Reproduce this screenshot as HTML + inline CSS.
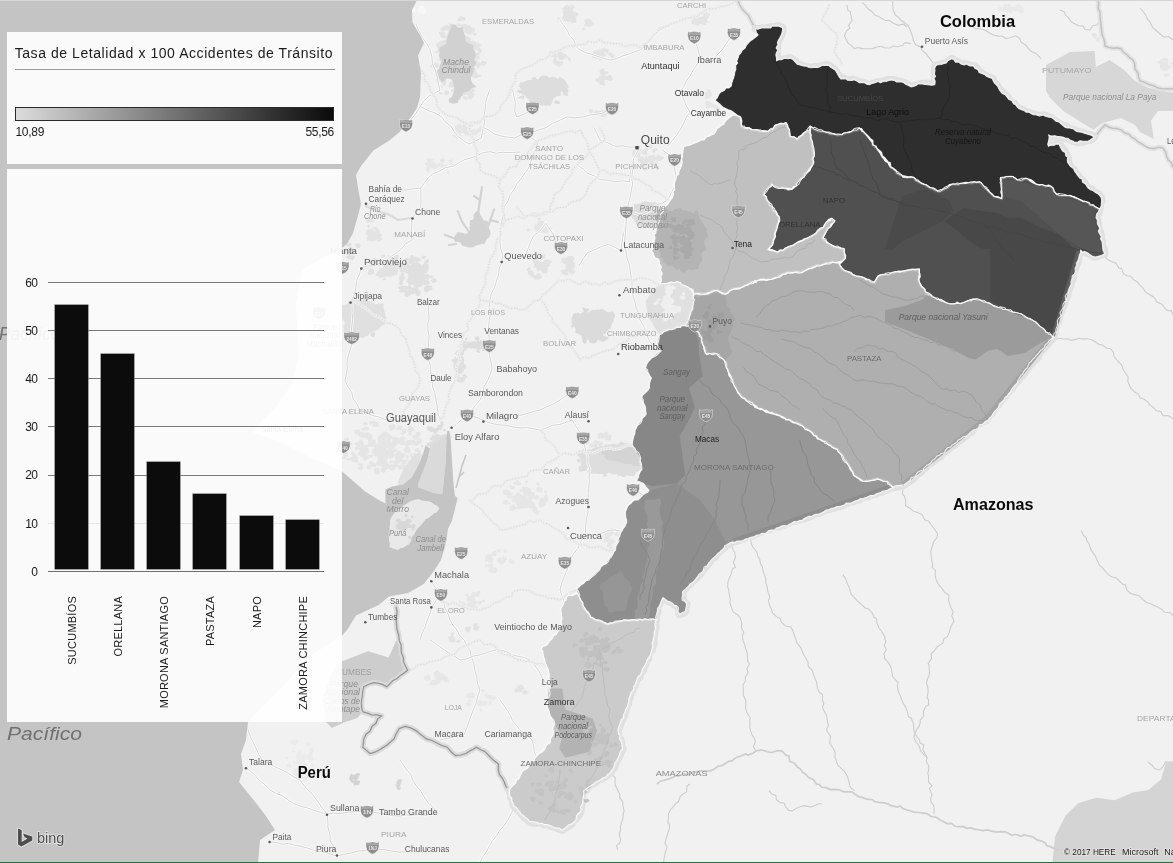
<!DOCTYPE html>
<html><head><meta charset="utf-8"><title>Mapa</title>
<style>
html,body{margin:0;padding:0;}
body{width:1173px;height:863px;overflow:hidden;position:relative;background:#c4c4c4;font-family:"Liberation Sans",sans-serif;}
.panel{position:absolute;background:rgba(255,255,255,0.915);}
.ttl{position:absolute;left:14.7px;top:44.8px;font-size:14px;letter-spacing:0.56px;color:#1c1c1c;white-space:nowrap;line-height:16px;}
.hr{position:absolute;left:15px;top:69px;width:319.5px;height:1px;background:#9a9a9a;}
.grad{position:absolute;left:15px;top:107px;width:317px;height:11.5px;border:1px solid #2a2a2a;background:linear-gradient(90deg,#dcdcdc 0%,#0a0a0a 100%);}
.lg{position:absolute;top:125px;font-size:12px;letter-spacing:-0.3px;color:#1a1a1a;line-height:14px;white-space:nowrap;}
.gl{position:absolute;left:47.9px;width:276.6px;height:1px;}
.yl{position:absolute;left:7.5px;width:30px;text-align:right;font-size:12px;letter-spacing:-0.5px;line-height:14px;color:#1a1a1a;}
.bar{position:absolute;width:33.6px;background:#0c0c0c;box-shadow:0 0 0 0.6px #6a6a6a;}
.cl{position:absolute;top:595.5px;font-size:11px;letter-spacing:0.23px;line-height:12px;color:#1a1a1a;white-space:nowrap;transform-origin:0 0;transform:rotate(-90deg) translate(-100%,-50%);}
#all{position:absolute;left:0;top:0;width:1173px;height:863px;filter:grayscale(1);}
</style></head><body>
<div id="all">
<svg font-family="Liberation Sans, sans-serif" width="1173" height="863" viewBox="0 0 1173 863" style="position:absolute;left:0;top:0">
<rect width="1173" height="863" fill="#f1f1f1"/>
<g id="terrain"><path d="M568.9,7.0 L567.8,7.9 L566.5,7.5 L564.8,6.7 L566.2,5.6 L567.7,5.5 L568.8,5.7 Z M578.5,14.0 L576.5,16.7 L572.5,16.5 L571.9,13.1 L574.0,11.7 L575.8,11.7 Z M569.8,13.4 L565.8,13.1 L564.3,8.5 L570.1,6.3 L572.7,10.5 Z M569.6,19.8 L564.9,21.6 L561.8,19.2 L562.7,16.2 L567.3,16.3 Z M571.5,4.6 L572.9,5.7 L574.6,5.9 L574.5,7.4 L573.2,8.9 L571.3,9.0 L571.3,7.3 L570.5,6.1 Z M566.9,14.5 L565.3,15.9 L563.2,14.5 L562.4,11.0 L566.1,12.4 Z M566.3,13.4 L568.4,10.6 L572.3,12.1 L571.4,15.2 L571.6,18.7 L567.5,18.1 L562.9,16.3 Z M559.9,18.6 L558.8,19.4 L557.0,19.3 L557.3,18.0 L558.6,17.3 Z M574.5,18.3 L576.7,19.1 L575.4,20.9 L574.0,21.4 L572.5,20.4 L571.5,19.2 L572.8,17.8 Z M568.5,22.3 L566.2,21.3 L567.8,19.5 L570.0,18.9 L569.8,21.0 Z M572.1,23.3 L569.8,21.0 L565.8,19.9 L568.6,16.9 L570.9,16.0 L574.0,16.6 L576.3,18.7 L576.4,21.9 Z M570.7,10.6 L566.3,11.1 L561.6,8.9 L565.4,5.7 L570.4,5.9 Z M570.3,8.4 L572.1,10.0 L572.5,12.1 L570.3,12.7 L568.1,10.5 Z M570.9,17.7 L567.5,16.2 L567.0,12.6 L569.0,10.7 L572.7,8.4 L573.5,12.4 L572.6,14.9 Z M568.7,10.0 L571.5,14.5 L567.8,18.7 L563.1,17.4 L562.9,13.6 L563.9,8.5 Z" fill="#e2e2e2"/>
<path d="M585.3,23.1 L588.5,19.7 L594.5,23.0 L590.7,26.8 L586.1,26.3 Z M591.6,20.0 L590.2,22.9 L588.0,24.0 L585.4,23.8 L584.0,20.2 L587.7,18.0 Z M592.6,24.9 L589.4,25.5 L587.7,27.3 L584.1,26.0 L584.4,23.5 L587.5,22.4 L588.9,21.8 L591.1,22.2 Z M583.8,29.9 L581.8,29.2 L582.6,27.7 L584.2,27.8 L585.9,29.0 Z" fill="#e4e4e4"/>
<path d="M555.2,57.8 L553.7,56.9 L554.0,55.2 L555.9,53.7 L556.9,56.0 L556.8,57.3 Z M562.7,64.8 L559.1,66.8 L555.6,65.5 L555.5,62.9 L556.9,60.9 L558.8,61.3 L563.1,61.7 Z M561.5,52.3 L563.8,55.6 L563.4,58.6 L560.0,58.2 L555.4,57.1 L558.0,53.2 Z M558.4,56.7 L559.6,52.3 L564.0,54.0 L568.8,56.7 L563.5,59.3 L559.4,60.6 Z M556.9,61.1 L554.2,61.5 L553.2,59.6 L554.5,57.1 L556.5,58.8 Z M550.7,51.1 L554.2,50.6 L556.7,53.2 L554.5,56.3 L551.2,57.3 L548.0,55.1 L549.0,52.5 Z M555.5,59.9 L559.1,60.9 L556.1,62.8 L554.7,64.7 L553.0,63.0 L552.6,61.2 L553.3,58.9 Z M561.7,55.7 L558.6,56.5 L557.3,54.0 L558.9,52.5 L560.8,52.9 Z M562.7,52.5 L561.5,55.5 L558.0,56.4 L557.1,53.1 L559.5,50.8 Z M566.2,56.4 L564.4,58.1 L562.5,59.9 L560.3,58.5 L558.6,55.9 L561.8,54.6 L563.8,55.4 Z M561.3,59.7 L559.8,57.3 L556.2,54.6 L560.3,52.7 L563.6,53.7 L566.6,54.2 L566.2,57.4 L563.5,58.5 Z M569.7,60.9 L568.2,60.3 L567.2,58.6 L568.8,57.3 L570.4,58.0 L570.5,58.9 L570.9,60.2 Z" fill="#e3e3e3"/>
<path d="M592.9,54.3 L595.4,53.3 L597.7,51.9 L601.0,52.9 L600.6,55.9 L599.0,58.3 L595.6,58.7 L593.6,56.5 Z M598.5,51.4 L600.8,52.6 L603.1,55.1 L600.4,57.6 L597.5,55.9 L596.9,54.0 Z M608.0,53.9 L605.4,52.8 L604.5,51.1 L605.0,49.1 L606.7,49.0 L609.1,49.0 L608.5,51.1 Z M608.2,52.5 L610.2,51.8 L611.3,53.2 L612.9,53.8 L612.1,55.2 L610.9,56.4 L609.3,55.8 L608.3,54.3 Z M598.5,53.8 L597.5,51.4 L597.9,49.3 L600.3,49.4 L603.7,50.3 L601.0,52.7 Z M599.7,58.2 L597.7,56.4 L598.4,54.6 L599.7,52.1 L602.0,53.3 L606.9,54.6 L603.7,57.4 L602.0,60.1 Z M597.8,56.9 L597.1,51.8 L603.7,51.9 L605.5,55.6 L603.9,58.6 L599.7,61.0 Z M611.5,58.9 L610.7,57.0 L610.0,55.5 L611.4,54.0 L613.7,53.9 L615.7,55.5 L613.6,57.1 L613.4,58.3 Z M595.6,55.9 L595.7,57.5 L594.4,57.9 L592.5,58.7 L592.0,56.9 L592.8,55.8 L594.2,54.8 Z M602.3,52.0 L602.0,50.4 L600.4,48.8 L602.7,48.6 L604.4,47.3 L605.9,48.8 L605.2,50.3 L604.5,52.0 Z M599.9,51.3 L598.5,55.4 L594.3,57.4 L592.0,53.6 L594.4,50.4 Z" fill="#e3e3e3"/>
<path d="M598.0,77.8 L599.0,80.0 L600.5,82.4 L597.2,82.3 L596.2,81.3 L596.1,79.9 Z M607.8,80.1 L605.2,80.0 L603.6,76.7 L607.6,75.8 L609.9,74.2 L611.7,76.2 L613.1,79.4 L610.4,81.6 Z M606.4,73.9 L604.3,74.2 L603.3,72.5 L605.2,71.5 L606.9,71.2 L609.6,72.7 Z M598.5,76.4 L602.0,75.6 L605.0,74.4 L606.9,77.1 L605.5,79.1 L604.4,80.4 L602.3,80.4 L598.8,79.9 Z M605.3,85.8 L601.7,85.0 L599.7,84.6 L599.5,83.2 L599.8,81.6 L601.7,80.6 L604.3,80.9 L604.5,83.3 Z M603.3,71.0 L604.3,73.3 L601.3,72.5 L598.9,70.6 L602.1,68.9 Z M598.9,81.1 L599.1,80.1 L600.5,80.2 L601.4,80.8 L601.0,81.8 L600.3,82.5 L598.9,82.5 Z M599.7,71.9 L602.3,71.2 L604.7,70.9 L606.3,72.5 L605.1,74.7 L602.7,75.8 L600.7,74.3 Z M600.1,77.2 L600.0,76.3 L601.3,75.8 L602.0,76.5 L602.5,77.5 L602.3,78.5 L601.0,78.4 L598.8,78.7 Z M603.3,71.9 L601.3,71.5 L601.2,69.9 L601.9,68.5 L603.3,68.4 L604.6,69.3 L604.0,70.4 Z M597.9,77.7 L598.4,79.8 L598.0,81.7 L595.5,81.3 L595.3,79.1 Z" fill="#e2e2e2"/>
<path d="M589.8,113.4 L589.2,111.5 L589.3,109.4 L592.3,109.1 L593.3,110.9 L593.1,112.3 L592.0,113.2 Z M609.0,112.4 L605.4,115.8 L603.2,117.2 L599.9,115.4 L598.8,113.5 L599.4,111.1 L602.0,110.3 L606.3,109.5 Z M597.3,111.0 L599.9,112.2 L598.3,114.7 L596.2,115.7 L594.9,114.0 L593.6,112.5 L594.9,110.5 Z M595.7,110.9 L597.6,110.1 L599.0,110.9 L599.8,112.6 L599.9,114.9 L597.3,114.6 L595.2,114.1 L594.9,112.4 Z" fill="#e3e3e3"/>
<path d="M536.2,93.4 L538.7,93.1 L539.8,94.5 L538.8,95.9 L537.8,96.1 L536.3,96.1 L536.1,94.9 Z M544.6,98.8 L541.0,100.4 L539.3,97.0 L539.9,92.4 L545.2,94.3 Z M536.4,78.2 L535.7,79.4 L534.0,79.7 L533.1,79.3 L531.0,78.3 L533.3,77.5 L533.9,76.7 L535.0,77.0 Z M555.6,85.6 L555.4,87.0 L555.6,88.6 L553.9,87.8 L552.1,87.9 L551.9,86.6 L553.1,86.0 L554.2,85.3 Z M560.3,90.4 L558.2,89.9 L557.4,87.9 L559.5,86.1 L562.0,86.7 L562.6,88.4 L563.0,90.7 Z M540.2,94.0 L542.5,92.2 L546.3,93.2 L544.4,96.9 L540.5,99.2 Z M532.6,81.8 L532.9,84.2 L529.6,84.5 L529.5,82.2 L531.0,81.0 Z M547.9,87.0 L551.4,86.5 L553.1,89.9 L550.5,92.3 L547.1,90.8 Z M556.6,85.3 L560.5,84.1 L560.8,87.7 L557.9,88.6 L554.9,88.0 Z M561.0,90.3 L559.1,89.2 L559.5,86.9 L561.6,85.9 L563.9,87.5 L563.6,89.4 Z M538.7,90.5 L537.6,92.1 L536.6,90.3 L534.0,88.7 L536.7,87.9 L538.2,88.3 L539.0,89.1 Z M551.6,102.3 L549.9,105.0 L547.7,103.4 L546.7,101.5 L549.4,100.5 Z M549.2,92.9 L543.3,95.4 L540.1,91.4 L541.3,86.9 L547.5,87.2 Z M559.1,100.9 L560.2,103.9 L556.5,104.1 L553.9,102.4 L556.1,100.2 Z M540.0,95.0 L538.3,98.5 L534.8,97.9 L533.2,94.1 L534.2,92.2 L536.2,88.2 L539.0,91.3 L541.2,93.1 Z M537.4,101.0 L539.8,101.2 L541.5,102.6 L539.8,103.9 L538.9,104.9 L537.1,104.4 L535.9,102.7 Z M557.1,94.6 L558.6,92.8 L560.6,93.4 L561.0,95.0 L560.4,96.4 L558.3,96.1 Z M552.6,94.1 L548.9,95.9 L546.8,93.4 L547.9,90.8 L551.7,90.2 Z M550.8,98.2 L553.1,99.3 L553.1,101.1 L550.9,101.7 L549.3,101.0 L548.0,99.1 Z M536.5,88.1 L541.6,88.9 L544.7,89.6 L549.8,92.4 L544.0,95.1 L540.4,94.9 L538.6,92.3 Z M551.5,87.9 L553.0,86.4 L554.3,85.2 L556.1,86.5 L556.8,88.1 L555.9,89.6 L554.0,90.9 L552.9,88.9 Z M526.7,88.5 L528.6,87.1 L532.0,87.7 L530.7,90.7 L527.6,90.6 Z M568.2,90.7 L567.6,93.6 L568.0,96.3 L565.0,95.4 L562.9,94.6 L563.3,92.5 L564.8,89.7 Z M523.1,92.0 L521.4,93.2 L519.3,93.1 L517.9,90.0 L521.8,90.0 Z M550.5,84.4 L554.0,85.5 L554.3,90.2 L549.7,89.4 L548.7,86.7 Z M521.5,92.4 L523.3,90.6 L525.1,90.1 L526.7,91.5 L527.4,92.8 L526.0,93.9 L524.5,95.1 L523.0,94.1 Z M555.2,85.4 L555.7,83.6 L556.7,81.7 L559.0,82.6 L560.8,85.3 L557.7,87.2 Z M542.8,105.0 L539.4,102.8 L540.6,98.9 L547.2,99.3 L547.2,104.0 Z M537.9,104.8 L536.9,106.0 L535.3,106.0 L535.0,104.9 L533.7,103.8 L535.0,103.0 L536.5,102.9 L537.3,103.5 Z M550.7,96.6 L549.8,100.5 L546.7,101.5 L543.0,102.0 L542.7,98.5 L545.2,95.0 Z M529.4,97.8 L527.0,95.1 L530.8,94.3 L532.3,95.8 L533.8,97.5 L532.5,99.0 L530.2,99.5 Z M528.3,94.8 L525.3,95.3 L523.5,94.9 L520.7,92.9 L523.1,91.2 L524.7,89.1 L526.4,91.3 L527.4,92.5 Z M523.8,88.5 L521.6,89.1 L520.0,87.3 L519.8,85.0 L522.8,84.0 L526.7,84.0 L526.3,87.4 Z M564.6,87.3 L564.0,89.0 L561.7,88.7 L559.9,87.8 L559.4,85.9 L560.2,83.9 L563.1,84.6 L566.7,85.2 Z M541.3,92.2 L540.0,94.1 L537.8,93.7 L536.1,92.3 L537.4,90.9 L539.5,90.7 Z M546.7,103.5 L545.5,103.9 L544.1,102.8 L544.9,101.7 L546.3,100.8 L547.1,102.3 Z M549.0,86.8 L544.9,88.2 L542.3,86.4 L540.7,84.7 L540.8,81.4 L545.3,81.3 L546.8,83.8 Z M543.3,92.5 L542.6,89.5 L546.8,87.9 L548.0,91.2 L550.4,95.9 L544.8,94.4 Z M547.7,80.4 L549.4,80.5 L549.7,82.3 L548.2,82.7 L546.1,82.0 Z M541.4,90.2 L543.6,90.2 L542.9,91.8 L543.0,93.0 L541.8,93.6 L540.0,93.7 L539.0,92.2 L539.1,90.5 Z M544.2,82.4 L541.5,81.9 L540.2,81.3 L538.2,79.9 L540.7,79.1 L541.8,78.6 L543.5,79.1 L544.9,80.5 Z M517.2,90.8 L518.6,89.7 L520.2,90.6 L519.6,92.2 L518.6,92.5 L517.7,92.0 Z M562.8,89.6 L563.9,89.2 L566.0,88.5 L565.9,90.9 L565.8,92.9 L562.8,92.8 L561.9,91.1 Z M543.1,96.0 L540.0,95.2 L537.9,93.6 L540.1,91.7 L541.7,90.8 L543.9,90.8 L544.9,92.0 L544.1,93.7 Z M566.4,87.5 L565.4,89.2 L563.4,88.4 L561.7,87.9 L561.8,85.8 L562.4,83.8 L565.7,83.3 L567.7,85.2 Z M542.7,94.3 L537.4,91.3 L539.4,87.3 L543.7,86.4 L546.5,90.3 Z M561.6,85.6 L561.5,88.5 L558.3,88.9 L556.2,90.2 L554.4,87.8 L554.7,85.8 L556.6,85.2 L558.5,84.9 Z M523.0,98.9 L521.1,98.3 L518.1,98.3 L519.7,96.6 L521.1,96.0 L523.4,95.3 L524.6,97.2 Z M537.7,95.3 L531.8,96.5 L529.4,92.4 L532.9,88.4 L536.1,88.9 L543.0,88.6 L539.7,92.9 Z M551.7,92.6 L554.7,92.9 L557.6,95.9 L553.5,98.3 L550.9,99.2 L547.7,98.3 L546.9,95.0 L548.8,92.9 Z M535.2,102.1 L531.1,103.3 L529.7,100.2 L529.3,97.4 L532.6,96.7 L534.6,98.5 Z M537.1,103.7 L537.2,102.7 L536.4,101.1 L538.7,101.3 L539.3,102.3 L539.7,103.1 L540.0,104.8 L537.7,104.8 Z M546.4,86.7 L549.4,83.1 L552.8,84.3 L554.8,87.5 L550.5,90.8 Z M531.3,81.1 L532.7,79.5 L534.3,78.2 L535.7,79.9 L537.2,81.5 L537.1,84.2 L533.3,85.6 L532.0,83.1 Z M538.2,104.2 L542.2,102.2 L545.4,101.6 L544.2,104.7 L542.3,105.7 Z M544.9,92.0 L542.6,88.7 L546.5,85.7 L549.3,87.9 L553.5,90.4 L548.9,92.4 Z M543.3,93.3 L540.8,94.5 L540.8,91.8 L542.2,90.3 L543.3,91.8 Z M552.8,91.3 L553.2,88.2 L555.9,86.9 L559.2,86.9 L558.7,89.6 L557.2,91.9 Z M534.9,91.3 L535.2,94.6 L533.0,96.5 L529.4,96.9 L529.1,93.4 L527.1,90.2 L530.1,88.0 L534.0,88.9 Z M566.4,87.7 L568.7,90.4 L566.8,93.7 L563.0,92.8 L561.7,88.8 Z M536.9,97.4 L534.3,98.7 L532.3,97.4 L531.7,95.8 L533.9,94.9 L536.9,95.1 Z M536.4,78.8 L538.2,80.4 L538.7,83.0 L535.6,82.9 L532.0,82.1 L532.3,78.9 Z M550.8,79.9 L550.6,78.2 L552.6,78.7 L554.9,80.5 L551.7,81.7 Z M551.8,103.5 L550.6,105.2 L548.4,105.8 L546.9,103.7 L547.2,102.2 L548.8,100.1 L550.8,101.3 Z M536.9,88.3 L533.8,88.9 L530.1,86.6 L534.6,85.1 L538.5,85.2 Z M533.5,97.8 L533.0,96.0 L535.5,95.7 L536.4,97.3 L535.3,99.5 Z M557.2,94.2 L555.4,94.2 L554.2,94.3 L553.3,93.6 L553.3,92.5 L554.0,91.0 L555.5,91.9 L557.8,92.5 Z" fill="#dcdcdc"/>
<path d="M471.6,27.4 L474.8,28.2 L474.5,30.8 L473.1,32.1 L471.1,31.8 L469.3,30.9 L469.5,28.5 Z M473.8,46.6 L471.8,45.8 L470.8,42.9 L472.7,40.6 L475.5,41.3 L476.3,42.9 L477.9,44.9 L476.3,47.8 Z M463.4,84.0 L464.5,85.9 L464.2,87.4 L462.3,89.1 L460.1,87.3 L460.9,85.1 Z M460.1,69.2 L457.9,71.2 L455.7,70.4 L452.9,68.8 L454.3,65.8 L457.2,64.2 L461.7,66.0 Z M465.3,56.9 L462.3,60.3 L458.8,60.1 L453.9,60.0 L455.4,56.5 L456.5,53.6 L460.4,54.7 Z M450.3,73.6 L448.0,72.3 L445.1,70.6 L448.3,69.4 L450.9,68.6 L452.3,71.1 Z M444.2,65.1 L442.6,61.1 L439.2,57.3 L445.4,55.8 L447.7,58.9 L447.0,62.3 Z M436.4,46.6 L436.3,43.6 L440.3,41.6 L442.3,45.4 L443.1,48.7 L438.6,48.6 Z M470.1,99.6 L467.5,96.8 L467.9,92.9 L473.1,93.7 L473.5,97.5 Z M456.6,30.7 L458.5,31.5 L458.6,33.6 L456.5,33.9 L454.9,32.4 Z M476.8,48.2 L476.5,50.1 L474.4,49.5 L473.1,48.5 L472.8,46.8 L474.8,46.4 L477.1,46.6 Z M469.1,46.0 L467.5,43.0 L468.5,41.1 L471.7,40.8 L473.1,43.8 Z M437.3,80.5 L435.9,79.3 L437.0,78.4 L438.2,78.0 L439.8,78.7 L438.8,79.9 Z M441.6,83.0 L441.6,81.3 L441.2,79.5 L443.7,79.3 L445.8,79.8 L446.9,81.8 L445.5,83.4 L443.2,83.9 Z M465.3,23.5 L467.2,24.7 L468.5,26.2 L468.9,28.9 L465.5,28.8 L462.3,29.0 L462.5,26.5 L462.6,23.9 Z M477.4,77.1 L477.5,75.6 L477.5,74.0 L479.4,74.6 L481.1,74.7 L481.7,76.1 L480.2,76.9 L479.0,77.1 Z M460.6,97.4 L460.0,99.4 L457.8,98.4 L457.0,97.5 L457.4,95.9 L459.3,95.9 Z M454.9,89.9 L453.8,91.1 L453.1,92.0 L451.5,92.0 L451.2,90.9 L451.4,90.0 L451.9,88.9 L453.5,88.8 Z M450.1,25.1 L451.2,25.2 L452.0,26.3 L451.2,27.4 L450.6,28.7 L448.5,28.2 L448.3,26.7 L448.7,25.1 Z M451.3,48.4 L448.1,49.2 L444.7,49.1 L443.9,45.9 L447.2,43.6 L452.3,44.9 Z M463.3,63.4 L468.0,63.6 L468.0,67.0 L465.1,69.3 L463.2,66.5 Z M468.5,43.4 L469.6,45.0 L468.0,46.4 L466.3,46.4 L465.6,45.6 L463.3,44.2 L465.9,43.1 L467.1,42.6 Z M453.7,44.4 L450.6,44.2 L452.7,42.1 L454.7,41.2 L454.8,43.3 Z M459.5,49.3 L462.6,47.9 L465.5,48.3 L464.4,50.7 L461.8,52.0 Z M455.5,96.7 L454.3,95.3 L455.0,94.0 L456.4,93.5 L458.4,94.5 L457.5,96.3 Z M465.7,66.9 L468.0,68.2 L468.3,70.6 L465.6,71.7 L464.2,69.2 Z M461.4,89.1 L465.6,90.8 L464.6,93.9 L462.3,96.5 L459.2,95.2 L457.5,94.7 L456.9,91.8 L457.6,89.2 Z M481.4,50.1 L478.4,51.1 L475.0,49.9 L477.1,47.0 L479.9,48.2 Z M460.0,61.8 L457.3,66.3 L450.9,65.3 L451.2,59.6 L456.9,57.4 Z M456.0,89.6 L457.4,88.3 L458.8,87.8 L460.3,88.2 L460.8,89.7 L460.2,91.5 L457.5,91.1 Z M453.2,81.1 L455.8,81.7 L458.1,82.4 L458.6,85.1 L456.6,86.6 L454.1,87.0 L452.1,86.2 L450.6,83.7 Z M460.0,23.6 L462.2,24.7 L460.3,26.4 L458.3,26.5 L456.1,25.0 L458.2,23.2 Z M442.9,85.9 L442.3,87.5 L440.6,87.8 L440.3,86.6 L440.9,85.5 Z M457.2,49.9 L457.1,47.5 L458.9,46.7 L460.7,47.4 L462.0,48.3 L462.6,50.0 L461.5,52.4 L458.7,50.7 Z M441.4,44.6 L444.8,42.8 L447.3,45.0 L448.1,49.0 L442.9,49.1 Z M474.6,78.0 L471.8,77.0 L469.0,76.2 L470.2,73.3 L472.2,72.1 L474.7,73.7 L474.7,75.4 Z M454.6,36.1 L454.1,37.8 L453.3,39.3 L451.3,38.9 L450.5,37.6 L451.5,36.4 L452.6,36.3 Z M474.1,73.2 L472.0,74.4 L470.4,72.0 L470.1,70.2 L472.0,68.5 L475.0,67.5 L475.9,70.2 L476.5,72.3 Z M481.3,65.2 L480.9,62.7 L482.6,60.4 L487.3,62.2 L484.3,66.1 Z M452.8,41.7 L456.1,40.4 L459.2,39.6 L461.1,42.3 L459.5,44.9 L456.7,45.2 L453.1,44.5 Z M477.8,68.7 L476.9,66.7 L477.9,65.7 L480.3,65.4 L479.5,67.4 Z M461.5,89.0 L468.4,90.7 L466.4,94.9 L462.1,94.7 L461.0,92.8 Z M447.2,52.8 L446.1,56.1 L443.3,58.5 L439.8,57.0 L440.3,53.0 L443.6,50.6 Z M446.1,36.0 L446.9,35.9 L448.3,35.9 L448.3,37.3 L447.6,38.6 L446.1,39.1 L445.2,37.8 L444.2,36.4 Z M459.4,50.3 L456.6,48.3 L458.3,45.3 L462.1,44.9 L462.3,48.3 Z M441.3,92.2 L442.4,92.6 L442.8,93.9 L441.7,94.6 L439.8,94.6 L438.9,92.8 Z M457.1,89.6 L455.5,88.5 L454.3,86.3 L457.8,86.1 L459.4,85.8 L462.0,87.0 L461.5,89.2 L459.1,90.7 Z M471.9,87.6 L473.8,88.4 L474.1,89.7 L475.1,91.5 L472.4,92.3 L470.0,91.7 L470.5,90.0 L469.2,88.1 Z M456.4,40.6 L454.8,40.4 L453.0,39.9 L453.7,38.2 L455.1,37.6 L456.5,37.2 L457.1,38.9 Z M477.9,63.5 L479.0,65.3 L477.1,66.6 L474.4,66.7 L473.6,64.7 L474.7,63.0 L476.4,62.4 Z M462.7,62.9 L463.4,66.2 L459.8,68.0 L454.6,67.3 L455.0,63.2 L458.3,60.6 Z M461.6,62.3 L458.7,62.7 L457.3,61.4 L454.8,59.9 L457.7,59.1 L459.2,58.8 L461.2,59.9 Z M446.3,35.3 L448.2,31.9 L451.5,32.9 L452.2,35.3 L451.4,37.2 L448.6,37.1 Z M453.7,82.6 L451.9,83.2 L452.3,81.6 L451.2,80.1 L453.0,80.2 L454.0,80.2 L455.0,80.9 L455.2,82.4 Z M450.2,67.4 L450.6,70.9 L445.9,70.4 L445.3,68.2 L447.0,65.2 Z M468.5,24.6 L469.8,25.6 L471.9,27.9 L468.5,28.6 L467.1,29.6 L465.7,28.6 L464.9,26.8 L466.7,25.7 Z M470.1,71.0 L472.7,70.8 L475.1,73.5 L474.2,76.3 L470.8,76.9 L468.9,75.2 L468.5,73.3 Z M459.8,28.6 L457.5,30.1 L455.7,32.3 L453.7,30.1 L453.7,28.4 L455.3,27.2 L457.7,26.5 Z M449.1,91.7 L448.6,94.3 L446.7,95.3 L444.7,94.1 L444.1,92.2 L446.4,90.3 Z M442.7,31.2 L440.6,30.4 L440.7,28.6 L441.6,27.2 L442.8,26.7 L444.5,27.5 L445.2,28.7 L444.9,30.6 Z M470.4,92.9 L467.8,94.2 L465.4,92.3 L466.8,90.6 L467.8,89.5 L470.7,88.7 L471.3,91.0 Z M476.3,43.4 L479.2,43.0 L481.4,45.6 L478.2,47.5 L476.6,45.7 Z M463.9,31.5 L464.9,29.1 L466.4,27.5 L468.2,28.7 L469.6,29.9 L469.8,32.0 L466.7,32.3 Z M464.0,54.3 L461.0,55.6 L459.6,52.5 L462.3,49.9 L464.9,50.7 L467.0,53.2 Z M464.9,39.0 L466.0,41.7 L464.1,44.6 L461.0,45.1 L458.5,43.9 L455.6,41.5 L459.4,39.8 L461.2,36.9 Z M455.0,101.3 L454.0,104.1 L451.6,103.9 L450.3,102.2 L452.1,100.8 Z M464.3,85.6 L468.0,86.4 L465.6,88.6 L462.3,89.8 L461.3,86.9 Z M471.2,89.9 L471.6,92.2 L471.8,94.8 L468.8,94.6 L467.7,93.7 L465.6,91.6 L468.0,90.7 Z M448.5,57.1 L447.7,54.8 L449.8,54.1 L451.7,55.5 L450.8,57.6 Z M444.1,45.5 L443.4,43.1 L443.3,39.7 L447.4,40.1 L448.8,42.7 L448.2,44.6 L446.8,47.5 Z M453.3,59.0 L456.2,56.7 L462.2,56.9 L459.2,61.0 L455.3,62.1 Z M442.2,43.0 L443.3,40.7 L446.8,39.4 L447.9,42.4 L445.6,44.8 Z M463.8,57.1 L461.7,62.0 L457.2,63.2 L452.6,62.2 L451.3,58.3 L454.4,56.1 L458.7,55.4 Z M474.1,31.0 L472.5,33.4 L470.0,34.1 L468.0,34.3 L464.2,31.9 L467.7,29.7 L470.8,29.3 Z M451.6,78.3 L452.2,76.4 L453.6,75.1 L455.1,76.8 L455.9,77.7 L457.7,79.7 L454.5,79.4 L453.6,79.0 Z M481.9,49.7 L481.8,51.5 L480.7,53.8 L478.4,52.7 L478.1,51.3 L477.3,49.3 L479.6,48.3 Z M470.4,57.3 L467.5,58.8 L466.7,56.4 L468.2,54.9 L469.9,55.6 Z M447.2,55.3 L446.4,52.4 L448.9,48.4 L452.8,51.4 L454.5,55.1 L450.6,57.8 Z M476.7,52.4 L479.9,53.6 L478.4,56.0 L476.9,56.3 L475.1,56.3 L473.7,53.9 Z M455.4,30.8 L452.1,33.6 L448.6,32.7 L448.4,28.9 L451.8,27.6 Z M469.4,54.8 L474.6,56.3 L472.4,61.3 L468.7,60.0 L467.5,57.5 Z M445.0,56.1 L443.6,58.2 L440.3,59.5 L440.1,55.6 L442.7,54.3 Z M460.1,49.9 L459.2,47.3 L460.5,44.8 L463.6,44.7 L467.3,45.0 L466.1,48.7 L463.4,49.9 Z M445.2,62.8 L443.1,60.4 L445.8,57.8 L449.4,57.9 L455.1,60.3 L452.1,63.8 L447.6,65.6 Z M463.5,66.4 L459.9,71.1 L454.2,69.4 L452.5,63.0 L459.0,63.5 Z M457.8,80.2 L460.3,81.6 L461.0,85.9 L455.5,85.2 L453.6,81.3 Z M466.6,99.7 L464.0,99.7 L462.8,97.4 L464.8,96.3 L466.4,96.7 L468.6,98.1 Z M479.0,77.1 L475.1,78.5 L473.3,76.6 L472.8,74.0 L475.2,71.6 L478.4,73.9 Z M448.2,31.3 L446.6,30.5 L443.5,27.9 L447.5,26.3 L450.4,25.4 L453.4,28.0 L452.0,30.6 L450.4,31.8 Z M481.4,49.9 L482.2,51.4 L480.6,52.2 L478.9,52.8 L478.0,51.5 L478.1,50.2 L479.7,49.6 Z M448.9,84.2 L449.5,82.2 L451.8,81.2 L454.5,83.2 L454.6,85.6 L452.2,87.6 L449.7,87.8 L448.6,85.9 Z M464.1,35.5 L465.9,35.1 L467.0,36.2 L467.5,37.9 L465.0,38.5 L463.4,36.9 Z M477.9,61.3 L478.4,63.5 L476.5,63.2 L474.8,63.1 L473.6,61.7 L474.8,60.2 L476.0,59.7 L477.4,60.3 Z M458.5,56.0 L456.1,56.4 L455.6,54.8 L456.3,53.6 L457.9,52.9 L459.9,54.2 Z M475.3,56.5 L477.4,55.5 L479.6,56.3 L479.9,58.4 L477.6,60.1 L475.8,58.4 Z M452.3,81.3 L450.9,78.4 L454.4,76.3 L457.4,77.7 L457.9,80.9 L456.7,83.5 L452.8,84.3 Z M453.0,59.9 L456.8,60.3 L457.8,62.9 L457.3,65.6 L453.9,64.6 L452.5,62.8 Z M461.3,99.5 L460.5,100.0 L459.6,100.7 L459.1,99.5 L459.2,98.5 L460.1,98.5 L461.0,98.7 Z M467.5,58.7 L470.5,59.9 L471.0,63.4 L466.6,64.3 L465.3,60.9 Z M457.7,39.9 L455.5,37.9 L454.5,36.1 L455.0,33.7 L458.0,33.7 L459.4,34.5 L460.7,36.3 L460.6,38.9 Z M453.6,27.6 L451.1,27.2 L448.8,26.0 L449.4,23.2 L452.8,24.2 L454.4,25.5 Z M436.3,68.4 L431.4,67.2 L431.2,63.3 L435.6,62.5 L438.2,63.1 L439.1,66.3 Z M458.6,61.6 L460.9,59.1 L463.4,59.7 L464.5,60.3 L467.8,61.6 L464.8,63.1 L463.3,64.6 L460.1,63.8 Z M473.2,92.5 L474.0,96.7 L469.0,97.5 L467.8,94.7 L469.8,93.0 Z M442.2,76.7 L440.3,75.8 L440.9,73.6 L443.9,73.5 L444.0,75.7 Z M443.0,30.9 L445.1,33.5 L445.7,35.3 L444.8,38.2 L441.2,37.8 L440.1,35.3 L438.5,32.2 Z M447.5,30.6 L446.1,28.8 L446.6,26.3 L450.0,26.2 L451.0,28.8 L452.3,31.8 L448.7,31.3 Z M460.8,71.4 L459.0,73.1 L456.3,74.1 L453.6,72.2 L454.8,70.1 L455.6,68.6 L457.8,68.5 L459.7,69.2 Z M439.4,59.2 L440.3,57.9 L441.5,57.4 L443.2,57.5 L443.8,58.6 L443.5,59.8 L442.4,61.3 L440.8,60.4 Z M468.3,74.3 L467.0,78.0 L462.6,78.6 L460.5,77.0 L459.6,75.0 L458.1,72.1 L461.6,70.5 L464.0,72.0 Z M466.4,47.5 L462.5,49.0 L458.8,48.0 L455.9,44.7 L460.4,42.9 L464.0,41.4 L468.0,44.2 Z M454.6,70.2 L458.0,68.4 L458.1,71.8 L455.8,73.7 L452.8,72.8 Z M437.6,70.9 L438.1,71.5 L439.1,72.5 L437.6,73.5 L436.2,73.1 L435.7,71.7 L436.7,71.2 Z M463.6,59.6 L461.6,56.8 L463.1,54.2 L466.0,54.6 L467.5,55.4 L468.6,57.4 L466.3,58.2 Z M441.8,83.3 L443.5,82.7 L445.5,82.8 L445.3,84.4 L444.3,86.2 L442.5,84.8 Z M448.7,68.3 L452.2,65.3 L455.1,68.2 L453.7,70.6 L451.4,70.6 Z M458.2,33.1 L459.5,33.8 L460.1,34.5 L459.6,35.5 L458.7,36.1 L457.7,35.3 L457.5,34.0 Z M450.2,54.6 L450.3,52.8 L451.2,49.5 L455.7,50.4 L458.3,53.6 L456.3,57.2 L451.6,57.7 Z M461.5,60.3 L458.4,64.0 L454.4,62.8 L451.5,58.5 L456.9,58.2 Z M478.6,66.2 L476.1,65.4 L477.7,63.7 L478.2,62.0 L479.7,62.8 L480.7,63.5 L483.1,64.9 L480.2,65.5 Z M476.1,35.3 L475.1,35.2 L473.6,35.6 L472.9,34.2 L474.0,33.1 L475.0,33.0 L476.0,33.3 L476.7,34.1 Z M460.8,26.5 L461.6,24.5 L464.3,25.2 L464.5,27.9 L461.3,28.5 Z M436.4,50.5 L437.9,50.5 L438.7,51.4 L438.5,52.6 L437.4,53.0 L435.9,53.9 L436.1,52.6 L434.7,51.4 Z M470.4,31.5 L470.5,29.7 L472.0,28.4 L473.9,28.9 L474.9,30.2 L474.0,31.9 L472.6,31.7 Z M462.7,68.4 L460.3,70.4 L458.7,67.6 L460.5,66.0 L463.5,65.3 Z M446.7,43.5 L445.8,42.2 L446.1,41.1 L447.3,40.3 L449.1,40.5 L449.0,42.1 L448.2,43.1 Z M447.0,63.6 L445.4,60.4 L446.0,57.7 L448.9,58.6 L449.7,61.0 Z M436.6,78.3 L439.5,78.7 L439.9,81.9 L437.1,83.5 L435.5,80.8 Z M459.7,15.2 L462.2,16.8 L466.0,17.6 L464.6,20.4 L461.9,20.4 L459.2,21.5 L456.4,19.9 L459.6,17.7 Z M451.6,41.9 L451.1,43.2 L449.7,45.0 L447.8,43.7 L447.2,41.7 L448.1,40.0 L450.9,39.9 Z M461.1,64.3 L460.8,68.2 L461.3,72.2 L455.4,73.3 L450.3,70.5 L448.7,66.6 L453.2,63.1 L457.4,62.3 Z M458.9,64.4 L460.6,62.4 L462.7,62.1 L465.3,62.0 L464.5,64.1 L465.4,66.1 L463.1,66.1 L461.7,65.8 Z M452.4,41.4 L454.8,39.2 L459.2,41.0 L457.5,44.5 L452.6,45.2 Z M430.4,64.7 L431.7,64.2 L433.0,63.7 L434.4,64.9 L435.4,66.4 L433.5,68.0 L431.4,67.6 L429.7,66.5 Z M456.2,61.0 L454.2,60.5 L452.1,59.3 L454.0,57.5 L455.7,57.7 L457.1,58.9 Z M454.5,67.3 L452.6,65.8 L454.1,64.4 L456.4,64.2 L456.8,66.3 Z M452.2,64.2 L453.9,65.1 L453.6,66.7 L451.6,66.8 L449.6,65.0 Z M443.3,57.5 L445.9,60.0 L442.2,61.1 L440.4,61.2 L438.1,60.1 L439.3,58.2 L441.2,57.3 Z M437.5,43.8 L438.7,42.4 L439.7,41.0 L442.5,40.7 L443.1,43.2 L442.5,45.6 L439.0,46.3 Z M459.2,68.3 L456.7,69.9 L454.1,71.2 L451.4,70.1 L451.8,66.6 L453.9,64.3 L457.1,65.9 Z M467.2,94.3 L470.4,92.5 L472.8,92.5 L474.5,93.8 L473.9,96.5 L472.0,98.4 L469.4,96.4 Z M463.9,57.2 L462.7,56.3 L460.6,55.8 L460.1,53.7 L463.1,53.7 L464.4,54.0 L467.5,54.6 L465.4,56.4 Z M445.6,48.8 L446.0,50.0 L444.2,50.4 L443.2,49.7 L443.1,49.1 L442.9,48.3 L443.9,47.8 L445.0,48.0 Z M449.1,72.2 L450.9,73.3 L449.5,74.9 L448.0,74.0 L446.7,72.0 Z M442.7,26.8 L444.8,25.6 L447.8,24.7 L447.9,27.1 L448.7,30.2 L445.4,29.7 L443.6,28.9 Z M471.5,38.8 L469.3,42.2 L465.7,41.7 L464.3,40.0 L464.6,37.1 L467.9,36.3 Z M444.0,48.7 L448.1,49.5 L445.3,52.5 L442.5,53.3 L440.4,50.0 Z" fill="#e3e3e3"/>
<path d="M414.0,11.8 L411.4,13.4 L410.2,11.5 L410.6,10.3 L412.3,9.9 Z M425.5,12.4 L424.5,14.0 L421.7,13.9 L421.6,11.0 L424.4,10.1 Z M421.4,7.7 L424.6,7.8 L426.1,9.8 L424.9,11.6 L423.5,12.1 L421.1,11.8 L420.5,9.9 Z M414.8,12.5 L411.6,12.2 L409.8,10.4 L411.2,7.5 L415.6,8.3 Z M422.1,12.6 L417.9,13.4 L417.7,10.2 L419.1,6.8 L423.2,5.4 L425.3,8.7 L426.4,11.9 Z" fill="#f7f7f7"/>
<path d="M705.7,22.8 L706.2,24.4 L704.1,24.9 L703.2,25.0 L702.2,24.7 L701.4,23.3 L702.7,22.5 L704.0,22.8 Z M704.9,17.6 L706.3,19.5 L705.6,21.6 L703.7,22.8 L701.7,21.3 L699.6,19.9 L700.9,18.0 L703.1,16.6 Z M710.7,14.6 L706.7,18.3 L703.6,15.7 L701.8,12.1 L706.5,12.5 Z M691.2,23.8 L692.4,17.9 L699.2,18.7 L701.4,21.8 L698.8,25.7 Z M702.7,23.4 L701.1,23.9 L699.7,23.7 L697.1,22.6 L699.0,20.7 L701.1,20.5 L703.1,21.5 Z M702.4,24.1 L699.0,21.7 L695.8,20.3 L695.5,16.5 L700.3,16.7 L702.7,17.1 L705.0,18.6 L708.3,22.4 Z M702.3,21.3 L703.7,19.9 L707.2,19.7 L705.7,22.3 L703.2,24.2 Z M698.5,17.5 L700.3,18.5 L700.8,19.9 L700.0,21.4 L698.3,21.1 L697.3,19.4 Z M704.7,14.5 L708.2,14.7 L708.8,17.5 L706.4,20.6 L702.0,17.9 Z M700.6,18.3 L702.7,19.0 L703.0,21.6 L701.5,23.2 L699.1,24.0 L697.2,22.0 L697.8,19.9 L698.8,18.1 Z M703.7,18.9 L702.5,17.7 L702.5,16.2 L704.1,14.9 L705.9,15.4 L706.8,16.9 L706.5,18.2 L705.4,19.5 Z" fill="#e4e4e4"/>
<path d="M707.8,91.4 L706.7,89.1 L709.6,89.5 L711.0,90.7 L709.4,91.8 Z M712.1,105.5 L709.3,108.7 L705.5,106.3 L705.8,103.9 L710.3,101.9 Z M720.6,101.5 L719.2,102.6 L717.6,103.1 L717.9,101.5 L718.9,100.2 Z M709.2,107.6 L706.6,104.8 L709.7,102.1 L712.5,103.0 L715.8,105.2 L712.5,107.6 Z M715.1,104.4 L711.1,106.6 L708.4,108.6 L705.5,107.8 L705.2,103.9 L707.7,103.1 L710.4,103.0 Z M707.2,98.6 L706.3,98.6 L704.7,97.9 L706.0,96.8 L707.0,96.6 L707.6,97.0 L708.3,97.6 L708.1,98.8 Z M709.0,98.0 L705.3,96.3 L705.1,92.3 L708.7,91.1 L712.2,92.3 L712.1,95.7 Z M713.5,108.7 L713.7,106.7 L715.5,105.4 L717.5,106.5 L720.0,107.5 L718.4,109.8 L717.2,111.6 L715.2,110.1 Z M705.0,103.7 L704.7,101.9 L706.1,101.0 L707.3,100.7 L708.3,101.3 L709.7,102.6 L708.6,103.9 L706.6,104.6 Z" fill="#e6e6e6"/>
<path d="M642.0,162.5 L643.5,160.6 L643.0,158.8 L645.7,158.2 L647.8,159.0 L647.2,161.1 L646.9,162.5 L644.7,163.1 Z M649.0,158.9 L648.3,161.7 L646.1,162.9 L643.2,161.5 L644.8,159.3 L646.3,158.1 Z M647.7,150.8 L646.2,150.9 L644.8,149.5 L645.8,148.1 L647.7,148.3 L648.3,149.5 Z M644.6,160.4 L647.0,160.4 L648.5,163.2 L646.5,164.6 L644.7,167.2 L642.4,165.0 L641.0,163.2 L642.4,161.1 Z M644.1,157.4 L642.9,159.3 L641.7,160.3 L640.1,159.3 L638.7,158.2 L640.2,156.8 L642.0,156.2 Z M645.7,161.0 L647.1,162.3 L647.3,164.9 L644.5,164.9 L642.1,164.9 L639.9,161.5 L643.4,159.3 Z M643.0,157.4 L646.8,158.9 L644.9,162.1 L642.5,163.9 L638.7,162.6 L637.4,159.3 L639.9,156.7 Z M643.0,158.3 L645.6,159.0 L647.0,160.2 L648.8,162.1 L645.3,162.6 L644.0,163.5 L642.8,162.0 L641.1,160.6 Z M658.6,158.7 L653.0,161.7 L647.4,161.0 L648.0,156.3 L653.7,154.9 Z M647.4,155.2 L643.5,154.6 L641.2,151.1 L645.3,149.6 L647.0,151.4 Z M655.1,147.9 L656.7,148.5 L658.0,150.1 L655.7,151.3 L653.7,150.8 L653.7,148.8 Z M633.1,150.1 L637.4,151.9 L636.4,154.7 L632.6,157.3 L632.3,153.4 Z M658.3,154.6 L660.5,155.9 L664.3,157.2 L662.4,159.7 L660.4,161.0 L657.9,161.0 L655.2,159.5 L656.0,157.0 Z M654.5,149.0 L655.9,150.4 L655.4,151.6 L653.9,153.1 L652.3,151.9 L652.1,149.8 Z M639.6,151.8 L637.2,151.5 L636.5,149.8 L638.4,148.3 L640.1,148.8 L642.6,149.5 L640.3,150.9 Z M653.7,163.9 L650.3,164.9 L648.4,162.6 L650.0,160.1 L652.5,161.4 Z M659.4,168.3 L658.9,170.0 L656.7,170.0 L655.9,168.6 L654.7,166.9 L657.2,165.4 L659.4,166.7 Z M645.0,157.7 L645.0,156.7 L646.5,155.8 L647.8,156.9 L647.5,158.2 L647.2,159.7 L645.7,160.0 L643.9,159.0 Z M640.5,151.8 L640.6,154.8 L639.7,156.5 L637.6,157.8 L632.8,157.0 L634.9,153.8 L637.6,151.6 Z M650.8,160.9 L648.4,160.3 L648.9,157.8 L651.4,157.9 L653.3,160.0 Z M636.9,156.6 L636.0,154.6 L637.8,153.5 L639.9,153.7 L640.6,155.5 L638.9,156.4 Z M649.2,144.7 L652.0,145.5 L652.3,147.6 L650.4,148.7 L648.8,148.1 L647.4,146.2 Z M650.8,163.4 L651.5,162.2 L652.4,161.1 L653.3,162.3 L656.2,163.1 L655.1,165.1 L652.8,165.9 L650.8,165.1 Z M652.3,164.1 L649.7,164.1 L648.3,162.6 L649.7,161.4 L651.2,160.9 L651.8,162.3 Z M643.2,154.8 L641.0,152.8 L643.0,150.8 L645.9,149.2 L646.7,151.8 L647.3,154.5 Z M646.9,168.0 L646.8,169.6 L645.7,170.6 L644.5,170.4 L642.3,169.3 L644.5,168.3 L645.4,167.3 Z M631.4,159.2 L632.9,159.5 L633.6,160.4 L634.8,161.7 L632.9,162.4 L631.6,162.2 L630.8,161.5 L631.3,160.5 Z M657.2,161.2 L657.6,163.5 L656.7,165.8 L653.8,165.5 L652.1,163.3 L654.8,162.2 Z M633.0,165.9 L631.2,165.4 L631.3,163.6 L632.9,163.3 L635.8,163.2 L635.0,165.5 Z" fill="#e3e3e3"/>
<path d="M465.7,134.3 L464.4,131.5 L467.2,130.1 L469.0,131.5 L468.7,134.1 Z M454.3,132.6 L458.2,133.1 L460.5,134.1 L461.7,137.4 L456.7,138.8 L452.5,136.4 Z M463.5,127.6 L464.5,128.8 L467.3,131.0 L464.0,133.3 L460.6,132.1 L457.4,130.0 L460.6,127.5 Z M462.7,127.7 L461.6,125.8 L463.3,124.2 L465.7,124.6 L466.3,126.7 L465.0,129.2 Z M480.4,123.6 L479.4,124.4 L478.6,123.8 L478.1,123.3 L477.4,122.4 L478.2,121.4 L479.7,121.5 L480.7,122.5 Z M466.1,129.6 L469.0,132.0 L465.2,133.6 L462.4,132.6 L462.3,130.2 L463.8,128.0 Z M478.7,124.4 L476.6,124.7 L475.4,123.8 L474.9,122.4 L477.0,121.8 L478.5,122.7 Z M477.8,132.1 L476.8,128.9 L479.5,127.5 L481.9,124.9 L482.4,128.3 L482.8,130.2 L481.5,131.6 Z M464.6,122.1 L462.0,123.7 L460.5,122.4 L460.6,120.6 L462.7,119.6 Z M457.9,130.7 L454.4,126.6 L458.8,124.0 L461.8,124.9 L462.5,128.3 Z M460.6,126.6 L464.2,124.1 L468.4,128.3 L465.1,131.1 L460.4,133.7 L459.1,129.5 Z M473.8,121.6 L475.5,122.4 L475.8,124.4 L472.8,125.1 L470.8,122.9 Z M471.6,133.6 L468.6,134.5 L465.7,136.1 L463.8,132.9 L464.9,129.7 L468.6,130.4 L470.2,131.6 Z M459.3,132.0 L458.6,134.3 L458.0,136.0 L455.5,136.7 L453.5,134.2 L454.3,131.3 L457.1,130.2 Z M483.5,132.9 L484.3,133.5 L484.1,134.8 L482.4,135.0 L481.8,133.9 L482.5,132.9 Z M472.2,130.9 L471.8,133.1 L471.9,135.2 L469.0,136.5 L467.6,134.3 L467.3,132.2 L469.3,131.5 Z M466.9,125.6 L467.3,123.0 L470.0,121.7 L472.5,121.1 L474.6,123.6 L474.0,125.8 L471.9,127.1 L469.7,126.5 Z M471.5,134.2 L470.0,130.0 L474.4,129.3 L479.2,131.8 L475.1,135.2 Z M460.5,133.2 L456.4,131.8 L455.3,127.8 L459.9,127.0 L461.7,130.1 Z" fill="#e6e6e6"/>
<path d="M448.9,160.2 L450.8,159.2 L453.1,159.6 L452.7,161.5 L451.2,163.1 L448.6,162.1 Z M448.9,173.3 L447.9,173.6 L446.6,172.9 L446.2,170.8 L448.5,171.0 L449.2,172.0 Z M427.2,162.9 L429.0,163.4 L428.9,164.8 L427.4,165.6 L426.2,165.3 L424.7,164.6 L425.3,163.5 L425.7,161.9 Z M433.4,165.7 L430.8,165.0 L430.9,162.7 L433.2,161.9 L434.4,163.2 L435.0,164.4 Z M432.6,161.4 L437.6,164.3 L435.8,169.4 L431.4,168.1 L428.9,164.7 Z M445.3,168.1 L441.1,167.9 L443.5,165.4 L445.8,164.5 L448.7,166.9 Z M434.9,167.3 L433.8,166.0 L433.7,163.8 L436.5,164.0 L438.9,164.3 L438.8,166.5 L437.1,168.6 Z M444.2,164.3 L442.4,166.3 L441.3,167.2 L439.8,167.1 L439.0,166.2 L437.4,164.8 L439.5,163.2 L441.4,163.5 Z M429.8,163.8 L429.6,164.8 L429.2,165.8 L428.3,165.1 L427.4,164.4 L427.5,163.3 L429.1,162.6 Z M437.9,171.8 L438.4,170.5 L438.4,169.7 L439.6,169.5 L440.7,169.9 L440.6,171.0 L439.6,171.8 Z M452.9,163.4 L454.1,164.2 L453.0,165.4 L452.1,165.6 L450.2,165.6 L449.2,164.0 L451.7,163.3 Z M444.9,162.0 L441.6,163.0 L440.1,161.2 L439.7,159.6 L440.9,158.4 L443.2,158.0 L444.7,159.5 Z M431.8,158.5 L434.0,160.1 L431.1,161.7 L430.0,163.5 L427.9,162.8 L427.1,160.9 L426.4,158.7 L429.3,158.8 Z M426.2,168.2 L427.4,165.3 L430.1,165.9 L430.0,169.0 L430.1,170.7 L428.6,172.6 L426.6,171.8 L425.4,169.8 Z" fill="#e7e7e7"/>
<path d="M408.7,274.6 L410.2,274.1 L411.4,275.3 L410.7,276.7 L410.1,277.4 L409.0,277.3 L408.2,276.7 L407.5,275.7 Z M416.4,282.2 L418.9,282.4 L423.3,281.7 L421.8,284.7 L420.6,287.1 L418.4,287.2 L417.2,286.1 L413.2,284.3 Z M427.4,261.1 L429.4,261.7 L427.9,263.3 L426.0,263.3 L424.1,262.1 L425.7,260.3 Z M419.7,279.8 L418.7,281.7 L416.9,281.9 L414.4,281.0 L413.8,278.9 L416.6,278.1 L417.9,278.0 L418.7,278.6 Z M419.0,261.7 L417.4,262.6 L415.9,261.6 L412.8,259.7 L415.1,257.7 L417.8,257.5 L420.1,258.4 L421.4,260.3 Z M418.8,262.8 L417.1,266.5 L416.5,269.2 L413.2,270.0 L411.0,268.5 L407.7,266.0 L412.0,264.6 L413.6,261.6 Z M398.5,277.4 L402.3,273.9 L405.5,277.3 L403.9,280.8 L399.8,281.2 Z M424.1,278.1 L425.7,279.2 L424.7,281.4 L421.7,281.4 L421.2,279.4 L422.2,277.7 Z M419.7,280.2 L416.1,281.5 L413.6,281.8 L412.6,279.9 L411.0,277.9 L412.6,276.0 L415.9,274.9 L417.0,277.5 Z M419.4,284.4 L419.6,282.7 L421.1,282.6 L423.2,282.8 L423.0,284.5 L422.1,286.6 L420.2,285.5 Z M426.2,259.6 L428.2,259.1 L428.8,260.1 L429.2,261.1 L429.0,262.1 L427.8,262.6 L425.2,262.7 L425.6,260.8 Z M412.4,258.3 L413.8,256.8 L415.2,256.5 L416.7,257.3 L416.7,259.1 L414.4,259.0 Z M415.8,268.1 L419.4,268.5 L418.1,271.7 L416.4,274.6 L411.7,273.1 L412.5,269.5 Z M424.2,267.7 L421.1,270.9 L418.0,271.2 L416.3,268.5 L416.2,265.1 L420.5,265.2 Z M422.0,265.1 L425.8,261.8 L428.6,265.1 L428.8,269.1 L424.8,269.4 Z M424.2,275.1 L426.7,273.8 L428.1,275.3 L428.5,277.5 L429.0,280.3 L425.5,279.0 L423.0,278.6 L423.8,276.7 Z M402.7,269.1 L400.1,270.2 L397.9,267.7 L397.6,264.9 L400.7,263.1 L403.5,264.2 L404.2,267.4 Z M419.8,266.3 L423.6,267.4 L420.5,270.0 L421.4,272.7 L418.1,272.9 L416.6,270.7 L415.9,268.9 L417.2,266.7 Z M417.8,289.9 L420.8,290.7 L420.5,293.2 L419.7,295.9 L416.4,296.0 L414.9,293.1 L415.6,290.9 Z M405.7,268.2 L408.5,268.8 L410.6,271.8 L406.1,273.4 L403.5,270.4 Z M422.4,268.0 L421.7,270.6 L422.9,273.6 L419.3,273.9 L416.6,273.2 L413.5,271.3 L413.6,267.8 L418.6,267.5 Z M424.9,286.2 L427.9,285.2 L431.7,285.8 L432.8,289.1 L429.1,290.7 L426.4,292.5 L423.8,290.9 L424.0,287.9 Z M424.0,279.7 L422.2,279.6 L420.5,279.0 L420.7,277.2 L422.6,277.0 L424.0,277.9 Z M419.7,274.5 L418.6,278.0 L416.9,280.3 L414.4,279.0 L411.8,275.8 L415.0,273.0 Z M407.0,290.5 L405.8,292.5 L403.2,291.9 L401.0,289.6 L404.0,288.1 L405.1,286.0 L407.7,286.2 L409.0,289.1 Z M405.9,271.0 L411.5,269.1 L415.0,272.8 L412.1,276.8 L408.8,274.9 Z M402.9,284.5 L400.1,285.4 L398.8,283.6 L398.3,282.5 L399.1,281.7 L400.3,280.8 L402.8,280.9 L403.2,282.7 Z M429.2,277.3 L429.4,275.1 L432.3,275.5 L433.6,277.1 L432.2,278.3 L430.1,278.7 Z M408.9,268.2 L407.3,267.5 L405.7,266.7 L405.2,265.0 L406.7,264.0 L408.8,263.5 L409.5,265.2 L411.4,266.8 Z M413.8,275.7 L413.8,273.8 L414.8,272.5 L417.0,273.0 L417.7,274.3 L416.9,275.4 L415.5,275.8 Z M426.7,285.4 L424.3,284.7 L424.1,282.6 L423.6,280.4 L426.5,279.9 L428.4,280.6 L430.2,282.4 L428.6,284.2 Z M414.0,291.2 L414.1,293.9 L411.3,294.4 L408.8,293.7 L407.9,290.3 L411.3,289.3 Z M412.4,258.0 L413.7,258.6 L415.0,260.6 L413.3,262.2 L411.4,263.1 L409.5,261.6 L410.4,259.8 L409.7,257.4 Z M417.5,267.0 L417.1,265.0 L418.7,262.5 L421.0,264.5 L422.4,266.6 L419.6,268.8 Z M403.6,289.1 L401.9,290.2 L399.1,289.5 L397.7,287.0 L401.5,286.1 L402.9,285.1 L405.3,286.3 L403.9,288.0 Z M413.1,262.0 L412.4,265.5 L409.3,263.6 L408.0,262.4 L408.4,260.3 L409.7,258.9 L412.1,259.9 Z M410.2,257.6 L410.6,255.6 L412.3,254.8 L413.7,255.9 L413.3,258.2 Z M414.8,268.5 L413.3,269.6 L411.8,271.4 L410.3,269.8 L409.9,268.6 L410.2,267.4 L411.6,265.7 L413.2,267.4 Z M404.4,268.6 L400.4,265.3 L404.2,262.1 L408.0,262.7 L407.9,266.0 Z M422.2,259.1 L421.5,257.3 L422.8,255.6 L426.7,256.4 L424.6,258.9 Z M414.8,278.8 L415.4,280.9 L414.5,283.5 L412.5,284.6 L409.2,283.9 L406.2,281.6 L408.2,277.7 L411.6,276.5 Z M417.1,287.3 L418.5,288.6 L417.2,290.7 L416.0,291.6 L413.8,291.4 L409.4,290.5 L411.8,287.7 L414.9,287.6 Z M431.1,280.9 L432.4,278.5 L435.4,278.1 L437.0,281.7 L433.0,283.1 Z M415.3,277.6 L418.8,276.0 L421.4,277.1 L423.5,279.8 L421.5,281.7 L418.4,282.8 L414.5,280.9 Z M419.3,284.2 L417.6,280.4 L420.7,278.4 L424.3,279.5 L425.4,281.6 L425.1,284.3 L422.3,284.9 Z M409.0,289.4 L407.0,288.8 L407.5,286.9 L408.7,285.2 L410.5,285.8 L411.2,286.6 L412.4,288.2 L411.4,289.9 Z M425.9,274.4 L428.1,273.7 L429.1,275.4 L430.1,276.7 L428.2,277.5 L426.3,277.7 L424.7,276.3 Z M403.7,288.4 L404.4,290.6 L404.0,292.3 L401.6,292.8 L398.7,291.5 L400.4,289.2 Z M409.2,281.4 L408.2,280.6 L408.0,279.1 L408.7,278.4 L409.9,278.2 L411.9,278.2 L411.8,279.8 L410.6,280.5 Z M425.7,264.9 L428.1,266.5 L428.1,269.9 L426.5,272.1 L424.1,270.3 L421.6,269.0 L421.8,265.8 Z M407.6,260.4 L405.8,261.3 L404.3,259.9 L405.2,258.1 L407.2,257.5 L408.4,258.6 L409.5,260.0 Z M406.0,270.4 L407.4,266.8 L413.1,267.3 L412.6,271.5 L408.2,274.1 Z M422.4,276.0 L418.5,277.6 L416.5,277.3 L414.7,276.3 L414.7,274.6 L414.8,272.4 L417.6,272.4 L420.6,273.4 Z M424.7,274.6 L424.8,277.7 L421.5,279.4 L419.2,275.5 L422.2,272.8 Z M401.6,273.2 L403.1,271.8 L404.2,273.7 L403.6,274.8 L401.9,276.3 L400.5,274.6 Z M413.4,288.5 L416.8,287.9 L419.4,290.0 L417.7,292.5 L412.9,292.2 Z M422.2,271.7 L417.7,271.6 L412.6,271.7 L414.2,267.5 L417.5,267.0 L420.9,267.1 Z M413.5,261.4 L414.8,262.6 L414.8,264.2 L413.9,266.1 L411.7,264.9 L412.3,263.0 Z M407.6,269.7 L410.0,268.3 L414.2,270.1 L411.8,273.5 L406.8,273.6 Z M423.3,273.7 L419.4,271.2 L424.1,268.0 L428.8,270.3 L425.9,273.4 Z M404.0,295.5 L404.4,293.0 L407.6,290.7 L411.1,294.4 L407.5,297.2 Z M410.6,280.4 L413.0,282.7 L411.6,284.9 L408.9,285.7 L408.1,283.8 L408.7,281.8 Z M419.9,284.8 L417.9,288.4 L413.8,287.2 L413.8,283.5 L410.9,279.8 L416.2,277.8 L419.1,280.4 L421.5,282.5 Z M410.9,293.3 L408.3,291.5 L411.0,289.7 L413.3,290.8 L414.1,292.3 L412.4,293.0 Z M408.7,260.5 L406.8,258.8 L409.6,258.5 L410.9,259.3 L410.3,260.9 Z M411.4,282.2 L408.8,279.0 L410.6,276.0 L415.3,276.9 L415.8,280.3 Z M420.6,277.3 L418.6,279.1 L416.5,278.5 L416.3,276.3 L416.0,274.0 L418.5,273.3 L420.6,274.9 Z" fill="#e0e0e0"/>
<path d="M386.5,270.4 L390.3,268.6 L393.3,266.3 L398.0,268.1 L397.9,271.7 L396.6,275.1 L391.7,276.1 L388.0,273.7 Z M381.8,262.2 L382.4,260.7 L384.4,261.0 L385.4,262.6 L384.2,263.7 L383.6,265.0 L382.3,264.5 L381.6,263.3 Z M387.2,258.9 L388.2,255.0 L392.5,256.0 L394.0,259.8 L389.7,261.6 Z M383.6,270.0 L382.7,266.9 L385.2,264.6 L387.9,265.5 L390.1,267.2 L388.7,269.1 L388.5,272.4 L385.2,272.0 Z M380.8,273.8 L381.6,276.0 L378.7,276.5 L375.5,275.4 L376.5,273.1 L378.2,271.1 L380.2,272.2 Z M401.3,265.3 L404.8,267.9 L404.3,271.2 L400.2,272.8 L399.1,269.2 Z M368.9,260.7 L371.0,259.8 L372.6,261.3 L372.5,264.0 L370.1,263.6 L368.0,262.5 Z M384.2,280.6 L382.8,280.3 L381.8,279.3 L383.2,278.4 L384.0,277.3 L385.3,277.9 L386.6,279.1 L385.4,280.0 Z M387.1,269.1 L383.2,269.2 L384.5,266.1 L382.5,262.7 L386.7,263.0 L389.9,262.5 L391.8,265.8 L390.0,269.4 Z M380.5,270.6 L383.1,268.0 L385.8,267.4 L386.4,269.7 L384.6,272.4 Z M379.4,278.4 L378.3,274.3 L380.5,271.1 L384.6,273.4 L383.8,276.8 Z M390.6,267.9 L393.7,267.7 L394.9,269.2 L395.7,271.8 L393.1,273.3 L390.4,272.1 L387.6,270.1 Z M373.2,268.7 L374.0,271.4 L374.5,274.2 L371.6,274.3 L367.7,274.1 L368.1,271.2 L370.0,268.2 Z M371.3,274.7 L369.8,275.4 L367.8,274.4 L368.1,272.3 L370.4,271.4 L372.0,273.1 Z M394.4,273.8 L392.2,271.7 L388.4,269.4 L392.1,267.0 L395.0,268.9 L395.7,271.1 Z M383.7,268.2 L386.7,267.3 L387.9,269.9 L385.6,271.8 L382.5,270.6 Z M382.8,269.2 L383.2,271.1 L381.0,270.7 L378.6,270.9 L378.8,268.9 L380.1,267.2 L381.9,268.5 Z M408.7,271.3 L406.3,272.0 L403.0,272.1 L404.5,269.8 L403.7,267.4 L406.7,267.7 L408.9,269.2 Z M385.7,256.0 L383.6,257.6 L381.7,257.9 L381.0,255.5 L383.2,254.3 Z M392.5,265.1 L393.3,263.5 L394.3,261.8 L397.0,262.3 L397.4,264.0 L398.1,265.9 L395.6,266.6 L393.0,266.7 Z M394.5,265.0 L395.5,267.1 L395.9,269.9 L392.6,270.7 L389.0,268.4 L391.5,265.6 Z M385.8,276.9 L383.5,276.5 L383.5,275.0 L383.6,273.0 L386.7,273.4 L387.6,275.5 Z M383.6,270.4 L385.1,266.7 L389.0,268.1 L389.9,271.8 L387.8,273.9 L383.6,274.0 Z M388.7,262.6 L383.8,261.6 L386.2,257.7 L390.4,256.2 L391.1,260.4 Z M379.7,269.9 L382.6,272.1 L383.9,274.7 L380.6,276.2 L378.1,274.6 L376.5,272.0 Z M365.3,265.9 L367.8,266.0 L369.6,266.7 L369.1,268.8 L367.0,269.1 L363.9,268.4 Z M394.9,261.0 L394.0,259.0 L396.2,258.2 L398.3,259.0 L398.2,260.5 L396.9,262.0 Z M400.9,265.2 L406.4,264.3 L409.2,267.8 L405.5,270.5 L400.8,269.2 Z M395.4,260.4 L391.9,259.8 L393.9,257.4 L394.9,254.7 L398.4,255.1 L398.3,257.6 L397.8,260.3 Z M390.4,275.1 L387.0,276.7 L384.7,273.8 L385.0,271.9 L386.5,268.7 L389.2,269.3 L391.0,272.3 Z M375.1,257.8 L377.7,260.3 L376.5,262.9 L373.8,263.5 L371.6,260.5 Z M397.7,261.8 L401.3,262.4 L400.5,265.2 L397.5,265.8 L395.5,266.0 L395.0,264.3 L395.5,262.7 Z M387.8,270.3 L389.5,268.5 L391.1,267.8 L393.6,268.3 L392.2,270.3 L390.5,272.3 Z M396.0,271.4 L394.4,272.4 L391.7,271.2 L393.6,269.3 L396.3,269.0 Z M392.4,272.1 L392.2,275.3 L391.4,277.7 L387.9,276.3 L388.7,273.2 Z M377.1,260.6 L374.8,262.4 L372.0,261.8 L370.9,259.6 L373.4,258.7 L375.7,258.8 Z M407.8,266.5 L406.7,268.2 L406.2,269.2 L404.9,269.7 L404.0,268.8 L402.4,267.4 L404.4,266.9 L405.8,265.9 Z" fill="#e2e2e2"/>
<path d="M352.8,325.0 L355.4,324.9 L357.9,326.5 L356.2,328.8 L353.7,329.3 L352.0,327.4 Z M349.1,334.2 L348.1,333.3 L347.7,332.3 L348.2,331.2 L349.7,330.9 L351.0,332.1 L349.9,333.3 Z M362.7,311.9 L360.8,310.9 L360.0,309.5 L361.5,308.1 L363.0,308.8 L364.0,310.4 Z M369.1,312.9 L371.5,310.4 L373.9,312.1 L377.1,314.6 L375.3,318.0 L371.3,319.7 L367.1,317.6 L367.1,314.5 Z M370.1,306.4 L368.4,308.1 L366.2,307.8 L365.5,305.6 L368.1,304.7 Z M374.1,326.7 L376.7,325.8 L377.6,327.8 L377.0,330.0 L374.4,330.7 L372.2,328.4 Z M358.1,327.5 L355.6,325.4 L356.6,323.6 L358.6,323.6 L359.8,325.1 Z M358.4,322.3 L360.2,323.1 L361.6,325.4 L358.6,326.6 L356.4,325.0 L356.6,323.1 Z M354.9,317.8 L352.1,320.2 L347.6,319.8 L349.4,316.3 L350.6,313.7 L354.5,314.6 Z M363.8,308.1 L364.5,309.6 L363.4,310.2 L361.5,310.0 L361.8,308.1 Z M382.5,323.7 L382.2,322.8 L382.9,322.2 L384.6,321.3 L385.2,322.6 L385.2,324.3 L383.5,324.4 Z M374.0,307.4 L374.4,306.4 L375.3,306.4 L376.6,307.5 L374.8,308.3 Z M345.9,317.7 L344.4,316.6 L345.6,315.3 L347.8,314.5 L347.6,316.3 L348.0,317.9 Z M361.7,335.1 L360.1,337.7 L356.4,336.1 L356.3,333.4 L358.7,332.7 L362.5,332.0 Z M366.2,315.5 L368.3,316.3 L370.2,318.8 L366.1,319.1 L364.2,318.9 L364.1,317.3 L363.0,314.5 Z M360.6,313.6 L358.9,315.9 L355.1,315.9 L354.8,313.3 L355.7,311.2 L359.2,311.0 Z M371.8,306.5 L370.5,305.3 L371.9,304.2 L373.3,304.8 L373.6,306.5 Z M365.5,305.5 L363.8,304.0 L364.9,302.2 L367.1,300.5 L368.7,302.5 L370.6,303.6 L369.6,305.7 L367.6,306.0 Z M357.5,308.3 L361.2,309.0 L363.0,311.5 L360.9,313.7 L357.7,314.1 L356.1,312.4 L357.1,310.9 Z M366.0,318.3 L368.0,315.6 L371.2,314.9 L373.0,317.9 L372.0,319.7 L370.8,322.4 L367.8,321.3 Z M368.1,312.5 L361.6,311.3 L362.7,306.0 L368.2,305.8 L369.0,308.9 Z M368.9,320.4 L367.3,319.1 L367.7,317.3 L369.6,317.3 L371.4,318.1 L370.4,319.5 Z M352.8,306.3 L353.6,305.7 L354.5,305.7 L355.4,306.5 L355.4,307.8 L353.7,307.8 L352.9,307.3 Z M369.4,311.2 L366.9,311.3 L365.2,311.2 L365.0,309.1 L367.0,309.1 L368.0,309.7 Z M375.2,318.5 L376.6,317.3 L378.3,317.4 L379.8,318.0 L380.7,319.9 L378.4,320.9 L376.8,321.5 L375.9,320.2 Z M368.3,317.8 L369.9,319.3 L367.5,320.3 L366.4,319.2 L365.5,317.9 L367.0,317.0 Z M349.8,316.8 L352.3,314.5 L354.4,317.3 L353.6,320.0 L348.2,320.3 Z M359.8,313.2 L362.4,316.0 L364.9,318.0 L364.1,321.6 L360.3,322.6 L358.0,321.0 L353.4,318.6 L358.2,316.2 Z M375.0,317.7 L375.5,316.3 L377.1,316.6 L378.2,317.9 L376.4,318.6 Z M379.8,318.0 L377.4,317.4 L376.5,316.4 L377.8,315.1 L378.8,316.3 Z M370.9,309.5 L371.1,306.0 L374.1,305.1 L376.1,306.8 L375.3,309.6 Z M361.5,320.4 L362.4,317.1 L366.7,317.9 L367.7,320.9 L366.4,323.4 L363.7,324.9 L361.1,322.8 Z M363.2,318.0 L361.5,317.6 L360.8,316.1 L360.8,313.7 L363.8,314.5 L365.1,316.3 Z M354.2,304.3 L356.2,302.1 L358.8,304.5 L356.7,307.3 L354.7,306.2 Z M365.8,313.9 L367.0,314.6 L367.0,315.7 L367.0,317.0 L365.1,316.9 L364.9,315.8 L363.8,314.2 Z M375.9,319.4 L375.5,323.3 L373.1,325.1 L369.9,323.6 L370.9,321.0 Z M351.5,318.5 L351.6,319.9 L349.7,320.5 L348.5,319.4 L348.9,317.3 L351.3,316.7 Z M346.2,311.2 L346.6,308.3 L348.1,305.4 L350.1,308.1 L349.6,310.5 Z M378.4,310.4 L374.5,310.0 L373.9,307.5 L374.6,304.7 L378.5,305.5 L380.8,307.7 Z M346.6,310.0 L346.4,308.7 L347.3,307.4 L349.3,307.7 L350.4,308.8 L350.2,310.7 L348.2,312.3 Z M358.7,322.9 L356.3,321.4 L356.8,319.2 L358.4,317.1 L360.9,317.8 L361.5,319.5 L360.6,321.0 Z M369.7,321.0 L367.2,324.5 L361.0,326.1 L360.8,320.0 L365.6,315.9 Z M371.8,317.7 L370.9,316.5 L371.0,315.1 L372.0,313.7 L374.0,314.2 L375.2,316.3 L373.4,317.4 Z M346.1,329.8 L346.8,330.6 L346.4,331.6 L345.1,332.6 L343.2,332.0 L343.6,330.2 L344.7,329.5 Z M349.3,311.5 L350.0,310.9 L351.6,311.0 L352.3,312.3 L351.3,313.8 L349.5,313.3 L348.9,312.6 Z M375.9,312.5 L372.3,313.6 L370.7,310.9 L370.6,309.0 L373.3,307.3 L376.0,309.1 Z M347.9,308.3 L346.2,309.8 L344.6,311.4 L344.0,309.4 L342.2,307.7 L344.0,306.0 L346.3,306.2 Z M365.6,326.8 L365.6,329.5 L365.6,332.8 L361.2,333.1 L358.1,330.3 L360.0,327.7 L362.9,324.8 Z M351.9,332.3 L350.7,330.7 L350.7,328.6 L353.6,328.1 L355.5,330.5 L354.6,333.3 Z M358.7,335.0 L360.4,336.6 L359.0,338.6 L357.3,338.5 L355.9,337.8 L355.3,336.4 L356.4,334.8 Z M373.6,318.4 L374.9,319.8 L375.3,321.8 L373.4,322.5 L371.6,322.5 L369.5,322.2 L369.3,319.5 L371.7,318.8 Z M356.5,310.9 L355.4,312.4 L353.6,311.3 L353.0,310.2 L353.2,308.7 L355.1,308.7 L355.9,309.5 Z M351.1,309.0 L354.4,308.1 L356.5,311.6 L355.5,314.5 L351.2,314.6 L347.4,312.3 Z M357.6,331.5 L355.9,330.6 L355.9,328.9 L357.0,327.8 L358.3,326.1 L360.1,327.7 L359.7,329.2 L359.8,330.9 Z M357.3,318.2 L353.0,321.8 L349.4,319.0 L349.3,314.8 L353.2,315.8 Z M344.8,308.7 L347.1,306.3 L350.4,306.0 L352.7,308.4 L351.7,311.9 L347.7,310.5 Z M372.9,319.8 L374.2,319.0 L375.7,320.1 L374.8,321.5 L372.9,321.8 Z M349.1,310.4 L352.5,312.9 L350.1,315.7 L347.0,316.1 L347.7,313.4 Z M359.1,328.1 L356.4,332.0 L353.8,328.2 L354.1,324.4 L359.7,323.6 Z M361.1,327.9 L359.3,323.4 L363.7,320.3 L367.3,323.3 L366.4,328.5 Z M361.8,321.3 L359.7,320.2 L360.9,318.2 L363.0,318.8 L364.7,320.7 Z M342.1,316.2 L341.0,315.0 L341.2,313.5 L342.1,312.5 L343.9,311.9 L345.6,313.2 L345.3,314.8 L344.1,315.4 Z M363.7,322.9 L359.9,323.3 L359.8,318.6 L363.9,317.8 L364.9,320.3 Z M362.0,315.0 L366.2,318.2 L368.7,322.5 L362.4,324.7 L358.8,321.9 L356.5,317.0 Z M355.6,315.9 L354.0,312.7 L357.5,311.7 L359.7,311.0 L363.2,311.2 L363.5,313.7 L360.5,314.9 L358.7,317.4 Z M369.9,321.3 L370.7,323.0 L369.0,323.9 L367.7,324.1 L366.2,323.8 L366.0,322.2 L366.4,320.1 L368.2,320.9 Z M362.0,311.5 L360.3,312.9 L358.6,312.8 L357.9,310.4 L360.8,309.1 Z M349.0,321.5 L349.9,320.0 L351.5,321.1 L353.0,321.9 L352.6,323.4 L351.9,325.2 L349.2,325.1 L349.0,323.1 Z M370.4,321.9 L369.1,323.6 L367.1,324.9 L365.3,322.9 L364.9,320.6 L367.0,318.7 L369.2,320.4 Z M362.1,337.4 L360.9,336.6 L362.1,336.0 L362.8,335.7 L363.6,335.9 L364.2,336.6 L364.0,337.7 L362.8,338.2 Z M361.7,325.9 L362.6,325.4 L364.2,325.0 L364.3,326.7 L364.3,328.2 L362.2,329.1 L361.2,327.5 Z M345.8,320.7 L347.3,317.0 L351.8,318.3 L351.5,322.1 L349.9,324.2 L345.9,324.4 Z M373.0,332.2 L375.2,332.7 L375.2,334.7 L374.4,336.5 L371.9,337.2 L370.4,334.9 L371.2,332.7 Z" fill="#dedede"/>
<path d="M344.8,251.6 L342.7,250.0 L345.5,248.7 L348.0,250.0 L346.5,252.0 Z M346.9,254.6 L347.7,252.2 L351.1,252.3 L350.3,255.5 L348.3,256.3 Z M349.5,253.1 L348.5,252.0 L346.8,249.7 L348.9,247.6 L352.1,246.5 L352.9,250.0 L354.1,252.6 L352.2,254.3 Z M358.5,243.0 L360.5,244.8 L360.3,247.3 L358.0,248.4 L356.4,247.7 L355.7,246.1 L355.4,244.0 Z M351.5,243.4 L351.4,245.3 L349.9,246.5 L347.6,246.5 L346.1,245.1 L347.7,243.8 L349.3,242.5 Z M351.8,255.2 L353.6,255.4 L355.0,256.7 L354.4,258.5 L352.3,260.5 L350.3,259.4 L347.9,257.5 L350.7,255.9 Z M350.7,255.7 L354.1,256.9 L351.7,259.0 L348.7,259.2 L345.7,257.2 L348.6,254.7 Z M346.8,248.2 L348.1,251.0 L346.9,253.1 L344.7,254.9 L342.0,252.3 L343.3,249.3 Z" fill="#e0e0e0"/>
<path d="M532.1,270.5 L533.7,272.1 L533.7,274.8 L530.9,275.8 L527.5,273.6 L528.5,270.5 Z M547.3,270.7 L547.1,273.5 L544.6,273.2 L542.6,273.5 L542.3,271.9 L539.4,269.4 L543.3,267.7 L546.3,268.5 Z M541.3,269.5 L537.5,271.2 L535.8,266.8 L536.6,261.9 L541.8,262.9 L546.2,266.7 Z M540.3,267.0 L538.6,266.0 L537.6,265.0 L538.5,263.9 L539.2,263.5 L540.7,263.3 L542.7,264.1 L541.3,265.9 Z M537.7,267.1 L537.9,264.9 L541.2,264.5 L543.8,265.8 L545.5,269.1 L540.7,269.4 L537.5,269.7 Z M535.7,258.1 L536.5,256.6 L538.5,257.5 L537.6,259.0 L536.4,259.5 Z M532.0,273.6 L534.0,273.9 L535.6,275.7 L534.0,277.3 L530.9,277.8 L530.7,275.3 Z M542.0,277.2 L540.9,278.1 L538.6,278.4 L539.2,276.6 L539.1,274.9 L540.8,274.5 L541.5,276.1 Z M542.5,268.9 L539.2,270.0 L538.6,266.9 L535.9,264.7 L539.4,264.1 L541.8,262.3 L545.5,264.1 L542.7,266.4 Z M527.6,268.6 L529.3,267.0 L530.9,268.6 L530.1,270.2 L528.3,271.2 L526.4,270.0 Z M546.6,264.5 L550.5,264.9 L547.6,267.4 L548.1,270.0 L545.0,268.6 L540.6,268.5 L543.4,266.1 L543.9,263.6 Z M542.5,262.6 L545.0,259.6 L548.3,261.4 L549.5,264.9 L547.1,267.0 L543.7,268.8 L542.2,265.7 Z M550.5,259.9 L551.9,262.5 L549.8,263.8 L547.7,264.0 L544.9,263.8 L544.1,261.6 L546.2,259.6 L548.3,259.5 Z M540.3,276.2 L538.0,275.9 L536.2,274.1 L538.7,273.1 L539.8,273.4 L540.2,274.4 Z M538.7,279.8 L536.9,279.6 L534.3,279.4 L534.0,277.2 L535.1,275.5 L537.8,274.9 L538.8,276.6 L541.5,278.3 Z M537.4,263.6 L541.9,262.8 L542.3,267.4 L539.0,269.1 L532.8,267.5 Z M542.6,258.8 L538.6,257.9 L541.8,255.5 L544.4,254.3 L545.5,256.8 L544.8,258.6 Z M541.2,267.1 L540.3,268.4 L538.4,268.4 L536.6,266.3 L538.9,264.2 L542.0,264.9 Z M536.8,264.7 L533.8,263.6 L532.9,262.1 L532.4,259.6 L534.9,258.4 L537.3,259.4 L537.6,261.8 Z M533.1,265.7 L536.1,262.4 L538.2,260.0 L540.9,262.4 L543.4,263.5 L543.3,267.1 L540.3,267.3 L537.8,266.5 Z" fill="#e2e2e2"/>
<path d="M566.6,262.4 L569.7,260.1 L573.4,261.3 L573.2,264.4 L573.9,267.5 L570.6,267.0 L568.2,267.0 L566.3,265.2 Z M565.6,267.6 L565.7,265.3 L565.6,261.2 L570.3,261.5 L575.3,263.1 L573.9,266.9 L571.7,270.4 L568.0,270.5 Z M566.6,266.2 L568.2,265.5 L569.7,266.7 L569.1,269.2 L566.5,268.5 Z M565.3,272.2 L567.2,271.7 L567.8,272.9 L568.5,274.4 L567.4,275.5 L565.6,275.8 L564.8,274.5 L564.4,273.1 Z M561.4,261.5 L563.9,257.6 L568.2,259.0 L567.4,262.9 L564.5,264.0 Z M572.8,261.5 L571.2,263.8 L567.0,263.8 L564.8,259.6 L567.8,255.9 L572.8,256.0 L574.7,259.1 Z M567.3,258.1 L570.5,260.4 L568.0,262.6 L565.2,262.8 L563.8,259.7 Z M570.4,273.5 L568.9,272.1 L569.2,269.5 L573.0,269.3 L575.6,271.2 L573.7,273.6 L572.4,275.0 Z M570.5,262.2 L569.7,262.4 L568.9,262.1 L567.9,261.3 L567.7,260.0 L569.7,260.0 L570.8,259.9 L572.4,261.2 Z M568.8,271.1 L566.9,271.2 L566.0,269.6 L567.0,268.0 L569.4,267.2 L572.3,270.1 Z M570.6,262.6 L573.3,264.0 L575.4,266.5 L571.8,268.4 L570.0,268.6 L568.3,267.4 L567.5,265.9 L567.2,262.9 Z M564.5,261.6 L562.6,261.7 L561.3,260.1 L562.0,258.1 L564.2,258.4 L565.3,259.8 Z M567.9,268.0 L568.4,264.2 L571.4,265.7 L574.7,267.8 L572.3,271.3 L567.5,271.7 Z M564.1,269.2 L566.1,269.6 L567.9,271.4 L566.7,273.1 L564.5,275.2 L561.8,273.6 L560.7,270.7 Z" fill="#e2e2e2"/>
<path d="M543.4,232.1 L541.4,230.9 L540.6,228.1 L544.2,229.0 L546.7,229.8 L545.8,232.0 Z M542.7,228.5 L544.5,228.0 L548.1,230.1 L544.2,232.8 L541.0,230.5 Z M534.0,225.4 L536.0,223.7 L537.1,225.6 L537.3,227.5 L535.5,227.8 L534.1,226.9 Z M539.7,224.9 L543.5,225.9 L544.3,229.0 L542.3,233.1 L535.9,232.5 L534.6,227.3 Z M544.4,223.0 L544.3,225.5 L542.4,227.4 L539.5,226.1 L538.4,223.0 L541.6,221.5 Z M537.9,219.6 L537.0,218.9 L536.7,217.5 L538.4,216.6 L539.5,217.5 L541.2,218.2 L540.6,219.8 L539.2,220.2 Z M536.9,225.6 L538.4,227.5 L538.8,229.6 L536.2,229.8 L534.3,227.6 Z M538.4,228.1 L537.0,225.1 L538.1,220.2 L544.1,221.1 L544.7,225.9 L542.6,230.3 Z M537.8,222.2 L540.6,222.9 L542.0,224.6 L540.5,226.0 L539.3,227.3 L536.8,227.0 L537.8,224.8 Z M526.8,230.9 L527.1,229.2 L528.6,228.4 L530.2,228.9 L530.6,231.1 L528.6,231.5 Z M547.9,232.8 L543.2,233.2 L543.2,229.7 L540.9,227.2 L544.3,226.2 L547.3,224.5 L547.5,228.0 L549.8,230.2 Z" fill="#e5e5e5"/>
<path d="M366.0,230.8 L368.3,229.5 L369.9,229.3 L372.7,230.6 L371.0,232.8 L369.1,232.7 L367.1,232.7 Z M371.3,239.0 L368.8,237.7 L369.1,235.2 L372.6,236.2 L374.7,236.7 L376.8,238.4 L375.2,240.8 L372.0,241.5 Z M369.4,231.3 L371.5,229.5 L373.0,232.1 L372.7,234.2 L370.5,236.4 L368.0,234.7 L368.0,232.5 Z M366.2,239.2 L367.3,237.8 L369.7,238.0 L369.8,240.2 L367.3,240.7 Z M368.9,230.7 L370.9,228.4 L371.7,230.9 L372.9,232.6 L372.0,233.9 L369.9,235.0 L368.3,233.1 L367.4,231.6 Z M377.2,240.9 L376.0,238.3 L376.7,236.0 L380.3,236.7 L381.5,237.8 L382.6,239.6 L380.7,240.4 L378.6,242.3 Z M368.7,236.3 L372.3,236.3 L375.2,239.4 L371.2,241.4 L368.7,240.3 Z M370.0,233.6 L373.9,233.2 L374.3,236.4 L374.3,238.2 L374.1,240.8 L371.3,241.7 L370.2,238.9 L369.7,236.9 Z M367.5,222.9 L365.9,220.4 L368.8,218.6 L370.7,218.8 L373.8,219.8 L373.4,222.2 L370.1,222.2 Z M371.3,240.3 L369.8,240.8 L367.8,240.3 L366.9,238.9 L367.0,237.1 L368.4,235.2 L371.0,236.5 L372.1,237.9 Z M379.0,237.5 L376.0,235.9 L372.4,234.7 L374.8,232.1 L376.3,229.8 L379.9,229.4 L379.7,232.7 L382.2,235.6 Z M365.7,234.1 L366.4,230.1 L372.4,229.2 L376.9,234.2 L369.8,236.6 Z M369.0,228.0 L367.6,227.0 L366.7,225.5 L368.2,224.8 L370.0,225.2 L369.6,226.6 Z M378.2,228.2 L376.9,230.7 L374.4,229.8 L372.0,228.0 L374.7,226.9 L376.3,226.9 Z M377.6,237.7 L375.2,238.3 L372.7,237.1 L374.2,234.7 L378.3,234.4 Z" fill="#e3e3e3"/>
<path d="M603.9,337.4 L605.3,335.9 L606.8,336.8 L609.1,336.9 L607.8,338.4 L607.6,339.4 L606.0,339.6 L604.6,339.1 Z M582.4,341.4 L583.3,340.0 L584.4,337.9 L586.9,338.5 L586.7,340.7 L586.5,341.8 L585.5,344.0 L583.3,343.1 Z M585.5,321.8 L583.1,320.4 L584.9,318.4 L586.3,318.2 L587.1,319.2 L588.0,320.9 Z M597.0,312.3 L597.2,314.3 L595.2,313.8 L592.7,314.2 L591.4,312.1 L593.5,310.4 L595.4,310.4 L597.3,310.9 Z M599.5,329.9 L597.5,328.2 L598.7,326.3 L600.8,325.5 L602.9,327.1 L602.6,329.3 Z M580.6,320.0 L579.3,321.9 L577.2,323.2 L575.4,322.2 L575.0,320.0 L575.9,318.4 L578.6,318.6 Z M588.0,337.8 L589.9,337.4 L591.0,338.5 L591.3,340.3 L589.1,340.7 L588.2,339.4 Z M604.5,329.4 L601.0,327.7 L602.3,325.4 L605.3,325.3 L607.3,325.0 L608.7,326.4 L608.1,328.3 L606.2,328.9 Z M595.8,310.2 L595.4,312.4 L593.6,313.4 L592.6,311.9 L593.3,310.6 Z M596.7,319.4 L597.7,317.4 L600.0,315.8 L600.8,318.4 L599.7,320.5 Z M604.5,330.0 L602.4,331.3 L600.6,329.9 L599.1,327.8 L602.0,325.7 L604.5,327.8 Z M595.1,328.3 L596.3,330.9 L596.3,333.6 L593.3,334.9 L589.0,335.5 L590.1,332.2 L590.1,330.6 L591.2,328.3 Z M590.5,331.2 L594.0,328.6 L596.0,331.9 L598.9,335.5 L594.8,337.2 L591.6,336.0 L589.2,333.6 Z M603.5,324.9 L606.0,326.4 L603.3,328.7 L602.3,332.2 L599.1,331.4 L598.5,328.2 L598.6,326.2 L600.0,323.9 Z M590.5,339.8 L592.2,339.5 L592.4,341.4 L593.4,343.4 L590.8,343.2 L589.1,342.6 L590.0,341.1 Z M581.3,325.8 L584.3,325.1 L585.0,327.1 L585.6,329.4 L583.2,330.4 L580.3,328.3 Z M593.5,332.1 L594.5,329.4 L597.9,330.8 L597.5,333.1 L595.2,334.1 Z M599.2,337.8 L601.6,335.6 L604.1,336.5 L604.5,338.5 L604.5,340.3 L602.2,340.6 L598.8,340.5 Z M590.6,321.9 L590.2,317.6 L594.7,318.6 L598.5,317.7 L597.8,321.6 L597.3,324.9 L592.1,325.7 Z M591.0,313.9 L590.7,313.1 L590.3,311.4 L592.0,311.7 L593.5,312.2 L593.1,313.4 L592.5,314.9 Z M586.4,339.7 L584.2,339.5 L582.3,338.2 L581.5,336.0 L584.3,334.2 L587.1,335.3 L586.8,337.5 Z M576.8,333.4 L575.0,331.9 L575.8,330.2 L577.1,328.9 L579.1,328.0 L580.4,329.7 L581.3,331.5 L580.1,333.6 Z M570.5,327.1 L571.3,325.5 L573.1,325.5 L573.9,327.1 L572.1,327.6 Z M603.8,330.2 L606.5,331.7 L605.3,334.2 L602.4,333.4 L601.5,331.7 Z M601.8,322.5 L599.6,323.5 L595.8,322.4 L597.9,319.0 L601.6,319.5 Z M600.7,341.2 L599.9,338.8 L598.3,336.9 L600.2,334.6 L602.9,335.9 L605.4,336.4 L606.8,339.3 L603.7,341.9 Z M592.6,332.6 L592.9,330.4 L595.8,330.8 L597.1,333.1 L594.8,334.0 L593.3,333.8 Z M580.4,334.7 L579.5,333.0 L581.3,332.2 L584.0,331.8 L584.0,334.0 L582.5,335.6 Z M584.4,327.0 L585.7,324.0 L589.2,325.5 L590.3,328.2 L587.0,328.6 Z M582.3,320.3 L583.1,323.0 L580.1,324.5 L577.7,322.1 L575.7,320.7 L576.9,318.2 L579.2,316.1 L582.3,317.9 Z M583.3,310.2 L582.2,307.0 L585.8,308.6 L589.5,309.0 L587.4,311.4 L585.7,314.0 L583.6,312.1 Z M581.0,333.3 L578.0,331.5 L579.5,329.3 L580.5,327.9 L583.7,327.2 L584.7,329.7 L583.5,331.5 Z M585.6,327.1 L580.7,324.8 L583.9,320.8 L588.4,321.7 L588.5,325.3 Z M604.1,321.5 L602.0,322.6 L601.1,320.6 L601.4,318.2 L604.0,318.6 L605.5,320.2 Z M595.2,314.0 L594.7,316.5 L591.7,316.3 L589.9,314.7 L590.5,312.8 L591.9,309.5 L596.5,310.7 Z M581.5,322.7 L580.4,324.8 L578.7,323.2 L578.9,321.7 L578.7,319.3 L581.0,320.2 L581.7,321.4 Z M595.8,321.9 L596.8,319.2 L599.3,320.7 L600.6,323.0 L597.1,324.3 Z M598.6,334.7 L602.7,334.6 L605.2,338.0 L600.9,339.5 L598.3,337.8 Z M580.1,323.3 L579.3,326.6 L577.4,323.9 L574.5,322.6 L575.6,319.7 L578.8,319.6 L582.7,320.5 Z M579.8,321.7 L578.1,320.5 L576.4,318.5 L578.7,317.4 L580.7,318.2 L582.0,319.9 Z M604.6,326.4 L600.1,326.9 L597.6,323.0 L602.1,319.8 L609.4,321.8 Z M585.4,336.8 L587.2,339.1 L585.5,341.7 L582.2,340.1 L582.5,337.3 Z M590.9,328.9 L588.1,328.6 L587.1,326.2 L589.9,323.6 L591.6,326.3 Z M577.9,327.6 L579.5,329.2 L580.1,330.6 L579.0,332.3 L577.3,331.7 L576.7,329.6 Z M608.2,315.1 L611.1,315.9 L611.8,318.3 L609.3,319.2 L608.4,317.7 Z M588.4,328.2 L591.3,325.9 L592.8,324.9 L594.2,326.0 L597.6,327.0 L594.9,328.6 L593.8,329.6 L591.1,329.7 Z M595.3,322.6 L594.2,320.1 L597.4,318.0 L600.7,319.7 L601.4,322.8 L598.3,324.8 Z M597.1,326.8 L594.5,330.4 L591.6,332.4 L586.5,331.0 L589.0,327.7 L591.5,326.4 Z M583.4,324.6 L585.2,322.4 L588.5,323.3 L588.4,325.2 L587.6,327.0 L585.4,326.4 Z M584.2,329.0 L586.0,329.3 L586.9,331.2 L586.1,333.2 L583.6,332.4 L582.9,330.8 Z M587.7,322.8 L591.9,322.5 L596.8,323.8 L593.4,328.0 L588.7,327.1 Z M590.5,327.4 L590.7,325.6 L593.7,324.8 L595.2,326.6 L595.0,328.6 L594.9,331.4 L591.9,330.3 L589.2,329.8 Z M579.1,319.4 L580.9,320.4 L579.5,322.1 L577.4,323.1 L576.3,321.3 L576.1,319.1 Z M608.1,321.0 L607.3,318.6 L608.8,316.7 L611.7,316.4 L612.6,318.0 L612.5,320.2 L611.0,321.7 Z M595.6,336.2 L596.2,334.7 L598.1,333.4 L598.0,335.5 L597.6,337.2 Z M600.6,328.4 L603.7,325.7 L606.7,327.4 L605.9,329.4 L603.5,331.3 Z M591.3,320.0 L594.5,322.6 L591.7,325.4 L587.1,325.9 L586.6,321.3 Z M590.1,324.4 L588.2,322.8 L588.7,321.1 L590.3,320.2 L591.4,319.6 L592.3,320.9 L593.1,322.0 L592.5,323.4 Z M597.0,313.9 L596.4,315.9 L595.2,316.9 L593.5,318.3 L590.5,317.6 L591.8,315.4 L592.4,313.9 L594.3,313.2 Z M582.4,338.7 L581.9,337.4 L583.6,337.4 L584.9,337.0 L585.8,338.6 L584.7,339.8 L583.2,339.2 Z M603.0,326.6 L601.9,325.0 L603.1,323.6 L604.6,323.2 L606.0,324.1 L606.1,325.4 L605.1,327.4 Z M602.2,339.8 L603.2,338.5 L605.1,337.9 L605.4,339.3 L605.7,340.8 L603.8,340.6 Z M589.0,331.0 L588.6,328.9 L587.0,326.3 L589.7,324.1 L591.8,325.8 L593.7,326.6 L593.3,328.8 L592.3,330.2 Z M585.6,316.9 L587.3,319.4 L587.1,321.8 L584.4,323.0 L583.1,320.7 L581.1,317.5 Z M598.4,315.3 L595.8,315.8 L594.1,315.3 L593.7,313.5 L594.5,312.0 L596.3,312.4 L597.8,313.1 Z M597.8,320.0 L598.5,318.3 L601.2,318.2 L601.7,319.8 L600.8,320.9 L599.4,321.1 Z M581.6,333.0 L583.6,332.0 L586.7,332.7 L585.7,335.1 L583.9,337.0 L582.2,334.9 Z M589.1,329.5 L590.6,329.3 L591.5,330.4 L590.2,331.4 L589.7,332.1 L588.0,332.4 L587.1,331.2 L587.4,329.8 Z M595.5,320.8 L593.5,323.8 L592.3,325.5 L589.2,327.1 L588.6,323.9 L588.7,321.6 L591.2,320.9 Z M594.3,320.5 L593.2,318.7 L594.4,316.8 L596.4,318.0 L596.5,320.0 Z M599.4,315.1 L602.2,315.1 L603.9,314.1 L605.1,316.1 L605.1,318.3 L603.1,318.0 L601.6,318.0 L600.5,317.1 Z M597.6,324.8 L595.0,328.3 L591.8,328.4 L586.0,328.4 L588.3,324.2 L590.3,322.3 L593.5,323.2 Z M592.3,335.0 L594.3,330.6 L598.1,330.1 L602.1,332.4 L597.9,334.3 Z M607.4,321.8 L609.4,324.3 L606.5,325.7 L604.1,327.1 L602.9,324.9 L603.3,322.9 L604.5,320.7 Z M595.3,330.9 L593.1,328.7 L593.5,325.3 L594.9,322.8 L600.2,323.2 L601.2,326.9 L598.5,329.3 Z M589.8,336.8 L590.1,334.8 L591.0,332.6 L593.3,331.3 L596.2,332.8 L597.6,335.8 L594.9,337.3 L592.3,337.7 Z" fill="#dadada"/>
<path d="M454.4,369.8 L453.4,367.2 L453.4,364.6 L454.2,361.2 L457.8,362.6 L459.7,364.4 L459.8,367.3 L457.9,368.9 Z M455.0,368.2 L454.1,365.7 L457.4,365.4 L459.5,366.8 L459.0,368.9 L456.4,370.5 Z M462.0,350.7 L462.7,348.1 L464.5,346.7 L468.1,348.5 L465.0,350.9 Z M457.0,366.5 L456.4,364.1 L456.4,361.3 L459.3,362.2 L461.2,363.0 L460.4,365.4 L458.9,365.9 Z M456.0,350.7 L458.2,350.1 L460.2,351.6 L458.3,353.4 L456.5,352.6 Z M463.7,371.4 L461.6,373.4 L459.7,374.1 L456.3,373.6 L455.3,370.6 L458.4,369.2 L460.7,367.7 L463.5,368.7 Z M459.4,364.0 L458.5,361.8 L460.8,360.1 L463.8,360.2 L464.0,362.8 L462.6,365.9 Z M459.2,368.7 L459.0,370.6 L458.1,372.3 L456.4,372.4 L454.8,371.6 L454.1,369.4 L456.3,368.2 Z M453.9,358.9 L454.4,357.9 L454.7,356.4 L456.2,357.4 L456.9,358.4 L456.5,359.6 L454.9,359.4 Z M459.8,360.3 L458.8,357.9 L461.7,355.1 L463.9,357.8 L464.3,360.7 L461.8,361.4 Z M458.4,350.6 L459.4,351.6 L458.6,352.9 L457.1,353.3 L456.6,352.1 L456.7,351.0 Z M465.8,375.4 L465.0,376.6 L462.9,376.5 L462.3,374.9 L463.9,374.3 L465.4,373.7 Z M457.0,358.1 L462.7,357.6 L461.7,361.7 L460.2,364.4 L456.7,367.3 L453.7,363.7 L451.4,359.7 Z M458.6,368.6 L458.9,364.9 L461.7,361.9 L464.9,364.1 L466.1,366.0 L466.2,369.1 L463.3,369.6 Z M454.1,353.3 L459.3,350.3 L464.7,349.7 L463.6,354.7 L459.3,357.0 Z M457.5,378.0 L461.5,377.1 L465.9,378.8 L463.6,382.0 L460.7,382.5 L456.7,381.8 Z M464.2,374.6 L465.7,374.9 L467.3,376.3 L467.4,378.1 L464.9,378.0 L462.8,378.6 L462.8,376.9 L462.6,375.6 Z M457.5,375.2 L458.7,374.4 L459.5,375.5 L459.3,376.5 L459.6,378.0 L458.2,378.0 L456.5,377.5 L457.5,376.2 Z" fill="#e0e0e0"/>
<path d="M474.7,339.5 L475.4,336.6 L478.7,336.5 L479.6,339.6 L477.4,340.9 Z M465.9,343.7 L468.5,342.4 L470.8,343.9 L472.5,346.8 L469.1,347.5 L467.3,347.7 L466.0,346.4 Z M477.8,340.5 L480.4,340.8 L484.7,341.8 L482.9,344.3 L480.5,345.5 L478.3,346.3 L475.6,344.8 L475.6,342.5 Z M481.7,343.3 L480.3,343.3 L479.3,342.8 L479.3,341.5 L480.2,340.1 L481.8,340.8 L483.7,341.3 L482.9,342.9 Z M462.7,344.2 L462.1,342.8 L462.6,341.8 L463.7,340.7 L465.5,341.2 L467.2,342.2 L465.0,343.3 L464.4,344.8 Z M480.4,351.8 L479.1,352.9 L477.9,353.0 L477.2,352.1 L475.6,351.0 L476.7,349.8 L478.4,349.9 L479.2,350.7 Z M464.1,344.5 L466.1,344.9 L466.0,346.4 L465.5,347.7 L464.0,347.7 L463.0,347.3 L462.1,346.3 L462.4,345.1 Z M467.0,340.1 L465.8,340.5 L464.9,339.6 L465.3,338.5 L466.9,337.3 L467.1,339.0 Z M460.4,348.6 L458.4,345.9 L461.4,343.9 L465.2,343.8 L467.7,346.9 L463.9,349.3 Z M470.3,344.1 L472.7,344.8 L474.0,346.8 L471.8,348.5 L469.7,348.1 L468.4,345.8 Z M475.6,344.4 L478.3,345.9 L478.1,348.2 L476.0,349.1 L474.3,348.6 L473.6,347.4 L474.0,345.9 Z M471.6,341.5 L475.2,341.6 L477.8,344.0 L477.3,346.5 L474.3,348.6 L471.2,348.4 L468.4,346.6 L469.5,343.7 Z M478.0,347.9 L475.7,345.5 L476.9,342.1 L480.0,341.1 L480.8,344.3 L480.9,346.8 Z M466.8,342.9 L467.4,341.8 L468.9,341.2 L471.1,342.4 L469.2,344.4 L467.6,344.0 Z M481.5,347.8 L483.6,347.7 L484.7,348.0 L485.8,349.4 L484.6,350.3 L483.5,351.0 L481.7,350.7 L482.7,349.3 Z M478.1,343.3 L482.1,344.2 L483.3,349.1 L477.5,350.1 L475.7,346.2 Z M484.9,346.0 L485.4,347.8 L483.2,347.4 L482.6,346.2 L483.2,345.1 L484.9,344.7 Z M477.7,347.2 L473.2,347.4 L469.2,345.8 L470.0,342.4 L474.0,341.1 L476.1,343.4 Z" fill="#dddddd"/>
<path d="M436.4,440.3 L439.3,439.4 L442.6,441.3 L440.5,444.3 L437.0,444.9 L434.3,442.6 Z M446.7,449.7 L450.5,449.8 L448.8,452.6 L447.4,454.9 L444.5,454.5 L441.8,451.8 L443.6,449.5 Z M436.9,442.4 L436.2,440.3 L435.0,438.0 L438.1,437.2 L440.4,438.6 L440.8,440.3 L438.7,441.3 Z M443.0,424.4 L442.3,428.1 L440.4,430.3 L436.3,428.5 L438.8,425.8 Z M437.1,442.3 L434.5,437.2 L440.9,435.5 L445.3,437.9 L442.2,441.5 Z M442.5,442.4 L441.3,444.8 L439.7,446.5 L438.7,444.3 L438.4,441.8 Z M433.4,454.5 L431.9,454.4 L430.8,453.7 L431.5,452.6 L433.3,451.8 L433.8,453.4 Z M442.5,447.7 L439.5,450.8 L435.7,449.2 L430.4,447.8 L433.8,444.4 L437.5,444.0 L439.9,445.3 Z M442.7,443.5 L441.2,446.7 L436.7,446.6 L433.9,443.1 L433.8,439.1 L438.6,439.8 L443.2,439.7 Z M440.8,421.7 L442.8,420.9 L443.1,422.6 L443.6,423.8 L443.3,425.4 L440.6,425.5 L440.2,423.8 L440.2,422.7 Z M430.1,439.9 L429.0,438.8 L430.3,437.5 L432.0,438.0 L432.5,439.2 L431.7,440.3 Z M436.5,445.6 L433.5,447.3 L432.0,448.2 L430.4,447.1 L429.8,444.8 L431.7,444.3 L433.9,443.3 Z M434.0,450.5 L433.9,447.4 L437.2,445.8 L439.8,446.5 L442.4,446.8 L443.1,449.5 L439.8,450.4 L437.9,451.0 Z M437.3,446.3 L435.5,448.9 L432.9,446.7 L431.2,444.6 L431.8,441.4 L434.6,441.8 L437.2,442.0 L439.0,444.0 Z M442.2,451.9 L444.0,449.6 L447.7,450.5 L447.0,453.6 L443.7,454.6 Z M429.8,427.0 L431.2,427.8 L431.7,429.7 L429.8,431.4 L427.5,429.9 L427.2,428.9 L427.2,427.3 L428.2,425.3 Z M435.1,455.1 L436.3,452.8 L439.2,453.5 L440.6,454.7 L440.9,456.9 L438.9,457.8 L436.2,457.8 Z M440.2,436.9 L441.4,441.1 L437.6,442.5 L434.2,440.8 L436.0,436.9 Z M446.7,447.6 L444.5,446.6 L444.8,443.7 L448.5,443.7 L449.1,446.4 Z M437.9,428.1 L439.4,429.3 L438.0,430.3 L436.9,431.3 L435.7,430.8 L435.2,429.5 L434.9,428.2 L436.7,428.2 Z M437.2,442.4 L438.3,442.7 L438.1,443.8 L437.1,444.3 L435.6,444.7 L435.9,443.5 L435.4,442.5 L436.4,442.0 Z M437.2,442.2 L430.8,440.2 L431.8,435.3 L436.5,435.4 L438.7,438.0 Z M443.1,436.3 L442.9,438.6 L441.6,439.7 L439.2,440.4 L439.7,438.3 L439.9,436.1 Z M432.7,453.6 L429.8,452.3 L429.1,449.2 L431.2,447.4 L434.7,447.1 L438.2,449.4 L434.2,451.3 Z M439.3,452.9 L436.1,454.2 L432.9,450.9 L436.1,448.3 L439.1,448.5 L442.4,449.6 L442.7,452.5 Z M431.0,450.0 L433.4,446.8 L434.3,444.7 L437.2,444.3 L441.6,447.1 L437.3,449.7 L434.8,449.9 Z M438.4,454.0 L438.8,453.3 L439.8,453.3 L440.9,454.0 L441.3,455.0 L439.9,455.5 L439.0,455.3 L438.4,454.9 Z M438.7,424.5 L440.1,425.3 L440.5,426.8 L440.8,428.4 L439.4,428.4 L438.4,428.1 L437.0,427.3 L437.3,426.0 Z M436.2,433.0 L433.6,434.4 L433.3,432.1 L431.9,430.4 L434.0,428.3 L436.6,428.5 L438.3,430.1 L437.7,432.5 Z M439.6,436.8 L442.5,434.4 L447.3,434.6 L448.1,438.0 L445.3,441.0 L441.1,440.1 Z M444.2,438.7 L442.7,439.4 L440.8,439.2 L440.5,437.8 L440.5,436.0 L442.6,436.1 L444.3,436.9 Z M445.6,430.7 L444.3,431.2 L442.7,431.1 L443.1,429.7 L443.2,428.4 L444.8,428.9 L446.4,429.3 Z M441.6,446.1 L438.4,446.4 L435.0,444.9 L437.8,442.6 L441.1,442.9 Z M443.9,435.5 L447.0,435.4 L450.5,434.9 L452.0,437.4 L449.6,439.4 L448.1,441.6 L446.1,439.8 L442.2,438.4 Z M432.6,451.4 L431.5,449.6 L429.9,447.2 L432.4,446.2 L434.8,446.7 L437.3,448.2 L436.9,451.2 Z M426.8,443.3 L430.7,441.7 L433.5,441.7 L435.2,442.8 L435.5,444.9 L435.1,447.7 L432.0,446.6 L427.9,446.2 Z M440.4,449.3 L438.0,450.2 L436.7,448.3 L435.8,445.1 L439.8,443.7 L441.4,446.9 Z M436.4,437.3 L434.9,435.7 L435.9,433.6 L438.5,434.1 L440.0,435.5 L438.6,436.7 Z M427.2,443.4 L428.2,443.8 L429.1,444.6 L428.2,445.3 L427.4,446.4 L426.3,445.6 L426.6,444.4 Z M433.9,428.6 L432.3,432.3 L428.7,431.1 L427.8,426.9 L431.5,426.2 Z" fill="#dedede"/>
<path d="M407.2,452.3 L404.5,451.3 L404.2,449.4 L405.2,447.7 L407.2,447.0 L408.9,448.7 L409.0,450.4 Z M393.2,427.2 L393.7,428.7 L393.1,430.1 L390.5,431.3 L389.6,429.1 L389.9,427.1 L391.5,425.9 Z M380.2,434.3 L381.3,435.4 L382.8,436.0 L383.3,437.5 L381.2,437.6 L379.6,438.4 L378.5,437.2 L379.3,435.8 Z M414.1,460.4 L414.9,458.9 L416.2,460.1 L416.2,461.4 L415.1,462.0 L413.6,461.6 Z M423.3,456.7 L421.8,457.6 L420.5,457.7 L420.1,456.6 L420.3,455.6 L421.1,454.3 L422.9,455.2 Z M375.6,447.7 L372.6,446.0 L374.8,443.9 L376.8,443.6 L378.1,444.9 L378.7,447.3 Z M343.7,457.0 L343.5,453.4 L346.0,452.6 L348.7,453.6 L347.2,456.8 Z M383.8,450.4 L388.6,450.8 L386.9,455.1 L382.7,456.3 L380.5,452.4 Z M380.6,446.1 L383.5,445.1 L387.0,446.0 L386.6,448.8 L384.8,450.6 L382.2,450.0 L381.1,448.3 Z M416.5,464.3 L414.5,465.0 L412.3,463.5 L412.8,461.4 L415.5,460.8 L418.2,462.0 Z M401.3,462.8 L401.9,460.0 L406.2,460.0 L406.7,463.6 L402.9,464.8 Z M354.7,462.1 L354.7,460.7 L355.8,460.2 L357.4,459.5 L358.0,460.7 L358.8,461.9 L357.7,463.1 L355.8,462.7 Z M409.6,448.9 L409.1,451.4 L405.8,453.0 L403.1,449.7 L405.6,447.4 L408.6,446.5 Z M394.4,442.8 L395.8,444.1 L395.8,446.2 L393.2,447.2 L391.9,445.7 L391.6,444.2 L391.1,442.1 L393.0,441.0 Z M395.8,436.4 L398.5,438.3 L400.4,442.0 L396.2,445.2 L392.8,442.3 L391.9,437.9 Z M343.8,446.0 L345.3,445.2 L345.2,446.9 L344.8,447.6 L343.6,448.3 L343.3,447.0 Z M372.3,434.6 L372.6,438.9 L368.1,439.4 L365.6,437.4 L367.5,433.4 Z M377.0,471.0 L376.1,470.7 L373.2,470.2 L374.5,468.2 L376.2,467.2 L378.0,467.5 L378.9,469.3 L379.3,471.1 Z M398.2,450.8 L400.6,451.5 L402.5,453.5 L401.6,456.0 L399.6,455.8 L397.8,456.9 L395.5,455.1 L397.6,453.3 Z M393.9,452.5 L394.7,454.9 L391.1,457.2 L389.1,454.3 L389.8,451.6 L392.4,449.4 Z M367.7,442.1 L372.0,440.5 L375.5,441.4 L376.2,446.8 L369.3,446.7 Z M418.3,460.3 L412.2,461.1 L412.5,457.2 L415.0,455.6 L417.9,456.4 Z M383.0,435.1 L383.8,437.7 L381.6,439.6 L379.4,438.0 L379.8,434.9 Z M375.1,427.1 L372.0,426.6 L372.9,424.2 L374.0,421.3 L378.4,422.5 L379.0,425.9 Z M388.8,465.5 L391.3,464.2 L393.8,465.3 L395.5,466.8 L395.2,469.6 L391.3,470.7 L388.5,468.6 Z M379.2,468.7 L379.7,470.7 L377.2,471.3 L375.0,471.1 L374.7,469.3 L376.0,468.4 L377.7,467.2 Z M395.5,451.1 L394.2,453.4 L393.6,455.1 L390.9,455.7 L387.9,454.3 L387.6,451.8 L390.3,449.2 L392.8,449.8 Z M386.4,445.5 L384.1,444.1 L385.8,442.6 L388.2,440.8 L390.2,442.0 L391.9,444.5 L390.4,447.1 L387.7,447.9 Z M401.5,439.5 L400.0,437.6 L402.2,436.3 L403.8,436.7 L406.3,438.6 L403.5,439.9 Z M382.8,449.9 L381.2,451.0 L378.9,450.6 L379.7,448.9 L381.6,448.1 Z M357.8,446.9 L357.9,448.5 L358.9,449.8 L357.0,450.0 L356.0,449.8 L354.8,449.1 L354.9,447.7 L356.2,446.8 Z M349.3,442.9 L352.2,442.1 L352.3,444.9 L349.6,446.0 L348.1,444.3 Z M343.9,438.4 L346.6,437.6 L348.5,437.3 L349.2,439.3 L348.8,441.5 L346.8,440.8 L343.3,440.8 Z M423.6,455.3 L421.4,456.5 L420.7,457.1 L419.8,456.9 L418.9,456.4 L419.2,455.4 L419.8,454.2 L421.0,454.8 Z M377.2,449.1 L377.8,445.7 L381.8,445.3 L382.9,448.1 L380.9,449.3 Z M416.2,434.7 L418.4,437.4 L415.7,439.9 L413.2,438.4 L411.9,436.9 L413.3,435.1 Z M399.7,452.0 L400.2,455.3 L398.9,458.2 L396.1,455.9 L395.9,453.0 Z M382.7,442.2 L383.8,445.7 L382.9,447.4 L381.1,448.2 L380.0,446.5 L379.8,444.1 Z M359.1,441.6 L363.7,442.5 L363.4,446.3 L359.9,450.1 L356.1,445.8 Z M349.6,442.9 L350.2,443.6 L350.1,444.9 L348.9,445.2 L348.0,444.4 L347.3,443.5 L348.6,443.0 Z M415.4,457.9 L414.4,460.0 L412.4,459.9 L412.2,457.9 L413.5,457.0 Z M405.2,432.8 L404.5,433.9 L403.2,435.0 L401.5,434.4 L400.5,433.5 L400.5,432.0 L402.7,432.2 L404.2,431.7 Z M415.2,452.5 L416.1,454.3 L415.4,456.1 L412.4,455.6 L413.1,453.2 Z M401.7,464.6 L401.7,466.9 L401.4,468.8 L399.2,470.4 L397.9,468.3 L397.3,466.7 L398.5,465.3 Z M385.7,449.1 L383.1,448.9 L382.6,447.0 L383.1,445.0 L384.8,444.8 L385.8,445.9 L386.6,447.4 Z M379.7,451.3 L376.1,451.1 L374.4,447.2 L377.8,444.1 L382.2,446.0 L383.3,449.7 Z M404.8,454.2 L406.0,456.1 L404.3,457.3 L401.5,458.3 L398.0,457.1 L400.6,454.6 L401.0,452.6 L403.7,453.1 Z M361.8,445.2 L358.7,447.7 L356.9,445.6 L353.5,443.6 L357.3,441.9 L360.6,442.5 Z M385.0,448.8 L380.1,452.6 L376.8,447.6 L379.7,443.3 L385.8,443.0 Z M403.7,470.0 L401.3,468.2 L402.7,464.8 L405.8,466.6 L407.0,469.6 Z M386.7,460.6 L384.8,463.6 L381.1,462.3 L382.3,459.7 L385.0,458.2 Z M397.7,449.9 L397.4,451.8 L395.2,452.1 L391.8,450.6 L395.2,449.3 Z M388.9,449.0 L387.8,451.6 L385.3,452.3 L383.7,450.3 L385.8,449.2 Z M377.1,468.2 L378.3,468.3 L379.5,468.7 L380.1,469.7 L379.1,470.4 L377.8,470.6 L377.0,469.6 Z M349.9,460.3 L348.6,459.7 L348.9,458.6 L350.0,457.8 L351.4,458.6 L351.1,459.8 Z M373.1,447.7 L377.5,450.9 L381.6,454.9 L374.8,456.7 L371.8,452.6 Z M368.3,467.1 L370.1,468.1 L369.8,469.6 L368.0,469.6 L367.1,469.1 L366.3,467.6 Z M402.1,437.9 L403.8,439.9 L403.0,441.6 L401.1,441.8 L399.1,440.7 L399.0,438.2 Z M347.3,458.3 L348.4,457.4 L349.5,458.1 L349.8,459.2 L348.9,460.2 L347.8,460.5 L346.3,460.1 L346.5,458.9 Z M355.7,462.4 L352.6,461.7 L350.8,460.1 L350.5,457.3 L353.1,456.7 L356.0,455.7 L358.6,457.7 L357.0,460.6 Z M342.0,445.4 L340.5,445.5 L339.9,444.4 L340.1,443.4 L341.5,442.9 L342.4,443.4 L343.2,444.6 Z M382.7,467.4 L386.0,467.9 L385.9,470.4 L384.4,473.1 L381.0,472.0 L380.9,469.3 Z M382.4,436.3 L385.7,438.9 L385.0,442.5 L381.2,443.7 L378.0,443.5 L377.9,439.8 L378.0,436.4 Z M385.9,435.5 L388.0,434.4 L389.3,433.5 L390.2,434.7 L390.6,436.0 L389.9,437.3 L387.8,437.2 Z M381.3,456.3 L383.9,454.4 L387.3,454.2 L389.0,456.6 L387.5,458.9 L386.6,461.0 L384.1,460.5 L381.3,459.1 Z M354.9,453.1 L356.5,455.5 L353.7,457.2 L352.3,455.5 L352.7,454.0 Z M359.1,443.4 L358.3,441.5 L360.4,439.3 L363.2,441.1 L361.9,443.6 Z M406.9,447.5 L404.4,444.6 L406.5,441.6 L409.4,443.2 L409.3,445.0 Z M369.1,464.5 L370.3,465.9 L371.6,467.0 L370.4,467.9 L369.2,469.1 L367.9,468.4 L366.4,467.1 L367.4,465.5 Z M401.5,444.6 L398.3,443.3 L401.4,441.3 L402.5,440.6 L404.2,440.8 L405.2,441.7 L405.3,443.2 L403.9,444.5 Z M363.9,427.6 L366.3,428.6 L364.6,430.5 L362.6,430.7 L361.5,429.2 L362.6,427.9 Z M412.5,442.1 L411.6,442.0 L410.8,441.5 L410.8,440.2 L412.3,439.5 L413.5,440.4 L413.1,441.6 Z M399.8,458.6 L396.1,458.3 L398.2,456.1 L401.3,454.8 L401.4,457.6 Z M377.0,449.3 L379.4,447.3 L381.8,449.0 L386.3,450.9 L383.3,454.0 L380.5,455.6 L377.6,453.8 L374.2,451.8 Z M393.1,437.9 L389.2,441.3 L386.0,437.4 L385.5,432.6 L390.8,434.4 Z M413.2,442.4 L414.1,440.7 L416.4,440.7 L419.1,441.7 L418.8,443.9 L416.7,446.2 L414.4,445.3 L411.8,444.1 Z M372.9,446.9 L370.2,445.5 L371.2,442.2 L375.1,441.7 L376.5,445.3 Z M410.5,450.7 L409.3,452.1 L408.3,452.5 L405.6,452.7 L404.5,450.7 L407.5,450.1 L409.6,449.0 Z M415.8,444.1 L413.6,445.4 L411.1,444.0 L412.0,441.4 L414.5,442.4 Z M367.2,445.6 L368.2,443.8 L369.5,442.6 L371.0,443.4 L373.3,444.3 L373.3,446.3 L370.5,446.5 L368.5,446.8 Z M402.2,430.7 L399.3,430.3 L395.8,429.8 L397.1,427.2 L398.1,425.5 L400.8,425.6 L402.8,426.2 L401.8,428.4 Z M405.5,462.2 L404.7,460.9 L404.1,459.7 L405.6,459.4 L406.7,459.2 L407.4,459.6 L409.1,460.9 L407.3,461.8 Z M363.1,447.5 L364.5,446.0 L366.3,445.5 L367.7,446.3 L368.1,447.6 L366.5,448.3 L365.5,448.2 Z M381.0,442.5 L379.0,441.0 L380.5,439.1 L382.9,438.6 L384.9,439.4 L383.8,441.4 L383.5,443.4 Z M411.9,455.1 L410.6,454.4 L410.7,453.1 L412.4,452.6 L412.5,453.8 Z M369.6,424.5 L369.1,421.6 L371.8,420.8 L373.9,421.3 L374.6,423.3 L372.6,424.2 Z M387.9,446.3 L385.7,450.0 L380.9,451.6 L379.3,448.6 L379.4,443.9 L383.4,444.0 Z M363.9,463.3 L362.3,465.1 L363.1,467.1 L360.4,466.8 L359.5,465.4 L357.9,464.1 L359.6,463.2 L361.5,463.3 Z M346.7,458.5 L343.9,459.2 L341.4,458.0 L343.5,456.2 L345.5,456.2 Z M369.1,452.3 L363.9,455.0 L359.6,452.6 L359.1,448.7 L361.8,445.5 L366.7,444.8 L368.6,448.5 Z M402.8,429.7 L404.2,428.3 L406.5,429.4 L406.1,431.1 L406.7,432.5 L404.7,434.1 L403.7,432.2 L401.4,431.4 Z M363.2,423.6 L364.1,422.1 L365.8,422.3 L367.7,423.1 L367.8,424.8 L365.9,425.2 L364.5,425.4 L363.1,424.9 Z M396.0,461.6 L395.1,458.7 L398.4,457.1 L403.4,459.6 L399.0,463.4 Z M354.3,452.6 L354.6,455.3 L351.7,455.2 L350.6,453.1 L352.5,451.4 Z M402.5,445.5 L401.0,444.9 L400.2,443.6 L401.0,442.0 L403.2,442.1 L404.5,443.3 L404.5,444.9 Z M394.1,456.1 L395.7,453.3 L400.0,452.3 L402.7,455.6 L399.4,458.1 L398.0,461.3 L394.9,458.7 Z M409.7,430.2 L410.5,431.2 L409.2,431.8 L407.9,431.7 L407.6,431.0 L407.2,429.9 L408.4,429.6 L409.2,429.2 Z M383.4,441.5 L386.1,443.5 L386.7,446.8 L383.3,446.9 L378.1,446.9 L378.5,442.4 Z M395.1,459.6 L398.5,459.4 L398.1,462.3 L397.5,464.2 L394.4,464.9 L393.1,462.2 Z M390.3,463.4 L389.4,462.0 L390.3,460.1 L393.4,460.5 L392.9,462.8 Z M374.4,423.2 L377.9,422.3 L378.8,424.2 L378.7,426.3 L376.8,427.1 L376.0,425.4 Z M381.7,460.7 L381.1,461.3 L380.0,461.2 L379.7,460.1 L379.6,458.3 L381.6,458.1 L382.8,459.5 Z M395.9,443.4 L395.6,445.9 L393.8,448.9 L388.9,447.4 L390.1,443.5 L393.2,441.1 Z M374.0,470.0 L377.2,469.0 L379.2,470.0 L380.0,472.3 L379.0,473.9 L377.4,474.7 L375.4,474.0 L374.8,472.5 Z M383.8,441.9 L385.6,439.3 L390.0,438.7 L389.8,442.1 L390.2,444.6 L389.9,448.2 L385.9,447.5 L381.1,445.3 Z M386.7,432.5 L385.8,433.9 L382.9,433.0 L384.7,431.4 L386.2,431.0 Z M418.3,451.9 L416.4,451.4 L414.7,450.1 L416.3,448.9 L417.7,449.3 L419.0,450.3 Z M350.1,449.1 L348.0,448.1 L348.7,446.1 L350.8,446.4 L351.6,447.8 Z M411.8,457.7 L413.7,455.2 L415.6,457.7 L418.0,459.7 L414.6,460.3 L412.7,460.4 L410.2,459.3 Z M420.4,433.1 L420.9,435.2 L419.4,436.4 L417.2,437.0 L416.0,435.0 L415.3,432.4 L418.9,431.6 Z M421.4,442.8 L419.3,444.4 L417.9,442.7 L417.3,441.2 L416.5,438.8 L420.3,438.4 L422.1,440.4 Z M411.8,461.5 L415.0,463.5 L411.7,464.6 L409.2,464.7 L408.8,462.9 L410.1,461.8 Z M411.6,432.7 L412.2,435.2 L409.0,435.8 L408.0,433.5 L409.4,431.6 Z M365.0,433.5 L366.3,435.5 L365.0,437.2 L362.5,438.0 L359.5,436.9 L357.9,433.8 L362.2,431.6 Z M386.8,437.4 L383.7,439.5 L380.7,437.5 L381.3,434.9 L381.1,432.6 L384.4,432.5 L388.6,432.4 L387.4,435.3 Z M387.7,445.8 L384.1,447.8 L383.4,449.4 L379.3,450.3 L380.3,447.1 L380.0,445.2 L382.1,444.5 L384.4,444.1 Z M371.8,464.3 L369.9,464.9 L369.0,463.1 L369.6,461.5 L370.9,460.9 L372.6,461.6 L372.3,463.1 Z M357.2,468.9 L358.4,466.7 L360.7,466.4 L362.3,466.8 L363.3,468.5 L361.5,469.6 L359.5,470.6 Z M418.5,448.0 L419.9,451.5 L415.8,452.0 L414.1,450.5 L415.2,448.5 Z M397.9,465.2 L397.4,467.3 L394.9,467.0 L393.1,466.1 L393.5,464.6 L394.5,463.2 L396.4,461.5 L398.1,463.5 Z M406.7,454.8 L407.7,455.3 L408.4,455.8 L408.5,456.8 L408.7,458.4 L406.5,458.6 L405.8,457.0 L405.9,455.9 Z M359.2,429.6 L360.9,432.2 L359.0,435.5 L354.3,433.6 L354.7,429.6 Z M416.7,459.6 L414.7,458.4 L416.1,456.7 L418.1,457.1 L420.7,458.0 L418.4,459.4 L417.6,460.0 Z M382.7,449.7 L382.6,446.4 L383.4,444.5 L386.6,444.6 L385.9,447.3 Z M406.4,451.0 L406.9,447.9 L410.0,448.8 L410.9,451.3 L408.8,453.8 Z M385.3,443.0 L381.7,443.2 L381.2,440.6 L383.5,439.4 L385.2,439.7 L385.6,441.0 Z M389.3,450.5 L386.9,447.4 L389.0,445.3 L393.2,444.6 L392.7,448.9 Z M383.9,461.7 L386.2,461.7 L388.3,462.6 L389.1,465.4 L387.3,466.4 L384.2,468.3 L383.1,466.2 L382.1,463.7 Z M382.5,464.3 L384.5,462.5 L387.6,463.3 L389.1,464.7 L390.1,467.4 L387.0,469.3 L384.0,468.8 L381.1,466.7 Z M414.2,456.8 L412.0,457.5 L410.4,457.8 L409.5,456.3 L410.5,454.6 L412.2,455.8 Z M369.9,454.9 L372.4,454.4 L373.1,456.3 L372.3,457.9 L370.6,458.3 L368.5,458.3 L368.4,456.9 L366.8,454.5 Z M418.2,438.1 L416.8,438.9 L415.6,438.0 L415.5,436.7 L416.0,435.5 L418.0,435.2 L418.6,436.7 Z M367.5,439.5 L367.0,437.5 L368.9,435.8 L370.9,436.6 L373.1,437.4 L371.7,439.3 L371.5,441.5 L368.5,441.8 Z M386.5,446.7 L383.6,446.6 L379.9,445.6 L379.9,442.5 L383.4,441.7 L385.8,441.9 L386.9,444.0 Z M406.0,467.5 L404.6,468.9 L403.8,467.4 L402.9,466.2 L403.8,464.8 L405.7,465.0 L406.3,466.2 Z M381.1,460.3 L383.4,463.3 L381.3,466.1 L378.0,465.9 L374.5,464.8 L376.8,462.5 L377.5,460.1 Z M366.0,426.6 L367.7,427.1 L369.1,428.1 L369.0,429.8 L367.5,430.6 L365.9,430.3 L365.3,429.2 L363.5,427.5 Z M391.6,424.5 L393.8,424.0 L395.6,425.6 L396.4,428.3 L393.3,429.4 L391.6,428.7 L388.4,427.8 L389.3,425.2 Z M375.9,466.7 L373.2,466.8 L370.0,467.0 L371.2,464.3 L371.7,460.9 L374.2,462.7 L376.0,464.4 Z M420.9,438.5 L420.6,440.4 L419.6,441.2 L418.2,440.5 L418.5,439.1 Z M378.2,459.9 L376.3,455.8 L380.0,453.9 L383.8,454.6 L383.6,459.5 Z M375.6,440.9 L375.8,442.9 L373.8,443.0 L372.4,443.3 L371.7,441.5 L372.0,440.1 L374.4,439.0 Z M391.9,454.1 L392.6,455.3 L394.2,457.1 L392.3,458.0 L389.6,458.6 L388.8,456.5 L389.1,455.0 L389.9,453.4 Z M394.7,454.2 L397.7,452.0 L401.1,453.0 L400.3,455.8 L396.6,457.2 Z M415.1,429.7 L411.4,432.0 L408.4,431.4 L408.2,429.3 L407.5,425.9 L412.6,426.6 Z M420.8,446.9 L421.1,444.8 L422.9,444.8 L424.1,446.3 L422.7,447.9 Z M364.0,433.4 L366.9,431.9 L371.0,433.3 L368.2,436.0 L367.2,439.3 L364.7,437.5 L361.9,435.4 Z M364.4,450.6 L368.1,452.7 L366.4,456.9 L360.9,456.9 L357.3,453.5 L361.1,450.5 Z M361.8,437.0 L362.4,435.8 L363.7,434.2 L365.4,435.7 L366.1,437.8 L363.3,437.7 Z M404.6,452.7 L405.7,453.5 L405.5,454.9 L405.3,456.0 L403.4,457.0 L402.7,455.4 L401.3,454.1 L403.4,453.5 Z M386.1,468.3 L384.8,467.5 L385.1,466.4 L386.1,466.0 L387.1,465.6 L387.7,466.4 L387.9,467.2 L387.2,467.6 Z M415.0,440.3 L412.3,443.3 L411.2,445.8 L408.9,444.4 L405.9,443.7 L406.1,440.6 L408.7,440.3 L411.1,439.5 Z M402.9,437.3 L403.3,439.4 L402.2,441.0 L400.6,442.5 L398.7,440.8 L397.9,438.9 L399.8,437.2 Z M385.9,453.0 L389.4,449.9 L392.8,453.2 L392.2,456.7 L387.5,456.3 Z M368.8,458.7 L367.2,459.5 L365.1,460.7 L363.2,459.8 L362.5,457.5 L364.5,456.1 L366.4,454.8 L367.8,456.7 Z" fill="#e5e5e5"/>
<path d="M546.1,503.0 L544.0,501.8 L542.3,500.7 L543.0,498.9 L544.5,497.3 L547.0,497.6 L549.0,499.6 L547.6,501.5 Z M518.4,481.1 L517.8,482.1 L516.6,482.4 L515.4,481.1 L517.2,479.7 Z M537.7,509.7 L537.5,511.8 L535.2,513.9 L532.7,511.6 L532.8,509.5 L533.5,507.1 L536.4,508.7 Z M539.8,486.1 L537.3,485.7 L535.8,484.0 L537.6,482.0 L540.2,483.4 Z M536.9,510.5 L538.2,510.8 L540.0,511.7 L538.6,513.0 L538.2,514.9 L535.9,514.7 L536.3,512.8 L534.5,511.3 Z M520.7,508.6 L518.6,509.6 L516.5,507.7 L517.3,505.9 L517.5,504.3 L520.3,504.1 L522.4,504.8 L522.8,507.4 Z M518.6,505.9 L516.9,505.3 L515.5,503.8 L517.7,502.8 L519.1,504.1 Z M546.8,501.0 L547.2,503.1 L544.7,503.9 L543.5,502.7 L543.3,501.2 L544.9,500.8 Z M526.6,492.3 L526.3,494.1 L523.8,494.7 L523.6,492.6 L523.7,490.4 L526.8,489.8 Z M545.1,491.2 L546.6,490.5 L546.8,492.2 L546.4,493.1 L545.5,493.9 L544.8,492.9 L543.5,491.9 Z M521.0,497.1 L524.2,494.9 L527.6,495.9 L526.4,499.5 L524.0,499.2 Z M525.9,493.1 L528.2,492.5 L529.9,494.2 L527.8,495.8 L526.5,496.1 L525.1,495.8 L524.8,494.1 Z M540.0,490.4 L537.8,491.4 L536.1,489.0 L537.2,487.1 L539.7,486.7 L541.9,487.7 L543.1,489.7 Z M528.5,487.4 L530.7,489.2 L531.3,492.8 L527.0,494.5 L524.2,492.2 L523.4,489.8 L521.4,486.4 L526.3,487.1 Z M521.2,497.8 L519.1,499.8 L516.0,500.4 L513.1,497.8 L515.1,494.8 L517.9,492.0 L521.3,494.4 Z M527.8,492.6 L530.1,492.1 L531.9,492.2 L533.8,492.8 L532.8,494.1 L531.6,494.9 L529.9,495.6 L527.8,494.8 Z M508.6,494.6 L504.0,494.4 L502.8,490.9 L506.7,488.9 L510.3,491.4 Z M535.1,495.5 L537.4,494.9 L539.6,495.9 L538.9,498.2 L536.9,499.6 L534.1,498.7 L534.4,496.8 Z M521.3,497.5 L525.6,500.6 L523.7,504.4 L519.9,506.9 L515.4,503.7 L518.1,500.8 Z M509.3,509.1 L509.1,506.8 L512.4,507.2 L514.1,507.1 L515.7,508.7 L513.9,510.4 L512.8,510.6 L510.3,511.1 Z M544.6,494.8 L546.5,493.5 L547.5,495.5 L547.1,497.2 L546.1,498.6 L543.6,498.3 L543.9,496.3 Z M518.6,504.5 L517.4,502.5 L517.4,501.2 L518.8,499.3 L520.7,500.2 L521.5,501.5 L522.8,503.4 L520.8,504.7 Z M529.1,494.3 L532.0,494.1 L532.5,496.8 L530.2,497.2 L528.1,496.2 Z M540.2,497.7 L543.4,498.2 L543.6,500.8 L542.0,502.3 L540.1,502.3 L539.3,500.5 Z M534.0,498.6 L530.9,499.5 L527.9,498.2 L529.0,495.6 L527.5,492.2 L531.5,491.7 L534.8,493.0 L534.7,496.0 Z M527.2,496.5 L528.5,500.4 L523.6,499.7 L521.0,499.1 L518.1,496.2 L522.7,494.8 L525.9,493.8 Z M508.9,485.8 L512.8,485.8 L515.7,486.9 L513.8,489.3 L510.6,489.2 Z M525.5,508.2 L521.3,504.8 L526.0,500.6 L529.9,502.9 L534.4,506.4 L528.6,507.8 Z M515.8,502.1 L513.4,500.1 L512.2,496.6 L515.9,494.3 L519.4,495.7 L519.6,498.3 L519.7,501.5 Z M534.3,512.3 L532.2,511.8 L531.7,510.4 L532.2,508.4 L534.4,508.6 L536.0,510.8 Z M510.1,505.0 L508.3,504.1 L507.4,502.7 L508.9,502.1 L510.4,502.7 Z M531.4,500.8 L532.6,502.9 L530.4,505.4 L527.5,503.5 L526.9,501.4 L527.8,498.3 L531.4,497.7 Z M513.2,493.5 L511.9,497.8 L507.4,498.4 L507.1,494.7 L508.9,492.5 Z M539.3,492.6 L536.8,491.0 L539.4,489.7 L540.8,489.6 L542.8,490.8 L541.4,492.4 Z M540.5,499.4 L544.4,498.6 L545.1,502.1 L543.5,505.3 L539.7,504.5 L539.1,501.4 Z M527.8,482.3 L526.0,483.4 L524.9,481.6 L526.1,480.3 L527.6,480.4 L528.1,481.3 Z M518.5,503.5 L516.2,501.8 L515.8,498.1 L519.3,495.4 L523.3,497.3 L525.6,500.9 L522.2,504.7 Z M504.4,499.9 L508.1,500.2 L507.8,502.7 L506.0,504.8 L502.4,503.0 Z M536.6,506.9 L537.1,508.2 L536.0,509.3 L534.6,508.4 L535.0,507.4 L535.5,506.1 Z M511.3,498.5 L513.6,496.8 L516.3,498.7 L515.7,502.4 L511.5,501.3 Z M522.6,508.9 L519.3,505.4 L521.3,501.7 L526.4,501.8 L527.4,506.4 Z M546.1,499.6 L545.4,500.4 L544.2,499.9 L542.7,498.3 L544.6,497.6 L546.2,497.5 L548.3,498.6 Z M528.0,500.7 L526.5,503.6 L524.5,505.7 L521.0,505.1 L518.1,501.8 L519.7,498.0 L525.0,498.5 Z M513.6,483.4 L513.4,481.7 L515.4,481.9 L516.4,483.5 L514.5,485.0 Z M524.3,489.2 L524.3,490.8 L524.0,492.4 L521.9,492.1 L519.6,491.8 L518.9,489.9 L521.7,489.2 L523.2,488.1 Z M515.6,482.5 L518.6,481.7 L520.8,480.9 L520.7,482.7 L521.7,484.6 L519.4,485.4 L516.3,484.7 Z M538.9,505.4 L538.1,502.7 L541.4,502.7 L546.1,503.9 L542.6,507.2 L539.9,507.6 Z M509.1,507.8 L511.1,505.2 L513.4,504.5 L515.2,505.8 L516.9,509.0 L512.4,510.5 Z M541.1,491.4 L538.8,491.8 L535.8,490.3 L538.6,489.1 L540.9,488.8 Z M526.1,504.5 L530.8,500.5 L535.0,503.1 L535.2,507.3 L530.3,508.8 Z" fill="#e6e6e6"/>
<path d="M592.2,459.7 L594.0,460.6 L594.0,462.6 L593.1,465.5 L590.1,463.6 L589.9,462.1 L588.4,459.4 Z M635.4,455.9 L637.3,454.1 L638.7,456.1 L639.4,457.8 L638.1,458.9 L635.9,459.0 L632.7,457.8 Z M613.0,463.4 L616.2,462.7 L619.5,463.9 L617.4,466.3 L615.0,468.9 L613.9,465.8 Z M609.3,459.8 L606.1,456.4 L610.5,455.0 L613.6,455.1 L617.2,457.3 L612.8,458.9 Z M583.1,466.5 L581.2,463.2 L584.5,461.3 L588.5,462.6 L586.5,466.2 Z M624.6,444.9 L625.2,446.3 L624.7,448.0 L622.8,447.2 L621.9,446.3 L622.8,445.0 Z M599.2,459.5 L600.5,459.0 L602.3,459.8 L600.9,461.1 L599.2,461.0 Z M608.7,466.8 L607.2,468.8 L604.3,470.8 L602.5,468.1 L600.9,465.7 L604.8,464.9 L606.7,465.2 Z M584.7,455.3 L587.8,456.1 L589.2,458.4 L586.5,460.2 L582.2,458.7 Z M590.9,452.2 L592.2,448.5 L596.0,449.4 L598.7,451.1 L599.2,454.6 L595.2,455.7 L592.0,455.9 Z M635.1,454.6 L636.0,453.6 L637.6,453.4 L637.2,455.1 L635.9,455.4 Z M617.3,455.4 L622.2,456.5 L623.3,459.7 L621.9,463.0 L618.0,463.7 L615.6,462.0 L613.6,457.9 Z M625.1,454.3 L625.4,457.3 L622.2,457.9 L619.7,457.5 L617.5,455.5 L620.3,453.7 L621.2,452.5 L623.8,452.9 Z M602.9,447.2 L603.2,448.1 L602.3,448.8 L601.4,449.4 L599.3,449.0 L599.7,447.5 L600.8,446.6 L602.0,446.5 Z M604.1,466.7 L602.2,464.2 L604.6,462.2 L607.5,460.9 L610.0,462.7 L610.8,465.4 L607.5,466.0 Z M606.8,465.8 L605.2,463.0 L606.6,460.6 L609.4,457.3 L611.7,461.4 L612.1,465.6 Z M625.8,460.4 L627.6,462.8 L625.5,466.1 L622.0,466.4 L621.8,463.1 L622.6,461.5 Z M588.9,460.4 L590.8,460.2 L591.3,462.2 L590.0,463.3 L588.5,463.2 L588.2,461.8 Z M615.3,465.2 L619.6,466.5 L616.6,469.8 L612.5,469.1 L612.3,466.1 Z M594.9,447.4 L593.4,446.7 L594.1,445.0 L596.2,445.2 L596.7,446.9 Z M609.4,465.8 L608.3,464.0 L609.9,462.7 L611.3,462.9 L612.0,464.3 L611.4,466.2 Z M587.0,449.4 L586.3,451.2 L584.9,452.5 L583.1,452.1 L581.4,450.3 L583.7,449.1 L585.0,448.2 Z M613.3,452.7 L610.5,455.0 L608.4,453.2 L608.8,450.5 L612.6,449.2 Z M630.3,465.2 L629.4,467.7 L626.8,466.3 L624.0,463.6 L627.4,460.3 L631.2,462.2 Z M626.6,456.1 L624.4,457.5 L622.8,459.1 L620.0,458.2 L618.0,456.1 L619.9,454.1 L622.7,453.4 L625.2,453.6 Z M621.2,472.8 L617.7,473.8 L616.7,469.9 L619.7,468.1 L623.2,470.0 Z M607.2,445.1 L612.9,445.1 L613.6,449.4 L609.1,451.6 L605.7,448.9 Z M597.5,466.4 L597.5,469.1 L595.1,470.0 L593.7,469.0 L592.7,467.0 L594.5,465.2 Z M604.9,460.3 L606.3,458.4 L608.2,458.4 L611.4,459.5 L611.2,462.4 L609.5,464.9 L606.4,463.4 L605.3,462.3 Z M615.9,456.8 L615.6,453.3 L619.0,452.6 L621.7,453.7 L621.2,456.2 L618.9,456.8 Z M596.2,462.1 L593.9,460.3 L591.0,457.8 L595.2,457.1 L597.7,456.2 L598.7,458.0 L597.8,459.7 Z M628.4,465.6 L629.8,462.8 L633.0,463.4 L633.3,466.4 L630.5,467.7 Z M582.6,469.2 L580.4,469.3 L579.9,467.8 L578.7,466.7 L580.2,466.0 L581.1,465.9 L581.9,466.6 L582.6,467.8 Z M609.0,445.9 L610.7,447.6 L610.4,449.3 L608.3,449.3 L607.1,447.8 Z M580.3,470.2 L578.2,468.4 L579.5,465.9 L581.8,465.8 L583.8,467.0 L583.2,469.3 Z M629.8,449.6 L628.7,449.7 L628.6,448.6 L629.4,447.8 L630.5,447.4 L630.9,448.6 L630.7,449.7 Z M620.6,475.6 L618.1,476.3 L617.2,474.1 L618.9,472.5 L621.7,471.8 L622.5,474.1 Z M610.4,457.5 L610.0,459.4 L608.5,461.8 L606.3,459.9 L603.7,459.3 L603.8,456.7 L606.3,456.1 L609.4,455.5 Z M599.7,462.6 L597.6,460.4 L596.3,457.3 L598.7,455.7 L601.7,454.3 L603.0,457.3 L603.6,459.1 L602.8,461.7 Z M616.4,458.3 L614.9,459.7 L613.2,461.7 L610.4,460.6 L610.0,458.7 L610.9,457.2 L612.5,455.1 L614.0,457.1 Z M635.4,460.8 L635.5,458.2 L638.1,457.4 L641.3,457.7 L640.8,460.9 L638.1,462.9 Z M588.8,470.3 L588.8,469.4 L590.1,469.1 L590.6,469.8 L590.7,470.6 L590.7,471.7 L589.5,471.9 L588.4,471.2 Z M586.6,458.3 L585.7,454.9 L588.9,453.5 L591.4,453.5 L593.6,455.1 L591.8,457.1 L590.5,457.7 Z M597.2,454.9 L595.0,455.0 L596.1,453.5 L595.9,452.0 L597.4,452.4 L598.8,453.0 L598.1,454.2 Z M604.9,461.2 L602.6,460.6 L600.0,458.9 L602.2,456.1 L604.6,456.4 L609.8,456.8 L607.8,460.5 Z M592.4,459.1 L589.2,458.6 L587.3,455.7 L590.3,453.7 L592.6,455.8 Z M597.7,456.1 L594.2,456.0 L591.8,454.4 L593.0,451.7 L595.7,451.3 L599.6,452.7 Z M597.9,460.7 L598.1,462.5 L595.5,462.9 L594.9,460.8 L596.5,459.3 Z M603.4,467.1 L602.2,461.8 L604.2,458.0 L610.9,458.9 L608.7,464.0 Z M606.6,462.3 L604.1,460.5 L605.9,458.8 L607.9,458.6 L609.4,458.9 L610.8,460.1 L610.3,462.1 L608.2,462.3 Z M591.6,452.3 L593.6,449.9 L597.9,450.4 L596.5,453.3 L595.1,455.4 L593.1,454.0 Z M602.3,462.2 L599.5,463.1 L596.6,462.2 L591.6,459.3 L594.9,455.2 L599.1,455.5 L602.0,455.8 L602.2,458.9 Z M595.8,470.5 L593.2,470.5 L592.4,468.6 L592.8,466.3 L594.8,466.1 L597.1,464.9 L598.4,467.5 L597.3,469.6 Z M626.9,446.5 L628.1,448.8 L628.8,450.1 L627.6,451.7 L626.1,451.1 L624.6,450.7 L624.3,449.3 L625.2,447.8 Z M591.7,469.1 L593.0,468.5 L595.2,468.7 L594.9,470.8 L593.5,471.4 L591.6,472.2 L590.8,470.4 Z M590.7,452.2 L591.3,453.8 L590.1,455.1 L587.9,455.2 L587.7,453.4 L588.5,452.0 Z M601.4,468.1 L603.6,470.7 L601.2,472.3 L598.4,473.4 L597.9,470.7 L598.8,469.0 Z M611.0,455.0 L613.9,452.1 L617.5,453.7 L618.9,454.9 L621.2,457.1 L617.9,458.1 L615.4,459.5 L612.0,458.4 Z M622.5,465.0 L622.0,468.3 L618.0,467.6 L613.9,466.4 L616.3,463.3 L618.2,461.4 L621.5,462.8 Z M641.5,462.6 L639.0,462.5 L637.9,461.2 L638.2,459.5 L638.3,457.7 L640.8,456.4 L641.9,458.6 L643.4,460.5 Z M620.8,461.7 L623.3,464.0 L621.5,466.6 L619.8,469.6 L616.6,468.6 L616.2,465.3 L617.0,462.6 Z M579.5,471.7 L578.4,468.8 L581.5,467.4 L583.8,466.1 L587.1,467.9 L586.2,470.8 L583.0,471.3 Z M591.9,463.0 L595.3,462.7 L598.7,463.3 L599.6,466.5 L596.7,468.4 L593.8,468.6 L590.9,467.6 L590.2,464.9 Z M633.7,465.6 L632.9,465.2 L632.0,464.5 L632.6,463.6 L633.5,462.3 L634.7,463.1 L635.1,464.2 L634.3,465.0 Z M608.7,462.8 L611.2,462.9 L613.0,465.3 L610.3,467.2 L608.4,467.1 L606.6,466.5 L603.5,464.9 L605.6,462.7 Z M613.8,466.2 L613.0,468.7 L610.9,470.4 L608.3,470.1 L606.1,468.0 L608.7,466.3 L609.1,463.5 L612.1,464.2 Z M591.3,452.5 L591.6,450.1 L594.3,450.4 L596.3,451.6 L595.2,453.2 L592.3,454.9 Z M578.9,453.9 L579.7,452.5 L581.7,452.6 L583.2,454.7 L581.2,455.9 L579.6,456.4 L578.9,455.3 Z M621.4,462.3 L618.7,462.2 L615.6,461.0 L616.5,458.7 L618.9,456.9 L621.5,457.8 L621.5,460.1 Z M591.3,469.5 L593.7,469.5 L595.0,470.9 L595.5,473.2 L592.1,473.7 L590.1,474.1 L586.7,472.2 L588.0,469.7 Z M607.0,474.7 L606.6,475.8 L605.4,477.1 L603.0,476.5 L603.7,474.6 L604.6,473.3 L606.6,473.2 Z M624.9,455.5 L627.1,457.1 L628.4,458.6 L629.4,461.1 L627.0,461.9 L625.2,460.8 L622.1,460.0 L623.3,457.8 Z M600.6,464.3 L601.4,463.4 L602.2,463.0 L603.5,462.7 L604.1,464.1 L604.3,465.5 L602.4,465.8 L600.7,465.7 Z M628.4,453.2 L630.5,456.7 L626.2,457.5 L624.0,456.3 L624.5,453.7 Z M631.0,463.2 L629.2,463.0 L629.1,461.5 L629.9,460.0 L631.5,460.9 L632.6,462.0 Z M631.8,471.1 L630.4,469.3 L631.0,467.9 L632.8,467.3 L633.7,469.3 Z M634.9,462.7 L634.0,461.1 L634.9,459.2 L637.3,459.6 L637.6,461.3 L637.2,462.9 Z M637.2,464.7 L638.7,465.0 L639.0,466.7 L637.2,466.6 L635.2,467.2 L635.8,465.6 L636.0,464.1 Z M614.5,458.6 L610.4,462.2 L605.0,459.7 L605.8,456.2 L607.7,453.7 L611.5,454.4 Z M586.0,466.8 L584.5,468.6 L583.1,466.7 L580.7,464.9 L581.7,461.9 L585.1,462.3 L587.0,463.9 L589.9,465.5 Z M596.4,445.6 L596.8,447.2 L594.9,447.6 L593.8,447.2 L593.1,446.1 L594.7,445.8 Z M621.2,449.6 L621.9,448.6 L624.0,447.4 L624.3,449.6 L623.7,450.7 L624.0,452.8 L621.5,452.1 L619.3,451.3 Z M619.4,471.2 L618.8,473.2 L616.3,473.4 L614.8,471.5 L614.5,469.2 L616.0,467.0 L619.1,467.5 L620.3,469.6 Z M612.4,460.0 L610.2,460.1 L607.5,460.0 L608.2,457.7 L607.3,454.5 L610.6,453.9 L613.3,455.5 L614.1,457.9 Z M586.8,456.0 L587.1,458.7 L583.2,458.6 L582.9,456.0 L583.9,454.7 L586.7,453.5 Z M594.8,444.7 L596.4,444.5 L597.0,446.2 L595.4,446.9 L594.6,445.9 Z M612.4,458.7 L609.5,461.3 L605.6,458.8 L606.1,454.9 L609.7,453.6 L615.0,452.4 L615.9,456.8 Z M590.2,466.9 L586.9,466.5 L583.4,463.9 L587.7,461.4 L590.4,462.6 L593.4,464.8 Z M596.4,454.8 L594.6,451.7 L595.5,448.5 L598.6,447.3 L601.7,448.3 L601.9,451.1 L602.3,454.9 Z M588.3,453.0 L588.8,455.0 L587.2,456.8 L584.0,456.8 L583.2,454.6 L582.9,452.0 L586.1,452.2 Z M630.8,448.2 L630.1,450.2 L628.4,450.1 L626.4,450.0 L627.1,448.3 L628.7,447.6 Z M605.2,447.0 L606.7,445.7 L608.2,445.7 L609.2,446.4 L611.8,447.6 L610.3,449.7 L607.8,448.7 L605.7,448.6 Z M584.9,462.2 L587.6,461.8 L590.3,461.4 L591.8,463.3 L589.3,464.6 L587.5,465.0 L584.9,464.5 Z M607.2,447.5 L610.6,447.2 L613.1,449.1 L610.4,450.6 L606.9,450.5 Z M605.8,457.0 L611.1,453.3 L616.9,454.6 L615.8,459.5 L613.5,463.0 L608.0,461.2 Z M614.2,454.0 L617.3,453.3 L620.1,454.5 L618.6,456.7 L616.7,457.1 L615.6,456.0 Z M576.8,459.6 L579.2,458.6 L581.9,460.2 L580.0,462.8 L577.2,461.8 Z M597.0,457.2 L601.0,458.6 L598.3,463.1 L593.0,462.0 L593.7,458.3 Z M619.0,460.9 L618.7,458.1 L621.6,456.5 L626.4,456.8 L625.3,461.1 L622.2,463.8 Z M633.4,453.5 L631.4,456.9 L627.1,458.2 L625.0,455.0 L628.4,452.6 Z M621.7,452.4 L621.9,453.6 L622.0,454.8 L620.1,455.8 L618.1,454.8 L617.4,452.9 L620.0,452.4 Z M596.9,462.5 L598.0,464.0 L595.6,464.5 L594.5,464.7 L592.1,464.2 L593.7,462.6 L594.5,461.8 L596.2,461.0 Z" fill="#dedede"/>
<path d="M612.4,459.0 L615.2,460.4 L612.1,461.7 L610.7,462.9 L608.3,461.8 L606.2,460.1 L609.3,458.9 L611.1,457.0 Z M621.6,464.1 L623.6,461.3 L628.7,459.9 L629.5,464.4 L632.2,468.4 L626.6,469.4 L623.7,466.9 Z M624.5,466.7 L623.1,467.8 L620.3,467.3 L621.6,465.5 L624.5,464.3 Z M620.9,473.0 L621.4,471.1 L622.9,470.0 L624.4,470.5 L625.8,471.6 L626.1,474.3 L622.8,475.1 Z M630.0,460.5 L630.2,464.0 L626.7,464.8 L623.4,462.8 L625.8,459.3 Z M624.6,476.7 L621.9,477.1 L621.9,474.8 L622.3,472.6 L624.7,473.7 L626.5,475.0 Z M611.2,472.7 L610.3,472.2 L609.9,471.2 L611.5,470.8 L611.9,471.8 Z M622.3,471.6 L616.2,469.9 L618.1,464.2 L624.3,463.8 L626.0,468.3 Z M624.4,465.2 L622.0,465.2 L619.3,463.0 L619.3,460.6 L621.1,458.3 L624.2,459.8 L627.5,460.8 L628.0,463.5 Z M626.6,467.5 L627.1,464.5 L627.2,462.0 L630.0,462.3 L632.7,464.8 L629.9,467.8 Z M624.6,470.8 L625.8,471.2 L626.9,471.8 L628.5,473.3 L625.8,473.7 L624.5,473.8 L623.5,472.9 L624.3,471.8 Z M639.2,465.7 L636.6,466.1 L636.2,463.9 L638.0,461.7 L640.7,463.7 Z M619.1,466.7 L621.1,464.9 L624.8,466.0 L624.8,468.7 L622.4,470.5 L619.3,471.3 L616.5,468.3 Z M619.9,473.6 L617.8,472.2 L617.6,470.2 L620.2,469.5 L621.6,470.7 L622.7,472.5 Z M629.4,463.7 L630.9,467.6 L626.5,468.4 L623.1,465.8 L626.2,462.5 Z M624.1,465.6 L624.8,464.4 L626.4,463.6 L627.8,463.6 L628.4,464.9 L628.6,466.6 L627.0,467.0 L626.0,466.5 Z M627.9,463.2 L629.6,465.2 L629.7,468.0 L627.4,470.1 L623.0,469.1 L624.3,465.9 L624.8,463.7 Z M613.5,466.2 L612.1,468.1 L611.4,469.4 L609.8,469.2 L606.6,469.1 L607.1,466.6 L608.1,464.4 L612.0,464.4 Z M623.7,464.5 L624.7,463.2 L627.3,462.9 L631.1,464.9 L628.2,467.1 L625.3,467.1 L623.6,466.2 Z M604.0,459.2 L606.0,458.2 L609.5,458.3 L609.6,460.9 L607.7,462.5 L605.9,463.7 L604.2,461.8 Z M629.5,458.9 L629.2,461.6 L626.0,462.8 L623.9,460.6 L623.5,458.6 L624.2,456.2 L626.4,454.9 L628.5,457.2 Z M633.6,456.6 L631.2,458.8 L627.8,458.9 L625.6,456.6 L627.6,454.3 L630.6,455.2 Z M607.9,467.6 L605.7,468.0 L604.5,466.8 L602.9,465.6 L604.1,464.0 L606.0,463.4 L607.2,464.4 L607.8,465.9 Z M613.3,461.3 L617.3,460.0 L620.8,463.3 L620.0,467.5 L614.9,469.6 L612.4,465.9 L610.6,463.6 Z M630.8,468.0 L624.9,467.3 L620.2,469.0 L616.9,465.1 L619.6,461.8 L623.6,459.0 L627.0,461.0 L631.6,463.8 Z M632.2,466.9 L632.5,469.1 L630.2,469.1 L627.6,468.2 L630.0,466.9 Z M634.4,470.1 L631.0,468.7 L632.6,466.0 L635.8,466.3 L639.6,467.3 L636.6,469.8 Z M630.9,461.7 L630.4,459.4 L633.3,459.9 L634.7,461.7 L632.9,463.0 L631.3,462.9 Z M620.1,456.0 L621.4,458.4 L619.1,459.0 L616.2,458.7 L615.8,455.7 L618.2,453.9 Z M608.0,463.3 L610.1,462.3 L612.1,463.7 L611.0,465.8 L607.9,465.7 Z" fill="#d6d6d6"/>
<path d="M611.0,437.7 L610.7,441.1 L607.1,440.5 L604.8,440.0 L605.3,436.8 L608.2,435.3 Z M604.3,434.8 L604.3,432.7 L606.0,431.3 L607.8,432.4 L608.2,433.8 L608.9,435.8 L606.0,436.2 Z M589.5,443.5 L592.2,443.2 L594.6,445.7 L592.0,448.0 L588.8,447.1 Z M600.8,432.4 L604.6,433.2 L602.7,435.8 L599.9,437.8 L596.9,435.5 L598.6,433.0 Z M598.1,435.0 L600.7,435.7 L602.4,437.6 L600.0,438.5 L597.7,439.1 L598.0,437.1 Z M586.3,444.3 L586.3,443.4 L585.9,442.1 L587.2,442.1 L588.6,442.2 L588.7,443.7 L587.9,444.6 Z M606.7,435.5 L605.9,438.0 L602.8,437.0 L601.8,433.9 L605.9,433.0 Z M590.0,440.8 L589.3,442.7 L587.5,442.4 L586.8,440.9 L588.3,439.6 Z M604.2,438.8 L602.3,439.1 L601.2,437.6 L599.2,435.1 L602.5,433.9 L605.4,434.8 L607.0,436.2 L606.0,437.8 Z M594.6,445.6 L592.8,444.7 L593.4,442.2 L594.8,440.1 L598.3,441.4 L598.5,443.8 L596.8,445.1 Z M606.2,436.0 L607.6,434.7 L610.5,434.4 L612.0,436.9 L609.2,438.7 L607.3,437.5 Z M589.9,436.2 L589.2,437.4 L587.3,436.7 L587.7,434.7 L589.7,435.0 Z M598.3,445.4 L596.2,443.5 L598.0,441.2 L600.0,441.6 L601.4,443.0 L600.8,445.0 Z M598.8,442.2 L602.0,441.3 L603.8,444.6 L600.0,446.5 L598.1,444.5 Z" fill="#e5e5e5"/>
<path d="M607.5,537.2 L604.8,534.0 L607.3,531.0 L610.1,530.1 L614.0,530.9 L613.0,533.5 L611.8,535.5 Z M605.6,533.1 L607.9,534.6 L610.4,536.9 L608.1,539.8 L604.4,538.6 L603.8,536.0 Z M604.2,542.8 L602.8,542.2 L603.3,540.4 L604.8,540.9 L605.6,542.2 Z M608.9,536.2 L609.5,539.8 L609.5,543.3 L605.4,541.7 L604.0,539.5 L605.9,537.6 Z M613.5,551.8 L610.8,553.3 L607.5,551.3 L609.7,549.2 L611.2,546.8 L614.7,548.8 Z M611.4,531.1 L610.4,530.7 L609.5,529.6 L610.1,528.6 L611.5,528.0 L612.6,528.7 L612.6,529.7 L612.3,530.5 Z M616.5,536.8 L616.4,534.4 L616.5,532.3 L619.3,531.3 L620.4,533.7 L619.8,535.1 L618.8,536.2 Z M607.2,542.3 L607.7,539.5 L609.6,539.0 L611.4,540.0 L610.7,542.8 Z M611.7,539.3 L615.3,540.7 L613.9,543.5 L610.0,545.6 L608.6,542.3 L608.7,539.1 Z M610.7,548.1 L607.3,546.4 L607.1,544.1 L609.1,541.2 L611.2,544.5 Z M614.2,534.8 L615.3,532.2 L617.6,531.4 L619.9,531.6 L622.4,534.2 L619.6,536.9 L617.0,536.3 Z" fill="#e6e6e6"/>
<path d="M641.1,223.0 L638.5,223.8 L637.7,220.6 L638.6,218.1 L641.4,217.5 L642.8,219.7 L643.4,221.6 Z M650.1,219.9 L645.8,216.9 L645.2,212.5 L652.4,211.2 L655.3,216.3 Z M643.7,217.3 L643.7,212.2 L647.6,211.1 L650.7,212.7 L648.5,215.4 Z M643.0,215.6 L640.8,212.8 L641.7,209.3 L644.6,209.6 L648.9,209.5 L648.7,213.0 L645.8,214.7 Z M658.8,213.9 L657.4,211.8 L660.5,209.8 L662.6,210.8 L666.0,212.0 L663.2,214.3 L661.3,215.2 Z M654.4,207.9 L653.5,211.3 L650.0,212.5 L648.6,209.0 L650.8,206.5 Z M644.0,213.9 L649.5,210.1 L655.7,211.6 L653.5,217.1 L649.6,217.1 Z M646.7,208.1 L646.9,210.3 L644.7,211.0 L642.7,209.6 L643.9,207.6 Z M650.4,222.5 L646.7,221.4 L645.9,218.1 L648.7,215.1 L652.1,216.6 L655.6,217.0 L657.0,219.9 L654.3,222.0 Z M652.4,220.5 L657.5,222.3 L654.9,225.7 L653.0,227.4 L649.0,228.2 L648.8,224.9 L649.6,222.1 Z M649.5,204.3 L650.6,207.3 L647.1,208.0 L642.4,206.1 L646.4,202.9 Z M656.7,213.4 L660.4,213.3 L661.5,215.9 L659.4,219.2 L655.7,216.4 Z M646.2,225.2 L645.8,223.2 L647.0,220.5 L649.4,221.0 L651.9,222.0 L653.0,224.1 L650.8,225.7 L648.6,225.9 Z M638.8,219.2 L637.9,216.8 L638.6,214.2 L643.3,214.2 L643.2,218.6 Z M642.5,220.5 L643.0,216.2 L646.9,217.6 L649.3,220.7 L645.4,222.2 Z M643.1,216.2 L640.7,212.9 L642.6,208.9 L648.2,208.7 L650.6,211.9 L651.5,215.7 L647.4,215.5 Z M647.0,214.2 L650.2,213.3 L652.7,213.2 L652.9,215.7 L652.6,218.0 L649.3,218.9 L647.4,216.9 Z M651.5,203.2 L652.9,204.1 L653.2,205.0 L653.7,206.1 L652.6,207.4 L651.4,206.0 L650.3,205.4 L651.0,204.4 Z M648.4,205.5 L651.4,206.1 L653.0,207.9 L651.9,210.0 L649.6,209.7 L648.3,208.3 Z M654.2,216.6 L656.7,217.7 L654.7,219.7 L655.0,222.5 L651.8,222.1 L649.6,220.0 L649.2,217.6 L651.6,215.6 Z M648.7,207.9 L648.3,211.3 L645.6,214.7 L641.1,211.3 L644.0,207.0 Z M647.5,202.6 L647.3,203.5 L647.1,204.4 L645.9,204.9 L645.5,204.0 L645.2,203.1 L645.9,202.6 L646.6,202.5 Z M660.2,214.1 L658.7,215.1 L656.9,214.6 L656.0,212.9 L657.5,211.7 L659.0,212.0 L660.3,212.0 L660.6,213.2 Z M657.6,210.1 L656.5,213.6 L651.9,213.6 L649.0,209.9 L651.6,206.3 L654.7,208.0 Z M658.1,214.2 L658.2,216.0 L657.1,218.7 L652.9,217.7 L651.7,215.1 L653.7,213.2 L655.7,210.8 L657.9,212.5 Z M641.6,203.9 L640.7,205.3 L640.7,206.5 L639.5,206.7 L638.1,206.7 L638.3,205.3 L637.9,204.1 L639.5,204.1 Z M654.2,214.8 L657.9,216.1 L655.8,218.8 L655.8,221.0 L653.8,220.7 L651.5,220.5 L651.9,218.5 L651.7,216.4 Z M640.1,227.2 L639.9,225.4 L640.4,224.0 L642.3,222.8 L643.0,224.6 L643.5,225.9 L642.4,226.9 Z M640.8,206.4 L641.9,208.6 L640.6,210.0 L640.0,212.0 L638.0,211.4 L636.2,210.0 L635.7,207.6 L638.7,207.5 Z M650.2,221.9 L654.3,222.6 L654.7,226.4 L650.9,226.9 L647.8,225.3 Z M643.3,204.3 L642.3,204.0 L641.5,203.0 L641.9,201.7 L643.3,202.0 L643.8,202.5 L645.1,203.7 Z M644.1,224.6 L642.0,222.9 L641.7,221.2 L644.3,220.9 L645.3,222.6 Z M636.0,219.3 L633.2,218.1 L631.9,215.4 L635.7,213.2 L638.3,216.4 Z" fill="#dddddd"/>
<path d="M503.0,557.0 L506.2,557.8 L507.4,559.3 L505.3,560.5 L503.4,559.8 Z M492.6,563.1 L493.4,565.9 L491.5,567.7 L487.3,567.0 L490.2,564.4 Z M499.0,561.9 L498.7,559.3 L499.8,557.2 L503.2,557.4 L503.4,559.7 L503.5,562.3 L501.0,562.5 Z M492.6,552.0 L494.2,550.8 L495.8,551.0 L497.0,553.0 L495.1,553.7 L493.6,553.4 Z M502.8,561.7 L501.7,559.0 L504.9,558.9 L506.6,561.0 L505.0,562.9 Z M500.5,559.6 L503.1,560.5 L504.4,562.7 L501.9,564.9 L498.1,562.6 Z M488.9,558.7 L491.0,557.5 L493.4,558.2 L493.4,560.5 L492.3,562.0 L490.9,563.7 L488.9,562.3 L488.1,560.4 Z M485.6,559.5 L485.2,556.7 L487.3,554.2 L491.3,554.0 L492.0,557.3 L491.5,559.9 L488.8,562.2 Z M492.6,570.7 L493.8,568.8 L495.9,567.6 L497.3,570.3 L495.3,573.3 Z M498.9,548.3 L500.9,550.6 L499.6,552.7 L497.0,552.1 L496.9,550.1 Z M493.4,573.1 L488.1,571.8 L489.8,568.2 L494.2,567.0 L495.5,570.2 Z M504.2,553.1 L503.2,550.8 L505.0,548.7 L507.2,550.6 L507.0,552.5 Z M500.6,561.1 L498.3,562.3 L497.4,560.0 L497.7,558.0 L499.5,557.7 L501.3,558.4 L503.3,559.8 Z M506.6,556.9 L506.3,558.7 L504.9,559.6 L502.8,559.5 L502.9,557.5 L503.3,555.5 L504.9,556.4 Z M484.6,559.5 L486.8,558.6 L489.3,560.1 L487.0,561.6 L485.2,561.2 Z M490.6,564.6 L489.4,566.2 L486.9,565.3 L488.4,563.8 L489.5,563.7 Z M491.6,555.7 L492.5,552.3 L494.6,550.7 L496.5,552.5 L496.2,555.9 Z M485.2,566.0 L484.9,565.3 L485.5,564.0 L486.6,564.1 L487.6,564.7 L487.3,565.9 L487.2,567.3 L485.7,567.1 Z M514.3,560.8 L515.0,563.0 L512.9,563.9 L511.3,563.7 L509.9,562.7 L508.4,560.8 L510.0,558.5 L512.7,560.0 Z" fill="#e7e7e7"/>
<path d="M476.6,594.3 L474.9,594.6 L474.2,594.3 L472.5,594.0 L472.6,592.8 L474.0,591.9 L475.6,592.0 L477.2,592.9 Z M460.6,601.0 L462.1,602.0 L461.1,603.1 L459.6,602.8 L458.9,602.2 L458.2,601.2 L459.5,600.3 Z M466.2,594.1 L467.8,593.6 L468.1,595.4 L467.2,597.0 L465.6,595.7 L464.8,594.6 Z M481.6,601.1 L481.9,604.1 L478.1,604.6 L477.3,602.4 L478.4,601.1 Z M474.7,604.5 L472.1,604.1 L470.7,602.0 L470.2,599.1 L473.7,599.7 L475.0,600.9 L478.2,603.0 Z M475.0,608.7 L470.6,609.1 L470.0,606.1 L469.8,603.2 L473.4,603.6 L476.2,605.4 Z M483.6,602.5 L482.2,601.6 L482.2,600.2 L483.3,599.7 L484.7,600.1 L485.5,601.5 Z M467.7,601.8 L467.5,600.2 L468.9,598.5 L470.3,599.9 L470.8,601.3 L471.9,603.1 L469.6,603.8 L467.9,603.3 Z M477.7,591.0 L480.0,590.4 L480.4,592.9 L479.4,594.6 L478.7,597.1 L475.9,595.4 L473.4,593.8 L475.9,592.2 Z M470.5,597.9 L471.8,598.5 L472.4,599.2 L472.5,600.6 L471.1,601.2 L469.2,600.7 L469.1,598.7 Z M466.6,604.6 L469.9,600.7 L475.9,603.7 L474.0,609.0 L468.3,608.5 Z M462.5,608.0 L461.3,606.0 L461.3,604.4 L461.2,603.3 L463.3,601.0 L465.3,603.1 L465.8,604.8 L465.3,607.2 Z M471.0,594.6 L472.2,591.9 L474.8,593.2 L478.1,593.9 L476.4,596.7 L474.3,596.7 L471.6,596.9 Z M476.0,608.8 L474.3,608.2 L474.9,607.0 L475.9,606.1 L477.0,606.3 L478.9,607.2 L477.0,608.1 Z M467.5,601.7 L466.2,598.1 L468.9,595.4 L474.6,596.6 L475.4,601.2 L470.9,602.1 Z" fill="#e6e6e6"/>
<path d="M453.1,635.5 L451.8,636.7 L451.3,634.9 L450.3,633.2 L452.2,632.2 L454.4,632.7 L454.0,634.6 Z M454.2,637.2 L455.1,640.1 L453.2,642.6 L449.7,641.6 L449.4,639.4 L450.5,638.1 Z M458.1,642.8 L457.1,642.4 L455.8,641.3 L457.6,640.7 L458.3,639.6 L460.2,640.3 L460.7,641.6 L459.0,642.5 Z M448.0,638.1 L451.1,637.6 L452.8,638.3 L455.8,641.3 L451.3,642.8 L449.4,640.7 Z M455.3,638.6 L453.7,642.5 L448.7,640.5 L448.4,636.5 L453.2,635.8 Z" fill="#e2e2e2"/>
<path d="M470.2,630.7 L468.1,632.7 L465.6,630.8 L465.5,627.2 L470.7,626.6 Z M477.6,630.4 L473.0,630.0 L473.9,625.8 L476.3,624.9 L480.3,626.4 Z M478.2,624.1 L476.4,625.8 L474.2,627.2 L472.7,625.0 L474.0,623.5 L475.7,623.3 Z" fill="#e2e2e2"/>
<path d="M528.9,692.3 L526.1,694.8 L521.9,693.5 L523.4,689.9 L526.3,690.3 Z M521.4,688.6 L522.3,691.7 L519.2,692.6 L517.5,690.8 L517.9,687.9 Z M516.0,688.4 L518.0,689.5 L518.7,691.4 L516.1,692.7 L514.4,691.6 L514.1,690.6 L514.2,689.4 Z M517.6,685.8 L521.7,684.6 L524.9,688.8 L520.1,690.6 L516.7,689.0 Z" fill="#e3e3e3"/>
<path d="M487.5,703.1 L485.3,703.5 L484.0,704.0 L482.2,703.6 L482.2,702.0 L483.5,700.8 L485.2,700.7 L487.5,701.4 Z M491.6,701.9 L491.8,703.2 L491.6,705.1 L489.0,704.2 L488.3,702.6 L489.5,700.7 Z M480.2,711.8 L479.6,710.2 L478.9,709.2 L480.2,708.4 L481.6,707.9 L481.7,709.3 L482.3,710.2 L482.1,711.6 Z M494.5,695.4 L497.1,698.0 L494.0,700.5 L491.8,700.5 L489.6,699.1 L488.4,697.5 L489.1,694.8 L492.1,695.3 Z M484.7,689.6 L485.0,691.8 L482.7,693.1 L480.6,691.7 L480.5,689.0 L482.8,689.0 Z M474.9,695.7 L474.8,698.1 L471.6,698.3 L469.7,696.4 L471.4,694.6 L472.1,691.9 L475.0,693.7 Z M466.4,705.3 L465.6,703.0 L468.2,701.8 L469.7,702.5 L471.6,702.4 L470.6,704.5 L470.5,706.1 L468.4,706.4 Z M484.2,695.3 L485.2,693.8 L486.8,694.0 L487.5,695.7 L485.6,697.0 Z M469.0,693.3 L471.7,692.1 L475.0,693.8 L472.5,696.7 L470.8,698.3 L467.8,698.3 L465.8,696.6 L466.8,693.7 Z M481.9,706.1 L479.7,706.4 L476.6,705.2 L476.4,702.0 L478.5,699.2 L481.8,700.6 L483.1,702.8 L486.7,705.5 Z M470.5,699.6 L472.1,700.3 L471.4,701.4 L469.8,702.0 L468.9,701.1 L467.0,700.2 L468.5,699.2 L469.9,698.5 Z M483.2,703.9 L483.0,702.5 L484.0,701.7 L485.3,701.1 L487.7,701.4 L487.0,703.3 L486.4,704.9 L484.3,704.8 Z M487.3,694.4 L489.9,694.6 L490.6,697.0 L488.7,698.3 L486.7,698.2 L485.7,696.2 Z" fill="#e8e8e8"/>
<path d="M355.7,781.1 L352.3,777.6 L354.0,775.1 L358.2,772.4 L358.9,777.4 Z M351.2,773.5 L355.0,775.9 L353.7,778.6 L350.1,780.1 L349.7,776.5 Z M358.8,775.8 L357.4,775.0 L357.5,773.4 L359.5,773.5 L360.2,775.0 Z M351.0,780.0 L352.8,779.6 L353.9,780.6 L354.4,782.0 L352.6,782.4 L351.2,782.5 L351.1,781.5 Z M348.9,777.8 L350.9,777.8 L352.1,778.0 L353.8,779.1 L352.5,780.6 L351.3,781.2 L349.8,780.5 L349.7,779.5 Z M355.5,779.8 L360.4,781.1 L358.8,784.7 L354.0,785.5 L353.2,782.1 Z" fill="#d2d2d2"/>
<path d="M401.0,788.2 L400.2,789.6 L398.8,790.5 L397.4,789.3 L396.0,787.8 L398.7,787.1 L400.1,786.9 Z M396.8,784.5 L396.1,782.4 L397.2,780.8 L399.0,779.2 L402.2,779.5 L401.7,782.2 L400.9,783.7 L399.4,784.8 Z M397.7,783.5 L400.1,783.6 L400.5,786.1 L397.4,787.7 L395.1,785.1 Z" fill="#d6d6d6"/>
<path d="M432.7,682.7 L430.2,682.9 L430.8,680.9 L433.2,680.1 L433.7,681.9 Z M444.3,677.0 L442.1,680.5 L437.9,681.0 L435.1,679.2 L433.7,674.5 L439.6,674.4 Z M446.3,676.2 L447.4,677.3 L448.6,679.2 L448.7,682.1 L444.8,682.8 L443.3,680.5 L442.1,678.2 L443.6,675.8 Z M437.8,672.2 L439.8,672.7 L441.4,673.4 L442.3,675.6 L439.7,677.2 L437.4,676.5 L435.8,675.4 L435.7,673.1 Z M432.2,681.6 L434.0,682.8 L434.4,685.0 L431.9,685.5 L430.5,685.0 L429.7,683.9 L430.5,682.6 Z M434.4,682.8 L435.7,682.0 L437.0,682.3 L438.2,683.2 L437.6,684.4 L436.9,685.0 L435.2,685.7 L434.3,684.4 Z M431.6,681.6 L434.7,679.6 L437.5,682.1 L435.8,684.5 L432.9,684.3 Z M445.0,675.4 L442.4,677.8 L441.1,680.0 L439.5,678.0 L438.1,676.4 L437.7,673.6 L442.1,673.1 Z M434.4,674.3 L433.9,672.4 L435.4,671.1 L436.7,670.0 L438.7,671.1 L440.1,672.7 L439.0,674.8 L436.3,676.2 Z M431.9,682.4 L433.9,684.6 L431.0,685.7 L429.4,684.9 L429.3,683.5 L429.9,682.1 Z M442.1,680.0 L440.5,683.6 L436.7,683.3 L436.1,680.8 L436.5,678.4 L439.6,677.0 Z M430.3,680.1 L427.3,681.2 L424.4,679.4 L423.7,676.9 L426.6,675.6 L428.4,673.9 L429.4,676.1 L430.4,677.7 Z" fill="#e7e7e7"/>
<path d="M293.0,770.1 L297.7,767.0 L300.9,765.6 L304.3,767.3 L304.8,771.5 L301.9,774.1 L296.4,773.3 Z M287.9,759.3 L286.1,759.5 L284.7,757.7 L286.7,756.5 L289.0,757.5 Z M309.6,746.1 L307.6,746.6 L305.8,744.9 L306.1,742.5 L308.8,741.5 L310.9,743.5 Z M296.8,742.2 L295.1,742.3 L294.8,740.8 L296.4,740.1 L298.0,740.5 L297.8,741.8 Z M298.7,754.4 L297.3,753.3 L297.9,751.9 L299.7,750.7 L301.6,752.0 L301.5,754.0 L300.2,755.0 Z M312.2,766.9 L310.6,766.0 L311.3,764.4 L313.2,763.6 L313.6,765.7 Z M305.6,754.1 L306.8,755.9 L304.5,757.1 L302.8,756.6 L302.3,755.3 L302.6,754.3 L304.1,752.8 Z M307.8,762.8 L307.8,766.0 L304.6,766.8 L302.1,766.6 L299.7,764.1 L303.5,762.2 Z M308.6,764.9 L305.6,767.7 L302.6,766.7 L300.3,766.1 L299.6,764.2 L300.6,761.4 L303.4,760.6 L304.5,763.0 Z M308.1,756.1 L306.6,759.6 L304.2,760.9 L300.2,760.4 L294.8,757.4 L300.7,754.6 L303.1,754.0 L305.9,754.6 Z M308.6,761.7 L309.0,759.3 L310.5,758.3 L312.2,758.7 L312.4,760.6 L311.2,762.2 Z M292.1,767.2 L289.1,767.6 L286.2,766.8 L286.6,764.5 L289.2,763.6 L291.1,764.3 Z M306.2,776.4 L307.6,778.3 L306.3,780.6 L303.3,781.1 L301.6,778.7 L303.6,776.2 Z M301.4,760.8 L299.3,762.4 L296.8,760.4 L298.7,757.8 L301.3,758.3 Z M297.1,741.3 L295.8,745.5 L292.2,744.2 L289.7,741.1 L293.9,739.4 Z M296.0,761.4 L297.3,763.5 L294.2,764.0 L292.6,763.5 L292.7,761.9 L293.7,760.4 Z M296.1,755.3 L297.2,753.6 L299.0,753.8 L300.1,754.5 L301.2,755.4 L300.5,756.4 L298.9,757.0 L297.7,756.2 Z M294.1,750.5 L295.4,752.0 L293.4,752.5 L291.3,751.9 L292.6,750.5 Z M300.9,771.6 L304.0,771.8 L304.6,774.2 L302.5,775.4 L300.0,775.1 L298.9,773.2 Z M299.0,777.7 L296.0,777.1 L293.4,775.2 L293.4,772.5 L297.1,772.0 L298.8,773.1 L299.0,775.2 Z M313.2,752.4 L311.5,755.5 L308.6,753.5 L309.4,751.1 L308.8,747.9 L312.2,747.7 L314.1,750.4 Z M314.2,759.4 L309.9,760.7 L307.0,758.6 L307.1,756.2 L310.0,753.3 L312.7,756.0 Z M296.3,757.1 L296.4,752.9 L301.5,754.1 L307.4,754.1 L306.3,758.0 L302.2,760.1 L299.2,759.9 Z M303.9,765.0 L300.9,765.6 L299.2,764.3 L300.2,762.3 L302.5,763.2 Z M300.4,766.5 L301.9,765.5 L302.9,765.1 L304.0,766.1 L303.8,767.4 L302.9,768.7 L301.1,767.6 Z M304.4,763.2 L300.3,765.0 L296.1,763.1 L296.2,759.8 L298.5,757.0 L301.6,758.0 L305.5,759.4 Z M309.4,774.7 L309.8,776.3 L308.0,777.1 L306.5,776.3 L305.6,774.7 L307.1,773.7 L309.0,773.3 Z" fill="#ebebeb"/>
<path d="M1103.9,33.9 L1105.3,36.5 L1101.8,37.4 L1099.9,36.7 L1099.0,34.4 L1101.0,33.3 Z M1099.8,39.9 L1099.6,43.2 L1096.3,41.0 L1095.5,39.1 L1097.2,37.5 L1100.4,36.9 Z M1097.0,34.6 L1096.9,36.3 L1095.0,38.9 L1092.7,36.7 L1091.1,34.9 L1093.2,33.1 L1095.4,33.2 Z" fill="#e6e6e6"/>
<path d="M1167.0,57.9 L1168.2,60.1 L1168.3,62.0 L1167.5,64.3 L1164.5,65.7 L1163.2,63.0 L1162.9,60.3 L1164.0,58.4 Z M1168.3,68.6 L1167.2,70.3 L1165.1,70.6 L1163.5,69.3 L1164.1,67.3 L1166.8,67.1 Z M1159.9,61.1 L1161.4,62.0 L1160.2,63.1 L1159.2,64.0 L1157.5,63.4 L1156.9,61.9 L1158.6,61.3 Z M1164.2,67.1 L1163.7,65.3 L1165.8,62.5 L1168.5,64.9 L1172.6,66.7 L1168.8,69.4 L1165.4,70.1 Z M1162.9,69.4 L1163.2,68.1 L1165.0,67.7 L1167.0,68.2 L1166.0,70.0 L1164.3,71.1 Z M1163.2,69.0 L1162.1,71.0 L1160.7,69.1 L1160.4,67.5 L1163.5,66.6 Z M1158.8,61.9 L1159.2,60.5 L1160.7,59.0 L1162.5,59.8 L1163.7,61.2 L1163.3,62.5 L1162.1,64.7 L1159.9,63.8 Z M1165.9,58.6 L1167.9,60.8 L1165.4,62.0 L1163.5,61.8 L1161.4,60.1 L1162.9,57.5 Z M1171.9,64.8 L1170.9,64.7 L1170.1,64.1 L1169.9,63.0 L1171.1,61.9 L1172.6,62.6 L1174.0,64.0 Z M1160.0,64.3 L1165.1,61.2 L1169.3,65.8 L1165.8,70.9 L1159.9,69.1 Z M1166.1,73.2 L1167.9,73.1 L1169.1,74.3 L1169.1,76.0 L1166.8,76.6 L1164.2,76.9 L1164.1,75.0 L1164.3,73.2 Z" fill="#e6e6e6"/>
<path d="M1017.7,4.1 L1022.3,6.0 L1023.0,10.2 L1018.1,10.5 L1013.8,7.7 Z M1003.7,9.4 L1001.9,11.2 L998.2,11.9 L998.2,9.3 L999.2,6.7 L1002.1,7.4 Z M1012.0,8.3 L1009.6,10.8 L1006.7,12.7 L1003.4,11.4 L1002.7,7.8 L1004.0,3.8 L1009.8,4.1 Z M1020.2,6.4 L1021.7,6.4 L1022.4,6.9 L1023.4,8.1 L1022.2,8.5 L1020.4,9.1 L1020.4,7.6 Z M1019.5,9.2 L1019.3,6.6 L1022.1,7.1 L1023.7,8.9 L1021.8,11.1 Z M1011.4,10.1 L1013.2,6.2 L1016.8,5.9 L1019.4,7.7 L1019.2,10.8 L1015.8,11.6 Z M1002.2,8.7 L1004.5,7.7 L1006.3,8.9 L1005.5,10.8 L1003.6,10.2 Z M1006.8,7.1 L1009.4,6.3 L1012.7,6.7 L1012.5,9.7 L1012.9,13.3 L1009.8,13.3 L1007.8,11.7 L1002.8,10.2 Z M1019.8,13.4 L1018.9,12.3 L1019.2,10.7 L1020.6,9.1 L1023.4,9.8 L1023.9,12.2 L1021.2,12.9 Z" fill="#e9e9e9"/>
<path d="M573.6,313.4 L578.4,312.4 L579.9,314.1 L584.9,311.6 L586.3,313.0 L590.5,311.3 L591.3,311.6 L596.7,309.6 L599.5,309.7 L601.3,308.7 L604.2,309.9 L608.0,312.6 L612.6,311.3 L614.4,313.4 L615.2,316.1 L613.6,319.5 L613.3,321.5 L611.8,323.8 L610.7,328.2 L608.4,329.7 L605.7,332.2 L602.6,335.2 L599.5,335.6 L599.3,338.3 L595.8,343.0 L591.5,343.2 L589.9,341.0 L586.4,338.9 L585.4,335.3 L581.0,335.6 L577.6,333.3 L576.5,331.3 L574.2,326.5 L571.7,324.5 L571.7,321.6 L571.8,317.5 Z" fill="#dbdbdb"/>
<path d="M577.0,452.0 L579.2,451.4 L584.4,448.9 L587.7,449.4 L591.5,449.8 L592.9,448.3 L597.1,446.9 L600.0,446.0 L603.7,446.3 L605.3,444.6 L609.6,444.5 L613.3,443.5 L614.7,443.9 L617.1,444.6 L621.0,441.6 L625.0,443.0 L628.6,443.6 L631.0,443.9 L634.4,446.0 L635.4,447.7 L640.0,448.0 L638.7,451.7 L640.7,454.1 L639.4,458.9 L642.4,461.1 L641.8,463.1 L642.4,466.6 L641.0,470.0 L638.7,470.9 L636.2,472.2 L634.3,476.1 L630.0,476.0 L625.9,475.1 L625.0,475.8 L622.2,476.5 L618.1,473.9 L614.1,474.4 L612.0,474.6 L609.0,472.8 L606.3,473.4 L602.0,474.3 L600.0,474.0 L597.0,473.7 L594.7,473.3 L591.3,469.7 L588.9,468.1 L585.0,468.0 L582.3,464.3 L581.9,462.9 L581.1,458.8 L577.3,455.6 Z" fill="#dedede"/>
<path d="M600.0,450.0 L602.8,449.2 L607.2,449.4 L609.9,448.8 L613.7,449.2 L617.6,448.2 L618.8,448.3 L623.0,447.6 L624.4,446.7 L627.2,446.2 L630.8,446.3 L635.6,445.8 L638.0,447.0 L639.3,448.9 L638.2,451.9 L640.3,454.8 L640.1,460.2 L638.1,461.7 L640.0,466.0 L638.3,465.9 L632.8,465.6 L631.6,463.7 L625.2,464.2 L624.7,463.9 L620.0,462.0 L615.2,461.0 L614.5,461.1 L609.8,460.4 L608.0,460.4 L605.0,458.0 L604.2,454.7 L601.4,454.3 Z" fill="#d4d4d4"/>
<path d="M634.0,204.0 L636.0,204.0 L640.3,203.8 L643.8,201.6 L645.5,201.4 L650.9,202.6 L654.9,202.2 L657.6,203.7 L660.0,202.0 L659.3,206.4 L660.4,209.2 L662.2,210.0 L659.4,216.4 L660.1,219.9 L662.4,220.8 L663.5,226.5 L662.0,228.0 L657.1,229.2 L656.5,227.4 L652.5,227.4 L650.6,227.6 L645.5,228.0 L643.0,227.3 L640.0,229.0 L639.7,225.8 L636.6,225.1 L633.9,219.3 L632.0,218.0 L631.1,214.8 L633.3,212.5 L633.9,208.4 Z" fill="#dddddd"/>
<path d="M520.0,82.0 L521.8,82.7 L527.8,80.0 L530.9,80.0 L533.6,79.0 L537.8,79.8 L539.6,77.5 L542.5,75.4 L547.0,76.0 L549.9,78.0 L552.9,76.5 L558.7,78.9 L559.9,76.7 L563.6,79.0 L565.3,80.6 L567.9,85.5 L569.0,87.0 L566.1,89.0 L561.8,89.7 L560.1,94.7 L558.0,95.5 L554.5,95.9 L553.2,98.7 L551.3,102.9 L549.9,103.5 L547.0,106.0 L542.6,104.5 L542.2,104.5 L539.0,104.3 L534.4,103.9 L531.0,103.6 L529.4,101.0 L526.4,97.2 L526.1,97.1 L522.7,92.7 L521.1,89.2 L519.2,86.5 Z" fill="#dddddd"/>
<path d="M341.0,306.0 L343.0,305.3 L347.1,304.0 L348.9,302.1 L354.1,302.4 L355.3,299.4 L360.0,300.0 L364.4,298.9 L365.8,299.9 L369.2,301.5 L371.3,300.9 L375.2,304.2 L379.5,303.6 L382.4,303.2 L384.0,304.0 L383.4,306.4 L384.0,309.8 L385.5,315.4 L386.0,318.0 L385.1,321.5 L383.3,325.6 L381.3,325.7 L378.0,330.0 L376.2,330.2 L370.8,332.5 L369.8,333.0 L367.8,335.8 L364.2,336.8 L360.0,338.0 L355.9,337.9 L352.3,337.3 L350.3,334.8 L347.5,332.8 L345.0,332.0 L343.7,329.7 L343.3,325.6 L345.2,323.7 L343.3,320.2 L340.8,316.2 L343.2,313.0 L341.1,310.0 Z" fill="#e0e0e0"/></g>
<path d="M1046.0,65.0 L1070.3,52.0 L1094.7,51.0 L1095.8,67.0 L1109.7,60.0 L1123.6,69.5 L1135.0,81.0 L1149.0,88.0 L1173.0,92.7 L1173.0,111.0 L1158.0,111.0 L1151.0,120.5 L1153.8,139.0 L1140.0,132.0 L1135.0,125.0 L1121.0,118.0 L1102.8,122.8 L1093.5,129.8 L1082.0,122.8 L1063.4,111.0 L1049.5,97.3 L1046.0,90.4 Z" fill="#d7d7d7"/>
<path d="M1052.5,863.0 L1055.0,836.5 L1065.5,815.8 L1078.4,802.9 L1096.5,797.7 L1114.6,800.3 L1132.7,792.5 L1148.2,790.0 L1161.0,779.6 L1166.3,761.5 L1173.0,761.5 L1173.0,863.0 Z" fill="#d4d4d4"/>
<path d="M451.8,24.5 L455.1,24.6 L458.0,27.7 L462.7,27.3 L463.6,31.3 L464.3,33.7 L465.5,37.7 L465.5,40.9 L469.1,43.3 L472.0,44.4 L473.6,46.4 L473.1,48.5 L475.4,51.9 L475.8,56.6 L474.4,60.3 L476.4,62.7 L473.5,67.3 L474.7,68.6 L473.0,73.7 L470.9,76.4 L471.1,79.7 L472.4,83.2 L475.6,86.1 L476.4,87.3 L471.5,88.1 L469.9,90.3 L465.1,92.6 L462.7,92.7 L462.2,95.5 L458.4,100.1 L458.0,103.0 L454.7,103.5 L452.0,102.7 L449.0,103.0 L448.9,98.6 L451.7,97.2 L453.0,94.0 L454.6,90.0 L453.8,87.6 L453.2,82.1 L451.8,79.0 L447.0,78.5 L443.1,82.0 L440.9,81.8 L440.3,79.9 L436.0,76.8 L435.5,73.6 L435.7,72.1 L438.7,68.9 L439.9,65.2 L440.9,62.7 L441.3,60.8 L438.7,55.6 L439.6,53.0 L438.2,49.0 L440.6,47.0 L445.2,44.7 L446.4,43.6 L446.3,40.6 L447.4,37.6 L449.0,32.7 L449.8,30.0 Z" fill="#d1d1d1"/>
<path d="M454.0,237.2 L456.8,233.3 L457.3,232.5 L460.5,232.2 L464.9,233.8 L467.1,233.8 L470.1,229.6 L468.9,227.1 L470.4,227.1 L469.8,224.5 L469.7,220.5 L473.5,219.6 L473.6,216.8 L473.4,215.0 L477.3,209.9 L476.9,210.1 L480.0,213.6 L480.2,215.2 L481.1,216.0 L483.5,220.2 L488.1,221.2 L488.4,223.7 L487.3,225.1 L490.0,230.4 L490.6,233.8 L489.3,237.2 L486.8,238.9 L484.5,243.8 L481.8,244.1 L478.0,245.1 L475.3,245.8 L473.6,247.2 L468.7,247.4 L467.2,247.0 L462.2,245.8 L459.9,241.9 L455.6,242.3 L453.5,238.8 Z" fill="#d2d2d2"/>
<path d="M477.7,230 L478.6,209.5 L482,187 M469,232 L462,221.7 L457.7,211.2 M486.4,231 L491.6,216.5 L494,209.5 M453,238 L444.7,234.7 M456,244 L449,245 M480,200 L474,196 M490,220 L498,222" stroke="#d3d3d3" stroke-width="2.2" fill="none" stroke-linecap="round" stroke-linejoin="round"/>
<path d="M366,206 L376,211 L388,214 L398,220 L411,218" stroke="#dadada" stroke-width="2.2" fill="none" stroke-linecap="round" stroke-linejoin="round"/>
<path d="M429.8,448.3 L438.0,441.0 L446.5,436.0 L445.8,460.9 L443.7,481.7 L442.3,494.2 L434.0,492.9 L425.6,490.0 L418.0,487.3 L418.7,481.7 L422.9,472.0 L427.0,460.9 Z" fill="#dadada"/>
<path d="M459,477 L462,466 L466,455 M456,488 L459,477 L464,472" stroke="#c8c8c8" stroke-width="1.6" fill="none"/>
<path d="M398.0,482.0 L404.0,468.0 L412.0,458.0 L421.0,450.0 L420.0,462.0 L416.0,476.0 L408.0,488.0 L400.0,494.0 Z" fill="#e0e0e0"/>
<path d="M341.0,661.7 L368.0,651.3 L388.8,657.5 L396.0,640.9 L399.3,640.9 L403.4,661.7 L407.6,670.0 L393.0,680.5 L386.7,686.7 L374.2,682.6 L363.8,686.7 L361.7,699.3 L362.8,711.8 L357.5,718.0 L345.0,722.0 L332.0,728.0 L326.0,722.0 L322.0,700.0 L330.0,676.0 Z" fill="#cdcdcd"/>
<path d="M660.4,283.5 L677.0,281.5 L687.0,286.4 L693.9,294.3 L692.9,309.0 L689.0,321.0 L685.0,325.8 L675.0,328.8 L667.3,330.8 L659.4,334.7 L655.5,328.8 L647.6,315.0 L645.6,301.2 L653.5,289.4 Z" fill="#e0e0e0"/>
<path d="M661.6,306.6 L667.4,302.8 L672.4,304.9 L669.8,309.4 L665.8,310.7 Z M678.3,309.3 L675.9,311.5 L671.6,311.1 L669.9,308.2 L671.3,305.0 L675.2,306.1 L677.3,306.6 Z M665.0,306.0 L661.3,306.4 L660.5,304.3 L660.8,302.4 L662.8,302.2 L665.4,303.3 Z M670.4,294.2 L668.1,295.5 L667.3,293.7 L666.6,291.8 L667.8,290.6 L669.4,290.0 L672.7,290.3 L673.1,293.0 Z M672.7,316.3 L671.5,319.6 L667.2,318.4 L667.3,315.1 L668.6,313.1 L673.4,312.6 Z M668.8,304.5 L665.2,302.6 L662.5,298.2 L668.3,297.1 L671.2,297.4 L673.4,298.5 L674.5,301.5 L672.5,304.0 Z M666.3,293.3 L664.7,291.0 L666.9,289.4 L669.7,289.8 L669.3,292.1 Z M670.6,308.9 L671.3,305.4 L675.3,305.3 L677.1,307.3 L681.5,311.0 L675.9,313.1 L671.9,311.4 Z M665.9,322.1 L663.7,320.9 L662.6,319.2 L664.9,318.4 L667.2,317.7 L667.9,320.2 Z M669.8,314.0 L666.8,311.5 L668.2,307.9 L672.3,307.6 L675.4,308.8 L675.7,312.0 L674.9,314.4 L671.6,316.2 Z M670.1,306.5 L668.8,308.5 L665.7,310.1 L664.2,307.0 L664.9,304.4 L668.2,303.3 Z M670.7,293.5 L670.1,296.2 L667.8,296.6 L666.1,294.6 L665.2,292.7 L666.3,290.4 L668.5,291.6 L671.8,290.9 Z M657.8,300.8 L656.4,299.5 L658.1,298.5 L659.4,298.3 L660.6,299.0 L660.3,300.4 L659.2,300.8 Z M673.7,289.6 L671.3,289.7 L670.3,287.7 L671.6,286.1 L673.0,285.2 L674.5,285.9 L675.9,287.1 L675.8,289.1 Z M657.5,304.5 L654.6,305.5 L653.1,303.2 L655.4,301.7 L657.5,300.6 L659.1,303.0 Z M682.9,295.7 L686.3,296.9 L684.4,299.4 L681.5,299.7 L679.5,297.8 L680.7,295.7 Z M666.6,317.8 L667.1,319.1 L665.4,319.9 L664.3,320.4 L663.5,319.6 L661.6,318.2 L663.7,317.3 L665.2,316.4 Z M670.7,313.4 L669.0,313.2 L668.0,312.3 L668.1,311.3 L668.7,310.5 L669.7,310.0 L671.0,310.9 L672.1,312.1 Z M684.6,296.1 L682.1,294.5 L682.2,292.2 L684.9,292.2 L685.3,293.8 Z M666.3,296.5 L672.1,298.1 L668.2,302.9 L661.7,302.3 L663.5,298.1 Z M667.2,314.5 L667.7,313.3 L669.1,313.5 L671.9,313.4 L670.9,315.3 L670.4,317.4 L667.9,318.2 L666.0,316.6 Z M671.4,286.2 L674.0,289.4 L669.6,290.2 L666.1,290.3 L664.3,287.6 L667.0,285.8 L669.4,284.4 Z M676.1,309.8 L674.5,313.3 L674.2,315.9 L670.5,316.9 L670.0,313.5 L669.6,311.5 L672.1,309.7 Z M672.9,299.9 L671.3,302.1 L668.5,303.7 L665.2,301.9 L665.2,298.7 L668.0,297.3 L670.9,298.0 Z M675.9,307.8 L678.0,305.9 L680.9,306.6 L681.2,309.7 L680.2,312.7 L676.3,311.7 L675.1,309.5 Z M667.3,313.8 L668.8,309.9 L673.1,308.6 L675.2,311.8 L673.0,316.1 Z M665.9,309.9 L670.3,310.7 L671.2,314.6 L669.8,317.2 L665.7,318.9 L663.8,316.3 L661.7,312.4 Z M666.1,299.0 L662.5,296.8 L666.3,294.7 L670.7,293.4 L670.2,297.5 L668.6,299.1 Z" fill="#efefef"/>
<g id="rivers" fill="none"><path d="M502.0,262.0 L499.3,268.2 L498.5,275.1 L496.5,280.9 L494.6,287.4 L491.2,293.6 L490.0,300.0 L489.0,307.4 L490.6,312.8 L489.2,320.3 L488.8,325.6 L488.7,332.6 L489.4,340.4 L489.0,346.0 L489.4,354.6 L491.1,362.1 L492.0,369.0 L490.2,374.5 L487.5,380.6 L483.8,387.4 L482.9,393.9 L480.0,400.0 L475.1,405.7 L472.2,409.5 L467.0,415.0 L461.9,419.6 L457.8,422.9 L452.0,428.0" stroke="#ffffff" stroke-width="2.6" stroke-opacity="0.8"/>
<path d="M502.0,262.0 L499.3,268.2 L498.5,275.1 L496.5,280.9 L494.6,287.4 L491.2,293.6 L490.0,300.0 L489.0,307.4 L490.6,312.8 L489.2,320.3 L488.8,325.6 L488.7,332.6 L489.4,340.4 L489.0,346.0 L489.4,354.6 L491.1,362.1 L492.0,369.0 L490.2,374.5 L487.5,380.6 L483.8,387.4 L482.9,393.9 L480.0,400.0 L475.1,405.7 L472.2,409.5 L467.0,415.0 L461.9,419.6 L457.8,422.9 L452.0,428.0" stroke="#d3d3d3" stroke-width="1"/>
<path d="M361.0,268.0 L367.2,265.9 L373.9,265.8 L378.9,263.8 L385.0,262.0 L389.8,257.0 L395.4,253.6 L400.6,249.7 L405.7,243.8 L412.0,240.0 L411.2,233.2 L411.7,225.3 L412.0,218.0" stroke="#ffffff" stroke-width="2.6" stroke-opacity="0.8"/>
<path d="M361.0,268.0 L367.2,265.9 L373.9,265.8 L378.9,263.8 L385.0,262.0 L389.8,257.0 L395.4,253.6 L400.6,249.7 L405.7,243.8 L412.0,240.0 L411.2,233.2 L411.7,225.3 L412.0,218.0" stroke="#d3d3d3" stroke-width="1"/>
<path d="M416.0,24.0 L418.8,30.7 L422.3,37.4 L426.7,43.3 L430.0,50.0 L431.9,56.8 L432.4,63.4 L435.2,70.0 L437.4,77.1 L438.1,82.8 L440.0,90.0 L433.8,93.6 L429.0,96.0" stroke="#ffffff" stroke-width="2.6" stroke-opacity="0.8"/>
<path d="M416.0,24.0 L418.8,30.7 L422.3,37.4 L426.7,43.3 L430.0,50.0 L431.9,56.8 L432.4,63.4 L435.2,70.0 L437.4,77.1 L438.1,82.8 L440.0,90.0 L433.8,93.6 L429.0,96.0" stroke="#d3d3d3" stroke-width="1"/>
<path d="M406.0,125.0 L411.2,119.5 L415.0,114.7 L418.8,108.8 L423.3,101.6 L429.0,96.0" stroke="#ffffff" stroke-width="2.6" stroke-opacity="0.8"/>
<path d="M406.0,125.0 L411.2,119.5 L415.0,114.7 L418.8,108.8 L423.3,101.6 L429.0,96.0" stroke="#d3d3d3" stroke-width="1"/>
<path d="M420.9,106.7 L428.8,110.9 L435.2,113.0 L441.7,117.0 L445.5,122.3 L450.6,125.8 L454.2,131.7 L458.4,136.7 L463.2,140.3 L468.8,144.2 L474.7,141.4 L481.3,138.0 L483.4,127.5 L484.6,121.4 L484.2,114.6 L485.2,109.0 L485.5,102.5 L487.4,96.2 L489.7,90.0" stroke="#ffffff" stroke-width="2.6" stroke-opacity="0.8"/>
<path d="M420.9,106.7 L428.8,110.9 L435.2,113.0 L441.7,117.0 L445.5,122.3 L450.6,125.8 L454.2,131.7 L458.4,136.7 L463.2,140.3 L468.8,144.2 L474.7,141.4 L481.3,138.0 L483.4,127.5 L484.6,121.4 L484.2,114.6 L485.2,109.0 L485.5,102.5 L487.4,96.2 L489.7,90.0" stroke="#d3d3d3" stroke-width="1"/>
<path d="M483.4,127.5 L489.4,130.3 L493.8,133.8 L501.3,136.1 L507.4,137.1 L514.7,138.0 L520.6,135.2 L527.2,133.8 L533.2,132.2 L539.0,129.9 L546.0,127.5 L552.6,123.3 L559.7,120.3 L566.8,117.0 L575.1,117.8 L583.5,117.0 L590.2,115.0 L596.2,114.3 L601.9,113.3 L606.9,110.7 L612.7,109.8" stroke="#ffffff" stroke-width="2.6" stroke-opacity="0.8"/>
<path d="M483.4,127.5 L489.4,130.3 L493.8,133.8 L501.3,136.1 L507.4,137.1 L514.7,138.0 L520.6,135.2 L527.2,133.8 L533.2,132.2 L539.0,129.9 L546.0,127.5 L552.6,123.3 L559.7,120.3 L566.8,117.0 L575.1,117.8 L583.5,117.0 L590.2,115.0 L596.2,114.3 L601.9,113.3 L606.9,110.7 L612.7,109.8" stroke="#d3d3d3" stroke-width="1"/>
<path d="M532.4,108.8 L525.0,113.7 L516.8,117.0 L514.8,111.1 L515.3,102.6 L514.3,97.4 L512.6,90.0" stroke="#ffffff" stroke-width="2.6" stroke-opacity="0.8"/>
<path d="M532.4,108.8 L525.0,113.7 L516.8,117.0 L514.8,111.1 L515.3,102.6 L514.3,97.4 L512.6,90.0" stroke="#d3d3d3" stroke-width="1"/>
<path d="M527.2,133.8 L531.9,138.1 L537.6,142.0 L536.5,148.6 L533.4,154.1 L530.7,161.7 L529.3,167.0 L525.6,172.1 L521.2,178.6 L516.8,183.8 L514.5,189.1 L510.2,194.7 L507.6,201.9 L504.3,206.8 L503.7,213.4 L501.9,220.6 L500.4,228.7 L500.0,236.0 L499.9,241.8 L500.6,248.3 L502.4,254.2 L502.2,261.0" stroke="#ffffff" stroke-width="2.6" stroke-opacity="0.8"/>
<path d="M527.2,133.8 L531.9,138.1 L537.6,142.0 L536.5,148.6 L533.4,154.1 L530.7,161.7 L529.3,167.0 L525.6,172.1 L521.2,178.6 L516.8,183.8 L514.5,189.1 L510.2,194.7 L507.6,201.9 L504.3,206.8 L503.7,213.4 L501.9,220.6 L500.4,228.7 L500.0,236.0 L499.9,241.8 L500.6,248.3 L502.4,254.2 L502.2,261.0" stroke="#d3d3d3" stroke-width="1"/>
<path d="M400.0,190.0 L406.2,190.0 L414.7,188.4 L420.9,188.0 L424.6,182.5 L428.4,177.7 L433.4,173.4 L439.1,171.5 L445.3,167.6 L453.0,166.4 L458.4,163.0 L463.9,160.0 L471.9,157.6 L477.4,155.6 L483.4,152.6 L489.9,151.7 L496.3,153.2 L502.0,152.3 L508.4,152.6 L520.0,152.0" stroke="#ffffff" stroke-width="2.6" stroke-opacity="0.8"/>
<path d="M400.0,190.0 L406.2,190.0 L414.7,188.4 L420.9,188.0 L424.6,182.5 L428.4,177.7 L433.4,173.4 L439.1,171.5 L445.3,167.6 L453.0,166.4 L458.4,163.0 L463.9,160.0 L471.9,157.6 L477.4,155.6 L483.4,152.6 L489.9,151.7 L496.3,153.2 L502.0,152.3 L508.4,152.6 L520.0,152.0" stroke="#d3d3d3" stroke-width="1"/>
<path d="M412.5,218.2 L416.3,212.4 L420.9,206.8 L421.0,199.7 L420.9,195.2 L420.9,188.0" stroke="#ffffff" stroke-width="2.6" stroke-opacity="0.8"/>
<path d="M412.5,218.2 L416.3,212.4 L420.9,206.8 L421.0,199.7 L420.9,195.2 L420.9,188.0" stroke="#d3d3d3" stroke-width="1"/>
<path d="M577.2,165.0 L583.3,169.0 L587.7,173.4 L594.5,176.0 L600.0,179.7 L607.4,180.2 L614.8,181.7 L622.2,180.8 L629.4,181.7 L630.6,173.7 L631.2,167.1 L633.5,158.8 L637.6,151.7 L640.0,146.0" stroke="#ffffff" stroke-width="2.6" stroke-opacity="0.8"/>
<path d="M577.2,165.0 L583.3,169.0 L587.7,173.4 L594.5,176.0 L600.0,179.7 L607.4,180.2 L614.8,181.7 L622.2,180.8 L629.4,181.7 L630.6,173.7 L631.2,167.1 L633.5,158.8 L637.6,151.7 L640.0,146.0" stroke="#d3d3d3" stroke-width="1"/>
<path d="M626.2,213.0 L625.8,220.1 L625.0,228.3 L623.0,236.0 L621.8,243.5 L621.0,250.5 L614.1,246.8 L608.5,244.3 L601.4,246.5 L595.0,249.7 L587.7,252.6 L583.3,258.4 L579.3,265.0" stroke="#ffffff" stroke-width="2.6" stroke-opacity="0.8"/>
<path d="M626.2,213.0 L625.8,220.1 L625.0,228.3 L623.0,236.0 L621.8,243.5 L621.0,250.5 L614.1,246.8 L608.5,244.3 L601.4,246.5 L595.0,249.7 L587.7,252.6 L583.3,258.4 L579.3,265.0" stroke="#d3d3d3" stroke-width="1"/>
<path d="M626.2,213.0 L627.9,205.7 L629.9,198.1 L631.4,190.0 L632.6,184.3 L631.6,177.0 L632.6,171.1 L634.0,165.5 L633.5,158.8" stroke="#ffffff" stroke-width="2.6" stroke-opacity="0.8"/>
<path d="M626.2,213.0 L627.9,205.7 L629.9,198.1 L631.4,190.0 L632.6,184.3 L631.6,177.0 L632.6,171.1 L634.0,165.5 L633.5,158.8" stroke="#d3d3d3" stroke-width="1"/>
<path d="M560.5,248.5 L555.9,243.0 L553.7,235.0 L549.7,229.2 L546.0,223.4 L540.5,230.4 L533.4,236.0 L530.2,243.1 L527.8,249.4 L525.0,256.8" stroke="#ffffff" stroke-width="2.6" stroke-opacity="0.8"/>
<path d="M560.5,248.5 L555.9,243.0 L553.7,235.0 L549.7,229.2 L546.0,223.4 L540.5,230.4 L533.4,236.0 L530.2,243.1 L527.8,249.4 L525.0,256.8" stroke="#d3d3d3" stroke-width="1"/>
<path d="M594.0,127.5 L596.5,132.9 L600.0,140.0 L607.7,142.6 L614.8,146.3 L622.1,145.8 L629.9,147.1 L636.0,147.0" stroke="#ffffff" stroke-width="2.6" stroke-opacity="0.8"/>
<path d="M594.0,127.5 L596.5,132.9 L600.0,140.0 L607.7,142.6 L614.8,146.3 L622.1,145.8 L629.9,147.1 L636.0,147.0" stroke="#d3d3d3" stroke-width="1"/>
<path d="M662.0,150.0 L668.8,154.4 L674.0,160.0 L673.9,165.9 L675.8,174.0 L676.0,180.0 L674.3,187.0 L670.9,193.7 L668.0,200.0 L662.4,203.1 L656.1,205.1 L651.9,209.6 L646.5,212.5 L640.0,215.0 L633.2,212.8 L626.0,212.0 L626.3,218.7 L625.9,225.8 L625.4,232.1 L625.0,238.3 L624.0,245.0 L625.9,251.3 L627.2,258.4 L629.3,264.2 L630.0,270.0 L630.9,276.1 L632.0,283.2 L632.0,290.0 L633.3,296.7 L635.2,302.4 L636.2,308.5 L639.3,314.2 L640.0,320.0 L643.7,326.4 L646.4,332.4 L648.6,339.6 L652.0,345.0" stroke="#ffffff" stroke-width="2.6" stroke-opacity="0.8"/>
<path d="M662.0,150.0 L668.8,154.4 L674.0,160.0 L673.9,165.9 L675.8,174.0 L676.0,180.0 L674.3,187.0 L670.9,193.7 L668.0,200.0 L662.4,203.1 L656.1,205.1 L651.9,209.6 L646.5,212.5 L640.0,215.0 L633.2,212.8 L626.0,212.0 L626.3,218.7 L625.9,225.8 L625.4,232.1 L625.0,238.3 L624.0,245.0 L625.9,251.3 L627.2,258.4 L629.3,264.2 L630.0,270.0 L630.9,276.1 L632.0,283.2 L632.0,290.0 L633.3,296.7 L635.2,302.4 L636.2,308.5 L639.3,314.2 L640.0,320.0 L643.7,326.4 L646.4,332.4 L648.6,339.6 L652.0,345.0" stroke="#d3d3d3" stroke-width="1"/>
<path d="M694.0,38.0 L696.6,44.9 L698.4,50.4 L700.0,58.0 L697.0,64.5 L693.3,70.0 L690.0,76.0 L686.2,81.1 L683.5,87.4 L680.0,92.0 L683.5,98.6 L686.3,105.9 L690.0,112.0 L686.3,117.1 L683.4,124.0 L680.0,130.0 L676.7,135.2 L672.4,140.4 L668.0,146.0" stroke="#ffffff" stroke-width="2.6" stroke-opacity="0.8"/>
<path d="M694.0,38.0 L696.6,44.9 L698.4,50.4 L700.0,58.0 L697.0,64.5 L693.3,70.0 L690.0,76.0 L686.2,81.1 L683.5,87.4 L680.0,92.0 L683.5,98.6 L686.3,105.9 L690.0,112.0 L686.3,117.1 L683.4,124.0 L680.0,130.0 L676.7,135.2 L672.4,140.4 L668.0,146.0" stroke="#d3d3d3" stroke-width="1"/>
<path d="M734.0,34.0 L729.5,38.7 L725.8,44.0 L722.0,50.0 L716.8,55.2 L712.0,62.0 L706.1,60.1 L700.0,58.0" stroke="#ffffff" stroke-width="2.6" stroke-opacity="0.8"/>
<path d="M734.0,34.0 L729.5,38.7 L725.8,44.0 L722.0,50.0 L716.8,55.2 L712.0,62.0 L706.1,60.1 L700.0,58.0" stroke="#d3d3d3" stroke-width="1"/>
<path d="M361.0,268.0 L359.6,273.8 L356.6,280.5 L356.1,286.8 L354.6,293.8 L352.0,300.0 L352.0,306.5 L352.1,312.7 L352.6,319.4 L352.0,324.3 L351.4,330.9 L352.0,338.0 L351.8,344.9 L349.8,350.5 L348.1,356.7 L347.1,362.6 L347.3,368.8 L346.5,373.9 L345.0,380.0 L347.2,385.4 L351.7,392.3 L353.0,398.5 L356.2,403.0 L360.0,410.0 L367.3,413.3 L372.7,415.6 L378.9,416.9 L386.0,420.0 L392.8,419.6 L397.7,420.7 L404.9,420.5 L411.9,420.3 L416.7,419.4 L424.4,420.0 L430.0,420.0" stroke="#ffffff" stroke-width="2.6" stroke-opacity="0.8"/>
<path d="M361.0,268.0 L359.6,273.8 L356.6,280.5 L356.1,286.8 L354.6,293.8 L352.0,300.0 L352.0,306.5 L352.1,312.7 L352.6,319.4 L352.0,324.3 L351.4,330.9 L352.0,338.0 L351.8,344.9 L349.8,350.5 L348.1,356.7 L347.1,362.6 L347.3,368.8 L346.5,373.9 L345.0,380.0 L347.2,385.4 L351.7,392.3 L353.0,398.5 L356.2,403.0 L360.0,410.0 L367.3,413.3 L372.7,415.6 L378.9,416.9 L386.0,420.0 L392.8,419.6 L397.7,420.7 L404.9,420.5 L411.9,420.3 L416.7,419.4 L424.4,420.0 L430.0,420.0" stroke="#d3d3d3" stroke-width="1"/>
<path d="M428.0,300.0 L428.9,305.4 L428.6,312.1 L429.0,318.1 L427.9,323.2 L427.9,330.9 L429.0,335.5 L428.6,341.4 L428.2,347.8 L428.0,354.0 L428.5,359.9 L430.5,366.4 L430.7,371.3 L432.0,378.0 L432.4,386.2 L434.7,392.7 L436.0,400.0 L437.2,405.9 L438.1,414.3 L440.0,420.0" stroke="#ffffff" stroke-width="2.6" stroke-opacity="0.8"/>
<path d="M428.0,300.0 L428.9,305.4 L428.6,312.1 L429.0,318.1 L427.9,323.2 L427.9,330.9 L429.0,335.5 L428.6,341.4 L428.2,347.8 L428.0,354.0 L428.5,359.9 L430.5,366.4 L430.7,371.3 L432.0,378.0 L432.4,386.2 L434.7,392.7 L436.0,400.0 L437.2,405.9 L438.1,414.3 L440.0,420.0" stroke="#d3d3d3" stroke-width="1"/>
<path d="M467.0,415.0 L473.6,416.4 L481.1,419.3 L487.0,421.9 L492.6,423.6 L500.0,425.0 L506.1,425.3 L513.0,427.1 L520.9,427.9 L526.3,427.6 L532.9,428.6 L540.0,430.0 L546.4,428.0 L552.0,425.4 L560.0,424.4 L564.8,422.7 L572.0,420.0 L575.6,425.8 L579.9,432.4 L583.0,438.0 L584.3,444.2 L585.9,451.5 L587.6,456.4 L587.7,463.3 L590.0,470.0 L589.2,476.6 L589.4,481.3 L588.6,488.2 L588.4,493.5 L588.0,500.0 L587.9,505.6 L588.0,511.8 L586.5,518.6 L585.7,524.8 L585.6,530.1 L585.0,536.0 L580.7,541.7 L577.6,548.6 L573.1,554.7 L570.0,560.0 L568.8,565.2 L566.3,571.5 L563.2,579.0 L561.5,583.8 L560.0,590.0 L562.3,596.5 L564.6,603.5 L565.6,608.0 L568.2,614.3 L569.1,620.7 L571.9,626.9 L573.7,633.9 L575.0,640.0 L577.6,646.5 L579.4,651.4 L582.5,658.3 L584.2,663.4 L586.0,669.9 L589.0,676.0 L583.6,678.4 L576.4,681.5 L571.1,684.9 L566.2,687.2 L560.0,690.0 L551.7,686.4 L545.0,682.0" stroke="#ffffff" stroke-width="2.6" stroke-opacity="0.8"/>
<path d="M467.0,415.0 L473.6,416.4 L481.1,419.3 L487.0,421.9 L492.6,423.6 L500.0,425.0 L506.1,425.3 L513.0,427.1 L520.9,427.9 L526.3,427.6 L532.9,428.6 L540.0,430.0 L546.4,428.0 L552.0,425.4 L560.0,424.4 L564.8,422.7 L572.0,420.0 L575.6,425.8 L579.9,432.4 L583.0,438.0 L584.3,444.2 L585.9,451.5 L587.6,456.4 L587.7,463.3 L590.0,470.0 L589.2,476.6 L589.4,481.3 L588.6,488.2 L588.4,493.5 L588.0,500.0 L587.9,505.6 L588.0,511.8 L586.5,518.6 L585.7,524.8 L585.6,530.1 L585.0,536.0 L580.7,541.7 L577.6,548.6 L573.1,554.7 L570.0,560.0 L568.8,565.2 L566.3,571.5 L563.2,579.0 L561.5,583.8 L560.0,590.0 L562.3,596.5 L564.6,603.5 L565.6,608.0 L568.2,614.3 L569.1,620.7 L571.9,626.9 L573.7,633.9 L575.0,640.0 L577.6,646.5 L579.4,651.4 L582.5,658.3 L584.2,663.4 L586.0,669.9 L589.0,676.0 L583.6,678.4 L576.4,681.5 L571.1,684.9 L566.2,687.2 L560.0,690.0 L551.7,686.4 L545.0,682.0" stroke="#d3d3d3" stroke-width="1"/>
<path d="M572.0,392.0 L565.2,396.2 L560.0,400.0 L553.1,404.2 L546.9,406.7 L540.0,410.0 L533.5,411.6 L526.0,413.8 L518.0,416.0" stroke="#ffffff" stroke-width="2.6" stroke-opacity="0.8"/>
<path d="M572.0,392.0 L565.2,396.2 L560.0,400.0 L553.1,404.2 L546.9,406.7 L540.0,410.0 L533.5,411.6 L526.0,413.8 L518.0,416.0" stroke="#d3d3d3" stroke-width="1"/>
<path d="M441.0,595.0 L443.3,601.4 L445.1,608.4 L448.2,614.3 L450.0,620.0 L453.2,625.7 L457.1,630.2 L459.2,634.9 L464.3,640.1 L466.4,645.3 L470.0,650.0 L471.0,656.3 L473.9,663.3 L474.8,670.9 L476.7,676.6 L477.5,683.5 L480.0,690.0 L477.7,696.0 L476.3,703.1 L473.2,710.0 L470.6,716.7 L468.9,721.9 L466.2,729.5 L464.0,735.0 L458.2,735.3 L452.7,737.3 L445.6,738.7 L440.0,740.0" stroke="#ffffff" stroke-width="2.6" stroke-opacity="0.8"/>
<path d="M441.0,595.0 L443.3,601.4 L445.1,608.4 L448.2,614.3 L450.0,620.0 L453.2,625.7 L457.1,630.2 L459.2,634.9 L464.3,640.1 L466.4,645.3 L470.0,650.0 L471.0,656.3 L473.9,663.3 L474.8,670.9 L476.7,676.6 L477.5,683.5 L480.0,690.0 L477.7,696.0 L476.3,703.1 L473.2,710.0 L470.6,716.7 L468.9,721.9 L466.2,729.5 L464.0,735.0 L458.2,735.3 L452.7,737.3 L445.6,738.7 L440.0,740.0" stroke="#d3d3d3" stroke-width="1"/>
<path d="M431.0,581.0 L435.1,587.2 L441.0,595.0 L436.3,600.2 L432.0,607.0 L430.4,612.7 L427.3,619.9 L425.5,626.1 L422.1,633.1 L420.0,640.0" stroke="#ffffff" stroke-width="2.6" stroke-opacity="0.8"/>
<path d="M431.0,581.0 L435.1,587.2 L441.0,595.0 L436.3,600.2 L432.0,607.0 L430.4,612.7 L427.3,619.9 L425.5,626.1 L422.1,633.1 L420.0,640.0" stroke="#d3d3d3" stroke-width="1"/>
<path d="M585.0,536.0 L591.9,534.9 L596.4,534.5 L602.8,533.0 L608.1,530.5 L615.0,530.0 L622.5,531.6 L627.2,531.9 L634.7,532.5 L640.6,533.6 L648.0,535.0 L647.8,540.6 L649.7,547.2 L649.1,553.5 L650.0,560.0 L647.5,567.5 L646.7,573.7 L646.0,579.2 L643.5,586.6 L642.2,593.5 L640.0,600.0 L637.0,605.0 L634.4,612.0 L632.3,617.1 L628.6,623.5 L625.6,628.4 L623.3,635.1 L620.0,640.0 L615.5,645.9 L609.3,650.1 L604.1,655.9 L600.0,660.0 L595.8,665.4 L593.1,670.6 L589.0,676.0 L587.9,681.9 L587.2,688.3 L586.5,693.9 L585.0,700.0 L581.5,706.0 L577.4,713.0 L575.0,720.0" stroke="#ffffff" stroke-width="2.6" stroke-opacity="0.8"/>
<path d="M585.0,536.0 L591.9,534.9 L596.4,534.5 L602.8,533.0 L608.1,530.5 L615.0,530.0 L622.5,531.6 L627.2,531.9 L634.7,532.5 L640.6,533.6 L648.0,535.0 L647.8,540.6 L649.7,547.2 L649.1,553.5 L650.0,560.0 L647.5,567.5 L646.7,573.7 L646.0,579.2 L643.5,586.6 L642.2,593.5 L640.0,600.0 L637.0,605.0 L634.4,612.0 L632.3,617.1 L628.6,623.5 L625.6,628.4 L623.3,635.1 L620.0,640.0 L615.5,645.9 L609.3,650.1 L604.1,655.9 L600.0,660.0 L595.8,665.4 L593.1,670.6 L589.0,676.0 L587.9,681.9 L587.2,688.3 L586.5,693.9 L585.0,700.0 L581.5,706.0 L577.4,713.0 L575.0,720.0" stroke="#d3d3d3" stroke-width="1"/>
<path d="M633.0,490.0 L639.5,492.8 L644.9,496.3 L650.0,500.0 L653.8,494.7 L656.9,490.2 L659.0,485.4 L662.6,480.0 L667.3,475.3 L670.0,470.0 L674.8,465.3 L678.6,460.8 L682.8,456.4 L688.0,452.4 L691.6,448.6 L695.6,445.1 L700.0,440.0 L701.8,434.3 L702.4,426.8 L703.6,421.8 L706.0,415.0 L705.0,407.2 L703.5,401.0 L702.4,394.2 L702.1,386.7 L700.0,380.0 L699.7,374.5 L699.6,367.9 L698.4,362.5 L698.1,356.5 L697.4,349.5 L696.9,344.0 L696.5,337.9 L695.7,332.5 L695.0,326.0 L703.1,323.7 L712.0,322.0" stroke="#ffffff" stroke-width="2.6" stroke-opacity="0.8"/>
<path d="M633.0,490.0 L639.5,492.8 L644.9,496.3 L650.0,500.0 L653.8,494.7 L656.9,490.2 L659.0,485.4 L662.6,480.0 L667.3,475.3 L670.0,470.0 L674.8,465.3 L678.6,460.8 L682.8,456.4 L688.0,452.4 L691.6,448.6 L695.6,445.1 L700.0,440.0 L701.8,434.3 L702.4,426.8 L703.6,421.8 L706.0,415.0 L705.0,407.2 L703.5,401.0 L702.4,394.2 L702.1,386.7 L700.0,380.0 L699.7,374.5 L699.6,367.9 L698.4,362.5 L698.1,356.5 L697.4,349.5 L696.9,344.0 L696.5,337.9 L695.7,332.5 L695.0,326.0 L703.1,323.7 L712.0,322.0" stroke="#d3d3d3" stroke-width="1"/>
<path d="M738.0,212.0 L737.6,218.2 L736.9,224.3 L736.4,229.9 L735.3,235.3 L735.8,241.2 L735.0,248.0 L732.8,254.5 L729.5,261.3 L727.0,267.0 L725.2,273.6 L722.0,280.0 L720.6,285.0 L719.4,291.6 L717.1,298.3 L716.1,303.5 L714.7,309.5 L713.2,316.5 L712.0,322.0" stroke="#ffffff" stroke-width="2.6" stroke-opacity="0.8"/>
<path d="M738.0,212.0 L737.6,218.2 L736.9,224.3 L736.4,229.9 L735.3,235.3 L735.8,241.2 L735.0,248.0 L732.8,254.5 L729.5,261.3 L727.0,267.0 L725.2,273.6 L722.0,280.0 L720.6,285.0 L719.4,291.6 L717.1,298.3 L716.1,303.5 L714.7,309.5 L713.2,316.5 L712.0,322.0" stroke="#d3d3d3" stroke-width="1"/>
<path d="M674.0,160.0 L679.6,162.7 L687.1,164.2 L692.6,168.4 L700.0,170.0 L704.8,172.9 L710.3,177.5 L714.6,180.9 L719.6,184.3 L725.4,185.9 L730.0,190.0 L733.5,196.5 L734.5,204.9 L738.0,212.0" stroke="#ffffff" stroke-width="2.6" stroke-opacity="0.8"/>
<path d="M674.0,160.0 L679.6,162.7 L687.1,164.2 L692.6,168.4 L700.0,170.0 L704.8,172.9 L710.3,177.5 L714.6,180.9 L719.6,184.3 L725.4,185.9 L730.0,190.0 L733.5,196.5 L734.5,204.9 L738.0,212.0" stroke="#d3d3d3" stroke-width="1"/>
<path d="M246.0,768.0 L251.7,771.9 L255.6,776.1 L259.5,780.5 L265.5,785.1 L270.0,790.0 L276.3,793.6 L282.1,795.5 L287.2,799.2 L293.7,803.6 L300.0,806.0 L307.2,807.9 L312.8,809.8 L321.1,812.7 L327.0,814.0 L333.3,813.3 L340.0,813.7 L347.7,812.4 L353.8,811.7 L360.5,811.5 L367.0,812.0 L373.8,812.3 L380.7,813.4 L387.3,814.5 L393.1,815.8 L400.0,816.0 L406.0,814.9 L411.3,815.2 L418.0,814.6 L425.3,815.2 L431.7,814.2 L437.0,814.0" stroke="#ffffff" stroke-width="2.6" stroke-opacity="0.8"/>
<path d="M246.0,768.0 L251.7,771.9 L255.6,776.1 L259.5,780.5 L265.5,785.1 L270.0,790.0 L276.3,793.6 L282.1,795.5 L287.2,799.2 L293.7,803.6 L300.0,806.0 L307.2,807.9 L312.8,809.8 L321.1,812.7 L327.0,814.0 L333.3,813.3 L340.0,813.7 L347.7,812.4 L353.8,811.7 L360.5,811.5 L367.0,812.0 L373.8,812.3 L380.7,813.4 L387.3,814.5 L393.1,815.8 L400.0,816.0 L406.0,814.9 L411.3,815.2 L418.0,814.6 L425.3,815.2 L431.7,814.2 L437.0,814.0" stroke="#d3d3d3" stroke-width="1"/>
<path d="M327.0,814.0 L327.9,821.1 L328.0,827.8 L330.0,834.4 L330.0,840.0 L333.8,847.7 L337.0,856.0" stroke="#ffffff" stroke-width="2.6" stroke-opacity="0.8"/>
<path d="M327.0,814.0 L327.9,821.1 L328.0,827.8 L330.0,834.4 L330.0,840.0 L333.8,847.7 L337.0,856.0" stroke="#d3d3d3" stroke-width="1"/>
<path d="M270.0,842.0 L276.0,842.3 L282.5,844.2 L288.3,843.4 L293.5,844.9 L300.0,846.0 L307.1,848.0 L312.4,849.7 L317.7,851.4 L325.0,852.1 L330.6,854.2 L337.0,856.0 L344.9,854.1 L350.1,853.4 L358.7,850.9 L365.5,850.6 L372.0,848.0 L378.4,849.1 L385.3,849.7 L391.9,851.1 L399.2,852.1 L405.0,852.0" stroke="#ffffff" stroke-width="2.6" stroke-opacity="0.8"/>
<path d="M270.0,842.0 L276.0,842.3 L282.5,844.2 L288.3,843.4 L293.5,844.9 L300.0,846.0 L307.1,848.0 L312.4,849.7 L317.7,851.4 L325.0,852.1 L330.6,854.2 L337.0,856.0 L344.9,854.1 L350.1,853.4 L358.7,850.9 L365.5,850.6 L372.0,848.0 L378.4,849.1 L385.3,849.7 L391.9,851.1 L399.2,852.1 L405.0,852.0" stroke="#d3d3d3" stroke-width="1"/>
<path d="M248.0,730.0 L250.4,736.5 L252.8,741.6 L256.2,748.8 L258.9,754.2 L262.0,760.0 L266.6,762.2 L273.3,765.8 L278.7,768.5 L283.7,770.8 L288.6,773.4 L293.9,777.0 L300.0,780.0 L304.0,785.3 L308.0,790.3 L312.0,793.6 L316.2,799.4 L319.2,803.5 L322.4,808.3 L327.0,814.0" stroke="#ffffff" stroke-width="2.6" stroke-opacity="0.8"/>
<path d="M248.0,730.0 L250.4,736.5 L252.8,741.6 L256.2,748.8 L258.9,754.2 L262.0,760.0 L266.6,762.2 L273.3,765.8 L278.7,768.5 L283.7,770.8 L288.6,773.4 L293.9,777.0 L300.0,780.0 L304.0,785.3 L308.0,790.3 L312.0,793.6 L316.2,799.4 L319.2,803.5 L322.4,808.3 L327.0,814.0" stroke="#d3d3d3" stroke-width="1"/>
<path d="M560.0,20.0 L563.2,24.8 L567.5,30.8 L569.6,35.7 L574.2,40.7 L575.7,46.0 L580.0,50.0 L585.5,52.6 L591.3,54.2 L597.8,56.4 L604.5,58.7 L610.0,60.0 L616.7,58.7 L622.2,56.1 L628.6,54.2 L634.6,51.8 L640.0,50.0 L645.9,45.8 L649.4,40.6 L655.1,35.2 L660.0,30.0 L667.3,27.0 L673.7,24.1 L680.0,20.0" stroke="#ffffff" stroke-width="2.6" stroke-opacity="0.8"/>
<path d="M560.0,20.0 L563.2,24.8 L567.5,30.8 L569.6,35.7 L574.2,40.7 L575.7,46.0 L580.0,50.0 L585.5,52.6 L591.3,54.2 L597.8,56.4 L604.5,58.7 L610.0,60.0 L616.7,58.7 L622.2,56.1 L628.6,54.2 L634.6,51.8 L640.0,50.0 L645.9,45.8 L649.4,40.6 L655.1,35.2 L660.0,30.0 L667.3,27.0 L673.7,24.1 L680.0,20.0" stroke="#d3d3d3" stroke-width="1"/>
<path d="M430.0,640.0 L435.0,643.3 L440.5,647.3 L444.7,650.1 L450.2,653.8 L455.9,657.2 L460.0,660.0 L467.4,658.7 L472.9,656.2 L479.0,655.0 L486.0,652.9 L492.6,650.7 L500.0,650.0 L506.5,651.6 L512.3,654.8 L517.6,656.2 L523.3,657.2 L530.0,660.0 L534.2,664.7 L538.5,670.5 L542.0,677.4 L545.0,682.0" stroke="#ffffff" stroke-width="2.6" stroke-opacity="0.8"/>
<path d="M430.0,640.0 L435.0,643.3 L440.5,647.3 L444.7,650.1 L450.2,653.8 L455.9,657.2 L460.0,660.0 L467.4,658.7 L472.9,656.2 L479.0,655.0 L486.0,652.9 L492.6,650.7 L500.0,650.0 L506.5,651.6 L512.3,654.8 L517.6,656.2 L523.3,657.2 L530.0,660.0 L534.2,664.7 L538.5,670.5 L542.0,677.4 L545.0,682.0" stroke="#d3d3d3" stroke-width="1"/>
<path d="M500.0,700.0 L503.3,704.4 L507.6,710.8 L510.5,715.7 L512.4,720.5 L515.9,724.8 L520.0,730.0 L526.0,734.5 L532.0,740.0 L533.7,745.9 L534.3,751.6 L536.8,758.6 L538.9,763.6 L540.0,770.0 L537.5,775.5 L533.7,779.5 L530.7,785.8 L526.4,790.4 L524.2,795.8 L520.0,800.0 L517.0,805.3 L512.6,810.7 L510.5,815.0 L507.4,820.6 L504.2,825.5 L500.0,830.0 L496.7,835.6 L492.4,840.8 L489.5,845.8 L485.9,852.6 L482.5,857.2 L480.0,863.0" stroke="#ffffff" stroke-width="2.6" stroke-opacity="0.8"/>
<path d="M500.0,700.0 L503.3,704.4 L507.6,710.8 L510.5,715.7 L512.4,720.5 L515.9,724.8 L520.0,730.0 L526.0,734.5 L532.0,740.0 L533.7,745.9 L534.3,751.6 L536.8,758.6 L538.9,763.6 L540.0,770.0 L537.5,775.5 L533.7,779.5 L530.7,785.8 L526.4,790.4 L524.2,795.8 L520.0,800.0 L517.0,805.3 L512.6,810.7 L510.5,815.0 L507.4,820.6 L504.2,825.5 L500.0,830.0 L496.7,835.6 L492.4,840.8 L489.5,845.8 L485.9,852.6 L482.5,857.2 L480.0,863.0" stroke="#d3d3d3" stroke-width="1"/>
<path d="M400.0,760.0 L403.7,765.3 L406.8,770.0 L410.6,774.2 L412.9,780.2 L416.0,785.3 L420.0,790.0 L424.0,796.7 L428.0,802.7 L433.6,807.6 L437.0,814.0" stroke="#ffffff" stroke-width="2.6" stroke-opacity="0.8"/>
<path d="M400.0,760.0 L403.7,765.3 L406.8,770.0 L410.6,774.2 L412.9,780.2 L416.0,785.3 L420.0,790.0 L424.0,796.7 L428.0,802.7 L433.6,807.6 L437.0,814.0" stroke="#d3d3d3" stroke-width="1"/>
<path d="M577.2,165.0 L573.0,168.9 L571.5,175.1 L566.8,179.7 L563.8,184.4 L560.2,190.8 L554.3,194.3 L553.1,201.6 L550.6,204.3 L550.0,211.0 L546.6,214.0 L541.2,214.4 L533.2,213.7 L531.1,214.0 L525.0,217.2 L520.1,210.9 L516.8,206.8" stroke="#ededed" stroke-width="3.2" stroke-linecap="round" stroke-linejoin="round"/>
<path d="M577.2,165.0 L573.0,168.9 L571.5,175.1 L566.8,179.7 L563.8,184.4 L560.2,190.8 L554.3,194.3 L553.1,201.6 L550.6,204.3 L550.0,211.0 L546.6,214.0 L541.2,214.4 L533.2,213.7 L531.1,214.0 L525.0,217.2 L520.1,210.9 L516.8,206.8" stroke="#cccccc" stroke-width="0.7" stroke-dasharray="1.2 1.8"/>
<path d="M577.2,165.0 L581.5,159.7 L587.0,156.2 L590.0,150.0 L596.2,146.2 L601.8,142.1 L605.0,140.0 L603.7,134.7 L600.0,128.0" stroke="#ededed" stroke-width="3.2" stroke-linecap="round" stroke-linejoin="round"/>
<path d="M577.2,165.0 L581.5,159.7 L587.0,156.2 L590.0,150.0 L596.2,146.2 L601.8,142.1 L605.0,140.0 L603.7,134.7 L600.0,128.0" stroke="#cccccc" stroke-width="0.7" stroke-dasharray="1.2 1.8"/>
<path d="M829.0,5.0 L827.8,8.6 L824.5,15.0 L821.4,20.5 L826.7,24.4 L831.2,29.7 L836.7,33.2 L837.2,37.8 L836.1,45.6 L834.2,51.0 L836.6,56.1 L840.3,60.4 L841.8,64.0" stroke="#ededed" stroke-width="3.2" stroke-linecap="round" stroke-linejoin="round"/>
<path d="M829.0,5.0 L827.8,8.6 L824.5,15.0 L821.4,20.5 L826.7,24.4 L831.2,29.7 L836.7,33.2 L837.2,37.8 L836.1,45.6 L834.2,51.0 L836.6,56.1 L840.3,60.4 L841.8,64.0" stroke="#cccccc" stroke-width="0.7" stroke-dasharray="1.2 1.8"/>
<path d="M416.0,60.0 L417.2,63.9 L421.5,70.7 L424.5,74.6 L424.6,80.1 L428.4,84.1 L430.1,88.9 L430.9,92.6 L435.3,97.0 L437.2,102.6 L436.4,104.1 L440.0,110.0 L446.0,114.4 L450.3,116.2 L455.9,117.4 L461.3,121.0 L466.9,123.5 L470.0,125.0 L473.0,123.2 L481.2,120.9 L484.2,116.9 L489.5,116.5 L495.6,114.4 L500.0,110.0 L501.0,105.0 L506.4,99.7 L509.3,95.2 L510.2,90.8 L512.4,86.1 L515.3,81.0 L515.9,73.7 L520.0,70.0 L523.3,68.3 L531.7,65.9 L535.9,62.6 L540.8,59.5 L544.8,59.3 L550.6,54.5 L554.3,51.8 L560.0,50.0 L564.9,47.3 L570.0,45.8 L573.6,45.7 L580.9,44.5 L585.4,44.2 L588.4,40.9 L594.4,42.8 L600.0,40.0 L604.0,42.7 L609.1,42.9 L614.0,43.4 L618.7,43.5 L625.8,46.7 L629.8,44.9 L636.7,45.2 L640.0,48.0 L643.1,45.5 L648.6,41.5 L653.4,35.5 L657.4,31.4 L660.0,28.0 L664.3,27.2 L671.6,24.0 L674.6,23.0 L679.5,20.9 L686.1,18.4 L691.8,17.4 L696.9,16.4 L700.0,14.0 L704.3,11.1 L707.9,8.8 L714.5,8.7 L719.0,6.8 L725.6,6.0 L728.9,4.8 L731.9,3.6 L738.0,0.0" stroke="#ededed" stroke-width="3.2" stroke-linecap="round" stroke-linejoin="round"/>
<path d="M416.0,60.0 L417.2,63.9 L421.5,70.7 L424.5,74.6 L424.6,80.1 L428.4,84.1 L430.1,88.9 L430.9,92.6 L435.3,97.0 L437.2,102.6 L436.4,104.1 L440.0,110.0 L446.0,114.4 L450.3,116.2 L455.9,117.4 L461.3,121.0 L466.9,123.5 L470.0,125.0 L473.0,123.2 L481.2,120.9 L484.2,116.9 L489.5,116.5 L495.6,114.4 L500.0,110.0 L501.0,105.0 L506.4,99.7 L509.3,95.2 L510.2,90.8 L512.4,86.1 L515.3,81.0 L515.9,73.7 L520.0,70.0 L523.3,68.3 L531.7,65.9 L535.9,62.6 L540.8,59.5 L544.8,59.3 L550.6,54.5 L554.3,51.8 L560.0,50.0 L564.9,47.3 L570.0,45.8 L573.6,45.7 L580.9,44.5 L585.4,44.2 L588.4,40.9 L594.4,42.8 L600.0,40.0 L604.0,42.7 L609.1,42.9 L614.0,43.4 L618.7,43.5 L625.8,46.7 L629.8,44.9 L636.7,45.2 L640.0,48.0 L643.1,45.5 L648.6,41.5 L653.4,35.5 L657.4,31.4 L660.0,28.0 L664.3,27.2 L671.6,24.0 L674.6,23.0 L679.5,20.9 L686.1,18.4 L691.8,17.4 L696.9,16.4 L700.0,14.0 L704.3,11.1 L707.9,8.8 L714.5,8.7 L719.0,6.8 L725.6,6.0 L728.9,4.8 L731.9,3.6 L738.0,0.0" stroke="#cccccc" stroke-width="0.7" stroke-dasharray="1.2 1.8"/>
<path d="M470.0,125.0 L469.5,129.6 L470.2,133.4 L473.7,139.3 L474.0,143.4 L477.1,150.7 L476.6,155.1 L476.5,160.3 L479.9,163.7 L480.0,170.0 L483.6,172.5 L488.5,174.6 L494.1,175.7 L500.0,180.0 L503.0,177.6 L507.5,171.6 L509.1,167.5 L516.5,166.5 L518.6,162.0 L523.2,156.6 L526.6,155.9 L528.3,151.8 L532.0,147.9 L535.4,142.4 L540.0,140.0 L546.9,137.6 L549.0,136.5 L555.0,135.0 L558.2,134.4 L564.8,131.8 L571.9,131.0 L575.1,133.1 L580.0,130.0 L583.7,136.6 L586.8,140.7 L587.7,145.3 L589.1,151.8 L592.4,155.8 L593.7,158.3 L597.7,166.9 L600.0,170.0 L604.7,170.3 L609.6,174.4 L613.9,173.4 L620.8,174.0 L624.9,175.1 L631.3,175.9 L633.5,178.4 L640.0,180.0 L645.7,184.5 L651.1,186.4 L652.4,190.1 L659.7,193.2 L664.0,196.5 L668.0,200.0" stroke="#ededed" stroke-width="3.2" stroke-linecap="round" stroke-linejoin="round"/>
<path d="M470.0,125.0 L469.5,129.6 L470.2,133.4 L473.7,139.3 L474.0,143.4 L477.1,150.7 L476.6,155.1 L476.5,160.3 L479.9,163.7 L480.0,170.0 L483.6,172.5 L488.5,174.6 L494.1,175.7 L500.0,180.0 L503.0,177.6 L507.5,171.6 L509.1,167.5 L516.5,166.5 L518.6,162.0 L523.2,156.6 L526.6,155.9 L528.3,151.8 L532.0,147.9 L535.4,142.4 L540.0,140.0 L546.9,137.6 L549.0,136.5 L555.0,135.0 L558.2,134.4 L564.8,131.8 L571.9,131.0 L575.1,133.1 L580.0,130.0 L583.7,136.6 L586.8,140.7 L587.7,145.3 L589.1,151.8 L592.4,155.8 L593.7,158.3 L597.7,166.9 L600.0,170.0 L604.7,170.3 L609.6,174.4 L613.9,173.4 L620.8,174.0 L624.9,175.1 L631.3,175.9 L633.5,178.4 L640.0,180.0 L645.7,184.5 L651.1,186.4 L652.4,190.1 L659.7,193.2 L664.0,196.5 L668.0,200.0" stroke="#cccccc" stroke-width="0.7" stroke-dasharray="1.2 1.8"/>
<path d="M500.0,180.0 L498.8,186.9 L502.1,191.3 L503.2,195.5 L503.2,198.4 L502.7,205.4 L502.7,208.8 L503.7,213.1 L505.0,220.0 L503.2,225.2 L500.4,228.6 L500.5,235.8 L496.8,240.0 L495.8,244.9 L495.7,249.6 L492.6,255.9 L490.0,260.0 L488.4,265.7 L487.8,270.5 L485.2,276.6 L485.7,279.1 L485.7,283.3 L482.6,289.2 L479.4,296.7 L480.0,300.0 L479.7,306.2 L475.0,310.3 L474.4,313.0 L471.5,318.6 L466.9,323.4 L468.4,330.2 L463.5,333.5 L462.0,340.0 L460.8,346.1 L462.1,348.1 L458.1,353.2 L460.1,360.4 L456.9,365.4 L456.0,369.4 L456.7,373.2 L455.0,380.0 L453.9,383.4 L450.5,388.8 L448.4,396.1 L449.5,400.0 L445.7,406.3 L445.2,408.1 L443.6,416.1 L440.0,420.0" stroke="#ededed" stroke-width="3.2" stroke-linecap="round" stroke-linejoin="round"/>
<path d="M500.0,180.0 L498.8,186.9 L502.1,191.3 L503.2,195.5 L503.2,198.4 L502.7,205.4 L502.7,208.8 L503.7,213.1 L505.0,220.0 L503.2,225.2 L500.4,228.6 L500.5,235.8 L496.8,240.0 L495.8,244.9 L495.7,249.6 L492.6,255.9 L490.0,260.0 L488.4,265.7 L487.8,270.5 L485.2,276.6 L485.7,279.1 L485.7,283.3 L482.6,289.2 L479.4,296.7 L480.0,300.0 L479.7,306.2 L475.0,310.3 L474.4,313.0 L471.5,318.6 L466.9,323.4 L468.4,330.2 L463.5,333.5 L462.0,340.0 L460.8,346.1 L462.1,348.1 L458.1,353.2 L460.1,360.4 L456.9,365.4 L456.0,369.4 L456.7,373.2 L455.0,380.0 L453.9,383.4 L450.5,388.8 L448.4,396.1 L449.5,400.0 L445.7,406.3 L445.2,408.1 L443.6,416.1 L440.0,420.0" stroke="#cccccc" stroke-width="0.7" stroke-dasharray="1.2 1.8"/>
<path d="M505.0,220.0 L509.7,219.0 L514.6,217.8 L518.5,216.0 L523.5,218.7 L529.2,214.9 L536.9,216.2 L540.0,215.0 L544.7,211.8 L551.8,212.0 L556.7,208.2 L561.3,207.3 L565.0,207.6 L571.6,202.3 L573.2,201.5 L580.0,200.0 L584.1,196.5 L586.5,192.8 L588.4,186.8 L591.8,181.8 L595.4,179.2 L598.2,175.8 L600.0,170.0" stroke="#ededed" stroke-width="3.2" stroke-linecap="round" stroke-linejoin="round"/>
<path d="M505.0,220.0 L509.7,219.0 L514.6,217.8 L518.5,216.0 L523.5,218.7 L529.2,214.9 L536.9,216.2 L540.0,215.0 L544.7,211.8 L551.8,212.0 L556.7,208.2 L561.3,207.3 L565.0,207.6 L571.6,202.3 L573.2,201.5 L580.0,200.0 L584.1,196.5 L586.5,192.8 L588.4,186.8 L591.8,181.8 L595.4,179.2 L598.2,175.8 L600.0,170.0" stroke="#cccccc" stroke-width="0.7" stroke-dasharray="1.2 1.8"/>
<path d="M540.0,300.0 L543.5,302.7 L547.0,308.7 L548.0,313.8 L552.2,317.2 L552.6,321.7 L558.3,327.4 L560.0,330.0 L564.5,334.3 L565.6,337.4 L567.4,342.5 L570.3,346.3 L575.3,351.7 L578.4,356.4 L580.0,360.0 L583.9,356.9 L589.5,358.0 L593.4,355.4 L601.7,352.1 L604.0,351.4 L610.0,350.0 L613.0,349.3 L619.8,343.6 L621.4,343.7 L628.4,339.4 L630.0,335.8 L635.7,336.8 L640.7,331.2 L645.0,330.0" stroke="#ededed" stroke-width="3.2" stroke-linecap="round" stroke-linejoin="round"/>
<path d="M540.0,300.0 L543.5,302.7 L547.0,308.7 L548.0,313.8 L552.2,317.2 L552.6,321.7 L558.3,327.4 L560.0,330.0 L564.5,334.3 L565.6,337.4 L567.4,342.5 L570.3,346.3 L575.3,351.7 L578.4,356.4 L580.0,360.0 L583.9,356.9 L589.5,358.0 L593.4,355.4 L601.7,352.1 L604.0,351.4 L610.0,350.0 L613.0,349.3 L619.8,343.6 L621.4,343.7 L628.4,339.4 L630.0,335.8 L635.7,336.8 L640.7,331.2 L645.0,330.0" stroke="#cccccc" stroke-width="0.7" stroke-dasharray="1.2 1.8"/>
<path d="M480.0,300.0 L486.2,301.0 L491.8,301.4 L495.3,303.5 L499.0,303.3 L506.1,306.4 L510.4,308.7 L516.0,307.8 L520.0,310.0 L525.8,309.2 L531.7,303.2 L533.7,301.0 L540.0,300.0 L542.2,294.9 L548.4,291.2 L551.9,287.6 L557.2,282.1 L560.0,280.0 L563.1,281.4 L568.3,279.3 L576.3,283.0 L579.1,284.4 L585.1,281.2 L590.5,284.0 L595.8,283.8 L600.0,285.0 L605.1,282.2 L608.3,284.4 L616.1,280.7 L618.4,280.2 L624.0,279.9 L628.2,279.6 L633.3,280.2 L640.0,278.0 L646.3,278.7 L650.3,279.6 L656.9,284.4 L660.0,284.0" stroke="#ededed" stroke-width="3.2" stroke-linecap="round" stroke-linejoin="round"/>
<path d="M480.0,300.0 L486.2,301.0 L491.8,301.4 L495.3,303.5 L499.0,303.3 L506.1,306.4 L510.4,308.7 L516.0,307.8 L520.0,310.0 L525.8,309.2 L531.7,303.2 L533.7,301.0 L540.0,300.0 L542.2,294.9 L548.4,291.2 L551.9,287.6 L557.2,282.1 L560.0,280.0 L563.1,281.4 L568.3,279.3 L576.3,283.0 L579.1,284.4 L585.1,281.2 L590.5,284.0 L595.8,283.8 L600.0,285.0 L605.1,282.2 L608.3,284.4 L616.1,280.7 L618.4,280.2 L624.0,279.9 L628.2,279.6 L633.3,280.2 L640.0,278.0 L646.3,278.7 L650.3,279.6 L656.9,284.4 L660.0,284.0" stroke="#cccccc" stroke-width="0.7" stroke-dasharray="1.2 1.8"/>
<path d="M540.0,430.0 L544.6,434.4 L545.3,440.0 L550.5,442.2 L555.2,447.8 L555.5,449.2 L560.0,455.0 L564.5,453.3 L568.6,454.1 L573.7,454.9 L579.9,451.2 L585.3,452.4 L589.4,452.5 L594.4,452.6 L600.0,450.0 L604.1,448.9 L610.5,448.0 L614.5,449.4 L619.5,448.7 L625.5,446.0 L631.8,444.6 L636.0,445.0" stroke="#ededed" stroke-width="3.2" stroke-linecap="round" stroke-linejoin="round"/>
<path d="M540.0,430.0 L544.6,434.4 L545.3,440.0 L550.5,442.2 L555.2,447.8 L555.5,449.2 L560.0,455.0 L564.5,453.3 L568.6,454.1 L573.7,454.9 L579.9,451.2 L585.3,452.4 L589.4,452.5 L594.4,452.6 L600.0,450.0 L604.1,448.9 L610.5,448.0 L614.5,449.4 L619.5,448.7 L625.5,446.0 L631.8,444.6 L636.0,445.0" stroke="#cccccc" stroke-width="0.7" stroke-dasharray="1.2 1.8"/>
<path d="M470.0,500.0 L473.6,499.3 L478.1,494.3 L487.0,493.2 L489.9,488.8 L493.6,485.7 L501.6,486.3 L505.7,480.9 L510.0,480.0 L513.6,478.6 L519.9,477.5 L526.8,476.3 L529.6,471.3 L536.7,470.0 L540.0,470.0 L543.2,467.5 L547.7,462.4 L553.8,460.1 L557.4,457.9 L560.0,455.0" stroke="#ededed" stroke-width="3.2" stroke-linecap="round" stroke-linejoin="round"/>
<path d="M470.0,500.0 L473.6,499.3 L478.1,494.3 L487.0,493.2 L489.9,488.8 L493.6,485.7 L501.6,486.3 L505.7,480.9 L510.0,480.0 L513.6,478.6 L519.9,477.5 L526.8,476.3 L529.6,471.3 L536.7,470.0 L540.0,470.0 L543.2,467.5 L547.7,462.4 L553.8,460.1 L557.4,457.9 L560.0,455.0" stroke="#cccccc" stroke-width="0.7" stroke-dasharray="1.2 1.8"/>
<path d="M470.0,500.0 L472.6,503.1 L477.9,506.4 L482.8,510.9 L483.8,513.0 L490.5,519.5 L493.6,523.6 L497.2,525.1 L500.0,530.0 L506.6,529.2 L510.8,528.3 L516.0,526.6 L518.2,526.2 L525.4,523.9 L530.2,520.5 L533.4,522.0 L540.0,520.0 L544.5,523.6 L547.9,523.8 L552.7,527.4 L558.3,530.3 L563.7,533.8 L566.0,538.2 L571.9,540.7 L574.1,541.1 L580.0,545.0 L585.1,544.7 L590.2,547.9 L594.6,547.0 L601.0,546.7 L603.1,548.3 L608.2,551.0 L615.0,550.0" stroke="#ededed" stroke-width="3.2" stroke-linecap="round" stroke-linejoin="round"/>
<path d="M470.0,500.0 L472.6,503.1 L477.9,506.4 L482.8,510.9 L483.8,513.0 L490.5,519.5 L493.6,523.6 L497.2,525.1 L500.0,530.0 L506.6,529.2 L510.8,528.3 L516.0,526.6 L518.2,526.2 L525.4,523.9 L530.2,520.5 L533.4,522.0 L540.0,520.0 L544.5,523.6 L547.9,523.8 L552.7,527.4 L558.3,530.3 L563.7,533.8 L566.0,538.2 L571.9,540.7 L574.1,541.1 L580.0,545.0 L585.1,544.7 L590.2,547.9 L594.6,547.0 L601.0,546.7 L603.1,548.3 L608.2,551.0 L615.0,550.0" stroke="#cccccc" stroke-width="0.7" stroke-dasharray="1.2 1.8"/>
<path d="M440.0,600.0 L444.1,602.1 L448.2,604.5 L453.5,602.5 L458.8,604.9 L463.3,607.0 L469.4,609.2 L475.0,609.4 L480.0,610.0 L484.2,608.6 L489.6,606.7 L494.3,603.0 L498.9,601.8 L505.8,597.2 L511.8,596.5 L513.2,591.6 L520.0,590.0 L523.6,590.0 L529.5,590.6 L535.6,594.3 L540.6,595.8 L545.2,596.0 L548.5,598.2 L555.8,598.7 L560.0,600.0 L563.7,596.8 L571.3,592.4 L577.0,590.0" stroke="#ededed" stroke-width="3.2" stroke-linecap="round" stroke-linejoin="round"/>
<path d="M440.0,600.0 L444.1,602.1 L448.2,604.5 L453.5,602.5 L458.8,604.9 L463.3,607.0 L469.4,609.2 L475.0,609.4 L480.0,610.0 L484.2,608.6 L489.6,606.7 L494.3,603.0 L498.9,601.8 L505.8,597.2 L511.8,596.5 L513.2,591.6 L520.0,590.0 L523.6,590.0 L529.5,590.6 L535.6,594.3 L540.6,595.8 L545.2,596.0 L548.5,598.2 L555.8,598.7 L560.0,600.0 L563.7,596.8 L571.3,592.4 L577.0,590.0" stroke="#cccccc" stroke-width="0.7" stroke-dasharray="1.2 1.8"/>
<path d="M407.0,670.0 L413.8,668.9 L417.9,665.0 L424.3,664.2 L429.6,661.9 L435.7,660.8 L440.0,660.0 L445.1,656.5 L451.2,655.3 L454.9,654.3 L458.8,649.1 L464.2,646.1 L469.3,644.3 L473.3,641.9 L480.0,640.0 L484.3,644.5 L491.5,644.0 L496.1,647.4 L498.2,651.2 L504.3,654.2 L511.7,655.5 L515.0,658.9 L520.0,660.0 L526.1,661.5 L530.6,661.2 L536.4,663.9 L543.1,663.8 L547.0,667.0" stroke="#ededed" stroke-width="3.2" stroke-linecap="round" stroke-linejoin="round"/>
<path d="M407.0,670.0 L413.8,668.9 L417.9,665.0 L424.3,664.2 L429.6,661.9 L435.7,660.8 L440.0,660.0 L445.1,656.5 L451.2,655.3 L454.9,654.3 L458.8,649.1 L464.2,646.1 L469.3,644.3 L473.3,641.9 L480.0,640.0 L484.3,644.5 L491.5,644.0 L496.1,647.4 L498.2,651.2 L504.3,654.2 L511.7,655.5 L515.0,658.9 L520.0,660.0 L526.1,661.5 L530.6,661.2 L536.4,663.9 L543.1,663.8 L547.0,667.0" stroke="#cccccc" stroke-width="0.7" stroke-dasharray="1.2 1.8"/>
<path d="M352.0,300.0 L356.1,302.1 L362.5,306.4 L364.0,307.3 L367.7,309.9 L374.0,315.4 L380.0,317.2 L381.1,318.5 L388.4,323.8 L390.3,323.2 L396.1,326.5 L400.0,330.0 L401.2,334.8 L405.5,338.1 L407.6,345.6 L409.1,348.7 L409.7,354.8 L412.6,358.7 L415.4,366.2 L414.6,369.9 L419.1,375.1 L420.0,380.0 L419.2,384.9 L416.0,390.1 L412.4,393.3 L411.2,398.9 L408.6,405.7 L403.5,411.5 L403.1,413.2 L400.0,420.0" stroke="#ededed" stroke-width="3.2" stroke-linecap="round" stroke-linejoin="round"/>
<path d="M352.0,300.0 L356.1,302.1 L362.5,306.4 L364.0,307.3 L367.7,309.9 L374.0,315.4 L380.0,317.2 L381.1,318.5 L388.4,323.8 L390.3,323.2 L396.1,326.5 L400.0,330.0 L401.2,334.8 L405.5,338.1 L407.6,345.6 L409.1,348.7 L409.7,354.8 L412.6,358.7 L415.4,366.2 L414.6,369.9 L419.1,375.1 L420.0,380.0 L419.2,384.9 L416.0,390.1 L412.4,393.3 L411.2,398.9 L408.6,405.7 L403.5,411.5 L403.1,413.2 L400.0,420.0" stroke="#cccccc" stroke-width="0.7" stroke-dasharray="1.2 1.8"/>
<path d="M732.9,544.0 L731.9,547.7 L734.6,552.1 L735.6,557.1 L733.3,562.2 L735.4,567.0 L732.4,569.3 L730.9,574.5 L728.7,579.6 L727.8,582.3 L727.8,587.2 L728.6,589.6 L729.5,595.7 L730.3,599.8 L729.8,602.5 L731.6,607.9 L733.0,611.7 L737.9,615.2 L740.3,618.1 L741.8,623.2 L741.4,627.9 L743.8,632.3 L742.2,635.6 L743.0,640.4 L744.4,643.7 L745.7,648.4 L747.3,653.4 L747.4,657.5 L747.8,661.2 L749.5,664.0 L746.9,668.8 L748.2,672.4 L745.2,677.4 L745.3,681.2 L743.0,684.6 L743.4,689.8 L743.2,695.0 L745.7,700.0 L745.8,704.7 L745.6,708.2 L746.6,712.0 L750.1,717.5 L749.7,720.4 L750.0,725.0 L749.7,727.8 L752.1,735.2 L753.7,737.1 L755.4,741.5 L753.4,746.7 L755.8,751.0" stroke="#cdcdcd" stroke-width="1.1"/>
<path d="M750.8,540.0 L751.2,543.3 L752.8,547.0 L756.9,552.2 L757.8,556.3 L759.7,559.3 L760.6,564.5 L762.3,566.2 L763.2,571.3 L764.2,574.4 L765.8,578.4 L765.7,582.6 L767.4,587.4 L767.5,590.6 L769.9,596.5 L768.4,600.4 L769.4,604.9 L771.4,608.9 L772.5,613.0 L776.8,616.9 L779.9,618.3 L781.5,622.3 L786.3,626.3 L790.8,627.0 L793.0,631.0 L794.4,635.5 L796.1,640.2 L796.5,642.2 L800.9,647.8 L801.5,649.4 L803.2,654.0 L805.5,657.5 L807.9,661.7 L808.3,666.5 L812.2,670.3 L813.4,674.4 L815.2,678.9 L816.5,681.4 L817.5,688.4 L819.4,692.4 L822.4,694.3 L822.4,700.0 L823.9,704.0 L822.3,707.1 L824.7,711.9 L826.6,715.5 L827.1,719.7 L828.4,725.5 L826.6,729.0 L827.2,731.5 L830.5,735.8 L830.0,740.0 L829.7,742.8 L834.1,750.0 L835.2,752.8 L835.0,757.7 L836.6,761.9 L837.9,765.3 L840.5,767.7 L844.6,771.5 L847.5,776.5 L848.5,780.1 L849.5,784.8 L851.0,788.2 L854.7,790.6" stroke="#cdcdcd" stroke-width="1.1"/>
<path d="M842.9,574.6 L845.7,578.9 L846.4,581.3 L849.2,587.6 L850.3,591.1 L851.0,593.9 L854.4,597.6 L857.0,600.7 L861.9,604.9 L865.2,608.0 L868.2,608.7 L872.3,613.0 L874.0,617.3 L876.6,618.8 L876.9,623.2 L879.5,628.8 L880.6,629.8 L884.5,636.1 L885.0,638.6 L885.9,641.2 L884.2,645.7 L886.3,649.6 L883.8,654.0 L885.0,659.0 L888.0,662.1 L890.7,666.6 L891.7,670.3 L892.6,676.6 L895.3,679.5 L898.2,682.8 L897.4,686.3 L898.2,691.4 L900.5,696.1 L901.7,700.0 L903.1,702.8 L905.7,707.2 L907.4,711.6 L908.6,717.0 L911.0,717.7 L913.8,724.6 L913.6,728.5 L914.4,732.1 L916.2,735.8 L919.5,740.0 L920.0,742.8 L923.7,745.0 L922.9,750.2 L924.4,752.4 L927.2,757.7 L926.1,761.2 L928.6,765.6 L928.9,768.2 L927.8,773.9 L928.5,776.1 L928.6,782.2 L932.0,785.7 L929.4,788.7 L932.0,794.6 L931.0,797.6 L930.9,801.8 L933.7,805.7 L934.2,808.8 L933.8,813.7" stroke="#cdcdcd" stroke-width="1.1"/>
<path d="M903.0,489.0 L902.3,494.2 L904.6,496.4 L905.8,501.8 L905.5,505.6 L910.4,508.5 L913.9,511.6 L916.5,512.0 L922.1,514.6 L924.8,520.0 L928.5,521.0 L931.0,524.5 L934.1,528.5 L937.5,533.7 L937.0,537.2 L933.5,542.2 L932.8,545.0 L930.8,551.2 L931.0,554.2 L931.5,558.8 L932.7,563.9 L932.2,567.4 L935.5,570.5 L935.1,574.9 L936.2,579.7 L938.8,585.0 L941.7,588.1 L944.3,592.1 L949.0,595.0 L948.5,600.2 L949.3,602.7 L950.7,607.2 L953.2,612.1 L951.7,615.4 L954.0,620.7 L951.7,625.0 L950.5,627.8 L949.0,632.9 L947.4,636.6 L944.0,638.6 L942.7,643.2 L939.5,645.4 L936.5,647.5 L934.7,650.5 L931.0,654.0 L931.7,658.1 L928.2,663.6 L929.1,665.2 L929.6,671.9 L929.1,675.1 L927.3,679.5 L926.5,682.7 L927.9,688.2 L928.2,691.0 L927.1,697.4 L928.5,700.0 L928.6,705.2 L925.7,706.2 L923.3,711.5 L923.9,715.8 L920.0,720.3 L920.3,722.5 L919.2,726.2 L917.0,728.8 L914.1,735.5 L914.0,737.9 L916.4,742.8 L918.9,745.5 L920.7,751.0 L923.8,754.6 L927.2,757.7" stroke="#cdcdcd" stroke-width="1.1"/>
<path d="M657.0,784.0 L660.4,781.2 L664.8,780.0 L668.3,779.2 L672.7,777.2 L677.4,775.5 L678.2,776.0 L683.4,774.0 L689.3,774.6 L693.2,771.9 L695.6,771.8 L700.1,770.9 L704.7,771.0 L709.7,770.9 L712.9,770.0 L718.3,766.0 L721.0,766.0 L723.2,764.8 L728.7,761.3 L731.9,760.9 L736.0,757.7 L740.1,756.2 L745.4,754.0 L747.8,755.0 L752.9,753.2 L755.8,751.0 L761.3,749.9 L765.2,751.0 L770.6,752.5 L773.1,752.0 L777.4,750.7 L782.2,751.0 L785.8,755.2 L789.0,755.9 L789.6,761.3 L794.1,763.0 L797.5,767.1 L800.5,769.0 L802.6,772.2 L806.4,774.8 L808.6,777.5 L813.4,779.5 L816.4,784.0 L819.2,784.5 L821.7,787.3 L825.9,787.7 L830.9,789.8 L833.0,789.4 L839.0,789.6 L843.1,791.7 L845.4,791.9 L851.8,791.9 L854.7,794.0 L858.7,796.8 L862.3,797.4 L866.7,799.1 L872.6,799.7 L874.3,801.5 L878.9,802.3 L884.0,802.9 L887.6,803.8 L891.2,805.6 L897.1,807.0 L900.5,806.0 L902.6,808.5 L907.3,810.0 L911.4,811.2 L913.8,812.1 L918.6,812.5 L923.5,813.1 L927.2,813.7 L931.0,816.5 L936.3,817.2 L939.8,819.8 L943.6,821.7 L947.0,823.6 L951.7,823.3 L954.9,826.3 L958.3,826.7 L963.4,826.7 L966.9,828.3 L970.7,827.9 L974.6,829.1 L980.0,830.0 L982.7,830.6 L988.1,829.8 L990.9,831.2 L997.5,832.1 L1000.6,831.6 L1005.1,831.8 L1009.8,834.0 L1012.1,835.4 L1015.4,834.3 L1021.4,836.4 L1023.9,834.7 L1029.2,836.2 L1032.6,836.8 L1037.6,840.2 L1041.7,841.1 L1045.4,843.2 L1046.8,845.8 L1050.0,846.4 L1054.4,848.6 L1059.0,850.0" stroke="#cdcdcd" stroke-width="1.7"/>
<path d="M663.6,863.0 L663.9,859.6 L664.7,854.8 L666.2,849.9 L667.2,846.8 L664.9,843.4 L665.8,840.1 L667.7,833.5 L669.1,829.8 L669.6,824.7 L668.0,822.6 L668.5,817.6 L668.4,814.4 L670.2,810.0 L673.8,806.1 L675.7,803.6 L678.3,801.8 L680.2,796.6 L682.5,794.4 L686.6,792.0 L686.9,786.0 L690.0,784.0" stroke="#cdcdcd" stroke-width="1.1"/>
<path d="M617.5,850.0 L616.6,845.4 L619.6,843.2 L620.7,839.6 L619.1,833.4 L620.8,830.7 L620.4,827.0 L621.3,822.9 L623.2,817.7 L623.1,815.0 L624.0,810.4 L622.9,805.8 L622.8,802.0 L619.5,797.3 L620.2,795.2 L618.0,790.7 L615.2,785.1 L615.1,783.8 L615.2,777.5 L610.9,773.5 L611.0,770.9" stroke="#cdcdcd" stroke-width="1.1"/>
<path d="M769.0,790.6 L771.8,794.0 L775.8,795.4 L776.4,799.6 L779.8,802.5 L784.3,803.3 L785.5,806.6 L788.8,810.4 L792.4,811.0 L796.1,808.4 L800.1,806.8 L804.0,805.6 L810.3,806.9 L813.0,806.3 L818.9,803.8 L821.7,803.8" stroke="#cdcdcd" stroke-width="1.1"/>
<path d="M1102.6,253.3 L1105.0,256.9 L1107.4,259.6 L1111.2,261.5 L1116.1,263.2 L1118.8,268.1 L1121.7,268.8 L1123.4,273.6 L1126.9,275.8 L1130.8,276.2 L1133.4,279.6 L1137.3,281.8 L1140.0,285.3 L1143.1,288.1 L1145.2,291.7 L1149.0,294.3 L1153.3,296.7 L1155.5,299.2 L1156.9,302.0 L1162.4,304.5 L1164.5,307.6 L1167.3,310.7 L1171.1,310.4 L1173.0,314.6" stroke="#cdcdcd" stroke-width="1.1"/>
<path d="M1054.6,339.7 L1058.9,338.2 L1064.4,339.0 L1067.5,338.7 L1070.8,340.4 L1076.7,339.1 L1078.6,338.3 L1083.7,339.1 L1086.3,338.5 L1092.0,339.7 L1095.8,342.2 L1099.6,344.6 L1102.0,344.7 L1106.8,348.2 L1110.1,348.5 L1113.3,352.0 L1114.0,356.5 L1116.0,358.9 L1119.7,363.1 L1121.8,365.0 L1123.1,369.5 L1125.5,373.0 L1128.1,376.9 L1127.9,381.3 L1129.5,385.7 L1131.2,388.6 L1134.6,392.0 L1138.4,394.1 L1140.0,398.1 L1143.9,399.0 L1148.2,402.4 L1149.6,404.8 L1154.0,407.9 L1156.0,410.6 L1161.1,411.7 L1163.0,415.8 L1168.0,415.5 L1173.0,418.6" stroke="#cdcdcd" stroke-width="1.1"/>
<path d="M1081.3,530.6 L1083.1,534.9 L1086.3,537.8 L1086.6,540.3 L1089.1,544.0 L1090.8,549.4 L1094.0,554.1 L1095.0,555.4 L1097.2,560.2 L1099.3,565.1 L1102.6,567.9 L1106.1,572.2 L1108.3,574.7 L1111.7,576.8 L1116.5,577.9 L1118.0,579.7 L1122.3,583.9 L1125.5,585.0 L1126.7,590.0 L1130.7,593.5 L1134.6,594.6 L1139.0,595.7 L1143.2,599.7 L1146.3,602.5 L1151.2,604.0 L1154.9,605.9 L1157.8,606.9 L1161.6,609.2 L1164.7,612.3 L1170.2,612.6 L1173.0,615.9" stroke="#cdcdcd" stroke-width="1.1"/>
<path d="M1148.0,762.0 L1152.2,765.4 L1154.5,768.6 L1160.0,770.0 L1163.4,766.0 L1166.0,761.0" stroke="#cdcdcd" stroke-width="1.1"/>
<path d="M847.0,5.0 L847.9,10.4 L850.2,11.3 L850.9,15.5 L852.0,20.5 L848.6,25.4 L849.8,28.2 L846.7,30.8 L844.4,35.8 L845.6,38.3 L848.1,43.1 L851.0,45.3 L854.6,48.6 L857.6,47.6 L863.0,48.6 L867.4,48.8 L872.5,48.6 L876.9,47.0 L880.9,46.3 L885.3,48.0 L890.3,47.7 L893.0,46.0 L897.8,46.8 L902.6,45.3 L905.1,42.7 L911.0,43.5" stroke="#cdcdcd" stroke-width="1.1"/>
<path d="M893.0,0.0 L892.7,4.2 L893.1,9.9 L895.5,15.3 L898.7,17.3 L901.4,20.5 L904.2,22.5 L908.3,25.6 L909.8,29.3 L911.8,34.3 L912.8,37.4 L913.5,41.0 L916.0,45.0 L920.6,46.8 L922.1,50.4 L926.2,53.7 L928.3,56.7 L931.0,60.2 L934.0,64.0" stroke="#cdcdcd" stroke-width="1.1"/>
<path d="M862.3,2.6 L865.5,5.3 L868.0,9.1 L871.6,11.2 L875.0,15.3 L878.0,16.3 L885.3,20.5 L889.1,20.3 L893.0,23.0 L897.8,25.3 L903.3,24.2 L907.0,27.0" stroke="#cdcdcd" stroke-width="1.1"/>
<path d="M972.3,25.6 L975.3,28.8 L979.9,28.7 L984.2,29.8 L990.0,33.2 L993.5,35.1 L998.7,36.1 L1002.7,36.3 L1005.5,38.4 L1009.4,38.0 L1015.8,35.8 L1020.0,38.8 L1021.0,42.0 L1025.7,45.1 L1028.5,48.6 L1031.4,51.6 L1035.9,53.6 L1037.5,54.8 L1041.3,58.8" stroke="#cdcdcd" stroke-width="1.1"/>
<path d="M1140.0,8.0 L1143.6,12.0 L1145.7,14.9 L1147.1,18.7 L1150.0,22.0 L1152.6,27.3 L1156.8,31.0 L1160.0,34.0 L1164.2,37.1 L1168.6,36.5 L1173.0,40.0" stroke="#cdcdcd" stroke-width="1.1"/>
<path d="M1060.0,10.0 L1064.5,12.0 L1065.2,14.8 L1068.5,17.7 L1071.4,22.1 L1075.0,24.0 L1078.5,25.8 L1083.2,26.1 L1084.9,29.5 L1090.0,30.0 L1092.7,25.7 L1096.9,25.1 L1100.0,21.0" stroke="#cdcdcd" stroke-width="1.1"/>
<path d="M1098.0,0.0 L1098.7,3.9 L1098.1,8.1 L1100.1,12.4 L1100.1,16.1 L1100.5,20.9 L1101.1,24.8 L1101.3,28.8 L1102.0,34.1 L1103.5,37.7 L1104.7,42.2 L1105.0,46.0 L1108.6,47.4 L1113.1,48.2 L1116.6,47.8 L1121.0,48.7 L1123.2,52.1 L1127.2,54.9 L1129.8,57.9 L1133.0,60.0 L1134.9,64.8 L1135.0,69.0 L1138.0,73.0 L1138.5,77.0 L1140.0,81.0 L1144.1,82.2 L1149.7,84.8 L1154.2,85.8 L1158.0,88.0 L1162.8,88.9 L1167.4,88.7 L1173.0,89.0" stroke="#e3e3e3" stroke-width="5" stroke-linecap="round" stroke-linejoin="round"/>
<path d="M1098.0,0.0 L1098.7,3.9 L1098.1,8.1 L1100.1,12.4 L1100.1,16.1 L1100.5,20.9 L1101.1,24.8 L1101.3,28.8 L1102.0,34.1 L1103.5,37.7 L1104.7,42.2 L1105.0,46.0 L1108.6,47.4 L1113.1,48.2 L1116.6,47.8 L1121.0,48.7 L1123.2,52.1 L1127.2,54.9 L1129.8,57.9 L1133.0,60.0 L1134.9,64.8 L1135.0,69.0 L1138.0,73.0 L1138.5,77.0 L1140.0,81.0 L1144.1,82.2 L1149.7,84.8 L1154.2,85.8 L1158.0,88.0 L1162.8,88.9 L1167.4,88.7 L1173.0,89.0" stroke="#c2c2c2" stroke-width="1.4"/>
<path d="M1094.4,137.0 L1096.9,134.5 L1099.7,130.9 L1101.9,128.3 L1105.0,125.0 L1108.6,127.0 L1112.5,128.2 L1116.3,128.5 L1121.0,129.8 L1124.6,132.9 L1128.6,134.1 L1131.7,137.3 L1135.0,139.0 L1137.9,141.8 L1142.6,144.3 L1145.0,146.2 L1149.0,148.0 L1153.6,148.8 L1158.8,147.1 L1163.0,148.0 L1165.8,152.4 L1166.6,156.4 L1168.4,160.2 L1171.2,162.3 L1173.0,167.0" stroke="#e3e3e3" stroke-width="5" stroke-linecap="round" stroke-linejoin="round"/>
<path d="M1094.4,137.0 L1096.9,134.5 L1099.7,130.9 L1101.9,128.3 L1105.0,125.0 L1108.6,127.0 L1112.5,128.2 L1116.3,128.5 L1121.0,129.8 L1124.6,132.9 L1128.6,134.1 L1131.7,137.3 L1135.0,139.0 L1137.9,141.8 L1142.6,144.3 L1145.0,146.2 L1149.0,148.0 L1153.6,148.8 L1158.8,147.1 L1163.0,148.0 L1165.8,152.4 L1166.6,156.4 L1168.4,160.2 L1171.2,162.3 L1173.0,167.0" stroke="#c2c2c2" stroke-width="1.4"/>
<path d="M396.1,607.0 L397.1,611.6 L396.6,616.0 L396.1,619.7 L396.6,625.0 L397.0,629.5 L398.6,634.9 L399.3,640.9 L401.0,644.4 L401.2,648.4 L401.3,652.7 L403.4,657.9 L403.4,661.7 L405.6,666.5 L407.6,670.0 L404.8,672.4 L401.0,674.9 L397.0,678.5 L393.0,680.5 L389.6,683.9 L386.7,686.7 L382.9,684.6 L378.8,683.4 L374.2,682.6 L368.6,684.2 L363.8,686.7 L362.7,691.7 L362.3,695.7 L361.7,699.3 L361.4,703.0 L361.6,707.6 L362.8,711.8 L368.2,713.4 L372.0,715.0 L377.1,714.9 L381.5,716.0 L377.5,719.0 L376.0,723.3 L372.0,726.4 L370.0,731.1 L366.1,734.2 L363.8,738.9 L363.5,742.4 L362.8,747.2 L366.4,750.4 L370.0,753.5 L374.8,752.2 L380.5,749.3 L386.7,745.2 L389.6,742.8 L394.0,738.9 L395.8,734.5 L399.3,728.5 L405.5,726.4 L410.6,727.9 L416.0,730.6 L419.7,733.7 L422.7,736.1 L426.4,738.9 L431.9,740.5 L436.8,743.0 L441.7,745.5 L447.2,747.2 L451.3,752.0 L455.6,755.6 L460.7,755.0 L466.0,753.5 L469.6,750.9 L472.8,749.4 L476.5,747.2 L480.6,749.7 L484.8,751.4 L489.2,756.0 L493.0,759.8 L498.4,764.0 L498.4,769.9 L499.4,774.4 L502.3,778.0 L504.4,782.2 L505.4,785.3 L508.0,790.0" stroke="#dadada" stroke-width="5.5" stroke-linecap="round" stroke-linejoin="round"/>
<path d="M396.1,607.0 L397.1,611.6 L396.6,616.0 L396.1,619.7 L396.6,625.0 L397.0,629.5 L398.6,634.9 L399.3,640.9 L401.0,644.4 L401.2,648.4 L401.3,652.7 L403.4,657.9 L403.4,661.7 L405.6,666.5 L407.6,670.0 L404.8,672.4 L401.0,674.9 L397.0,678.5 L393.0,680.5 L389.6,683.9 L386.7,686.7 L382.9,684.6 L378.8,683.4 L374.2,682.6 L368.6,684.2 L363.8,686.7 L362.7,691.7 L362.3,695.7 L361.7,699.3 L361.4,703.0 L361.6,707.6 L362.8,711.8 L368.2,713.4 L372.0,715.0 L377.1,714.9 L381.5,716.0 L377.5,719.0 L376.0,723.3 L372.0,726.4 L370.0,731.1 L366.1,734.2 L363.8,738.9 L363.5,742.4 L362.8,747.2 L366.4,750.4 L370.0,753.5 L374.8,752.2 L380.5,749.3 L386.7,745.2 L389.6,742.8 L394.0,738.9 L395.8,734.5 L399.3,728.5 L405.5,726.4 L410.6,727.9 L416.0,730.6 L419.7,733.7 L422.7,736.1 L426.4,738.9 L431.9,740.5 L436.8,743.0 L441.7,745.5 L447.2,747.2 L451.3,752.0 L455.6,755.6 L460.7,755.0 L466.0,753.5 L469.6,750.9 L472.8,749.4 L476.5,747.2 L480.6,749.7 L484.8,751.4 L489.2,756.0 L493.0,759.8 L498.4,764.0 L498.4,769.9 L499.4,774.4 L502.3,778.0 L504.4,782.2 L505.4,785.3 L508.0,790.0" stroke="#929292" stroke-width="1.2"/>
<path d="M738.0,0.0 L739.5,4.8 L742.1,8.9 L745.0,12.0 L748.6,15.6 L750.5,19.8 L753.1,24.5 L756.0,28.0" stroke="#e3e3e3" stroke-width="5" stroke-linecap="round" stroke-linejoin="round"/>
<path d="M738.0,0.0 L739.5,4.8 L742.1,8.9 L745.0,12.0 L748.6,15.6 L750.5,19.8 L753.1,24.5 L756.0,28.0" stroke="#c2c2c2" stroke-width="1.4"/></g>
<path d="M0.0,0.0 L417.0,0.0 L412.0,10.0 L412.5,22.6 L420.0,35.0 L424.0,43.0 L418.0,55.6 L421.0,73.0 L420.0,97.0 L417.0,108.0 L411.7,116.0 L399.5,132.0 L390.0,140.0 L373.4,150.4 L361.0,166.0 L356.0,175.0 L358.7,192.0 L361.0,204.0 L357.8,216.5 L352.6,234.0 L347.0,244.0 L342.0,248.0 L327.0,255.6 L302.6,269.5 L295.6,304.0 L299.0,356.0 L292.0,384.0 L274.8,408.6 L257.0,426.0 L254.0,433.0 L275.0,440.0 L309.5,457.0 L341.0,470.4 L350.9,479.0 L364.8,491.2 L378.7,500.0 L385.5,503.5 L385.3,489.5 L392.0,486.5 L403.4,484.5 L411.7,477.6 L418.7,465.0 L422.9,453.9 L425.6,445.6 L429.8,448.3 L427.0,460.9 L422.9,472.0 L418.7,481.7 L418.0,487.3 L425.6,490.0 L434.0,492.9 L442.3,494.2 L443.7,481.7 L445.8,460.9 L446.5,440.0 L447.0,431.0 L449.3,431.0 L450.7,440.0 L452.0,460.9 L453.4,481.7 L454.8,495.6 L457.6,498.4 L454.8,509.5 L452.0,520.7 L447.9,529.0 L446.5,540.0 L443.7,551.3 L441.0,560.0 L434.3,570.4 L423.8,584.0 L408.2,593.0 L389.0,596.5 L378.7,605.0 L356.0,615.6 L347.4,629.5 L341.3,636.5 L332.0,642.0 L308.0,657.0 L285.0,684.0 L248.0,722.0 L246.0,740.0 L241.0,754.0 L243.0,770.0 L239.0,782.0 L252.0,798.0 L266.0,816.0 L275.0,830.0 L260.0,840.0 L258.0,863.0 L0.0,863.0 Z" fill="#c4c4c4"/>
<path d="M390.9,517.9 L392.5,515.4 L394.9,512.2 L397.8,509.5 L400.9,508.1 L403.3,505.8 L406.2,504.0 L410.3,501.2 L413.7,500.0 L418.7,499.1 L421.7,500.4 L425.2,500.9 L428.4,501.2 L431.1,502.1 L434.6,504.5 L436.8,505.4 L439.5,508.0 L436.8,512.3 L433.8,513.4 L431.2,515.8 L428.8,517.7 L425.6,519.3 L422.8,522.9 L420.0,526.2 L417.7,528.3 L415.1,532.5 L414.3,534.3 L411.7,537.4 L410.9,540.9 L408.9,544.3 L405.5,546.3 L403.5,547.8 L400.9,547.9 L397.8,549.9 L393.8,548.9 L389.5,547.0 L389.9,543.5 L389.1,540.9 L388.8,537.4 L388.5,534.5 L389.7,529.7 L389.5,527.0 L390.1,523.8 L389.9,521.1 Z" fill="#e9e9e9"/>
<path d="M406.1,523.6 L405.3,520.9 L406.6,518.6 L409.1,519.7 L409.6,521.9 Z M408.5,538.3 L407.5,537.6 L408.3,536.3 L409.2,535.8 L411.0,536.1 L410.9,537.4 L410.7,539.4 Z M406.8,513.7 L407.5,514.7 L407.6,516.0 L406.2,517.1 L404.8,516.5 L403.9,515.8 L404.1,514.6 L405.3,514.3 Z M406.7,526.9 L405.7,529.6 L401.5,532.1 L396.8,526.2 L404.1,523.3 Z M398.2,527.5 L398.3,526.5 L399.6,526.4 L400.8,527.2 L401.3,528.8 L399.2,529.4 L397.7,528.7 Z M411.9,518.1 L411.1,517.6 L410.8,516.7 L411.7,515.6 L413.6,516.1 L413.3,517.8 Z M397.8,523.8 L399.7,522.5 L401.8,523.1 L401.5,525.6 L401.9,527.2 L399.8,528.9 L397.2,528.5 L395.0,525.8 Z M402.2,531.3 L399.3,530.0 L395.6,529.1 L397.4,526.7 L398.9,524.4 L403.0,524.5 L404.4,526.8 L404.6,529.3 Z M407.5,525.0 L406.0,528.1 L401.7,528.7 L399.2,527.9 L397.5,526.6 L396.7,523.3 L400.4,522.1 L404.1,522.9 Z M407.5,527.9 L405.5,526.2 L403.4,523.0 L408.4,523.0 L410.4,524.4 L412.3,527.7 Z M413.5,527.3 L414.1,528.1 L414.2,529.2 L414.4,530.6 L412.7,530.1 L411.5,529.5 L411.5,528.6 L412.6,528.0 Z M414.4,528.0 L411.1,527.9 L411.4,524.9 L413.8,523.5 L415.8,525.7 Z M404.4,520.9 L407.1,523.5 L407.1,527.9 L402.5,528.0 L399.7,525.8 L398.7,521.8 Z M403.9,530.9 L403.0,529.4 L403.2,528.2 L402.4,525.7 L405.4,526.1 L407.0,527.4 L407.6,529.2 L405.6,530.0 Z M411.5,520.0 L412.1,521.8 L410.1,522.8 L408.4,525.2 L405.3,523.7 L407.4,521.4 L406.7,519.7 L409.2,518.6 Z M408.4,520.3 L409.7,519.8 L412.1,520.8 L411.3,522.5 L409.2,522.8 L407.7,523.5 L407.3,522.0 L407.1,520.9 Z M396.9,518.4 L399.5,518.4 L401.4,520.3 L399.6,522.9 L395.8,521.6 Z M399.5,521.7 L398.3,521.4 L397.2,520.4 L398.4,519.4 L399.8,519.5 L400.4,520.6 Z" fill="#d8d8d8"/>
<path d="M755.6,28.7 L758.0,29.2 L761.1,28.6 L765.3,28.4 L767.8,27.8 L770.9,27.0 L775.1,27.3 L778.2,26.0 L782.5,27.8 L782.4,30.9 L781.7,33.9 L780.1,36.6 L779.1,39.6 L777.3,42.6 L777.2,45.8 L777.2,47.9 L776.5,52.0 L776.9,55.3 L775.9,57.3 L776.5,60.8 L780.0,60.5 L783.0,59.9 L786.8,58.5 L790.4,58.2 L793.2,59.6 L795.7,62.0 L797.3,64.3 L800.6,64.7 L804.2,66.6 L807.3,67.0 L811.2,67.8 L814.6,67.0 L817.6,67.1 L821.5,66.2 L825.3,65.1 L828.6,65.2 L832.6,68.4 L835.5,70.4 L836.8,73.8 L839.3,75.8 L840.7,79.0 L843.5,78.7 L846.8,79.6 L850.1,80.1 L853.3,79.8 L856.4,80.8 L859.4,82.1 L863.3,82.6 L866.8,84.3 L869.6,84.5 L873.6,83.6 L876.0,82.6 L879.7,82.3 L882.5,81.7 L887.0,80.1 L891.0,80.0 L894.5,80.1 L897.0,81.2 L900.4,81.7 L904.6,83.3 L907.6,84.7 L910.9,86.9 L915.1,85.5 L917.9,85.1 L921.3,83.8 L925.0,84.0 L928.3,83.5 L932.2,84.6 L934.8,84.8 L935.1,81.3 L935.0,78.8 L935.0,74.8 L934.8,72.9 L934.9,69.2 L935.5,66.0 L939.4,64.6 L943.2,64.0 L946.3,63.0 L949.6,60.4 L951.5,58.8 L954.5,60.3 L957.5,62.1 L961.0,64.0 L964.0,64.3 L967.8,64.7 L969.6,65.9 L973.4,66.0 L976.1,67.7 L979.4,71.3 L981.8,73.4 L985.5,75.6 L988.4,77.4 L992.2,78.6 L994.0,82.3 L997.1,85.0 L998.4,88.0 L1000.4,90.7 L1003.0,92.6 L1004.0,94.6 L1007.1,96.3 L1008.9,99.4 L1011.4,102.4 L1014.4,103.7 L1016.1,106.6 L1019.3,108.8 L1022.6,109.8 L1025.6,112.2 L1028.9,112.8 L1031.8,114.0 L1034.2,114.5 L1037.3,115.8 L1041.2,115.8 L1044.6,115.4 L1048.0,117.0 L1050.6,117.2 L1053.0,119.9 L1057.4,122.1 L1059.2,124.1 L1063.0,125.5 L1066.4,126.4 L1068.2,128.3 L1071.1,129.4 L1075.2,130.4 L1077.7,131.8 L1080.6,132.4 L1083.3,132.6 L1087.2,134.6 L1090.2,134.9 L1094.4,137.0 L1090.2,140.0 L1087.9,139.9 L1083.6,141.6 L1080.5,142.1 L1077.7,142.2 L1075.3,141.7 L1071.6,140.5 L1068.9,138.5 L1065.2,138.0 L1061.6,137.8 L1058.5,137.2 L1055.9,136.5 L1052.0,135.9 L1048.5,134.9 L1049.2,138.1 L1047.8,143.0 L1048.5,146.4 L1052.6,146.0 L1055.4,144.6 L1059.0,144.3 L1061.8,147.4 L1063.9,150.1 L1065.2,152.6 L1066.8,155.3 L1067.7,158.2 L1068.1,161.8 L1069.4,165.0 L1071.5,168.4 L1073.8,169.7 L1076.1,173.4 L1077.7,175.6 L1080.3,178.8 L1082.3,180.6 L1084.1,182.3 L1085.7,185.4 L1088.0,188.0 L1091.0,188.9 L1092.8,190.7 L1095.5,192.7 L1098.6,194.3 L1100.9,197.2 L1101.7,200.6 L1100.0,204.0 L1099.6,209.0 L1098.8,211.7 L1098.0,214.4 L1096.0,217.7 L1097.5,220.4 L1098.3,224.4 L1098.1,226.0 L1099.2,229.8 L1100.0,232.1 L1101.0,235.4 L1101.0,237.9 L1102.0,241.6 L1101.9,244.5 L1102.7,247.3 L1104.3,251.0 L1104.5,253.6 L1101.2,254.3 L1098.4,255.7 L1095.0,257.0 L1092.9,256.0 L1089.9,253.8 L1086.8,252.7 L1083.2,250.8 L1080.7,250.0 L1079.8,253.3 L1078.5,255.4 L1078.1,259.1 L1077.4,262.7 L1075.6,265.9 L1074.8,268.6 L1073.8,271.6 L1073.1,274.3 L1073.0,277.7 L1071.9,281.0 L1070.4,282.9 L1070.1,286.5 L1068.7,289.4 L1067.4,293.0 L1067.4,295.6 L1065.7,298.5 L1064.7,300.5 L1064.4,303.9 L1063.3,305.9 L1061.9,309.3 L1060.2,312.8 L1059.9,315.1 L1059.0,318.0 L1058.1,321.4 L1056.4,323.9 L1055.4,327.7 L1054.5,331.0 L1054.5,334.2 L1053.0,337.0 L1051.9,339.4 L1049.2,341.9 L1047.4,344.1 L1045.0,346.8 L1043.9,348.6 L1040.9,351.3 L1039.2,353.3 L1038.3,356.4 L1036.5,358.4 L1034.2,360.3 L1032.2,363.1 L1029.6,365.6 L1028.4,367.3 L1026.7,369.8 L1024.9,372.2 L1023.0,375.3 L1020.2,376.7 L1018.6,379.4 L1016.8,382.0 L1014.0,384.0 L1012.9,387.0 L1010.5,389.2 L1008.5,391.9 L1007.3,393.5 L1004.6,397.0 L1002.8,398.7 L1000.8,400.6 L999.0,403.9 L997.6,405.0 L994.9,408.2 L993.3,410.8 L992.0,413.0 L989.4,414.7 L988.0,417.5 L986.1,420.2 L983.1,421.3 L980.8,422.7 L977.9,424.6 L975.3,426.9 L973.0,429.8 L971.6,431.7 L968.0,433.4 L966.8,435.2 L963.2,437.5 L962.3,438.9 L959.5,440.2 L957.3,441.9 L954.5,445.1 L951.6,446.4 L949.8,447.6 L946.6,450.7 L945.4,451.6 L941.7,453.4 L940.3,456.8 L936.7,458.4 L935.2,459.5 L933.0,461.8 L929.8,463.4 L927.5,465.1 L925.3,467.9 L922.4,469.6 L921.3,471.4 L917.6,473.9 L916.4,474.7 L913.9,477.9 L911.4,479.9 L909.0,481.5 L905.6,483.7 L903.8,485.0 L900.8,485.6 L896.7,486.9 L893.0,487.4 L889.7,488.1 L886.8,489.9 L884.1,489.7 L882.2,491.7 L878.2,491.5 L875.7,493.8 L872.4,494.2 L869.3,495.0 L867.3,496.6 L863.9,496.8 L861.3,497.3 L859.0,499.5 L855.1,499.9 L853.5,501.6 L850.3,501.5 L846.7,503.0 L844.6,504.0 L841.9,505.6 L837.8,506.6 L835.7,507.0 L832.9,508.2 L830.0,508.8 L827.4,509.5 L823.9,510.0 L822.1,511.8 L818.9,513.0 L816.0,513.2 L813.4,514.3 L810.5,516.1 L807.7,517.4 L804.4,518.2 L800.8,518.7 L798.9,519.4 L795.2,520.7 L792.7,521.0 L789.5,522.2 L787.7,522.9 L783.7,524.8 L780.9,524.8 L778.8,526.6 L775.9,526.7 L772.4,527.6 L769.8,528.9 L767.0,529.7 L763.4,530.7 L761.9,531.7 L757.9,532.9 L754.8,534.6 L752.0,535.8 L749.5,535.4 L746.4,536.7 L743.5,538.7 L741.5,539.0 L738.2,540.5 L735.5,541.2 L732.5,541.9 L729.2,543.9 L726.9,544.6 L724.1,547.6 L722.8,548.6 L719.5,551.6 L716.7,554.3 L715.1,557.0 L712.0,558.2 L710.2,561.3 L708.0,563.4 L706.2,566.3 L704.8,567.8 L701.8,571.5 L700.8,573.4 L699.0,574.9 L696.3,578.0 L694.0,579.9 L691.2,582.5 L689.9,584.5 L686.9,586.6 L684.6,589.2 L682.4,592.0 L682.9,596.5 L682.4,600.3 L686.6,604.4 L685.5,608.4 L685.2,611.4 L683.0,613.0 L679.6,614.2 L678.9,609.9 L676.8,605.8 L673.5,603.9 L669.9,601.7 L666.4,600.0 L662.9,597.5 L661.1,600.1 L659.7,603.1 L658.3,606.0 L657.4,608.6 L657.6,611.9 L655.7,616.8 L656.0,619.7 L655.0,623.4 L655.8,626.2 L655.0,629.6 L654.1,633.1 L654.0,636.3 L653.5,639.0 L653.9,642.7 L652.7,646.3 L651.6,650.0 L649.4,652.3 L648.4,655.7 L648.2,659.0 L646.1,660.9 L645.2,665.0 L643.7,667.4 L642.9,670.7 L640.0,674.2 L639.7,677.2 L637.3,679.1 L635.6,681.9 L634.9,685.6 L632.8,688.8 L631.7,691.5 L630.5,693.8 L629.8,697.9 L628.4,700.0 L628.2,703.5 L626.9,706.7 L625.6,709.6 L625.0,712.9 L624.1,715.7 L622.8,718.3 L621.3,721.7 L619.9,725.2 L619.2,727.3 L618.0,730.7 L618.1,733.6 L618.7,736.5 L620.5,740.0 L621.3,742.3 L621.3,745.1 L622.6,748.8 L620.6,752.6 L619.6,755.3 L618.5,757.5 L616.6,760.8 L614.9,764.3 L614.3,767.5 L612.6,769.2 L610.5,772.9 L607.8,774.7 L603.8,777.3 L602.1,778.7 L598.7,779.4 L595.5,782.0 L593.6,783.3 L590.0,785.1 L587.5,787.4 L586.4,789.8 L583.4,791.0 L582.5,794.5 L581.8,797.3 L581.5,800.5 L581.7,803.8 L581.2,805.9 L580.6,809.6 L580.4,812.0 L579.1,814.7 L577.2,817.2 L574.4,819.9 L572.8,821.6 L571.4,824.0 L568.1,826.1 L565.0,827.9 L562.3,830.0 L559.2,829.0 L555.7,827.3 L552.6,826.5 L550.3,825.6 L547.9,824.1 L544.5,824.5 L541.9,823.0 L538.3,822.3 L534.9,823.1 L531.4,822.4 L529.2,821.0 L527.2,819.5 L524.4,817.4 L522.2,814.4 L520.8,812.7 L517.7,809.7 L515.8,807.8 L514.0,806.0 L513.1,803.4 L512.9,800.0 L511.2,797.8 L510.7,794.7 L509.6,791.0" fill="none" stroke="#e0e0e0" stroke-width="8" stroke-linejoin="round" stroke-linecap="round"/>
<path d="M577.4,593.6 L579.7,597.6 L580.9,600.3 L582.3,602.2 L582.7,605.4 L585.0,608.0 L586.2,610.4 L587.4,612.8 L589.7,614.4 L590.6,617.0 L593.5,618.5 L595.6,619.4 L599.6,620.0 L602.3,622.0 L605.2,622.5 L607.3,624.0 L609.3,623.9 L613.5,622.5 L614.8,621.2 L618.7,620.7 L622.1,620.6 L624.0,619.7 L626.1,620.0 L629.1,620.6 L632.8,619.7 L635.0,620.1 L637.9,620.7 L639.1,619.4 L642.9,619.3 L645.5,618.9 L648.8,619.8 L649.9,620.0 L653.0,619.1 L656.0,619.7 L655.6,621.6 L654.8,625.8 L655.4,626.7 L655.2,629.4 L654.0,633.8 L654.3,635.3 L653.4,638.1 L652.6,642.0 L652.1,643.5 L652.7,646.3 L652.1,648.7 L651.4,651.1 L650.3,655.0 L648.5,657.6 L647.0,660.2 L646.5,662.2 L644.8,665.2 L643.7,667.4 L642.3,669.0 L641.8,671.8 L640.1,675.2 L638.2,676.1 L636.9,679.6 L636.2,681.4 L635.2,685.1 L633.6,686.5 L633.7,689.3 L631.7,691.5 L630.4,694.0 L629.9,696.0 L628.8,698.9 L628.8,701.5 L627.7,705.4 L627.3,706.8 L625.6,709.6 L624.9,711.9 L623.5,714.9 L623.3,718.4 L621.4,719.2 L620.7,721.9 L619.0,726.0 L618.2,728.5 L618.0,730.7 L618.4,734.2 L620.0,735.0 L619.4,739.4 L620.9,740.9 L621.9,744.3 L621.9,746.2 L622.6,748.8 L620.6,750.9 L619.5,753.9 L619.2,755.3 L618.1,757.6 L616.6,760.8 L614.6,763.5 L614.1,766.4 L613.2,768.5 L611.0,771.1 L610.5,772.9 L607.2,774.7 L606.3,776.7 L603.8,777.4 L600.9,779.5 L597.3,781.4 L595.5,782.0 L593.9,783.7 L591.2,785.5 L587.8,787.8 L584.9,789.8 L583.4,791.0 L584.0,793.2 L583.5,795.4 L583.0,798.4 L582.8,801.4 L582.4,803.2 L580.3,807.4 L581.1,809.4 L580.4,812.0 L577.7,813.7 L576.5,815.9 L576.0,819.7 L574.1,822.0 L571.4,824.0 L568.8,824.7 L567.3,826.2 L564.7,828.4 L562.3,830.0 L559.3,828.1 L555.4,827.8 L552.4,826.8 L550.3,825.6 L547.0,824.6 L544.3,824.6 L542.2,823.3 L539.2,823.4 L537.9,822.6 L533.8,821.8 L531.3,821.7 L529.2,821.0 L527.9,819.3 L524.8,816.9 L523.3,815.3 L521.4,814.5 L519.8,811.9 L518.2,810.0 L516.5,807.6 L514.0,806.0 L513.6,804.4 L511.9,801.3 L511.6,797.6 L510.1,796.5 L509.6,793.9 L509.6,791.0 L510.3,788.6 L511.6,786.8 L514.6,784.0 L515.7,783.2 L516.6,780.2 L519.0,778.8 L520.0,775.9 L521.0,774.2 L522.6,771.1 L526.0,769.0 L527.6,768.4 L528.8,766.3 L530.4,763.4 L531.7,761.2 L534.2,760.4 L535.2,757.8 L537.7,755.3 L539.2,753.5 L541.4,752.6 L543.7,750.7 L545.0,748.9 L545.7,746.7 L547.5,744.3 L550.3,742.7 L550.2,741.0 L550.6,738.4 L553.1,734.9 L553.5,731.5 L552.8,728.9 L553.3,726.3 L554.8,724.7 L554.4,721.3 L552.8,719.1 L550.9,716.8 L549.9,715.3 L549.2,712.0 L548.5,709.4 L547.3,706.6 L547.6,703.5 L547.3,702.1 L547.8,698.6 L549.4,696.2 L550.1,694.0 L549.6,690.0 L550.1,688.1 L550.3,685.5 L550.6,683.0 L549.8,681.0 L549.0,678.4 L549.4,674.5 L549.0,673.3 L548.4,669.7 L547.3,667.4 L545.9,664.1 L545.3,662.9 L544.4,658.7 L543.4,656.2 L543.2,655.0 L542.9,651.1 L541.2,649.3 L543.2,646.3 L546.6,645.5 L548.1,643.5 L550.3,640.3 L552.1,638.7 L553.7,635.7 L556.4,634.5 L557.3,632.4 L559.2,630.1 L559.7,626.6 L562.3,625.2 L561.2,622.4 L562.1,618.4 L561.4,615.3 L561.5,613.6 L560.8,610.0 L561.2,608.3 L563.6,603.9 L564.2,601.3 L566.1,600.1 L566.9,596.6 L568.9,595.2 L572.4,595.8 L575.3,594.3 Z" fill="none" stroke="#ffffff" stroke-opacity="0.2" stroke-width="3.6" stroke-linejoin="round"/><path d="M577.4,593.6 L579.7,597.6 L580.9,600.3 L582.3,602.2 L582.7,605.4 L585.0,608.0 L586.2,610.4 L587.4,612.8 L589.7,614.4 L590.6,617.0 L593.5,618.5 L595.6,619.4 L599.6,620.0 L602.3,622.0 L605.2,622.5 L607.3,624.0 L609.3,623.9 L613.5,622.5 L614.8,621.2 L618.7,620.7 L622.1,620.6 L624.0,619.7 L626.1,620.0 L629.1,620.6 L632.8,619.7 L635.0,620.1 L637.9,620.7 L639.1,619.4 L642.9,619.3 L645.5,618.9 L648.8,619.8 L649.9,620.0 L653.0,619.1 L656.0,619.7 L655.6,621.6 L654.8,625.8 L655.4,626.7 L655.2,629.4 L654.0,633.8 L654.3,635.3 L653.4,638.1 L652.6,642.0 L652.1,643.5 L652.7,646.3 L652.1,648.7 L651.4,651.1 L650.3,655.0 L648.5,657.6 L647.0,660.2 L646.5,662.2 L644.8,665.2 L643.7,667.4 L642.3,669.0 L641.8,671.8 L640.1,675.2 L638.2,676.1 L636.9,679.6 L636.2,681.4 L635.2,685.1 L633.6,686.5 L633.7,689.3 L631.7,691.5 L630.4,694.0 L629.9,696.0 L628.8,698.9 L628.8,701.5 L627.7,705.4 L627.3,706.8 L625.6,709.6 L624.9,711.9 L623.5,714.9 L623.3,718.4 L621.4,719.2 L620.7,721.9 L619.0,726.0 L618.2,728.5 L618.0,730.7 L618.4,734.2 L620.0,735.0 L619.4,739.4 L620.9,740.9 L621.9,744.3 L621.9,746.2 L622.6,748.8 L620.6,750.9 L619.5,753.9 L619.2,755.3 L618.1,757.6 L616.6,760.8 L614.6,763.5 L614.1,766.4 L613.2,768.5 L611.0,771.1 L610.5,772.9 L607.2,774.7 L606.3,776.7 L603.8,777.4 L600.9,779.5 L597.3,781.4 L595.5,782.0 L593.9,783.7 L591.2,785.5 L587.8,787.8 L584.9,789.8 L583.4,791.0 L584.0,793.2 L583.5,795.4 L583.0,798.4 L582.8,801.4 L582.4,803.2 L580.3,807.4 L581.1,809.4 L580.4,812.0 L577.7,813.7 L576.5,815.9 L576.0,819.7 L574.1,822.0 L571.4,824.0 L568.8,824.7 L567.3,826.2 L564.7,828.4 L562.3,830.0 L559.3,828.1 L555.4,827.8 L552.4,826.8 L550.3,825.6 L547.0,824.6 L544.3,824.6 L542.2,823.3 L539.2,823.4 L537.9,822.6 L533.8,821.8 L531.3,821.7 L529.2,821.0 L527.9,819.3 L524.8,816.9 L523.3,815.3 L521.4,814.5 L519.8,811.9 L518.2,810.0 L516.5,807.6 L514.0,806.0 L513.6,804.4 L511.9,801.3 L511.6,797.6 L510.1,796.5 L509.6,793.9 L509.6,791.0 L510.3,788.6 L511.6,786.8 L514.6,784.0 L515.7,783.2 L516.6,780.2 L519.0,778.8 L520.0,775.9 L521.0,774.2 L522.6,771.1 L526.0,769.0 L527.6,768.4 L528.8,766.3 L530.4,763.4 L531.7,761.2 L534.2,760.4 L535.2,757.8 L537.7,755.3 L539.2,753.5 L541.4,752.6 L543.7,750.7 L545.0,748.9 L545.7,746.7 L547.5,744.3 L550.3,742.7 L550.2,741.0 L550.6,738.4 L553.1,734.9 L553.5,731.5 L552.8,728.9 L553.3,726.3 L554.8,724.7 L554.4,721.3 L552.8,719.1 L550.9,716.8 L549.9,715.3 L549.2,712.0 L548.5,709.4 L547.3,706.6 L547.6,703.5 L547.3,702.1 L547.8,698.6 L549.4,696.2 L550.1,694.0 L549.6,690.0 L550.1,688.1 L550.3,685.5 L550.6,683.0 L549.8,681.0 L549.0,678.4 L549.4,674.5 L549.0,673.3 L548.4,669.7 L547.3,667.4 L545.9,664.1 L545.3,662.9 L544.4,658.7 L543.4,656.2 L543.2,655.0 L542.9,651.1 L541.2,649.3 L543.2,646.3 L546.6,645.5 L548.1,643.5 L550.3,640.3 L552.1,638.7 L553.7,635.7 L556.4,634.5 L557.3,632.4 L559.2,630.1 L559.7,626.6 L562.3,625.2 L561.2,622.4 L562.1,618.4 L561.4,615.3 L561.5,613.6 L560.8,610.0 L561.2,608.3 L563.6,603.9 L564.2,601.3 L566.1,600.1 L566.9,596.6 L568.9,595.2 L572.4,595.8 L575.3,594.3 Z" fill="#cbcbcb"/>
<path d="M739.7,116.2 L740.8,117.3 L740.6,120.3 L741.1,123.3 L741.7,126.0 L744.5,126.0 L745.9,128.4 L748.9,128.1 L752.0,129.5 L755.6,129.7 L757.9,130.0 L760.2,129.7 L762.8,131.4 L765.2,131.4 L767.8,131.2 L770.7,128.6 L773.5,127.9 L775.2,125.1 L778.2,124.3 L781.5,123.6 L783.8,123.9 L786.0,122.5 L787.6,125.7 L788.1,127.8 L789.5,129.5 L789.8,133.8 L790.4,136.4 L794.6,136.9 L797.3,139.0 L798.7,136.5 L802.6,135.0 L804.1,132.8 L806.0,131.2 L808.0,128.4 L810.0,126.0 L809.9,129.0 L810.6,132.5 L811.0,135.4 L810.8,137.4 L812.1,141.0 L812.3,141.9 L813.3,146.1 L813.9,147.9 L814.1,149.8 L814.3,153.0 L814.5,156.2 L813.0,158.2 L813.7,163.1 L812.6,165.2 L810.0,168.2 L808.9,169.3 L807.0,173.0 L806.4,174.0 L803.9,177.3 L802.1,178.4 L800.3,181.0 L798.6,184.4 L795.8,186.4 L793.4,186.6 L791.7,189.5 L788.8,188.3 L785.0,188.9 L782.8,188.1 L779.5,188.6 L776.0,187.9 L773.9,186.7 L771.7,184.3 L770.9,186.1 L768.5,188.5 L767.3,190.7 L765.6,192.9 L763.9,194.7 L766.5,197.2 L767.2,200.0 L768.6,201.6 L771.8,204.5 L772.6,206.9 L774.4,208.5 L775.9,212.3 L776.8,214.9 L779.5,217.3 L779.1,219.2 L778.4,222.8 L777.8,225.3 L777.1,228.9 L776.0,231.2 L774.4,233.1 L775.0,237.6 L773.5,239.4 L773.5,241.9 L772.6,245.0 L770.1,246.9 L768.2,249.5 L771.1,250.5 L774.2,250.9 L777.8,252.0 L780.9,249.9 L783.1,250.1 L785.2,247.9 L788.8,246.8 L790.2,246.0 L793.4,245.0 L796.6,242.8 L798.6,241.9 L802.4,240.7 L805.2,238.7 L807.3,238.0 L809.9,236.6 L813.9,234.6 L816.0,233.0 L817.6,230.1 L820.4,228.0 L823.1,227.2 L824.7,224.3 L826.4,221.8 L830.0,220.5 L831.7,218.2 L835.0,220.8 L833.9,222.6 L830.9,224.5 L830.5,226.6 L827.9,229.0 L826.5,231.2 L824.6,234.4 L823.0,238.0 L826.0,239.1 L826.4,242.4 L830.3,244.2 L831.7,245.0 L834.1,246.7 L837.6,246.0 L839.8,248.0 L842.1,248.1 L844.3,248.8 L844.3,251.6 L844.6,254.3 L845.5,258.3 L843.8,259.9 L841.7,262.3 L839.2,261.4 L836.3,262.7 L832.4,262.3 L830.1,263.9 L826.9,264.1 L822.9,264.8 L819.1,266.1 L816.7,266.0 L814.9,267.2 L811.6,268.8 L809.0,268.7 L806.6,269.7 L803.3,272.1 L801.2,272.7 L798.4,273.3 L795.4,272.1 L793.0,273.3 L789.5,273.3 L787.4,272.7 L785.8,274.5 L783.1,274.2 L780.3,277.1 L777.6,277.6 L773.7,278.1 L771.7,279.5 L768.5,279.8 L766.0,279.8 L764.0,279.1 L759.8,279.6 L757.9,280.5 L754.5,280.8 L753.5,283.5 L749.1,284.0 L746.9,284.7 L744.4,286.5 L742.0,287.4 L739.2,287.9 L735.5,288.6 L732.5,289.8 L730.3,290.4 L728.3,292.1 L725.4,294.3 L721.6,292.4 L719.2,291.9 L716.5,290.4 L714.1,291.1 L711.2,292.6 L707.5,293.1 L704.7,294.3 L702.0,294.7 L699.1,294.7 L696.5,293.8 L693.9,294.3 L692.9,289.4 L690.0,288.3 L687.0,286.4 L683.6,285.0 L681.9,284.7 L680.4,282.5 L677.0,281.5 L675.0,282.4 L671.0,282.1 L667.9,283.1 L666.3,283.6 L663.8,283.5 L660.4,283.5 L661.5,280.3 L660.9,277.1 L662.3,273.6 L660.6,269.9 L661.4,266.8 L659.3,263.9 L659.4,261.8 L658.6,258.9 L655.3,258.0 L654.0,255.8 L653.5,253.6 L651.6,250.7 L653.1,248.2 L653.3,244.5 L653.9,242.9 L654.3,239.5 L655.0,238.5 L654.2,234.7 L655.8,233.1 L656.2,229.8 L656.6,226.6 L657.4,224.8 L659.3,221.8 L659.4,219.2 L660.3,216.6 L660.6,214.2 L663.3,211.4 L663.2,209.0 L665.6,206.0 L667.3,204.9 L669.1,202.1 L670.6,200.0 L672.5,197.4 L673.8,194.0 L672.7,192.6 L674.8,189.5 L674.4,187.2 L674.4,183.6 L674.9,181.6 L676.0,178.8 L676.8,175.5 L678.7,174.2 L679.0,170.9 L680.4,168.5 L681.7,165.0 L682.2,161.9 L681.8,158.7 L682.6,156.8 L682.4,154.1 L683.0,152.3 L683.0,150.0 L684.0,146.4 L686.8,145.7 L689.5,145.2 L693.0,143.7 L695.2,143.1 L698.0,141.7 L701.5,140.1 L704.0,139.9 L706.3,137.0 L708.6,136.6 L711.9,134.8 L714.1,133.9 L716.2,130.6 L716.7,128.7 L718.6,127.8 L721.0,125.5 L723.7,124.5 L724.4,122.7 L726.5,120.1 L729.3,117.7 L729.9,117.4 L732.7,115.0 L735.8,115.3 Z" fill="none" stroke="#ffffff" stroke-opacity="0.2" stroke-width="3.6" stroke-linejoin="round"/><path d="M739.7,116.2 L740.8,117.3 L740.6,120.3 L741.1,123.3 L741.7,126.0 L744.5,126.0 L745.9,128.4 L748.9,128.1 L752.0,129.5 L755.6,129.7 L757.9,130.0 L760.2,129.7 L762.8,131.4 L765.2,131.4 L767.8,131.2 L770.7,128.6 L773.5,127.9 L775.2,125.1 L778.2,124.3 L781.5,123.6 L783.8,123.9 L786.0,122.5 L787.6,125.7 L788.1,127.8 L789.5,129.5 L789.8,133.8 L790.4,136.4 L794.6,136.9 L797.3,139.0 L798.7,136.5 L802.6,135.0 L804.1,132.8 L806.0,131.2 L808.0,128.4 L810.0,126.0 L809.9,129.0 L810.6,132.5 L811.0,135.4 L810.8,137.4 L812.1,141.0 L812.3,141.9 L813.3,146.1 L813.9,147.9 L814.1,149.8 L814.3,153.0 L814.5,156.2 L813.0,158.2 L813.7,163.1 L812.6,165.2 L810.0,168.2 L808.9,169.3 L807.0,173.0 L806.4,174.0 L803.9,177.3 L802.1,178.4 L800.3,181.0 L798.6,184.4 L795.8,186.4 L793.4,186.6 L791.7,189.5 L788.8,188.3 L785.0,188.9 L782.8,188.1 L779.5,188.6 L776.0,187.9 L773.9,186.7 L771.7,184.3 L770.9,186.1 L768.5,188.5 L767.3,190.7 L765.6,192.9 L763.9,194.7 L766.5,197.2 L767.2,200.0 L768.6,201.6 L771.8,204.5 L772.6,206.9 L774.4,208.5 L775.9,212.3 L776.8,214.9 L779.5,217.3 L779.1,219.2 L778.4,222.8 L777.8,225.3 L777.1,228.9 L776.0,231.2 L774.4,233.1 L775.0,237.6 L773.5,239.4 L773.5,241.9 L772.6,245.0 L770.1,246.9 L768.2,249.5 L771.1,250.5 L774.2,250.9 L777.8,252.0 L780.9,249.9 L783.1,250.1 L785.2,247.9 L788.8,246.8 L790.2,246.0 L793.4,245.0 L796.6,242.8 L798.6,241.9 L802.4,240.7 L805.2,238.7 L807.3,238.0 L809.9,236.6 L813.9,234.6 L816.0,233.0 L817.6,230.1 L820.4,228.0 L823.1,227.2 L824.7,224.3 L826.4,221.8 L830.0,220.5 L831.7,218.2 L835.0,220.8 L833.9,222.6 L830.9,224.5 L830.5,226.6 L827.9,229.0 L826.5,231.2 L824.6,234.4 L823.0,238.0 L826.0,239.1 L826.4,242.4 L830.3,244.2 L831.7,245.0 L834.1,246.7 L837.6,246.0 L839.8,248.0 L842.1,248.1 L844.3,248.8 L844.3,251.6 L844.6,254.3 L845.5,258.3 L843.8,259.9 L841.7,262.3 L839.2,261.4 L836.3,262.7 L832.4,262.3 L830.1,263.9 L826.9,264.1 L822.9,264.8 L819.1,266.1 L816.7,266.0 L814.9,267.2 L811.6,268.8 L809.0,268.7 L806.6,269.7 L803.3,272.1 L801.2,272.7 L798.4,273.3 L795.4,272.1 L793.0,273.3 L789.5,273.3 L787.4,272.7 L785.8,274.5 L783.1,274.2 L780.3,277.1 L777.6,277.6 L773.7,278.1 L771.7,279.5 L768.5,279.8 L766.0,279.8 L764.0,279.1 L759.8,279.6 L757.9,280.5 L754.5,280.8 L753.5,283.5 L749.1,284.0 L746.9,284.7 L744.4,286.5 L742.0,287.4 L739.2,287.9 L735.5,288.6 L732.5,289.8 L730.3,290.4 L728.3,292.1 L725.4,294.3 L721.6,292.4 L719.2,291.9 L716.5,290.4 L714.1,291.1 L711.2,292.6 L707.5,293.1 L704.7,294.3 L702.0,294.7 L699.1,294.7 L696.5,293.8 L693.9,294.3 L692.9,289.4 L690.0,288.3 L687.0,286.4 L683.6,285.0 L681.9,284.7 L680.4,282.5 L677.0,281.5 L675.0,282.4 L671.0,282.1 L667.9,283.1 L666.3,283.6 L663.8,283.5 L660.4,283.5 L661.5,280.3 L660.9,277.1 L662.3,273.6 L660.6,269.9 L661.4,266.8 L659.3,263.9 L659.4,261.8 L658.6,258.9 L655.3,258.0 L654.0,255.8 L653.5,253.6 L651.6,250.7 L653.1,248.2 L653.3,244.5 L653.9,242.9 L654.3,239.5 L655.0,238.5 L654.2,234.7 L655.8,233.1 L656.2,229.8 L656.6,226.6 L657.4,224.8 L659.3,221.8 L659.4,219.2 L660.3,216.6 L660.6,214.2 L663.3,211.4 L663.2,209.0 L665.6,206.0 L667.3,204.9 L669.1,202.1 L670.6,200.0 L672.5,197.4 L673.8,194.0 L672.7,192.6 L674.8,189.5 L674.4,187.2 L674.4,183.6 L674.9,181.6 L676.0,178.8 L676.8,175.5 L678.7,174.2 L679.0,170.9 L680.4,168.5 L681.7,165.0 L682.2,161.9 L681.8,158.7 L682.6,156.8 L682.4,154.1 L683.0,152.3 L683.0,150.0 L684.0,146.4 L686.8,145.7 L689.5,145.2 L693.0,143.7 L695.2,143.1 L698.0,141.7 L701.5,140.1 L704.0,139.9 L706.3,137.0 L708.6,136.6 L711.9,134.8 L714.1,133.9 L716.2,130.6 L716.7,128.7 L718.6,127.8 L721.0,125.5 L723.7,124.5 L724.4,122.7 L726.5,120.1 L729.3,117.7 L729.9,117.4 L732.7,115.0 L735.8,115.3 Z" fill="#c0c0c0"/>
<path d="M693.9,294.3 L696.1,293.5 L699.1,293.6 L701.1,294.1 L704.7,294.3 L708.5,293.9 L711.1,291.8 L713.6,290.9 L716.5,290.4 L718.8,290.9 L721.9,293.9 L725.4,294.3 L728.5,293.0 L730.3,290.4 L733.8,289.0 L735.8,289.2 L739.5,288.9 L742.0,287.4 L745.4,285.4 L747.5,285.4 L750.0,283.3 L752.5,282.0 L756.1,282.4 L757.9,280.5 L760.8,279.9 L764.2,280.2 L766.9,280.6 L769.0,279.5 L771.7,279.5 L774.8,278.4 L777.6,277.6 L779.4,276.0 L783.1,274.2 L784.0,274.2 L787.4,272.7 L789.7,272.8 L792.9,272.4 L796.7,272.1 L798.3,272.1 L801.2,272.7 L804.1,270.9 L806.1,270.5 L809.0,268.7 L811.4,268.0 L815.4,266.3 L816.5,265.8 L820.7,265.8 L822.9,264.8 L825.5,263.6 L828.6,263.1 L832.4,262.3 L834.6,262.7 L839.4,263.2 L841.7,262.3 L839.5,264.3 L842.4,268.2 L844.3,270.3 L846.2,271.1 L851.0,273.2 L852.7,274.7 L856.0,275.7 L858.6,276.2 L860.8,276.6 L863.7,277.5 L866.2,280.1 L868.7,279.2 L870.7,280.5 L874.2,282.2 L876.5,278.9 L877.7,276.2 L880.1,274.7 L884.4,274.6 L885.7,273.2 L888.3,272.7 L892.0,272.6 L895.2,271.4 L896.8,271.7 L900.1,272.2 L902.8,270.8 L906.4,270.3 L909.6,269.9 L912.6,269.7 L913.7,269.3 L916.0,269.1 L919.5,269.0 L919.0,272.4 L920.2,274.3 L918.6,276.4 L919.0,279.0 L919.5,282.2 L920.5,285.3 L921.8,286.1 L924.9,289.5 L925.5,291.7 L928.9,293.0 L931.1,295.0 L933.2,296.7 L935.0,297.7 L937.9,298.1 L940.2,300.8 L944.4,302.1 L946.2,302.8 L949.4,303.7 L952.9,303.7 L955.7,303.3 L958.3,303.4 L960.4,303.6 L963.7,302.5 L967.8,300.5 L971.0,301.1 L973.2,299.0 L977.1,298.6 L980.4,300.0 L984.2,300.5 L987.3,302.8 L988.4,303.0 L992.3,304.9 L995.4,306.0 L998.5,307.6 L1000.3,306.7 L1004.6,307.7 L1006.6,309.6 L1010.4,309.7 L1013.2,312.0 L1016.4,312.4 L1018.6,313.2 L1021.8,313.8 L1023.7,315.3 L1026.6,317.3 L1028.1,318.1 L1029.7,318.3 L1033.0,320.4 L1035.5,322.3 L1038.4,324.5 L1039.4,325.9 L1043.0,328.1 L1044.8,330.0 L1045.9,332.4 L1049.6,332.7 L1051.0,335.0 L1053.0,337.0 L1051.8,338.6 L1048.8,341.0 L1048.5,342.2 L1045.0,345.2 L1044.7,347.0 L1042.0,349.7 L1040.8,350.1 L1039.2,352.4 L1036.2,355.7 L1034.7,357.6 L1033.0,359.0 L1030.8,361.9 L1029.3,362.6 L1028.4,365.1 L1027.0,368.4 L1025.8,368.7 L1023.5,371.9 L1022.4,374.4 L1020.9,375.3 L1018.9,379.0 L1017.6,381.0 L1017.3,382.8 L1015.2,384.9 L1012.9,387.7 L1011.8,389.0 L1010.1,392.0 L1008.1,394.2 L1007.4,395.9 L1005.0,397.1 L1004.0,399.8 L1002.1,401.6 L999.3,403.8 L999.0,406.1 L997.6,408.7 L995.2,410.8 L993.7,412.5 L991.5,416.4 L989.4,418.1 L988.4,420.0 L985.2,421.7 L982.6,424.2 L979.3,424.8 L978.7,428.0 L976.0,429.5 L973.9,429.7 L970.8,431.9 L968.4,434.4 L966.4,436.0 L962.7,436.9 L961.4,438.6 L958.7,439.7 L956.8,442.1 L954.0,444.0 L952.0,445.1 L950.8,447.1 L947.5,447.8 L945.4,450.4 L944.5,452.7 L941.2,453.4 L939.9,454.9 L936.9,456.1 L934.9,458.8 L932.2,460.6 L931.1,462.5 L928.4,464.9 L926.9,465.1 L923.7,468.5 L923.4,470.1 L920.6,470.7 L917.5,472.3 L915.7,475.4 L915.0,476.8 L911.4,477.5 L909.6,480.7 L907.3,482.1 L906.2,483.3 L903.8,485.0 L902.0,485.1 L898.4,485.5 L894.9,485.9 L893.0,487.4 L890.6,484.7 L888.1,484.5 L887.0,481.5 L883.4,481.4 L881.1,480.3 L877.6,479.0 L875.0,480.4 L872.6,480.4 L869.1,480.9 L866.5,481.1 L863.2,481.5 L860.8,479.3 L859.1,478.5 L855.2,476.3 L853.7,475.5 L853.2,472.6 L851.1,471.1 L850.8,468.0 L848.9,466.0 L847.0,463.4 L844.6,462.0 L842.8,459.7 L841.4,455.7 L841.1,454.6 L838.2,451.7 L837.0,449.2 L834.6,448.3 L831.6,447.1 L830.8,445.5 L828.3,444.6 L824.8,443.1 L823.4,441.2 L820.3,439.7 L817.4,438.3 L816.9,436.1 L814.2,435.7 L812.0,432.4 L810.0,431.3 L808.3,430.5 L805.1,429.4 L803.6,426.7 L801.2,425.4 L799.5,425.1 L797.2,424.0 L794.4,422.6 L791.9,421.2 L790.2,419.8 L786.0,419.4 L784.5,418.0 L782.3,416.4 L779.7,415.8 L776.4,414.0 L774.9,414.8 L772.0,412.3 L769.9,412.9 L766.3,410.3 L764.3,410.6 L761.1,408.5 L758.2,408.6 L756.4,406.1 L753.5,404.8 L751.0,404.7 L749.4,403.0 L746.2,400.6 L744.5,398.3 L742.0,397.7 L740.3,396.3 L739.4,393.7 L736.9,391.0 L736.3,388.7 L734.2,385.9 L732.9,382.5 L730.9,381.1 L731.5,377.1 L730.0,374.6 L728.3,372.0 L727.6,369.8 L726.0,366.4 L724.9,363.2 L724.4,360.3 L721.5,358.1 L720.0,357.7 L717.7,355.6 L716.5,353.4 L712.4,354.7 L709.3,353.3 L706.7,354.4 L705.1,352.8 L705.0,350.2 L703.7,346.2 L702.7,344.5 L701.4,341.5 L701.7,337.9 L699.3,336.3 L698.8,332.7 L696.1,331.0 L694.5,327.6 L692.9,324.8 L690.6,325.9 L686.8,326.2 L685.0,325.8 L686.4,323.8 L689.0,321.0 L689.0,318.5 L690.3,314.4 L691.0,311.6 L692.9,309.0 L692.8,307.0 L693.5,302.8 L694.5,299.5 L693.1,298.2 Z" fill="none" stroke="#ffffff" stroke-opacity="0.2" stroke-width="3.6" stroke-linejoin="round"/><path d="M693.9,294.3 L696.1,293.5 L699.1,293.6 L701.1,294.1 L704.7,294.3 L708.5,293.9 L711.1,291.8 L713.6,290.9 L716.5,290.4 L718.8,290.9 L721.9,293.9 L725.4,294.3 L728.5,293.0 L730.3,290.4 L733.8,289.0 L735.8,289.2 L739.5,288.9 L742.0,287.4 L745.4,285.4 L747.5,285.4 L750.0,283.3 L752.5,282.0 L756.1,282.4 L757.9,280.5 L760.8,279.9 L764.2,280.2 L766.9,280.6 L769.0,279.5 L771.7,279.5 L774.8,278.4 L777.6,277.6 L779.4,276.0 L783.1,274.2 L784.0,274.2 L787.4,272.7 L789.7,272.8 L792.9,272.4 L796.7,272.1 L798.3,272.1 L801.2,272.7 L804.1,270.9 L806.1,270.5 L809.0,268.7 L811.4,268.0 L815.4,266.3 L816.5,265.8 L820.7,265.8 L822.9,264.8 L825.5,263.6 L828.6,263.1 L832.4,262.3 L834.6,262.7 L839.4,263.2 L841.7,262.3 L839.5,264.3 L842.4,268.2 L844.3,270.3 L846.2,271.1 L851.0,273.2 L852.7,274.7 L856.0,275.7 L858.6,276.2 L860.8,276.6 L863.7,277.5 L866.2,280.1 L868.7,279.2 L870.7,280.5 L874.2,282.2 L876.5,278.9 L877.7,276.2 L880.1,274.7 L884.4,274.6 L885.7,273.2 L888.3,272.7 L892.0,272.6 L895.2,271.4 L896.8,271.7 L900.1,272.2 L902.8,270.8 L906.4,270.3 L909.6,269.9 L912.6,269.7 L913.7,269.3 L916.0,269.1 L919.5,269.0 L919.0,272.4 L920.2,274.3 L918.6,276.4 L919.0,279.0 L919.5,282.2 L920.5,285.3 L921.8,286.1 L924.9,289.5 L925.5,291.7 L928.9,293.0 L931.1,295.0 L933.2,296.7 L935.0,297.7 L937.9,298.1 L940.2,300.8 L944.4,302.1 L946.2,302.8 L949.4,303.7 L952.9,303.7 L955.7,303.3 L958.3,303.4 L960.4,303.6 L963.7,302.5 L967.8,300.5 L971.0,301.1 L973.2,299.0 L977.1,298.6 L980.4,300.0 L984.2,300.5 L987.3,302.8 L988.4,303.0 L992.3,304.9 L995.4,306.0 L998.5,307.6 L1000.3,306.7 L1004.6,307.7 L1006.6,309.6 L1010.4,309.7 L1013.2,312.0 L1016.4,312.4 L1018.6,313.2 L1021.8,313.8 L1023.7,315.3 L1026.6,317.3 L1028.1,318.1 L1029.7,318.3 L1033.0,320.4 L1035.5,322.3 L1038.4,324.5 L1039.4,325.9 L1043.0,328.1 L1044.8,330.0 L1045.9,332.4 L1049.6,332.7 L1051.0,335.0 L1053.0,337.0 L1051.8,338.6 L1048.8,341.0 L1048.5,342.2 L1045.0,345.2 L1044.7,347.0 L1042.0,349.7 L1040.8,350.1 L1039.2,352.4 L1036.2,355.7 L1034.7,357.6 L1033.0,359.0 L1030.8,361.9 L1029.3,362.6 L1028.4,365.1 L1027.0,368.4 L1025.8,368.7 L1023.5,371.9 L1022.4,374.4 L1020.9,375.3 L1018.9,379.0 L1017.6,381.0 L1017.3,382.8 L1015.2,384.9 L1012.9,387.7 L1011.8,389.0 L1010.1,392.0 L1008.1,394.2 L1007.4,395.9 L1005.0,397.1 L1004.0,399.8 L1002.1,401.6 L999.3,403.8 L999.0,406.1 L997.6,408.7 L995.2,410.8 L993.7,412.5 L991.5,416.4 L989.4,418.1 L988.4,420.0 L985.2,421.7 L982.6,424.2 L979.3,424.8 L978.7,428.0 L976.0,429.5 L973.9,429.7 L970.8,431.9 L968.4,434.4 L966.4,436.0 L962.7,436.9 L961.4,438.6 L958.7,439.7 L956.8,442.1 L954.0,444.0 L952.0,445.1 L950.8,447.1 L947.5,447.8 L945.4,450.4 L944.5,452.7 L941.2,453.4 L939.9,454.9 L936.9,456.1 L934.9,458.8 L932.2,460.6 L931.1,462.5 L928.4,464.9 L926.9,465.1 L923.7,468.5 L923.4,470.1 L920.6,470.7 L917.5,472.3 L915.7,475.4 L915.0,476.8 L911.4,477.5 L909.6,480.7 L907.3,482.1 L906.2,483.3 L903.8,485.0 L902.0,485.1 L898.4,485.5 L894.9,485.9 L893.0,487.4 L890.6,484.7 L888.1,484.5 L887.0,481.5 L883.4,481.4 L881.1,480.3 L877.6,479.0 L875.0,480.4 L872.6,480.4 L869.1,480.9 L866.5,481.1 L863.2,481.5 L860.8,479.3 L859.1,478.5 L855.2,476.3 L853.7,475.5 L853.2,472.6 L851.1,471.1 L850.8,468.0 L848.9,466.0 L847.0,463.4 L844.6,462.0 L842.8,459.7 L841.4,455.7 L841.1,454.6 L838.2,451.7 L837.0,449.2 L834.6,448.3 L831.6,447.1 L830.8,445.5 L828.3,444.6 L824.8,443.1 L823.4,441.2 L820.3,439.7 L817.4,438.3 L816.9,436.1 L814.2,435.7 L812.0,432.4 L810.0,431.3 L808.3,430.5 L805.1,429.4 L803.6,426.7 L801.2,425.4 L799.5,425.1 L797.2,424.0 L794.4,422.6 L791.9,421.2 L790.2,419.8 L786.0,419.4 L784.5,418.0 L782.3,416.4 L779.7,415.8 L776.4,414.0 L774.9,414.8 L772.0,412.3 L769.9,412.9 L766.3,410.3 L764.3,410.6 L761.1,408.5 L758.2,408.6 L756.4,406.1 L753.5,404.8 L751.0,404.7 L749.4,403.0 L746.2,400.6 L744.5,398.3 L742.0,397.7 L740.3,396.3 L739.4,393.7 L736.9,391.0 L736.3,388.7 L734.2,385.9 L732.9,382.5 L730.9,381.1 L731.5,377.1 L730.0,374.6 L728.3,372.0 L727.6,369.8 L726.0,366.4 L724.9,363.2 L724.4,360.3 L721.5,358.1 L720.0,357.7 L717.7,355.6 L716.5,353.4 L712.4,354.7 L709.3,353.3 L706.7,354.4 L705.1,352.8 L705.0,350.2 L703.7,346.2 L702.7,344.5 L701.4,341.5 L701.7,337.9 L699.3,336.3 L698.8,332.7 L696.1,331.0 L694.5,327.6 L692.9,324.8 L690.6,325.9 L686.8,326.2 L685.0,325.8 L686.4,323.8 L689.0,321.0 L689.0,318.5 L690.3,314.4 L691.0,311.6 L692.9,309.0 L692.8,307.0 L693.5,302.8 L694.5,299.5 L693.1,298.2 Z" fill="#afafaf"/>
<path d="M685.0,325.8 L687.9,326.0 L690.9,326.0 L692.9,324.8 L695.3,328.3 L695.9,330.0 L698.8,332.7 L700.7,335.9 L701.6,337.8 L701.7,341.0 L702.7,344.5 L703.8,347.1 L703.7,348.9 L705.3,352.8 L706.7,354.4 L710.5,353.4 L713.8,353.0 L716.5,353.4 L718.7,354.4 L719.5,357.6 L721.8,358.0 L724.4,360.3 L726.3,364.0 L725.9,367.1 L727.4,369.4 L728.3,372.0 L728.9,375.7 L731.0,378.5 L732.6,379.9 L732.7,382.5 L734.2,385.9 L735.1,387.4 L736.9,390.8 L737.9,393.3 L740.1,395.0 L742.0,397.7 L745.0,399.2 L746.3,400.8 L749.4,401.5 L752.2,403.0 L754.1,406.2 L754.9,407.6 L758.2,408.6 L760.6,409.7 L762.6,409.5 L765.6,412.2 L768.3,412.7 L772.5,414.0 L774.0,413.7 L777.1,415.5 L779.7,415.8 L781.3,417.4 L785.1,418.7 L785.9,419.9 L788.4,419.7 L791.9,422.0 L793.7,423.0 L796.5,422.9 L798.4,423.7 L801.2,425.4 L802.5,426.3 L805.8,429.6 L806.9,429.3 L810.7,431.8 L811.6,432.8 L814.1,435.6 L816.0,436.4 L817.3,438.9 L820.3,439.7 L821.8,441.0 L825.7,441.7 L827.9,444.7 L830.1,445.7 L831.4,446.4 L833.9,448.5 L837.0,449.2 L838.3,451.5 L841.4,454.7 L843.1,456.3 L843.8,459.3 L845.5,460.8 L847.0,462.9 L848.9,466.0 L849.9,469.4 L852.2,471.0 L852.5,472.8 L853.7,475.5 L855.3,476.5 L859.0,479.2 L860.5,480.6 L863.2,481.5 L866.6,481.4 L869.3,481.0 L871.6,480.4 L874.3,479.5 L877.6,479.0 L881.3,480.2 L883.5,481.6 L887.0,481.5 L889.3,483.6 L890.0,485.5 L893.0,487.4 L889.9,488.7 L887.8,489.9 L885.6,490.7 L882.5,491.3 L880.7,492.6 L877.4,493.5 L875.9,494.1 L873.5,495.6 L870.1,495.6 L866.8,497.2 L865.8,497.4 L862.8,498.8 L860.3,498.6 L857.8,500.3 L855.0,500.9 L852.4,502.5 L849.9,503.3 L846.1,503.1 L844.4,505.0 L841.4,506.0 L839.4,506.5 L837.1,506.5 L834.3,507.7 L831.0,508.4 L829.0,509.4 L826.2,510.0 L824.2,511.5 L822.0,512.8 L818.7,514.3 L815.8,514.2 L813.8,515.1 L811.0,516.8 L809.0,516.1 L806.9,517.1 L804.3,518.5 L801.8,520.6 L799.8,520.4 L797.3,521.7 L793.9,521.6 L791.6,523.2 L789.3,524.2 L787.5,525.9 L784.3,525.6 L782.3,525.7 L778.3,527.8 L776.8,527.8 L774.3,530.2 L771.3,530.1 L768.5,530.7 L767.4,531.8 L764.9,533.8 L761.7,533.3 L759.9,534.7 L756.3,535.2 L754.9,536.4 L751.0,537.3 L748.2,538.5 L746.3,538.7 L743.9,540.0 L741.6,541.1 L737.2,541.0 L734.9,542.3 L732.5,541.9 L730.3,542.7 L726.9,544.6 L724.6,545.8 L724.2,547.9 L721.5,550.1 L719.8,552.2 L718.1,553.1 L716.3,555.3 L714.0,557.3 L711.6,559.5 L710.2,561.3 L708.4,563.1 L707.2,565.7 L704.1,567.1 L703.2,570.5 L702.3,571.8 L698.8,574.4 L697.9,576.1 L696.3,578.0 L694.7,580.3 L692.3,582.8 L690.1,583.8 L689.1,585.4 L686.0,588.7 L683.5,590.7 L682.4,592.0 L682.8,594.6 L682.0,598.1 L682.4,600.3 L685.3,601.6 L686.6,604.4 L685.9,608.0 L685.2,611.4 L682.4,612.5 L679.6,614.2 L678.0,611.6 L678.4,607.7 L676.8,605.8 L674.0,605.1 L672.8,603.4 L669.9,601.7 L666.6,600.7 L666.2,599.9 L662.9,597.5 L661.9,599.4 L660.8,602.5 L659.1,606.7 L657.4,608.6 L657.5,610.6 L656.3,615.0 L655.6,617.1 L656.0,619.7 L653.2,619.0 L650.9,618.8 L647.2,619.5 L644.5,618.8 L642.8,620.2 L640.8,619.0 L637.2,619.3 L634.9,619.7 L632.9,619.4 L628.4,620.1 L626.0,620.0 L624.0,619.7 L621.2,621.2 L618.5,621.4 L615.2,622.0 L612.4,623.1 L610.1,622.6 L607.3,624.0 L604.0,622.6 L602.2,621.0 L599.4,620.8 L595.3,619.7 L592.6,617.4 L590.6,617.0 L589.4,614.1 L588.6,612.2 L586.1,610.4 L584.1,607.9 L582.8,604.4 L583.2,603.0 L580.9,600.3 L579.3,596.7 L579.7,595.0 L578.4,591.1 L576.7,589.0 L579.3,586.9 L580.8,585.0 L583.9,583.2 L585.7,580.9 L588.9,580.1 L590.6,578.0 L593.4,575.9 L595.7,574.0 L597.3,572.1 L599.8,569.8 L600.7,567.1 L603.1,565.1 L605.9,564.0 L608.3,561.7 L609.7,558.4 L610.7,557.9 L612.6,554.7 L613.9,551.7 L615.6,550.2 L615.7,546.7 L617.0,544.4 L618.9,541.2 L618.5,538.6 L619.8,536.3 L620.5,533.1 L622.1,530.7 L623.1,528.8 L625.1,526.1 L626.8,522.4 L626.7,519.9 L625.8,517.7 L625.4,514.0 L625.5,511.6 L626.7,508.8 L628.0,505.7 L631.0,503.4 L632.5,501.4 L635.1,499.9 L638.0,500.0 L640.7,497.4 L642.5,495.3 L644.8,493.5 L647.4,492.6 L649.0,490.4 L646.5,487.5 L645.6,486.6 L643.4,483.4 L640.2,481.9 L636.5,480.7 L638.8,476.9 L638.4,475.7 L640.4,471.4 L642.0,469.5 L641.8,467.7 L641.4,463.7 L640.2,460.3 L640.7,458.4 L640.1,456.1 L638.8,452.9 L636.0,450.6 L634.9,448.3 L633.2,446.6 L632.3,444.5 L632.6,440.8 L632.8,439.9 L633.8,436.2 L634.9,433.4 L635.0,430.2 L636.5,427.8 L637.3,425.6 L640.6,423.4 L642.1,420.3 L642.0,418.6 L644.6,416.4 L646.2,413.9 L645.7,411.0 L645.6,407.6 L645.1,406.0 L643.3,402.5 L643.3,399.6 L641.7,397.7 L642.9,394.9 L644.8,393.3 L648.2,390.0 L649.5,387.9 L649.4,383.8 L650.3,380.5 L651.5,378.0 L649.9,375.7 L648.0,372.2 L647.5,369.7 L645.6,368.2 L646.3,365.1 L647.9,362.1 L649.5,360.3 L651.7,358.0 L654.8,356.5 L657.4,354.7 L659.5,352.6 L661.4,350.5 L659.3,348.1 L657.4,344.5 L658.4,342.1 L659.2,338.4 L659.4,334.7 L661.6,334.0 L664.4,331.4 L667.3,330.8 L669.0,329.5 L672.0,329.8 L675.0,328.8 L677.1,327.2 L680.5,327.4 L681.6,325.7 Z" fill="none" stroke="#ffffff" stroke-opacity="0.2" stroke-width="3.6" stroke-linejoin="round"/><path d="M685.0,325.8 L687.9,326.0 L690.9,326.0 L692.9,324.8 L695.3,328.3 L695.9,330.0 L698.8,332.7 L700.7,335.9 L701.6,337.8 L701.7,341.0 L702.7,344.5 L703.8,347.1 L703.7,348.9 L705.3,352.8 L706.7,354.4 L710.5,353.4 L713.8,353.0 L716.5,353.4 L718.7,354.4 L719.5,357.6 L721.8,358.0 L724.4,360.3 L726.3,364.0 L725.9,367.1 L727.4,369.4 L728.3,372.0 L728.9,375.7 L731.0,378.5 L732.6,379.9 L732.7,382.5 L734.2,385.9 L735.1,387.4 L736.9,390.8 L737.9,393.3 L740.1,395.0 L742.0,397.7 L745.0,399.2 L746.3,400.8 L749.4,401.5 L752.2,403.0 L754.1,406.2 L754.9,407.6 L758.2,408.6 L760.6,409.7 L762.6,409.5 L765.6,412.2 L768.3,412.7 L772.5,414.0 L774.0,413.7 L777.1,415.5 L779.7,415.8 L781.3,417.4 L785.1,418.7 L785.9,419.9 L788.4,419.7 L791.9,422.0 L793.7,423.0 L796.5,422.9 L798.4,423.7 L801.2,425.4 L802.5,426.3 L805.8,429.6 L806.9,429.3 L810.7,431.8 L811.6,432.8 L814.1,435.6 L816.0,436.4 L817.3,438.9 L820.3,439.7 L821.8,441.0 L825.7,441.7 L827.9,444.7 L830.1,445.7 L831.4,446.4 L833.9,448.5 L837.0,449.2 L838.3,451.5 L841.4,454.7 L843.1,456.3 L843.8,459.3 L845.5,460.8 L847.0,462.9 L848.9,466.0 L849.9,469.4 L852.2,471.0 L852.5,472.8 L853.7,475.5 L855.3,476.5 L859.0,479.2 L860.5,480.6 L863.2,481.5 L866.6,481.4 L869.3,481.0 L871.6,480.4 L874.3,479.5 L877.6,479.0 L881.3,480.2 L883.5,481.6 L887.0,481.5 L889.3,483.6 L890.0,485.5 L893.0,487.4 L889.9,488.7 L887.8,489.9 L885.6,490.7 L882.5,491.3 L880.7,492.6 L877.4,493.5 L875.9,494.1 L873.5,495.6 L870.1,495.6 L866.8,497.2 L865.8,497.4 L862.8,498.8 L860.3,498.6 L857.8,500.3 L855.0,500.9 L852.4,502.5 L849.9,503.3 L846.1,503.1 L844.4,505.0 L841.4,506.0 L839.4,506.5 L837.1,506.5 L834.3,507.7 L831.0,508.4 L829.0,509.4 L826.2,510.0 L824.2,511.5 L822.0,512.8 L818.7,514.3 L815.8,514.2 L813.8,515.1 L811.0,516.8 L809.0,516.1 L806.9,517.1 L804.3,518.5 L801.8,520.6 L799.8,520.4 L797.3,521.7 L793.9,521.6 L791.6,523.2 L789.3,524.2 L787.5,525.9 L784.3,525.6 L782.3,525.7 L778.3,527.8 L776.8,527.8 L774.3,530.2 L771.3,530.1 L768.5,530.7 L767.4,531.8 L764.9,533.8 L761.7,533.3 L759.9,534.7 L756.3,535.2 L754.9,536.4 L751.0,537.3 L748.2,538.5 L746.3,538.7 L743.9,540.0 L741.6,541.1 L737.2,541.0 L734.9,542.3 L732.5,541.9 L730.3,542.7 L726.9,544.6 L724.6,545.8 L724.2,547.9 L721.5,550.1 L719.8,552.2 L718.1,553.1 L716.3,555.3 L714.0,557.3 L711.6,559.5 L710.2,561.3 L708.4,563.1 L707.2,565.7 L704.1,567.1 L703.2,570.5 L702.3,571.8 L698.8,574.4 L697.9,576.1 L696.3,578.0 L694.7,580.3 L692.3,582.8 L690.1,583.8 L689.1,585.4 L686.0,588.7 L683.5,590.7 L682.4,592.0 L682.8,594.6 L682.0,598.1 L682.4,600.3 L685.3,601.6 L686.6,604.4 L685.9,608.0 L685.2,611.4 L682.4,612.5 L679.6,614.2 L678.0,611.6 L678.4,607.7 L676.8,605.8 L674.0,605.1 L672.8,603.4 L669.9,601.7 L666.6,600.7 L666.2,599.9 L662.9,597.5 L661.9,599.4 L660.8,602.5 L659.1,606.7 L657.4,608.6 L657.5,610.6 L656.3,615.0 L655.6,617.1 L656.0,619.7 L653.2,619.0 L650.9,618.8 L647.2,619.5 L644.5,618.8 L642.8,620.2 L640.8,619.0 L637.2,619.3 L634.9,619.7 L632.9,619.4 L628.4,620.1 L626.0,620.0 L624.0,619.7 L621.2,621.2 L618.5,621.4 L615.2,622.0 L612.4,623.1 L610.1,622.6 L607.3,624.0 L604.0,622.6 L602.2,621.0 L599.4,620.8 L595.3,619.7 L592.6,617.4 L590.6,617.0 L589.4,614.1 L588.6,612.2 L586.1,610.4 L584.1,607.9 L582.8,604.4 L583.2,603.0 L580.9,600.3 L579.3,596.7 L579.7,595.0 L578.4,591.1 L576.7,589.0 L579.3,586.9 L580.8,585.0 L583.9,583.2 L585.7,580.9 L588.9,580.1 L590.6,578.0 L593.4,575.9 L595.7,574.0 L597.3,572.1 L599.8,569.8 L600.7,567.1 L603.1,565.1 L605.9,564.0 L608.3,561.7 L609.7,558.4 L610.7,557.9 L612.6,554.7 L613.9,551.7 L615.6,550.2 L615.7,546.7 L617.0,544.4 L618.9,541.2 L618.5,538.6 L619.8,536.3 L620.5,533.1 L622.1,530.7 L623.1,528.8 L625.1,526.1 L626.8,522.4 L626.7,519.9 L625.8,517.7 L625.4,514.0 L625.5,511.6 L626.7,508.8 L628.0,505.7 L631.0,503.4 L632.5,501.4 L635.1,499.9 L638.0,500.0 L640.7,497.4 L642.5,495.3 L644.8,493.5 L647.4,492.6 L649.0,490.4 L646.5,487.5 L645.6,486.6 L643.4,483.4 L640.2,481.9 L636.5,480.7 L638.8,476.9 L638.4,475.7 L640.4,471.4 L642.0,469.5 L641.8,467.7 L641.4,463.7 L640.2,460.3 L640.7,458.4 L640.1,456.1 L638.8,452.9 L636.0,450.6 L634.9,448.3 L633.2,446.6 L632.3,444.5 L632.6,440.8 L632.8,439.9 L633.8,436.2 L634.9,433.4 L635.0,430.2 L636.5,427.8 L637.3,425.6 L640.6,423.4 L642.1,420.3 L642.0,418.6 L644.6,416.4 L646.2,413.9 L645.7,411.0 L645.6,407.6 L645.1,406.0 L643.3,402.5 L643.3,399.6 L641.7,397.7 L642.9,394.9 L644.8,393.3 L648.2,390.0 L649.5,387.9 L649.4,383.8 L650.3,380.5 L651.5,378.0 L649.9,375.7 L648.0,372.2 L647.5,369.7 L645.6,368.2 L646.3,365.1 L647.9,362.1 L649.5,360.3 L651.7,358.0 L654.8,356.5 L657.4,354.7 L659.5,352.6 L661.4,350.5 L659.3,348.1 L657.4,344.5 L658.4,342.1 L659.2,338.4 L659.4,334.7 L661.6,334.0 L664.4,331.4 L667.3,330.8 L669.0,329.5 L672.0,329.8 L675.0,328.8 L677.1,327.2 L680.5,327.4 L681.6,325.7 Z" fill="#979797"/>
<path d="M810.0,126.0 L813.7,127.9 L814.6,127.2 L818.9,129.6 L821.3,129.7 L824.0,131.4 L826.5,132.2 L829.2,132.0 L831.5,132.9 L834.7,134.5 L837.7,134.0 L839.3,133.9 L842.0,134.8 L843.6,132.9 L846.9,132.4 L849.3,132.6 L852.1,130.9 L854.0,128.8 L856.7,128.1 L859.5,127.8 L861.7,131.2 L864.2,132.0 L866.8,135.6 L868.2,137.4 L870.4,140.5 L872.2,142.6 L873.1,145.3 L876.1,146.0 L877.4,149.4 L878.6,151.3 L880.3,153.7 L882.0,156.8 L883.8,158.9 L885.2,161.3 L888.1,162.8 L889.0,165.2 L891.1,167.8 L893.4,168.6 L894.4,170.0 L897.4,171.4 L899.8,173.4 L901.8,175.2 L903.0,177.3 L907.3,177.7 L909.9,177.3 L913.3,177.3 L916.2,179.2 L918.2,180.2 L921.2,183.4 L923.8,184.3 L926.8,184.8 L930.0,187.5 L933.0,187.8 L935.4,188.9 L937.7,191.2 L940.5,189.5 L942.1,189.5 L944.4,187.6 L948.3,185.8 L949.5,185.9 L952.6,183.9 L955.0,184.1 L956.9,183.1 L959.7,183.5 L963.0,182.9 L964.9,183.6 L967.6,183.0 L970.4,181.9 L974.8,181.5 L976.3,182.4 L979.7,181.8 L981.5,183.0 L983.8,186.0 L986.9,187.4 L987.1,189.8 L990.3,192.7 L991.4,194.0 L994.3,196.4 L997.0,197.3 L1001.6,198.5 L1002.0,196.4 L1002.1,193.8 L1001.9,191.1 L1001.0,187.5 L1001.2,185.1 L1000.0,182.7 L1001.4,179.5 L1000.5,177.6 L1003.8,177.1 L1006.8,176.4 L1010.8,176.4 L1013.0,176.6 L1015.3,178.0 L1017.2,179.7 L1018.8,179.6 L1021.7,178.3 L1024.1,178.3 L1027.6,178.7 L1029.6,180.7 L1033.2,183.1 L1036.0,183.9 L1039.8,185.3 L1041.3,184.6 L1044.3,185.3 L1047.9,186.2 L1050.6,186.0 L1053.1,188.3 L1054.6,191.6 L1056.8,194.3 L1058.4,193.6 L1061.9,194.1 L1065.1,194.6 L1067.3,195.4 L1069.1,195.5 L1072.0,196.4 L1075.1,197.7 L1077.7,198.5 L1080.1,199.8 L1082.7,201.4 L1086.0,201.6 L1089.3,203.4 L1090.6,204.2 L1093.2,204.6 L1095.4,206.8 L1099.6,209.0 L1098.2,212.0 L1096.6,214.0 L1096.0,217.7 L1097.3,220.1 L1097.4,223.9 L1098.2,225.2 L1099.6,228.1 L1098.4,231.3 L1099.2,233.2 L1101.3,236.6 L1100.4,238.8 L1102.0,241.6 L1102.4,244.6 L1102.7,247.8 L1103.0,250.2 L1104.5,253.6 L1101.1,255.6 L1097.3,256.4 L1095.0,257.0 L1092.0,256.0 L1090.0,254.6 L1088.4,253.3 L1084.7,251.6 L1082.2,251.9 L1080.7,250.0 L1080.2,253.5 L1079.5,254.3 L1078.6,258.4 L1077.9,260.5 L1076.4,263.0 L1076.5,265.3 L1075.2,268.3 L1075.2,271.6 L1074.4,274.3 L1072.3,275.7 L1071.9,278.4 L1071.0,281.9 L1071.1,284.3 L1070.1,286.0 L1068.7,289.4 L1067.5,293.0 L1066.2,294.4 L1065.2,296.4 L1066.0,300.8 L1064.6,301.7 L1063.0,304.5 L1062.9,308.0 L1061.5,310.2 L1060.0,312.9 L1060.8,315.9 L1059.0,318.0 L1057.3,320.7 L1057.7,322.9 L1057.2,326.1 L1056.0,328.7 L1055.7,332.1 L1054.0,333.6 L1053.0,337.0 L1050.8,334.3 L1049.1,334.3 L1046.2,331.8 L1044.8,330.0 L1042.4,327.9 L1040.5,327.0 L1038.1,324.2 L1036.3,322.0 L1033.0,320.4 L1031.1,319.5 L1028.7,318.7 L1025.2,317.0 L1023.2,315.9 L1022.0,314.7 L1018.6,313.2 L1014.6,312.2 L1013.0,312.2 L1009.9,311.1 L1006.6,309.6 L1002.8,309.5 L1001.3,307.9 L998.8,307.5 L994.4,306.5 L992.3,304.9 L989.9,303.1 L986.8,302.6 L982.8,301.8 L980.4,300.0 L976.1,299.7 L973.2,299.0 L969.9,299.7 L967.0,301.3 L963.7,302.5 L960.2,303.7 L957.1,302.0 L955.1,303.9 L952.6,304.0 L949.4,303.7 L946.5,302.8 L943.3,300.8 L940.8,299.2 L937.0,299.4 L935.0,297.7 L932.0,296.7 L930.8,294.5 L928.2,293.8 L925.5,291.7 L924.7,288.6 L921.8,286.7 L920.9,284.2 L919.5,282.2 L918.5,279.7 L920.4,276.7 L919.6,274.0 L919.4,272.4 L919.5,269.0 L916.5,269.6 L914.2,269.6 L912.5,268.9 L909.7,269.6 L906.4,270.3 L903.8,271.4 L900.9,271.0 L898.4,270.9 L895.1,271.9 L892.0,272.6 L889.2,274.0 L886.9,274.3 L883.0,274.2 L880.5,274.9 L877.7,276.2 L875.5,280.1 L874.2,282.2 L870.8,281.8 L868.8,279.9 L866.0,278.4 L863.7,277.5 L861.1,276.8 L858.6,276.2 L856.5,275.9 L852.8,274.1 L850.9,272.3 L846.4,271.0 L844.3,270.3 L841.3,267.7 L839.5,264.3 L841.2,262.0 L844.1,259.8 L845.5,258.3 L845.7,255.4 L844.5,252.6 L844.3,248.8 L841.5,248.8 L840.1,247.3 L837.1,247.4 L834.7,246.3 L831.7,245.0 L830.3,244.1 L827.9,242.5 L824.8,240.0 L823.0,238.0 L825.1,234.3 L826.5,231.2 L828.0,228.5 L830.8,226.7 L831.6,225.7 L832.7,223.8 L835.0,220.8 L831.7,218.2 L828.6,219.3 L826.7,222.0 L824.7,224.3 L823.4,227.2 L820.9,228.5 L818.3,230.3 L816.0,233.0 L813.8,234.4 L809.8,236.6 L807.3,238.0 L803.8,239.0 L802.6,240.0 L798.2,241.6 L795.7,243.4 L793.4,245.0 L790.3,245.9 L787.7,246.8 L785.8,248.2 L782.7,250.2 L779.5,250.1 L777.8,252.0 L775.3,251.0 L772.0,249.6 L768.2,249.5 L770.4,247.9 L772.6,245.0 L773.0,242.8 L774.2,239.3 L775.6,236.5 L775.3,234.2 L776.0,231.2 L776.3,229.1 L777.6,225.8 L778.2,223.8 L779.8,220.8 L779.5,217.3 L777.7,214.5 L776.1,211.2 L773.5,210.5 L772.6,206.9 L770.1,205.3 L769.5,202.9 L766.5,199.2 L766.2,196.2 L763.9,194.7 L764.7,192.3 L766.4,189.8 L768.9,187.6 L771.1,186.7 L771.7,184.3 L773.4,186.5 L776.4,187.1 L779.5,188.6 L782.7,188.1 L785.6,188.2 L788.0,190.1 L791.7,189.5 L794.4,187.5 L796.1,186.2 L797.1,183.4 L799.1,180.6 L801.1,178.8 L803.9,177.3 L804.7,174.3 L807.1,172.7 L809.8,170.8 L811.3,167.6 L812.6,165.2 L813.9,161.5 L812.7,159.7 L814.1,155.5 L814.3,153.0 L813.5,150.0 L813.0,147.7 L812.3,145.8 L812.6,142.7 L811.3,139.6 L810.8,137.4 L811.1,135.5 L809.9,132.1 L810.6,129.2 Z" fill="none" stroke="#ffffff" stroke-opacity="0.2" stroke-width="3.6" stroke-linejoin="round"/><path d="M810.0,126.0 L813.7,127.9 L814.6,127.2 L818.9,129.6 L821.3,129.7 L824.0,131.4 L826.5,132.2 L829.2,132.0 L831.5,132.9 L834.7,134.5 L837.7,134.0 L839.3,133.9 L842.0,134.8 L843.6,132.9 L846.9,132.4 L849.3,132.6 L852.1,130.9 L854.0,128.8 L856.7,128.1 L859.5,127.8 L861.7,131.2 L864.2,132.0 L866.8,135.6 L868.2,137.4 L870.4,140.5 L872.2,142.6 L873.1,145.3 L876.1,146.0 L877.4,149.4 L878.6,151.3 L880.3,153.7 L882.0,156.8 L883.8,158.9 L885.2,161.3 L888.1,162.8 L889.0,165.2 L891.1,167.8 L893.4,168.6 L894.4,170.0 L897.4,171.4 L899.8,173.4 L901.8,175.2 L903.0,177.3 L907.3,177.7 L909.9,177.3 L913.3,177.3 L916.2,179.2 L918.2,180.2 L921.2,183.4 L923.8,184.3 L926.8,184.8 L930.0,187.5 L933.0,187.8 L935.4,188.9 L937.7,191.2 L940.5,189.5 L942.1,189.5 L944.4,187.6 L948.3,185.8 L949.5,185.9 L952.6,183.9 L955.0,184.1 L956.9,183.1 L959.7,183.5 L963.0,182.9 L964.9,183.6 L967.6,183.0 L970.4,181.9 L974.8,181.5 L976.3,182.4 L979.7,181.8 L981.5,183.0 L983.8,186.0 L986.9,187.4 L987.1,189.8 L990.3,192.7 L991.4,194.0 L994.3,196.4 L997.0,197.3 L1001.6,198.5 L1002.0,196.4 L1002.1,193.8 L1001.9,191.1 L1001.0,187.5 L1001.2,185.1 L1000.0,182.7 L1001.4,179.5 L1000.5,177.6 L1003.8,177.1 L1006.8,176.4 L1010.8,176.4 L1013.0,176.6 L1015.3,178.0 L1017.2,179.7 L1018.8,179.6 L1021.7,178.3 L1024.1,178.3 L1027.6,178.7 L1029.6,180.7 L1033.2,183.1 L1036.0,183.9 L1039.8,185.3 L1041.3,184.6 L1044.3,185.3 L1047.9,186.2 L1050.6,186.0 L1053.1,188.3 L1054.6,191.6 L1056.8,194.3 L1058.4,193.6 L1061.9,194.1 L1065.1,194.6 L1067.3,195.4 L1069.1,195.5 L1072.0,196.4 L1075.1,197.7 L1077.7,198.5 L1080.1,199.8 L1082.7,201.4 L1086.0,201.6 L1089.3,203.4 L1090.6,204.2 L1093.2,204.6 L1095.4,206.8 L1099.6,209.0 L1098.2,212.0 L1096.6,214.0 L1096.0,217.7 L1097.3,220.1 L1097.4,223.9 L1098.2,225.2 L1099.6,228.1 L1098.4,231.3 L1099.2,233.2 L1101.3,236.6 L1100.4,238.8 L1102.0,241.6 L1102.4,244.6 L1102.7,247.8 L1103.0,250.2 L1104.5,253.6 L1101.1,255.6 L1097.3,256.4 L1095.0,257.0 L1092.0,256.0 L1090.0,254.6 L1088.4,253.3 L1084.7,251.6 L1082.2,251.9 L1080.7,250.0 L1080.2,253.5 L1079.5,254.3 L1078.6,258.4 L1077.9,260.5 L1076.4,263.0 L1076.5,265.3 L1075.2,268.3 L1075.2,271.6 L1074.4,274.3 L1072.3,275.7 L1071.9,278.4 L1071.0,281.9 L1071.1,284.3 L1070.1,286.0 L1068.7,289.4 L1067.5,293.0 L1066.2,294.4 L1065.2,296.4 L1066.0,300.8 L1064.6,301.7 L1063.0,304.5 L1062.9,308.0 L1061.5,310.2 L1060.0,312.9 L1060.8,315.9 L1059.0,318.0 L1057.3,320.7 L1057.7,322.9 L1057.2,326.1 L1056.0,328.7 L1055.7,332.1 L1054.0,333.6 L1053.0,337.0 L1050.8,334.3 L1049.1,334.3 L1046.2,331.8 L1044.8,330.0 L1042.4,327.9 L1040.5,327.0 L1038.1,324.2 L1036.3,322.0 L1033.0,320.4 L1031.1,319.5 L1028.7,318.7 L1025.2,317.0 L1023.2,315.9 L1022.0,314.7 L1018.6,313.2 L1014.6,312.2 L1013.0,312.2 L1009.9,311.1 L1006.6,309.6 L1002.8,309.5 L1001.3,307.9 L998.8,307.5 L994.4,306.5 L992.3,304.9 L989.9,303.1 L986.8,302.6 L982.8,301.8 L980.4,300.0 L976.1,299.7 L973.2,299.0 L969.9,299.7 L967.0,301.3 L963.7,302.5 L960.2,303.7 L957.1,302.0 L955.1,303.9 L952.6,304.0 L949.4,303.7 L946.5,302.8 L943.3,300.8 L940.8,299.2 L937.0,299.4 L935.0,297.7 L932.0,296.7 L930.8,294.5 L928.2,293.8 L925.5,291.7 L924.7,288.6 L921.8,286.7 L920.9,284.2 L919.5,282.2 L918.5,279.7 L920.4,276.7 L919.6,274.0 L919.4,272.4 L919.5,269.0 L916.5,269.6 L914.2,269.6 L912.5,268.9 L909.7,269.6 L906.4,270.3 L903.8,271.4 L900.9,271.0 L898.4,270.9 L895.1,271.9 L892.0,272.6 L889.2,274.0 L886.9,274.3 L883.0,274.2 L880.5,274.9 L877.7,276.2 L875.5,280.1 L874.2,282.2 L870.8,281.8 L868.8,279.9 L866.0,278.4 L863.7,277.5 L861.1,276.8 L858.6,276.2 L856.5,275.9 L852.8,274.1 L850.9,272.3 L846.4,271.0 L844.3,270.3 L841.3,267.7 L839.5,264.3 L841.2,262.0 L844.1,259.8 L845.5,258.3 L845.7,255.4 L844.5,252.6 L844.3,248.8 L841.5,248.8 L840.1,247.3 L837.1,247.4 L834.7,246.3 L831.7,245.0 L830.3,244.1 L827.9,242.5 L824.8,240.0 L823.0,238.0 L825.1,234.3 L826.5,231.2 L828.0,228.5 L830.8,226.7 L831.6,225.7 L832.7,223.8 L835.0,220.8 L831.7,218.2 L828.6,219.3 L826.7,222.0 L824.7,224.3 L823.4,227.2 L820.9,228.5 L818.3,230.3 L816.0,233.0 L813.8,234.4 L809.8,236.6 L807.3,238.0 L803.8,239.0 L802.6,240.0 L798.2,241.6 L795.7,243.4 L793.4,245.0 L790.3,245.9 L787.7,246.8 L785.8,248.2 L782.7,250.2 L779.5,250.1 L777.8,252.0 L775.3,251.0 L772.0,249.6 L768.2,249.5 L770.4,247.9 L772.6,245.0 L773.0,242.8 L774.2,239.3 L775.6,236.5 L775.3,234.2 L776.0,231.2 L776.3,229.1 L777.6,225.8 L778.2,223.8 L779.8,220.8 L779.5,217.3 L777.7,214.5 L776.1,211.2 L773.5,210.5 L772.6,206.9 L770.1,205.3 L769.5,202.9 L766.5,199.2 L766.2,196.2 L763.9,194.7 L764.7,192.3 L766.4,189.8 L768.9,187.6 L771.1,186.7 L771.7,184.3 L773.4,186.5 L776.4,187.1 L779.5,188.6 L782.7,188.1 L785.6,188.2 L788.0,190.1 L791.7,189.5 L794.4,187.5 L796.1,186.2 L797.1,183.4 L799.1,180.6 L801.1,178.8 L803.9,177.3 L804.7,174.3 L807.1,172.7 L809.8,170.8 L811.3,167.6 L812.6,165.2 L813.9,161.5 L812.7,159.7 L814.1,155.5 L814.3,153.0 L813.5,150.0 L813.0,147.7 L812.3,145.8 L812.6,142.7 L811.3,139.6 L810.8,137.4 L811.1,135.5 L809.9,132.1 L810.6,129.2 Z" fill="#505050"/>
<path d="M755.6,28.7 L757.9,29.2 L762.2,27.8 L764.7,27.9 L767.8,27.8 L770.7,27.9 L772.2,26.0 L776.3,26.3 L778.2,26.0 L782.5,27.8 L782.6,29.9 L781.7,33.9 L780.1,37.2 L778.2,40.6 L777.3,42.6 L778.0,44.3 L776.1,47.9 L777.8,50.2 L776.3,52.8 L775.8,55.0 L776.5,58.2 L776.5,60.8 L778.7,59.7 L781.5,59.7 L784.4,58.3 L788.3,58.8 L790.4,58.2 L793.0,59.6 L796.0,63.0 L797.3,64.3 L799.3,64.7 L803.3,66.1 L806.5,66.2 L809.1,67.4 L811.2,67.8 L813.7,67.5 L817.8,67.6 L819.9,66.7 L821.9,65.6 L826.3,65.5 L828.6,65.2 L830.2,67.0 L833.6,69.0 L835.5,70.4 L837.0,73.1 L839.0,76.7 L840.7,79.0 L843.4,79.1 L845.9,78.7 L847.6,80.3 L852.1,80.4 L853.6,79.8 L856.4,80.8 L859.0,82.6 L862.1,82.6 L864.9,82.9 L866.8,84.3 L869.4,84.8 L872.2,83.4 L874.2,83.1 L878.2,81.6 L880.5,82.8 L882.5,81.7 L886.1,81.6 L888.8,80.6 L891.0,80.0 L894.3,80.4 L896.4,81.9 L900.4,81.7 L903.2,82.4 L905.7,84.3 L908.0,85.3 L910.9,86.9 L913.6,86.4 L916.3,85.3 L917.8,84.0 L921.3,83.8 L923.4,84.2 L927.4,84.8 L930.0,85.0 L931.6,85.3 L934.8,84.8 L935.2,81.3 L934.0,78.5 L935.6,76.2 L934.4,74.3 L935.0,70.5 L934.7,68.7 L935.5,66.0 L937.5,64.8 L941.3,64.4 L943.2,63.7 L946.3,63.0 L947.9,60.7 L951.5,58.8 L953.7,59.5 L955.5,62.2 L958.6,62.1 L961.0,64.0 L964.3,65.1 L966.2,64.0 L969.6,65.9 L973.4,66.0 L974.8,68.3 L978.0,69.8 L979.1,72.5 L981.8,73.4 L985.0,74.7 L986.4,76.3 L989.4,77.5 L992.2,78.6 L993.4,81.2 L994.4,82.9 L997.8,86.4 L998.4,88.0 L1000.1,91.0 L1002.2,93.4 L1005.2,94.7 L1006.3,96.1 L1008.9,99.4 L1011.7,100.4 L1013.7,104.1 L1015.3,104.4 L1018.0,107.9 L1019.3,108.8 L1022.2,109.9 L1024.1,110.6 L1026.2,112.3 L1029.2,112.3 L1031.8,114.0 L1033.7,114.8 L1036.8,114.9 L1039.5,116.1 L1043.3,114.9 L1044.6,115.9 L1048.9,117.3 L1050.6,117.2 L1052.8,118.3 L1055.9,121.2 L1058.9,121.9 L1061.3,124.2 L1063.0,125.5 L1065.4,127.5 L1067.4,128.1 L1069.5,128.0 L1073.6,129.1 L1075.8,131.0 L1077.7,131.8 L1081.5,132.3 L1083.6,132.9 L1087.8,134.3 L1090.2,134.9 L1094.4,137.0 L1090.2,140.0 L1088.0,141.3 L1083.2,141.2 L1080.0,140.7 L1077.7,142.2 L1074.3,142.1 L1073.3,141.2 L1069.9,139.9 L1068.3,138.6 L1065.2,138.0 L1062.6,136.9 L1058.8,136.5 L1057.6,136.6 L1054.9,135.8 L1050.8,136.0 L1048.5,134.9 L1049.2,136.8 L1048.8,139.8 L1047.7,144.3 L1048.5,146.4 L1050.2,145.4 L1054.7,145.2 L1055.6,144.2 L1059.0,144.3 L1060.5,147.6 L1062.3,150.7 L1065.2,152.6 L1065.8,156.0 L1067.7,157.1 L1067.2,160.0 L1067.8,162.8 L1069.4,165.0 L1070.1,166.1 L1073.7,168.8 L1074.6,171.3 L1075.7,172.6 L1077.7,175.6 L1080.2,178.6 L1082.1,179.0 L1082.3,182.0 L1085.5,184.0 L1086.7,186.3 L1088.0,188.0 L1090.2,189.7 L1092.9,190.6 L1095.1,192.3 L1098.6,194.3 L1101.1,197.3 L1101.7,200.6 L1101.3,203.7 L1101.2,206.0 L1099.6,209.0 L1095.4,206.8 L1092.7,205.2 L1090.3,204.9 L1089.1,202.5 L1086.0,201.6 L1082.9,200.7 L1080.6,199.7 L1077.7,198.5 L1074.6,196.8 L1072.0,196.1 L1070.0,195.3 L1067.3,195.4 L1063.8,195.4 L1061.6,195.4 L1059.4,195.3 L1056.8,194.3 L1054.0,191.5 L1053.3,187.9 L1050.6,186.0 L1048.6,184.9 L1045.3,186.1 L1042.5,184.4 L1038.1,184.3 L1036.0,183.9 L1034.0,181.8 L1031.2,179.7 L1027.6,178.7 L1025.8,178.0 L1022.0,180.0 L1020.4,180.3 L1017.2,179.7 L1015.8,178.6 L1013.0,176.6 L1010.3,176.2 L1006.6,176.4 L1004.1,177.7 L1000.5,177.6 L1000.1,179.3 L1001.7,183.4 L1001.0,185.5 L1001.8,188.0 L1001.0,190.3 L1000.8,192.3 L1001.8,195.7 L1001.6,198.5 L998.1,196.6 L994.3,196.4 L991.9,193.6 L989.4,191.8 L988.7,190.0 L985.7,188.3 L983.8,186.0 L981.2,182.9 L979.7,181.8 L977.0,182.0 L974.4,182.0 L971.7,182.8 L968.0,182.5 L965.7,182.2 L963.0,182.9 L960.2,183.3 L958.6,184.2 L954.8,183.9 L952.6,183.9 L949.2,184.5 L947.6,187.6 L944.4,188.8 L943.3,189.4 L940.0,191.2 L937.9,190.9 L934.7,189.5 L933.0,188.3 L930.7,187.8 L927.5,186.0 L925.7,184.7 L921.3,182.7 L919.2,181.8 L915.9,180.2 L914.2,177.4 L910.9,176.6 L908.5,176.7 L905.0,176.0 L902.5,175.6 L899.5,174.2 L896.8,172.8 L896.0,170.2 L893.0,168.0 L890.8,166.6 L890.4,162.8 L888.3,161.9 L886.0,159.0 L884.6,157.3 L882.4,155.7 L881.7,152.5 L879.6,150.5 L877.2,148.6 L874.8,145.8 L873.0,144.5 L873.0,140.5 L870.5,138.7 L868.6,136.4 L866.1,134.0 L864.6,133.0 L862.4,129.9 L861.6,128.6 L858.9,128.3 L856.7,130.1 L854.5,130.0 L851.2,131.2 L847.7,132.2 L844.6,133.1 L841.6,134.2 L839.0,134.7 L836.7,134.7 L834.1,133.6 L830.3,133.7 L827.9,132.5 L824.3,131.4 L821.6,131.2 L818.2,130.7 L815.6,129.5 L813.9,128.9 L811.2,126.9 L809.1,130.0 L806.0,131.2 L803.1,133.2 L801.8,134.7 L799.5,136.8 L797.3,139.0 L793.9,136.7 L790.4,136.4 L789.8,132.8 L789.5,129.5 L787.9,127.0 L787.7,125.2 L786.0,122.5 L783.4,123.4 L780.6,123.1 L778.2,124.3 L774.6,125.6 L773.2,128.5 L771.1,129.5 L767.8,131.2 L766.1,130.8 L763.2,130.5 L760.4,131.3 L756.9,129.4 L754.9,129.8 L752.0,129.5 L749.1,127.6 L746.6,127.6 L744.1,127.6 L741.7,126.0 L741.6,123.6 L741.9,120.7 L740.8,117.3 L738.2,116.0 L735.9,114.1 L733.0,112.0 L730.7,110.5 L728.1,109.7 L726.1,108.7 L722.6,106.9 L721.3,105.7 L719.3,103.7 L716.4,101.3 L714.8,100.0 L717.2,98.1 L719.0,94.0 L720.9,92.0 L724.2,90.5 L726.0,88.1 L728.7,88.0 L731.3,86.0 L731.8,82.9 L733.0,79.4 L733.4,78.5 L734.5,74.6 L734.8,72.0 L735.9,69.3 L735.6,65.7 L737.7,62.9 L736.7,61.2 L738.3,57.4 L739.0,54.8 L741.0,52.8 L742.2,50.2 L745.2,48.1 L746.3,45.3 L748.7,42.6 L750.5,40.8 L752.8,39.3 L756.6,36.4 L758.2,34.8 L756.3,32.7 Z" fill="none" stroke="#ffffff" stroke-opacity="0.2" stroke-width="3.6" stroke-linejoin="round"/><path d="M755.6,28.7 L757.9,29.2 L762.2,27.8 L764.7,27.9 L767.8,27.8 L770.7,27.9 L772.2,26.0 L776.3,26.3 L778.2,26.0 L782.5,27.8 L782.6,29.9 L781.7,33.9 L780.1,37.2 L778.2,40.6 L777.3,42.6 L778.0,44.3 L776.1,47.9 L777.8,50.2 L776.3,52.8 L775.8,55.0 L776.5,58.2 L776.5,60.8 L778.7,59.7 L781.5,59.7 L784.4,58.3 L788.3,58.8 L790.4,58.2 L793.0,59.6 L796.0,63.0 L797.3,64.3 L799.3,64.7 L803.3,66.1 L806.5,66.2 L809.1,67.4 L811.2,67.8 L813.7,67.5 L817.8,67.6 L819.9,66.7 L821.9,65.6 L826.3,65.5 L828.6,65.2 L830.2,67.0 L833.6,69.0 L835.5,70.4 L837.0,73.1 L839.0,76.7 L840.7,79.0 L843.4,79.1 L845.9,78.7 L847.6,80.3 L852.1,80.4 L853.6,79.8 L856.4,80.8 L859.0,82.6 L862.1,82.6 L864.9,82.9 L866.8,84.3 L869.4,84.8 L872.2,83.4 L874.2,83.1 L878.2,81.6 L880.5,82.8 L882.5,81.7 L886.1,81.6 L888.8,80.6 L891.0,80.0 L894.3,80.4 L896.4,81.9 L900.4,81.7 L903.2,82.4 L905.7,84.3 L908.0,85.3 L910.9,86.9 L913.6,86.4 L916.3,85.3 L917.8,84.0 L921.3,83.8 L923.4,84.2 L927.4,84.8 L930.0,85.0 L931.6,85.3 L934.8,84.8 L935.2,81.3 L934.0,78.5 L935.6,76.2 L934.4,74.3 L935.0,70.5 L934.7,68.7 L935.5,66.0 L937.5,64.8 L941.3,64.4 L943.2,63.7 L946.3,63.0 L947.9,60.7 L951.5,58.8 L953.7,59.5 L955.5,62.2 L958.6,62.1 L961.0,64.0 L964.3,65.1 L966.2,64.0 L969.6,65.9 L973.4,66.0 L974.8,68.3 L978.0,69.8 L979.1,72.5 L981.8,73.4 L985.0,74.7 L986.4,76.3 L989.4,77.5 L992.2,78.6 L993.4,81.2 L994.4,82.9 L997.8,86.4 L998.4,88.0 L1000.1,91.0 L1002.2,93.4 L1005.2,94.7 L1006.3,96.1 L1008.9,99.4 L1011.7,100.4 L1013.7,104.1 L1015.3,104.4 L1018.0,107.9 L1019.3,108.8 L1022.2,109.9 L1024.1,110.6 L1026.2,112.3 L1029.2,112.3 L1031.8,114.0 L1033.7,114.8 L1036.8,114.9 L1039.5,116.1 L1043.3,114.9 L1044.6,115.9 L1048.9,117.3 L1050.6,117.2 L1052.8,118.3 L1055.9,121.2 L1058.9,121.9 L1061.3,124.2 L1063.0,125.5 L1065.4,127.5 L1067.4,128.1 L1069.5,128.0 L1073.6,129.1 L1075.8,131.0 L1077.7,131.8 L1081.5,132.3 L1083.6,132.9 L1087.8,134.3 L1090.2,134.9 L1094.4,137.0 L1090.2,140.0 L1088.0,141.3 L1083.2,141.2 L1080.0,140.7 L1077.7,142.2 L1074.3,142.1 L1073.3,141.2 L1069.9,139.9 L1068.3,138.6 L1065.2,138.0 L1062.6,136.9 L1058.8,136.5 L1057.6,136.6 L1054.9,135.8 L1050.8,136.0 L1048.5,134.9 L1049.2,136.8 L1048.8,139.8 L1047.7,144.3 L1048.5,146.4 L1050.2,145.4 L1054.7,145.2 L1055.6,144.2 L1059.0,144.3 L1060.5,147.6 L1062.3,150.7 L1065.2,152.6 L1065.8,156.0 L1067.7,157.1 L1067.2,160.0 L1067.8,162.8 L1069.4,165.0 L1070.1,166.1 L1073.7,168.8 L1074.6,171.3 L1075.7,172.6 L1077.7,175.6 L1080.2,178.6 L1082.1,179.0 L1082.3,182.0 L1085.5,184.0 L1086.7,186.3 L1088.0,188.0 L1090.2,189.7 L1092.9,190.6 L1095.1,192.3 L1098.6,194.3 L1101.1,197.3 L1101.7,200.6 L1101.3,203.7 L1101.2,206.0 L1099.6,209.0 L1095.4,206.8 L1092.7,205.2 L1090.3,204.9 L1089.1,202.5 L1086.0,201.6 L1082.9,200.7 L1080.6,199.7 L1077.7,198.5 L1074.6,196.8 L1072.0,196.1 L1070.0,195.3 L1067.3,195.4 L1063.8,195.4 L1061.6,195.4 L1059.4,195.3 L1056.8,194.3 L1054.0,191.5 L1053.3,187.9 L1050.6,186.0 L1048.6,184.9 L1045.3,186.1 L1042.5,184.4 L1038.1,184.3 L1036.0,183.9 L1034.0,181.8 L1031.2,179.7 L1027.6,178.7 L1025.8,178.0 L1022.0,180.0 L1020.4,180.3 L1017.2,179.7 L1015.8,178.6 L1013.0,176.6 L1010.3,176.2 L1006.6,176.4 L1004.1,177.7 L1000.5,177.6 L1000.1,179.3 L1001.7,183.4 L1001.0,185.5 L1001.8,188.0 L1001.0,190.3 L1000.8,192.3 L1001.8,195.7 L1001.6,198.5 L998.1,196.6 L994.3,196.4 L991.9,193.6 L989.4,191.8 L988.7,190.0 L985.7,188.3 L983.8,186.0 L981.2,182.9 L979.7,181.8 L977.0,182.0 L974.4,182.0 L971.7,182.8 L968.0,182.5 L965.7,182.2 L963.0,182.9 L960.2,183.3 L958.6,184.2 L954.8,183.9 L952.6,183.9 L949.2,184.5 L947.6,187.6 L944.4,188.8 L943.3,189.4 L940.0,191.2 L937.9,190.9 L934.7,189.5 L933.0,188.3 L930.7,187.8 L927.5,186.0 L925.7,184.7 L921.3,182.7 L919.2,181.8 L915.9,180.2 L914.2,177.4 L910.9,176.6 L908.5,176.7 L905.0,176.0 L902.5,175.6 L899.5,174.2 L896.8,172.8 L896.0,170.2 L893.0,168.0 L890.8,166.6 L890.4,162.8 L888.3,161.9 L886.0,159.0 L884.6,157.3 L882.4,155.7 L881.7,152.5 L879.6,150.5 L877.2,148.6 L874.8,145.8 L873.0,144.5 L873.0,140.5 L870.5,138.7 L868.6,136.4 L866.1,134.0 L864.6,133.0 L862.4,129.9 L861.6,128.6 L858.9,128.3 L856.7,130.1 L854.5,130.0 L851.2,131.2 L847.7,132.2 L844.6,133.1 L841.6,134.2 L839.0,134.7 L836.7,134.7 L834.1,133.6 L830.3,133.7 L827.9,132.5 L824.3,131.4 L821.6,131.2 L818.2,130.7 L815.6,129.5 L813.9,128.9 L811.2,126.9 L809.1,130.0 L806.0,131.2 L803.1,133.2 L801.8,134.7 L799.5,136.8 L797.3,139.0 L793.9,136.7 L790.4,136.4 L789.8,132.8 L789.5,129.5 L787.9,127.0 L787.7,125.2 L786.0,122.5 L783.4,123.4 L780.6,123.1 L778.2,124.3 L774.6,125.6 L773.2,128.5 L771.1,129.5 L767.8,131.2 L766.1,130.8 L763.2,130.5 L760.4,131.3 L756.9,129.4 L754.9,129.8 L752.0,129.5 L749.1,127.6 L746.6,127.6 L744.1,127.6 L741.7,126.0 L741.6,123.6 L741.9,120.7 L740.8,117.3 L738.2,116.0 L735.9,114.1 L733.0,112.0 L730.7,110.5 L728.1,109.7 L726.1,108.7 L722.6,106.9 L721.3,105.7 L719.3,103.7 L716.4,101.3 L714.8,100.0 L717.2,98.1 L719.0,94.0 L720.9,92.0 L724.2,90.5 L726.0,88.1 L728.7,88.0 L731.3,86.0 L731.8,82.9 L733.0,79.4 L733.4,78.5 L734.5,74.6 L734.8,72.0 L735.9,69.3 L735.6,65.7 L737.7,62.9 L736.7,61.2 L738.3,57.4 L739.0,54.8 L741.0,52.8 L742.2,50.2 L745.2,48.1 L746.3,45.3 L748.7,42.6 L750.5,40.8 L752.8,39.3 L756.6,36.4 L758.2,34.8 L756.3,32.7 Z" fill="#2e2e2e"/>
<g id="subs"><path d="M685.0,325.8 L692.9,324.8 L698.8,342.0 L698.8,352.4 L702.7,376.0 L689.0,387.9 L694.8,407.6 L690.7,416.7 L679.6,436.0 L682.4,455.6 L685.2,475.0 L676.8,483.4 L651.8,486.0 L643.4,483.4 L636.5,480.7 L642.0,469.5 L640.7,458.4 L632.3,444.5 L636.5,427.8 L646.2,413.9 L645.6,407.6 L641.7,397.7 L649.5,387.9 L651.5,378.0 L645.6,368.2 L649.5,360.3 L661.4,350.5 L657.4,344.5 L659.4,334.7 L667.3,330.8 L675.0,328.8 Z" fill="#878787"/>
<path d="M885.0,322.0 L885.0,310.3 L905.0,306.0 L922.3,299.7 L926.6,295.4 L935.0,297.7 L949.4,303.7 L963.7,302.5 L973.2,299.0 L980.4,300.0 L992.3,304.9 L1006.6,309.6 L1018.6,313.2 L1033.0,320.4 L1044.8,330.0 L1053.0,337.0 L1041.7,342.3 L1024.6,353.0 L1007.6,356.0 L997.0,348.7 L988.4,350.8 L975.6,359.4 L969.0,358.3 L952.0,348.7 L930.8,340.0 L905.0,329.5 Z" fill="#9b9b9b"/>
<path d="M649.0,490.4 L676.8,483.4 L700.0,500.0 L715.0,520.0 L726.9,544.6 L710.2,561.3 L696.3,578.0 L682.4,592.0 L682.4,600.3 L686.6,604.4 L685.2,611.4 L679.6,614.2 L676.8,605.8 L669.9,601.7 L662.9,597.5 L657.4,608.6 L656.0,619.7 L624.0,619.7 L607.3,624.0 L590.6,617.0 L580.9,600.3 L576.7,589.0 L590.6,578.0 L605.9,564.0 L615.6,550.2 L619.8,536.3 L626.8,522.4 L625.4,514.0 L628.0,505.7 L640.7,497.4 Z" fill="#8e8e8e"/>
<path d="M645.0,500.0 L649.5,499.7 L653.5,500.1 L660.0,498.0 L661.4,503.7 L660.1,505.5 L659.9,509.7 L660.2,515.4 L661.6,519.9 L663.2,522.7 L661.8,526.9 L661.8,532.0 L662.7,534.7 L664.0,540.0 L664.4,543.8 L663.7,549.4 L662.1,551.2 L659.7,555.2 L660.7,560.0 L658.6,562.6 L658.0,567.7 L656.3,571.2 L656.2,575.7 L656.0,580.2 L656.2,583.4 L653.2,587.4 L652.7,592.2 L652.7,595.5 L652.0,600.0 L649.8,605.5 L650.4,609.9 L649.6,615.3 L648.0,619.0 L641.9,618.1 L638.6,619.6 L634.0,619.0 L634.9,614.9 L635.1,609.9 L637.7,608.0 L637.4,602.3 L637.2,598.6 L638.3,594.5 L640.0,590.0 L640.2,585.8 L642.9,581.3 L642.8,577.2 L643.6,574.7 L644.5,570.9 L645.2,565.3 L646.8,561.4 L647.8,556.6 L646.7,552.9 L647.8,548.3 L650.0,545.0 L649.8,541.5 L650.3,537.4 L648.8,532.3 L648.1,528.0 L646.5,524.6 L647.7,519.9 L647.5,516.5 L645.8,513.3 L644.5,507.5 L644.9,504.6 Z" fill="#999999"/>
<path d="M600.0,585.0 L602.1,582.8 L608.1,579.5 L610.1,577.1 L614.1,575.6 L617.0,573.9 L620.0,570.0 L623.0,573.1 L624.4,577.6 L627.8,580.0 L630.5,584.2 L632.0,588.0 L631.6,591.2 L629.1,595.4 L628.2,600.5 L626.7,604.8 L626.0,610.0 L622.6,610.9 L616.5,611.0 L611.6,612.8 L608.0,612.0 L608.1,608.4 L604.7,605.6 L603.7,599.1 L603.2,596.2 L603.3,591.7 L599.8,588.7 Z" fill="#969696"/>
<path d="M548.8,688.5 L562.3,688.5 L565.3,709.6 L592.5,718.6 L597.0,730.7 L589.5,751.8 L565.3,757.8 L559.3,748.8 L562.3,736.7 L554.8,724.7 L547.3,706.6 Z" fill="#b3b3b3"/>
<path d="M594.2,653.1 L594.1,655.5 L591.1,657.4 L588.1,656.9 L585.6,654.8 L587.5,653.0 L589.0,651.5 L592.0,650.8 Z M589.3,639.3 L590.3,637.1 L593.9,636.8 L595.2,638.7 L597.8,640.6 L594.8,641.8 L591.8,644.7 L589.9,641.8 Z M596.8,636.4 L598.6,637.8 L600.4,641.7 L595.2,643.2 L592.0,640.5 L592.1,637.9 L593.0,633.8 Z M593.8,654.6 L591.1,653.9 L591.7,651.8 L594.8,650.9 L597.0,653.4 Z M618.2,645.9 L620.4,646.6 L619.3,648.6 L618.6,650.7 L614.9,650.6 L615.7,648.0 L616.4,646.7 Z M604.8,660.3 L607.7,661.4 L607.1,664.1 L604.6,664.3 L601.3,664.9 L601.0,662.6 L602.9,661.1 Z M605.9,637.1 L607.5,639.6 L608.6,642.1 L605.9,643.3 L604.2,641.5 L604.4,639.5 Z M603.2,665.2 L600.8,667.2 L598.7,666.8 L597.3,664.3 L600.5,663.3 Z M607.3,636.9 L608.5,638.4 L609.3,639.9 L607.2,640.5 L605.7,640.0 L604.6,638.9 L605.3,637.0 Z M583.5,653.8 L586.3,654.1 L585.9,656.1 L584.9,657.7 L583.6,657.9 L582.7,657.2 L579.5,656.2 L581.2,654.2 Z M589.4,660.2 L588.1,660.5 L586.8,660.0 L587.2,659.0 L586.8,657.6 L587.9,657.1 L588.8,658.0 L589.0,658.9 Z M588.8,637.3 L591.7,640.0 L590.5,642.8 L589.1,644.9 L585.6,646.1 L585.0,642.2 L583.7,638.8 Z M590.9,642.0 L588.8,640.2 L587.1,638.7 L588.3,636.9 L590.6,636.0 L591.8,637.6 L594.8,640.3 Z M588.1,669.7 L587.1,666.7 L585.3,665.1 L585.5,662.2 L589.1,661.6 L591.3,664.0 L592.1,665.8 L590.2,667.2 Z M601.7,652.7 L601.2,648.9 L602.8,644.9 L610.2,644.4 L610.1,649.9 L606.3,653.0 Z M579.0,651.4 L579.4,648.6 L580.9,646.5 L584.2,646.7 L589.2,646.8 L586.4,650.1 L585.4,652.0 L582.7,652.4 Z M587.8,641.1 L591.2,641.6 L593.7,644.6 L589.1,644.9 L586.7,643.8 Z M602.5,655.5 L604.4,659.3 L599.1,660.8 L595.9,657.9 L591.5,655.2 L595.2,651.2 L599.4,652.3 L601.9,653.3 Z M594.4,651.7 L596.5,650.3 L599.0,650.7 L599.1,653.6 L596.3,653.7 Z M586.3,655.3 L584.6,653.8 L584.7,651.6 L587.7,650.3 L590.2,652.5 L588.5,655.1 Z M605.5,647.2 L605.0,645.3 L607.4,644.7 L609.3,644.3 L610.3,646.2 L610.4,648.3 L607.4,648.0 Z M595.2,665.1 L592.9,663.6 L595.1,662.0 L597.0,662.1 L598.1,663.7 L597.4,665.8 Z M600.4,626.8 L600.9,628.5 L600.1,630.2 L598.1,629.2 L598.7,627.7 Z M620.1,648.8 L623.0,649.8 L622.3,652.2 L619.8,653.8 L617.2,652.1 L618.6,650.0 Z M613.3,649.4 L615.2,649.9 L616.7,652.0 L614.1,652.4 L611.8,651.6 Z M599.7,645.3 L600.0,650.4 L597.8,653.9 L593.2,654.2 L592.7,649.5 L593.4,644.7 Z M583.7,638.0 L583.8,639.7 L584.0,641.0 L582.0,642.9 L579.4,641.5 L580.0,639.4 L581.8,638.3 Z M584.6,633.6 L585.3,632.7 L586.3,632.0 L587.9,632.6 L588.7,633.9 L587.4,635.1 L586.1,635.3 L584.9,635.0 Z M587.5,634.7 L585.7,636.7 L583.4,636.8 L582.5,634.7 L584.7,633.7 Z M602.4,629.1 L600.8,631.0 L597.3,631.1 L599.3,628.4 L601.1,626.7 Z M603.9,667.5 L607.7,667.3 L609.7,668.8 L608.9,671.2 L606.3,671.6 L603.6,670.4 Z M589.3,638.6 L590.2,635.2 L593.7,635.8 L594.3,638.7 L595.7,641.6 L592.4,642.3 L588.7,641.1 Z M575.6,646.3 L573.2,647.2 L572.0,645.5 L572.8,643.8 L574.8,643.1 L575.8,643.9 L577.3,644.5 L576.8,646.0 Z M584.1,664.7 L586.2,662.7 L588.6,663.4 L590.7,665.3 L589.5,667.4 L587.3,667.7 L585.2,667.3 Z M607.0,649.2 L602.5,649.7 L597.6,646.7 L601.2,643.1 L604.2,641.8 L608.6,642.9 L611.1,646.3 Z M579.5,653.9 L580.1,651.9 L583.4,651.4 L585.1,653.0 L585.1,655.9 L583.0,658.3 L579.9,656.3 Z M603.4,641.9 L602.1,643.6 L598.7,642.7 L600.4,640.3 L601.0,639.3 L603.1,637.7 L604.6,640.0 Z M599.0,641.9 L599.6,640.2 L601.9,639.9 L604.2,639.5 L606.7,642.0 L605.0,644.6 L601.9,645.1 L600.3,643.8 Z M581.7,650.9 L581.3,649.1 L583.5,648.4 L584.8,647.7 L586.2,648.7 L587.1,650.3 L586.1,651.9 L583.6,651.9 Z M611.9,651.2 L613.5,651.1 L615.4,652.1 L614.8,654.3 L612.0,654.2 L610.8,652.5 Z" fill="#c1c1c1"/>
<path d="M580.4,787.6 L582.9,786.2 L583.6,788.3 L582.9,790.1 L579.9,790.2 Z M551.0,791.9 L548.8,790.9 L548.7,789.0 L549.6,786.9 L552.1,786.0 L554.4,787.7 L554.4,789.9 L553.0,791.1 Z M580.8,789.8 L585.1,788.7 L587.4,792.3 L584.5,794.6 L581.0,796.0 L579.6,792.7 Z M557.5,813.4 L555.5,811.8 L556.2,809.3 L558.8,810.0 L560.0,812.2 Z M587.6,798.5 L589.6,800.7 L588.0,802.1 L586.2,802.7 L584.6,802.6 L584.0,801.2 L582.5,799.1 L585.8,799.4 Z M570.6,768.2 L572.0,769.6 L574.3,771.7 L571.5,774.0 L569.5,771.8 L568.2,769.3 Z M551.4,803.7 L554.0,803.0 L555.3,803.9 L556.9,805.2 L555.8,807.3 L553.7,807.2 L551.7,806.0 Z M552.6,807.0 L554.3,807.9 L553.3,809.2 L552.1,809.6 L550.6,809.0 L551.6,807.8 Z M556.6,798.0 L556.8,796.6 L557.3,795.6 L558.6,794.6 L560.6,795.5 L560.2,797.7 L558.5,798.1 Z M562.6,783.4 L561.7,781.4 L564.3,781.0 L565.8,782.0 L565.6,783.5 L563.8,784.8 Z M582.6,793.5 L584.4,794.2 L584.2,796.2 L582.3,796.5 L581.0,795.8 L581.0,794.2 Z M584.1,787.9 L582.8,790.0 L580.5,790.3 L577.2,789.0 L579.3,785.9 L581.9,786.9 Z M531.4,786.4 L530.9,785.1 L531.0,783.2 L532.8,782.6 L534.4,783.7 L534.2,785.5 L533.3,787.2 Z M570.0,797.7 L568.9,800.1 L565.6,798.4 L564.0,797.0 L564.5,795.1 L567.2,793.4 L570.4,795.0 Z M589.7,781.9 L589.4,783.1 L587.8,785.6 L584.6,784.4 L586.0,782.1 L585.5,780.2 L587.5,779.9 L590.7,779.1 Z M554.3,790.5 L552.4,790.3 L551.0,788.1 L554.1,786.0 L555.2,788.7 Z M563.0,814.9 L561.7,814.4 L557.9,812.7 L559.9,810.5 L563.1,809.0 L566.4,810.2 L566.2,812.8 L565.6,814.9 Z M548.2,806.3 L551.0,808.0 L554.6,809.5 L550.7,810.6 L549.0,810.3 L547.6,809.0 Z M562.0,784.8 L565.6,782.6 L567.1,786.3 L564.8,788.9 L561.9,787.7 Z M537.0,788.7 L537.9,790.3 L538.0,791.6 L536.8,793.6 L534.7,792.8 L534.4,790.9 L535.2,789.4 Z M554.3,806.0 L555.7,809.4 L552.3,812.0 L549.2,810.2 L548.2,806.2 L551.6,805.9 Z M566.4,808.4 L568.2,808.5 L568.8,810.2 L568.8,813.0 L566.2,811.9 L564.4,811.1 L564.9,809.0 Z M555.0,784.3 L558.5,785.5 L560.1,786.9 L560.9,789.2 L557.6,790.7 L554.9,789.9 L554.5,787.2 Z M547.4,777.9 L544.8,776.5 L543.6,774.6 L546.3,773.8 L547.8,775.1 Z M573.5,798.5 L570.8,800.5 L567.7,798.7 L567.3,796.6 L567.5,794.0 L570.2,791.4 L572.8,793.5 L573.5,796.2 Z M557.5,789.0 L557.6,787.6 L558.9,786.8 L560.5,786.2 L561.0,787.5 L562.3,789.1 L560.6,789.9 L559.1,789.5 Z M538.6,802.0 L539.7,800.1 L541.7,801.7 L543.6,803.5 L540.9,804.6 L539.1,804.8 L538.0,803.8 Z M544.2,789.6 L543.9,792.8 L543.2,796.3 L538.0,794.8 L536.8,790.8 L540.7,787.7 Z M561.5,790.5 L567.1,792.9 L561.7,795.5 L558.2,794.2 L558.9,791.6 Z M553.7,813.0 L553.1,811.6 L553.0,809.8 L555.3,810.1 L555.7,811.6 L554.9,812.7 Z M553.9,789.1 L553.9,787.3 L555.2,785.2 L558.1,786.2 L558.2,788.2 L557.6,790.6 L555.1,790.4 Z M576.6,802.6 L575.7,804.2 L574.1,802.8 L573.2,801.8 L574.0,800.2 L575.2,799.6 L576.7,800.5 L577.9,801.4 Z M570.9,810.5 L571.5,811.8 L569.8,812.7 L568.5,811.9 L568.4,810.6 L569.4,809.2 Z M553.0,784.5 L551.8,788.2 L548.0,787.2 L544.2,784.8 L547.1,781.7 L549.3,781.1 L554.4,780.4 Z M551.7,773.4 L550.1,771.8 L547.2,770.7 L549.1,769.0 L550.8,767.3 L553.9,767.7 L553.4,770.1 L554.1,772.2 Z M565.5,782.3 L563.9,780.6 L564.9,777.6 L568.1,779.1 L567.9,781.7 Z M565.4,786.6 L563.4,788.8 L559.8,789.5 L558.3,787.7 L557.8,785.2 L560.6,783.5 L564.4,783.3 Z M542.5,784.2 L540.0,785.8 L537.1,786.4 L535.9,784.2 L538.0,782.8 L539.6,782.6 Z M557.9,782.7 L557.5,784.0 L555.6,783.4 L555.5,782.2 L556.2,780.8 L558.3,780.6 Z M591.2,786.7 L589.5,789.0 L585.3,788.3 L585.6,785.0 L588.7,782.9 L591.2,784.4 Z M534.0,796.9 L535.9,798.2 L534.7,800.0 L533.5,801.5 L531.6,801.2 L530.5,799.3 L529.4,796.9 L532.3,796.6 Z" fill="#c3c3c3"/>
<path d="M610.0,745.3 L611.1,743.8 L613.3,744.7 L612.8,746.3 L611.7,747.7 L608.9,747.3 Z M596.4,759.4 L600.1,759.2 L601.7,761.2 L599.9,762.9 L597.3,764.0 L597.2,761.8 Z M605.5,735.6 L606.7,733.7 L607.4,732.6 L608.9,732.8 L610.8,734.5 L609.1,735.7 L606.8,737.3 Z M600.8,727.3 L599.7,726.3 L598.7,725.2 L599.3,723.6 L600.8,723.5 L601.7,724.5 L602.3,725.2 L601.6,726.0 Z M601.3,761.7 L604.9,762.9 L603.4,766.3 L599.8,765.4 L597.5,763.8 L598.0,760.3 Z M617.7,744.9 L615.9,746.1 L613.7,746.1 L613.8,744.6 L613.8,743.6 L615.1,742.4 L617.2,742.9 Z M603.9,738.2 L599.6,739.4 L595.6,736.3 L598.8,733.1 L603.6,732.8 Z M602.7,759.1 L601.2,760.7 L598.8,760.7 L596.8,758.5 L599.0,756.6 L602.9,755.6 Z M588.3,728.4 L587.6,730.2 L585.1,730.6 L584.0,728.9 L584.4,726.5 L587.9,725.2 Z M605.7,732.9 L601.4,732.9 L600.4,730.6 L601.0,728.1 L603.7,726.6 L605.9,729.6 Z M597.5,737.4 L599.8,737.4 L601.3,740.2 L598.3,741.4 L596.4,741.2 L594.8,740.2 L594.7,738.7 L595.6,736.7 Z M617.7,743.9 L617.2,745.7 L614.9,746.0 L613.6,744.9 L614.8,743.5 L616.4,742.1 Z M608.8,759.7 L612.8,761.7 L609.7,764.2 L607.8,764.6 L605.5,765.3 L603.3,763.3 L604.4,760.7 L606.4,759.7 Z M608.4,737.2 L609.2,743.4 L604.1,744.7 L596.9,742.8 L601.6,737.9 Z M609.4,755.3 L607.3,756.6 L605.8,756.9 L603.9,757.4 L603.5,755.4 L604.2,754.4 L605.7,753.8 L607.3,754.0 Z M606.6,763.6 L609.8,763.0 L610.6,765.1 L609.9,767.5 L607.4,767.0 L606.8,765.5 Z M595.0,741.6 L598.9,743.4 L597.0,746.3 L592.9,747.5 L592.0,744.5 L590.6,741.2 Z M594.3,761.0 L594.0,759.3 L595.1,758.0 L597.3,758.3 L597.8,759.9 L596.2,760.8 Z M582.5,729.6 L585.5,727.7 L588.1,728.4 L589.7,731.2 L587.0,733.8 L583.2,732.6 Z M592.5,726.3 L592.2,728.1 L590.0,728.4 L588.7,726.5 L590.9,725.7 Z M591.9,752.9 L591.3,755.8 L586.2,754.6 L588.4,751.8 L591.5,750.2 Z M605.0,751.8 L607.0,750.8 L609.4,752.5 L608.0,754.9 L605.3,757.5 L603.8,754.1 Z M599.0,738.3 L601.9,738.9 L601.5,741.1 L599.6,741.9 L597.4,740.7 Z M602.2,736.8 L603.9,735.1 L605.7,736.6 L606.4,738.0 L605.0,739.2 L603.4,739.6 L601.2,738.7 Z M587.7,729.9 L585.5,729.0 L587.3,727.5 L588.1,726.4 L589.7,726.6 L590.8,727.2 L590.3,729.0 L589.3,729.6 Z M603.4,734.0 L605.6,733.7 L606.6,734.5 L607.6,736.1 L606.3,737.8 L604.3,737.5 L602.2,735.7 Z M604.2,736.3 L606.7,736.0 L608.6,737.4 L607.9,739.6 L605.9,741.1 L603.1,741.5 L602.6,739.5 L603.3,737.7 Z" fill="#c2c2c2"/>
<path d="M990.4,248.8 L990.4,300.0 L1006.6,309.6 L1033.0,320.4 L1051.0,334.0 L1066.7,289.4 L1076.3,251.0 L1059.0,234.5 L1040.0,227.3 L1021.0,217.7 L1006.6,217.7 L997.0,213.0 L978.0,210.6 L963.7,208.2 L949.4,217.7 L944.6,221.3 L959.0,232.0 L973.2,244.0 L982.8,248.8 Z" fill="#484848"/>
<path d="M885.0,248.8 L892.0,227.3 L901.6,196.3 L925.5,189.0 L949.4,201.0 L954.1,210.6 L942.2,221.3 L920.7,232.0 L901.6,241.6 L892.0,250.0 Z" fill="#4a4a4a"/>
<path d="M1003.0,179.5 L1016.2,181.0 L1033.0,185.0 L1050.6,189.0 L1056.8,196.5 L1078.3,201.0 L1095.0,209.0 L1094.5,217.7 L1100.0,241.6 L1102.5,252.6 L1095.0,255.0 L1080.7,248.0 L1059.0,234.5 L1040.0,217.7 L1021.0,201.0 L1003.0,196.3 Z" fill="#565656"/>
<path d="M656.2,211.3 L659.3,210.7 L662.7,210.0 L667.2,208.4 L668.4,211.1 L672.2,211.4 L674.8,209.0 L677.1,208.6 L680.5,207.8 L682.6,210.1 L687.0,210.7 L693.7,213.1 L696.1,210.1 L698.0,211.3 L699.0,216.4 L699.7,219.1 L701.3,220.3 L704.4,225.9 L706.8,228.4 L707.2,229.8 L706.1,232.0 L708.4,236.2 L707.3,236.7 L703.7,241.4 L704.6,243.6 L706.8,249.8 L704.9,250.7 L702.4,251.8 L701.0,255.3 L702.6,259.4 L702.7,260.6 L699.3,264.3 L698.0,269.2 L696.5,269.1 L690.2,270.5 L690.1,268.2 L683.6,273.1 L681.7,271.5 L678.2,267.9 L677.7,270.7 L672.1,265.4 L667.0,266.6 L667.6,265.0 L663.2,262.3 L662.9,258.5 L659.6,256.5 L660.8,252.9 L658.1,249.3 L658.4,249.1 L655.5,243.7 L654.5,242.9 L657.2,237.1 L654.5,235.4 L656.0,231.8 L658.4,230.7 L656.0,225.2 L657.1,221.8 L654.4,216.1 L657.8,213.6 Z" fill="#b4b4b4"/>
<path d="M690.6,246.7 L693.6,248.6 L691.7,251.4 L689.2,251.6 L688.5,250.0 L688.3,248.0 Z M674.5,240.9 L672.3,239.4 L672.8,237.0 L675.3,237.5 L676.7,239.5 Z M681.2,244.8 L679.8,242.7 L677.0,238.5 L682.7,239.2 L687.7,241.1 L685.2,245.6 Z M691.7,219.8 L694.3,221.2 L694.9,223.5 L691.9,225.2 L690.2,222.1 Z M672.3,252.8 L673.1,250.1 L673.4,248.2 L675.7,247.8 L677.5,247.9 L681.0,249.7 L677.5,251.4 L676.0,252.2 Z M686.5,259.1 L683.6,257.9 L684.0,254.3 L688.8,254.9 L690.6,258.2 Z M671.7,223.9 L675.2,225.9 L672.1,228.7 L667.2,227.6 L668.2,223.5 Z M679.8,256.8 L678.0,259.0 L676.3,259.6 L673.9,260.5 L673.8,258.7 L673.0,257.3 L673.7,255.2 L676.2,256.4 Z M682.3,228.9 L680.3,227.4 L681.1,225.7 L682.3,224.3 L684.7,225.3 L684.6,227.4 Z M676.6,252.2 L677.4,253.5 L676.8,254.5 L675.7,254.7 L673.7,254.8 L673.5,253.2 L674.7,251.6 Z M692.2,242.7 L691.5,245.4 L689.2,245.6 L686.2,244.9 L687.7,242.2 L689.7,240.8 Z M690.9,238.0 L687.2,235.5 L687.1,231.9 L692.0,230.4 L693.7,234.7 Z M675.5,245.1 L677.3,244.6 L678.5,246.0 L676.8,246.9 L675.6,247.4 L674.0,247.2 L673.8,246.0 L674.7,245.1 Z M685.3,249.5 L681.8,247.7 L685.1,245.0 L688.3,243.3 L691.2,246.2 L690.5,249.2 L688.1,251.0 Z M692.5,237.5 L688.4,237.2 L689.6,234.2 L693.9,231.7 L695.2,236.0 Z M676.2,219.9 L675.4,222.5 L671.8,221.6 L670.8,217.8 L675.7,217.2 Z M685.6,229.5 L687.0,226.9 L689.0,226.0 L691.1,227.7 L689.8,230.5 Z M687.9,241.4 L686.9,243.3 L684.9,243.8 L683.9,242.4 L683.5,240.3 L686.0,239.7 Z M671.9,248.6 L670.0,249.6 L668.7,248.2 L669.3,246.7 L670.4,245.1 L672.0,246.1 L672.3,247.5 Z M678.6,232.2 L675.7,232.8 L672.4,231.4 L672.8,228.5 L675.1,226.7 L678.0,227.9 L677.7,229.6 Z M687.9,223.2 L689.4,222.9 L692.9,224.1 L690.5,226.2 L687.3,227.0 L684.6,224.7 Z M674.4,226.1 L677.3,224.9 L678.5,223.7 L681.0,224.4 L681.9,226.1 L680.8,228.7 L678.5,230.0 L675.6,228.9 Z M680.2,240.7 L678.6,238.0 L681.4,236.8 L683.7,235.0 L685.4,236.4 L687.0,238.9 L685.6,240.9 L682.9,240.5 Z M678.6,241.5 L677.3,239.5 L677.3,236.9 L679.4,235.5 L681.5,236.9 L682.0,238.6 L681.2,240.0 L680.5,242.0 Z M685.9,231.3 L684.4,230.9 L682.6,229.8 L684.5,228.7 L685.3,226.9 L687.6,227.7 L687.6,229.4 L687.5,231.2 Z M684.1,241.6 L689.3,240.8 L691.7,245.1 L686.9,248.2 L683.0,245.6 Z M674.8,240.3 L677.7,241.1 L677.0,243.6 L674.3,245.9 L672.2,243.2 L672.2,240.8 Z M679.1,230.8 L677.6,228.0 L681.2,226.1 L684.7,227.8 L683.9,230.5 L684.2,232.7 L681.6,233.7 L678.9,233.1 Z M688.2,220.3 L690.3,220.8 L691.3,221.6 L691.4,223.0 L690.7,224.3 L688.8,224.4 L688.3,222.9 L687.9,221.8 Z M681.1,250.9 L679.1,250.0 L680.0,247.9 L681.6,247.3 L683.7,247.9 L683.3,249.5 L684.2,251.8 Z M685.3,223.5 L681.9,223.9 L682.8,220.9 L685.2,219.5 L687.4,221.7 Z M683.3,234.0 L681.7,232.9 L680.7,231.3 L680.4,228.3 L683.2,227.3 L686.0,229.1 L687.4,231.2 L687.0,234.3 Z M686.2,245.1 L688.2,247.9 L688.7,250.1 L688.5,253.1 L684.8,253.9 L682.1,252.7 L678.7,249.1 L682.5,246.7 Z M694.7,222.5 L693.1,225.5 L688.4,224.6 L687.0,221.2 L690.5,219.0 L694.0,219.8 Z M692.3,239.6 L691.1,239.4 L688.7,238.4 L691.0,237.2 L691.4,236.1 L692.5,236.9 L693.6,237.6 L694.3,239.1 Z M690.5,239.0 L690.1,242.4 L685.9,242.0 L684.9,238.7 L688.3,236.6 Z M692.4,230.7 L693.7,233.4 L690.0,234.4 L687.4,231.8 L688.2,229.1 L691.3,229.4 Z M687.2,221.8 L686.1,222.0 L685.0,221.6 L685.3,220.5 L685.6,219.8 L686.8,219.0 L688.0,219.9 L687.9,221.1 Z M679.5,234.7 L678.1,229.1 L684.5,227.8 L687.5,231.4 L684.3,233.8 Z M678.5,241.6 L677.5,243.8 L675.2,243.8 L674.4,242.2 L672.5,240.2 L675.5,239.9 L677.5,240.2 Z M669.6,236.8 L672.4,235.3 L674.9,233.3 L675.9,235.6 L678.1,238.4 L674.6,240.4 L672.2,238.7 Z M692.5,255.9 L689.3,256.1 L685.8,255.5 L686.8,253.2 L689.4,250.9 L691.7,252.6 Z M690.0,233.9 L690.0,232.5 L691.4,231.5 L693.5,232.0 L693.9,234.0 L692.0,234.8 L690.7,234.7 Z" fill="#a9a9a9"/>
<path d="M695.5,296.0 L698.8,297.5 L700.4,295.3 L703.6,296.4 L708.9,295.7 L710.7,294.4 L716.6,292.9 L716.9,293.5 L722.9,293.8 L724.7,293.5 L726.4,298.2 L725.9,299.1 L726.8,303.5 L727.3,306.3 L730.0,308.4 L730.4,312.9 L732.2,313.7 L734.2,316.8 L735.2,320.4 L731.6,321.9 L733.3,327.2 L731.2,329.7 L731.6,330.9 L728.2,337.1 L727.9,338.9 L729.2,342.6 L729.8,345.1 L730.0,348.0 L732.4,350.5 L731.0,354.6 L727.4,357.5 L726.0,362.0 L722.0,360.0 L721.3,355.2 L718.4,354.6 L714.1,355.8 L711.1,354.3 L708.9,353.0 L707.2,348.8 L708.3,348.1 L703.8,345.1 L703.6,342.0 L701.3,340.0 L698.8,335.0 L699.5,332.0 L697.3,329.5 L694.0,325.0 L690.5,322.0 L689.6,316.8 L692.0,315.9 L693.0,310.3 L694.0,309.0 L693.4,306.6 L694.8,304.5 L693.2,299.8 Z" fill="#a6a6a6"/>
<path d="M708.8,305.0 L710.4,304.0 L712.1,304.5 L711.6,305.8 L710.0,306.5 Z M704.5,333.6 L702.5,334.1 L700.9,332.4 L702.0,330.6 L703.5,330.6 L704.3,331.5 Z M716.8,331.4 L717.3,329.4 L719.5,330.6 L722.4,330.8 L722.5,332.8 L719.7,333.5 L717.8,334.9 L716.9,332.7 Z M720.0,319.5 L720.4,321.8 L718.1,322.6 L715.3,321.2 L717.1,318.6 Z M712.8,341.6 L710.6,341.9 L708.3,341.4 L708.2,339.4 L708.8,337.5 L711.5,337.6 L713.9,339.2 Z M702.0,319.6 L702.1,321.1 L700.9,322.3 L699.6,321.0 L700.8,320.0 Z M712.5,320.5 L711.9,318.0 L714.0,314.2 L717.7,316.4 L717.7,319.1 L718.8,323.1 L714.0,322.1 Z M703.0,335.9 L705.3,335.4 L708.8,334.8 L707.6,337.2 L706.6,338.9 L704.5,340.0 L703.6,337.6 Z M715.4,325.3 L717.5,327.2 L715.7,329.5 L712.2,329.7 L710.5,328.9 L707.4,326.5 L711.0,325.4 L713.1,323.7 Z M707.8,322.4 L707.0,320.4 L709.6,319.2 L712.0,320.1 L712.3,322.2 L711.1,323.6 L708.2,325.1 Z M710.0,338.9 L708.1,339.6 L705.3,339.8 L705.8,337.8 L706.0,336.3 L707.0,335.4 L710.6,334.4 L712.5,336.8 Z M705.7,331.1 L708.1,332.1 L710.9,331.8 L710.0,334.2 L708.9,335.4 L707.1,336.4 L705.5,335.0 L703.8,333.1 Z M723.9,313.2 L723.7,316.2 L721.2,317.9 L718.0,317.7 L717.6,315.4 L717.8,313.1 L720.2,312.6 Z M705.5,311.2 L709.8,312.2 L709.2,315.1 L708.1,317.2 L706.8,320.1 L704.4,318.4 L701.9,316.1 L704.2,314.2 Z M714.4,321.3 L716.4,323.3 L717.4,326.0 L714.7,328.0 L711.7,329.1 L710.5,326.1 L710.6,324.4 L711.5,322.5 Z M708.7,327.1 L708.1,323.9 L712.2,324.3 L712.9,325.8 L712.3,328.5 Z M712.7,329.1 L712.0,332.1 L708.5,332.8 L707.1,330.3 L706.9,327.2 L710.4,326.4 Z M710.1,308.7 L708.4,309.2 L705.4,307.3 L709.1,306.3 L710.8,307.0 Z" fill="#9e9e9e"/>
<path d="M1078.3,251 L1053,336 " stroke="#5e5e5e" stroke-width="3.5" fill="none"/>
<path d="M1050,338.5 L986.5,417.5 L902,484.5" stroke="#a3a3a3" stroke-width="4" fill="none"/>
<path d="M891,486 L733,540.5" stroke="#8d8d8d" stroke-width="3.5" fill="none"/>
<path d="M740.5,323.0 L744.5,324.2 L749.8,324.8 L752.0,325.4 L757.9,327.0 L761.8,327.2 L765.4,329.6 L768.9,329.4 L772.4,330.7 L779.0,331.5 L781.5,330.0 L788.0,331.0 L790.8,332.1 L795.5,331.8 L800.4,332.6 L804.1,331.1 L809.2,331.5 L811.3,329.4 L815.0,329.2 L820.6,328.6 L823.3,328.1 L828.6,325.7 L832.0,326.2 L835.1,324.3 L839.8,323.2 L844.4,321.1 L848.4,319.9 L851.1,317.5 L855.7,316.7 L860.3,315.2 L864.3,317.4 L869.0,316.4 L875.5,317.9 L879.3,320.0 L882.7,321.9 L887.0,324.0 L891.5,325.2 L893.8,328.0 L899.0,329.2 L901.8,331.3 L905.7,332.8 L910.8,335.7 L914.4,337.4 L918.7,337.6 L923.0,339.9 L927.8,340.6 L929.6,342.6 L935.4,342.0 L938.1,344.7 L942.4,345.2 L945.9,345.8 L951.0,349.3 L953.0,351.0 L957.7,350.9 L960.9,351.9 L967.0,353.7 L969.4,355.9 L974.0,357.8" stroke="#9b9b9b" stroke-width="0.9" fill="none"/>
<path d="M756.2,316.8 L759.5,314.1 L762.5,309.4 L765.3,306.2 L769.2,303.8 L772.0,301.0 L777.5,299.3 L781.4,296.8 L785.4,296.3 L789.3,294.4 L794.0,291.5 L799.3,291.0 L802.7,290.6 L807.4,292.2 L809.0,291.9 L813.6,292.3 L818.6,291.6 L822.5,291.5 L825.8,292.8 L830.5,294.1 L833.3,297.2 L838.6,298.0 L841.4,301.0 L844.5,303.8 L850.8,306.3 L854.0,310.5" stroke="#9b9b9b" stroke-width="0.9" fill="none"/>
<path d="M731.0,335.7 L735.2,338.9 L737.6,339.0 L741.0,342.2 L745.8,344.6 L749.7,345.7 L753.0,348.3 L756.1,351.6 L760.5,351.5 L763.4,354.3 L767.3,356.7 L769.8,358.6 L774.7,361.8 L778.3,364.0 L781.8,366.3 L785.8,369.2 L790.4,370.1 L792.9,372.2 L795.2,374.5 L799.5,378.2 L803.6,379.9 L807.8,382.3 L810.4,384.9 L812.3,387.3 L817.2,390.0 L819.5,394.5 L822.2,396.6 L825.6,398.8 L830.3,400.2 L832.8,402.9 L837.1,403.4 L841.2,405.6 L844.9,406.8 L847.7,408.3 L851.8,410.1 L854.0,412.5 L856.7,415.8 L861.4,419.2 L864.1,421.2 L866.7,424.0 L871.0,427.3 L872.8,429.4 L876.1,434.4 L878.9,437.8 L883.2,440.7 L885.6,443.0 L888.0,444.9 L891.1,448.0 L894.3,453.4 L898.2,455.6 L899.5,458.6 L899.4,464.2 L899.4,468.4 L899.1,473.3 L901.9,475.9 L901.4,480.8" stroke="#9b9b9b" stroke-width="0.9" fill="none"/>
<path d="M781.5,338.9 L786.0,340.4 L790.3,341.3 L794.4,342.0 L798.7,345.3 L802.1,345.8 L805.0,347.5 L809.9,348.3 L814.6,352.2 L817.1,352.9 L821.7,356.2 L824.5,359.0 L827.3,362.1 L832.0,364.0 L836.6,366.4 L839.4,369.8 L843.7,373.0 L847.0,374.8 L850.5,377.4 L854.0,380.0 L858.1,381.0 L861.9,379.8 L865.8,380.7 L870.0,381.2 L874.2,381.4 L879.3,383.0 L884.4,383.5 L886.9,383.7 L892.6,383.9 L898.1,386.3 L901.4,386.2 L904.4,387.3 L910.0,391.5 L912.2,392.9 L917.0,395.6 L920.8,396.4 L924.3,399.0 L927.9,402.0 L931.8,404.0 L935.3,403.9 L939.6,407.3 L942.4,408.3 L947.2,410.6 L950.5,410.2 L953.8,412.1 L958.9,413.5 L963.6,416.5 L967.6,417.7 L971.6,417.5 L974.4,420.2 L978.7,420.3 L983.4,420.9" stroke="#9b9b9b" stroke-width="0.9" fill="none"/>
<path d="M854.0,351.5 L857.2,348.4 L861.8,347.9 L866.7,345.2 L870.1,345.7 L876.0,346.3 L879.5,349.2 L883.0,348.3 L886.6,351.2 L891.9,351.5 L895.5,353.0 L898.3,357.5 L903.9,360.3 L907.3,362.3 L910.8,364.0 L914.8,366.2 L917.3,368.0 L921.0,371.1 L925.6,373.5 L929.7,376.7 L933.0,379.9 L936.6,384.3 L938.2,385.8 L942.4,389.3 L947.6,388.8 L949.5,391.1 L954.6,389.8 L958.1,392.6 L963.8,391.1 L967.6,392.5 L971.9,395.7 L974.6,398.9 L975.8,401.8 L980.2,405.0 L981.6,410.3 L984.2,412.6 L986.5,417.7" stroke="#9b9b9b" stroke-width="0.9" fill="none"/>
<path d="M743.6,367.3 L745.5,370.3 L749.5,373.4 L754.2,376.5 L755.4,379.2 L758.1,383.7 L762.6,386.2 L766.4,387.8 L770.2,390.5 L775.0,391.2 L778.6,392.7 L781.5,395.6 L786.1,398.9 L787.7,400.2 L791.8,404.8 L796.2,407.1 L800.0,410.0" stroke="#9b9b9b" stroke-width="0.9" fill="none"/>
<path d="M822.5,408.3 L824.4,410.5 L829.1,415.0 L832.2,417.2 L836.3,419.6 L838.3,424.0 L840.7,428.5 L842.6,432.8 L844.1,435.4 L847.0,438.8 L847.7,443.0 L851.1,447.2 L851.8,449.4 L854.1,453.6 L856.6,457.5 L860.3,461.9 L862.1,465.9 L864.0,468.9 L866.0,473.5 L866.7,477.7" stroke="#9b9b9b" stroke-width="0.9" fill="none"/>
<path d="M860.0,280.0 L863.6,282.7 L867.2,284.6 L872.4,287.0 L876.2,289.1 L880.0,292.0 L883.7,294.3 L887.1,295.1 L891.5,296.9 L896.3,297.0 L900.1,298.4 L905.0,300.0 L908.7,300.3 L914.3,298.9 L917.1,298.6 L920.2,296.2 L925.0,296.0" stroke="#9b9b9b" stroke-width="0.9" fill="none"/>
<path d="M706.0,415.0 L705.0,419.5 L705.2,423.3 L702.3,427.1 L703.1,432.1 L702.0,435.5 L700.0,440.0 L699.1,445.4 L696.2,449.4 L696.8,454.1 L693.3,456.3 L693.9,461.2 L690.9,466.1 L690.0,470.0 L687.8,473.4 L686.2,476.8 L685.6,481.7 L682.0,484.2 L680.0,488.6 L680.0,492.5 L677.0,496.5 L676.0,500.0 L675.0,503.0 L671.9,508.3 L671.0,513.0 L669.9,516.8 L668.4,521.4 L665.4,524.8 L665.0,530.0 L663.7,534.2 L662.8,539.6 L662.0,541.7 L663.1,546.3 L660.9,551.3 L660.5,555.8 L660.0,560.0 L659.0,563.6 L655.9,568.7 L655.7,572.3 L653.2,576.7 L651.7,580.5 L651.0,586.2 L650.0,590.0 L649.1,593.7 L648.7,598.9 L648.7,602.6 L645.7,607.7 L646.8,610.0 L645.0,615.0" stroke="#838383" stroke-width="0.9" fill="none"/>
<path d="M745.0,440.0 L745.8,444.7 L746.4,447.5 L746.8,451.8 L748.2,456.8 L749.7,461.6 L749.9,465.3 L750.0,470.0 L749.0,475.3 L747.4,479.5 L747.8,482.4 L746.0,486.3 L745.4,492.1 L741.9,496.1 L742.0,500.0 L742.1,505.1 L743.8,508.7 L744.1,512.2 L745.9,516.0 L745.8,521.5 L748.1,524.6 L748.0,530.0" stroke="#838383" stroke-width="0.9" fill="none"/>
<path d="M770.0,470.0 L771.2,475.4 L770.7,477.7 L771.2,483.1 L773.0,487.6 L774.0,490.9 L773.8,496.7 L775.0,500.0 L773.8,503.2 L771.7,508.1 L770.6,512.6 L768.2,516.7 L768.0,522.0" stroke="#838383" stroke-width="0.9" fill="none"/>
<path d="M720.0,480.0 L720.0,484.1 L719.7,487.8 L719.2,491.1 L718.9,497.0 L717.8,500.1 L716.1,504.6 L717.5,509.3 L715.8,511.3 L716.3,516.0 L715.0,520.0 L712.7,523.8 L709.7,527.9 L709.5,530.5 L706.5,534.7 L705.0,538.9 L702.5,541.5 L700.0,545.0 L698.5,549.3 L696.5,553.8 L694.4,556.3 L692.5,560.9 L690.8,565.1 L690.0,570.0" stroke="#838383" stroke-width="0.9" fill="none"/>
<path d="M800.0,440.0 L800.4,443.3 L802.2,449.2 L803.5,452.3 L806.6,456.2 L807.3,462.2 L808.1,464.6 L810.0,470.0 L810.9,474.8 L813.8,477.0 L814.8,483.0 L818.7,487.3 L820.0,490.0 L824.0,493.8 L827.8,495.7 L830.2,497.9 L835.0,502.0" stroke="#838383" stroke-width="0.9" fill="none"/>
<path d="M700.0,380.0 L701.6,382.7 L705.3,385.5 L709.7,388.3 L710.6,390.8 L713.0,394.9 L717.1,396.9 L720.0,400.0 L722.3,404.2 L725.6,406.7 L727.7,409.9 L730.0,415.0 L730.1,417.1 L732.9,422.4 L735.8,425.4 L738.4,427.8 L741.3,433.6 L743.4,436.2 L745.0,440.0" stroke="#838383" stroke-width="0.9" fill="none"/>
<path d="M690.0,570.0 L686.2,572.8 L685.3,577.9 L682.7,580.7 L680.0,585.0" stroke="#838383" stroke-width="0.9" fill="none"/>
<path d="M640.0,540.0 L641.6,544.3 L643.2,547.8 L646.4,551.8 L648.2,555.5 L650.0,560.0 L648.5,564.9 L646.7,568.5 L646.0,572.9 L645.7,575.7 L644.2,579.8 L643.7,585.1 L644.3,588.5 L642.1,593.0 L640.2,595.4 L640.0,600.0" stroke="#838383" stroke-width="0.9" fill="none"/>
<path d="M739.0,150.0 L738.4,154.6 L739.0,158.5 L736.6,162.5 L737.8,167.5 L737.2,171.1 L736.1,176.8 L735.0,180.0 L734.5,184.8 L736.9,189.2 L735.4,191.2 L737.8,195.8 L736.6,200.4 L737.2,203.6 L737.8,207.3 L738.5,212.0 L739.1,216.5 L737.0,219.2 L736.4,223.8 L737.9,228.0 L736.3,232.3 L737.4,234.7 L735.6,239.7 L736.0,244.1 L736.0,248.0 L734.6,252.1 L733.0,256.8 L730.1,260.3 L729.0,265.5 L728.0,270.0 L725.7,275.0 L724.0,276.8 L724.1,281.1 L721.1,285.9 L720.0,290.0" stroke="#adadad" stroke-width="0.9" fill="none"/>
<path d="M690.0,170.0 L693.4,172.9 L696.7,174.0 L699.7,176.4 L703.7,179.7 L707.7,182.7 L710.0,185.0 L714.6,183.6 L718.2,184.0 L721.7,183.0 L727.2,180.5 L730.0,180.0" stroke="#adadad" stroke-width="0.9" fill="none"/>
<path d="M740.0,150.0 L744.5,149.1 L747.2,145.1 L751.0,144.2 L756.2,142.5 L760.0,140.0 L764.0,137.6 L766.6,137.3 L771.0,133.2 L773.8,131.8 L777.7,130.1 L780.2,128.0 L785.0,127.0" stroke="#adadad" stroke-width="0.9" fill="none"/>
<path d="M700.0,215.0 L704.5,217.1 L708.7,218.8 L712.7,220.1 L716.9,224.0 L720.0,225.0 L722.6,228.4 L723.7,232.1 L727.8,236.1 L728.9,237.5 L732.2,241.4 L733.6,244.9 L736.0,248.0 L738.9,251.1 L744.9,252.4 L748.1,255.4 L752.7,258.4 L756.4,259.8 L760.0,262.0 L764.4,261.5 L768.4,261.4 L772.3,259.1 L776.3,259.0 L780.6,258.4 L784.8,257.5 L790.0,258.0 L794.2,255.2 L795.9,252.2 L800.7,249.3 L805.4,248.4 L807.0,243.9 L812.3,243.1 L815.0,240.0" stroke="#adadad" stroke-width="0.9" fill="none"/>
<path d="M589.0,676.0 L590.5,672.6 L593.3,668.5 L593.0,664.5 L596.4,661.5 L597.9,657.1 L598.9,654.8 L600.0,650.0 L602.6,648.8 L608.3,647.2 L609.9,643.2 L615.5,641.8 L618.0,640.0 L621.1,638.4 L624.9,635.6 L628.7,633.3 L633.5,632.5 L635.4,629.2 L640.0,628.0" stroke="#bbbbbb" stroke-width="0.9" fill="none"/>
<path d="M589.0,676.0 L587.6,680.4 L586.0,683.0 L584.2,686.9 L583.4,691.7 L582.6,696.2 L580.0,700.0 L577.3,703.6 L573.5,709.0 L570.0,712.0" stroke="#bbbbbb" stroke-width="0.9" fill="none"/>
<path d="M600.0,650.0 L601.0,655.1 L600.2,657.1 L600.5,662.2 L602.2,666.5 L602.9,669.5 L602.5,675.0 L603.7,676.8 L603.5,681.3 L604.3,685.4 L605.0,690.0 L604.5,693.1 L606.4,698.0 L607.0,702.0 L608.1,706.7 L609.8,709.2 L609.3,713.1 L608.7,717.1 L610.1,722.5 L612.4,725.7 L612.0,730.0 L611.0,733.4 L608.3,736.8 L608.5,740.5 L606.2,746.1 L604.3,749.2 L604.0,752.3 L601.4,757.1 L600.0,760.0 L598.4,763.8 L596.8,768.4 L594.9,772.1 L593.0,775.2 L590.0,780.0" stroke="#bbbbbb" stroke-width="0.9" fill="none"/>
<path d="M560.0,770.0 L559.8,774.4 L559.3,778.3 L558.6,782.0 L558.1,788.2 L556.8,791.6 L554.8,796.3 L555.0,800.0 L554.0,805.3 L550.8,807.3 L549.8,812.0 L546.8,816.2 L545.0,820.0" stroke="#bbbbbb" stroke-width="0.9" fill="none"/>
<path d="M812.0,165.0 L816.0,166.7 L821.2,167.8 L823.3,168.9 L829.1,171.1 L833.0,171.8 L836.5,174.7 L840.0,175.0 L842.8,177.7 L848.6,180.0 L850.3,179.8 L856.1,182.3 L858.2,184.8 L862.1,185.9 L866.0,187.4 L870.0,190.0 L874.8,192.1 L876.8,192.5 L880.4,194.8 L886.0,196.6 L888.7,198.6 L893.9,198.7 L896.3,201.4 L900.9,203.4 L905.0,205.0 L909.2,205.4 L913.2,206.4 L915.9,206.2 L920.4,207.7 L924.3,209.5 L928.2,208.0 L933.9,209.0 L936.5,210.5 L940.8,211.4 L945.0,212.0 L949.4,212.7 L951.7,214.7 L957.0,215.3 L959.9,216.7 L963.9,217.6 L968.6,220.3 L973.0,220.6 L977.4,223.0 L982.2,223.8 L985.0,225.0 L988.1,227.2 L994.1,226.5 L996.9,229.2 L1000.9,228.8 L1006.2,231.8 L1008.3,233.1 L1013.1,232.7 L1016.5,233.2 L1022.7,234.7 L1025.3,236.5 L1030.0,238.0 L1034.5,239.3 L1037.6,238.9 L1043.0,241.9 L1045.0,241.7 L1048.9,243.2 L1054.5,242.8 L1056.8,245.8 L1061.5,244.9 L1064.8,246.6 L1070.0,248.0 L1074.9,248.2 L1077.5,250.1 L1083.5,249.5 L1086.9,251.0 L1090.3,251.9 L1096.8,252.8 L1100.0,253.0" stroke="#444444" stroke-width="0.9" fill="none"/>
<path d="M860.0,140.0 L861.5,144.7 L862.8,147.5 L863.9,151.8 L866.1,156.8 L868.2,161.6 L869.2,165.3 L870.0,170.0 L871.8,175.2 L873.0,179.3 L876.2,182.0 L877.2,185.8 L879.5,191.5 L880.0,195.0 L882.9,197.1 L887.6,199.1 L892.6,200.1 L896.1,201.1 L901.3,202.2 L905.0,205.0" stroke="#444444" stroke-width="0.9" fill="none"/>
<path d="M830.0,140.0 L831.4,145.2 L830.9,147.5 L831.5,152.7 L833.5,157.2 L834.6,160.3 L835.0,165.0 L837.5,169.0 L841.2,169.8 L843.5,173.3 L846.8,176.4 L850.0,180.0" stroke="#444444" stroke-width="0.9" fill="none"/>
<path d="M985.0,225.0 L988.0,228.5 L990.7,231.4 L993.2,234.1 L995.9,239.4 L997.8,241.8 L1000.0,245.0 L1002.1,249.0 L1007.0,253.1 L1008.8,254.5 L1012.8,258.6 L1015.0,262.0" stroke="#444444" stroke-width="0.9" fill="none"/>
<path d="M776.0,62.0 L778.0,66.3 L781.2,70.0 L781.3,73.6 L785.1,78.4 L787.0,81.7 L788.5,87.1 L790.0,90.0 L791.5,94.6 L796.1,98.7 L796.6,100.4 L800.0,105.0 L805.4,105.8 L808.0,107.4 L812.4,107.6 L816.9,108.3 L822.3,110.5 L824.8,110.2 L830.0,112.0 L832.8,112.5 L838.5,113.3 L841.2,114.3 L846.6,113.4 L849.1,115.0 L853.8,116.1 L858.2,116.3 L862.2,117.3 L866.0,118.0 L869.1,117.6 L873.9,118.9 L878.0,120.5 L882.2,118.8 L888.2,119.6 L891.0,120.9 L895.5,121.6 L900.0,122.0 L904.4,121.0 L906.7,121.3 L912.0,120.2 L914.9,119.9 L918.9,119.1 L923.6,120.1 L928.0,118.7 L932.4,119.4 L937.2,118.5 L940.0,118.0 L943.0,120.0 L948.9,119.2 L951.6,121.6 L955.5,121.1 L960.7,123.9 L962.7,125.0 L967.5,124.4 L970.8,124.8 L976.9,126.1 L980.0,128.0 L983.4,128.9 L988.5,130.7 L991.6,130.5 L997.0,133.7 L999.0,133.7 L1002.9,135.4 L1008.5,135.2 L1010.8,138.4 L1015.5,137.7 L1020.0,140.0 L1022.4,141.4 L1027.9,143.1 L1029.9,146.2 L1035.2,146.6 L1038.0,149.2 L1040.7,151.3 L1046.6,153.2 L1049.6,153.3 L1053.3,157.2 L1057.3,158.1 L1060.0,160.0 L1064.2,162.6 L1066.9,165.2 L1069.3,167.9 L1071.3,172.8 L1075.9,173.9 L1078.3,176.8 L1082.0,182.1 L1083.7,183.5 L1086.9,187.9 L1090.0,190.0" stroke="#252525" stroke-width="0.9" fill="none"/>
<path d="M828.0,66.0 L827.8,70.4 L827.3,73.0 L826.7,76.9 L827.0,81.7 L827.4,86.2 L826.0,90.0 L827.4,94.0 L827.8,99.8 L828.1,104.2 L830.4,107.1 L830.0,112.0" stroke="#252525" stroke-width="0.9" fill="none"/>
<path d="M940.0,118.0 L942.2,115.2 L942.6,109.5 L944.0,106.7 L946.8,103.2 L948.7,98.3 L950.0,95.0 L949.2,91.9 L949.7,85.5 L948.7,81.8 L948.7,77.8 L947.3,73.4 L948.3,70.1 L948.0,66.0" stroke="#252525" stroke-width="0.9" fill="none"/>
<path d="M900.0,122.0 L901.2,126.1 L902.1,129.8 L902.9,133.1 L903.8,139.0 L903.9,142.1 L903.4,146.6 L905.0,150.0 L907.6,155.4 L908.1,157.7 L910.8,162.5 L911.5,166.9 L912.3,171.6 L915.0,175.0" stroke="#252525" stroke-width="0.9" fill="none"/></g>
<g id="strokes"><path d="M577.4,593.6 L579.7,597.6 L580.9,600.3 L582.3,602.2 L582.7,605.4 L585.0,608.0 L586.2,610.4 L587.4,612.8 L589.7,614.4 L590.6,617.0 L593.5,618.5 L595.6,619.4 L599.6,620.0 L602.3,622.0 L605.2,622.5 L607.3,624.0 L609.3,623.9 L613.5,622.5 L614.8,621.2 L618.7,620.7 L622.1,620.6 L624.0,619.7 L626.1,620.0 L629.1,620.6 L632.8,619.7 L635.0,620.1 L637.9,620.7 L639.1,619.4 L642.9,619.3 L645.5,618.9 L648.8,619.8 L649.9,620.0 L653.0,619.1 L656.0,619.7 L655.6,621.6 L654.8,625.8 L655.4,626.7 L655.2,629.4 L654.0,633.8 L654.3,635.3 L653.4,638.1 L652.6,642.0 L652.1,643.5 L652.7,646.3 L652.1,648.7 L651.4,651.1 L650.3,655.0 L648.5,657.6 L647.0,660.2 L646.5,662.2 L644.8,665.2 L643.7,667.4 L642.3,669.0 L641.8,671.8 L640.1,675.2 L638.2,676.1 L636.9,679.6 L636.2,681.4 L635.2,685.1 L633.6,686.5 L633.7,689.3 L631.7,691.5 L630.4,694.0 L629.9,696.0 L628.8,698.9 L628.8,701.5 L627.7,705.4 L627.3,706.8 L625.6,709.6 L624.9,711.9 L623.5,714.9 L623.3,718.4 L621.4,719.2 L620.7,721.9 L619.0,726.0 L618.2,728.5 L618.0,730.7 L618.4,734.2 L620.0,735.0 L619.4,739.4 L620.9,740.9 L621.9,744.3 L621.9,746.2 L622.6,748.8 L620.6,750.9 L619.5,753.9 L619.2,755.3 L618.1,757.6 L616.6,760.8 L614.6,763.5 L614.1,766.4 L613.2,768.5 L611.0,771.1 L610.5,772.9 L607.2,774.7 L606.3,776.7 L603.8,777.4 L600.9,779.5 L597.3,781.4 L595.5,782.0 L593.9,783.7 L591.2,785.5 L587.8,787.8 L584.9,789.8 L583.4,791.0 L584.0,793.2 L583.5,795.4 L583.0,798.4 L582.8,801.4 L582.4,803.2 L580.3,807.4 L581.1,809.4 L580.4,812.0 L577.7,813.7 L576.5,815.9 L576.0,819.7 L574.1,822.0 L571.4,824.0 L568.8,824.7 L567.3,826.2 L564.7,828.4 L562.3,830.0 L559.3,828.1 L555.4,827.8 L552.4,826.8 L550.3,825.6 L547.0,824.6 L544.3,824.6 L542.2,823.3 L539.2,823.4 L537.9,822.6 L533.8,821.8 L531.3,821.7 L529.2,821.0 L527.9,819.3 L524.8,816.9 L523.3,815.3 L521.4,814.5 L519.8,811.9 L518.2,810.0 L516.5,807.6 L514.0,806.0 L513.6,804.4 L511.9,801.3 L511.6,797.6 L510.1,796.5 L509.6,793.9 L509.6,791.0 L510.3,788.6 L511.6,786.8 L514.6,784.0 L515.7,783.2 L516.6,780.2 L519.0,778.8 L520.0,775.9 L521.0,774.2 L522.6,771.1 L526.0,769.0 L527.6,768.4 L528.8,766.3 L530.4,763.4 L531.7,761.2 L534.2,760.4 L535.2,757.8 L537.7,755.3 L539.2,753.5 L541.4,752.6 L543.7,750.7 L545.0,748.9 L545.7,746.7 L547.5,744.3 L550.3,742.7 L550.2,741.0 L550.6,738.4 L553.1,734.9 L553.5,731.5 L552.8,728.9 L553.3,726.3 L554.8,724.7 L554.4,721.3 L552.8,719.1 L550.9,716.8 L549.9,715.3 L549.2,712.0 L548.5,709.4 L547.3,706.6 L547.6,703.5 L547.3,702.1 L547.8,698.6 L549.4,696.2 L550.1,694.0 L549.6,690.0 L550.1,688.1 L550.3,685.5 L550.6,683.0 L549.8,681.0 L549.0,678.4 L549.4,674.5 L549.0,673.3 L548.4,669.7 L547.3,667.4 L545.9,664.1 L545.3,662.9 L544.4,658.7 L543.4,656.2 L543.2,655.0 L542.9,651.1 L541.2,649.3 L543.2,646.3 L546.6,645.5 L548.1,643.5 L550.3,640.3 L552.1,638.7 L553.7,635.7 L556.4,634.5 L557.3,632.4 L559.2,630.1 L559.7,626.6 L562.3,625.2 L561.2,622.4 L562.1,618.4 L561.4,615.3 L561.5,613.6 L560.8,610.0 L561.2,608.3 L563.6,603.9 L564.2,601.3 L566.1,600.1 L566.9,596.6 L568.9,595.2 L572.4,595.8 L575.3,594.3 Z" fill="none" stroke="#ffffff" stroke-opacity="0.85" stroke-width="1.05" stroke-linejoin="round"/><path d="M739.7,116.2 L740.8,117.3 L740.6,120.3 L741.1,123.3 L741.7,126.0 L744.5,126.0 L745.9,128.4 L748.9,128.1 L752.0,129.5 L755.6,129.7 L757.9,130.0 L760.2,129.7 L762.8,131.4 L765.2,131.4 L767.8,131.2 L770.7,128.6 L773.5,127.9 L775.2,125.1 L778.2,124.3 L781.5,123.6 L783.8,123.9 L786.0,122.5 L787.6,125.7 L788.1,127.8 L789.5,129.5 L789.8,133.8 L790.4,136.4 L794.6,136.9 L797.3,139.0 L798.7,136.5 L802.6,135.0 L804.1,132.8 L806.0,131.2 L808.0,128.4 L810.0,126.0 L809.9,129.0 L810.6,132.5 L811.0,135.4 L810.8,137.4 L812.1,141.0 L812.3,141.9 L813.3,146.1 L813.9,147.9 L814.1,149.8 L814.3,153.0 L814.5,156.2 L813.0,158.2 L813.7,163.1 L812.6,165.2 L810.0,168.2 L808.9,169.3 L807.0,173.0 L806.4,174.0 L803.9,177.3 L802.1,178.4 L800.3,181.0 L798.6,184.4 L795.8,186.4 L793.4,186.6 L791.7,189.5 L788.8,188.3 L785.0,188.9 L782.8,188.1 L779.5,188.6 L776.0,187.9 L773.9,186.7 L771.7,184.3 L770.9,186.1 L768.5,188.5 L767.3,190.7 L765.6,192.9 L763.9,194.7 L766.5,197.2 L767.2,200.0 L768.6,201.6 L771.8,204.5 L772.6,206.9 L774.4,208.5 L775.9,212.3 L776.8,214.9 L779.5,217.3 L779.1,219.2 L778.4,222.8 L777.8,225.3 L777.1,228.9 L776.0,231.2 L774.4,233.1 L775.0,237.6 L773.5,239.4 L773.5,241.9 L772.6,245.0 L770.1,246.9 L768.2,249.5 L771.1,250.5 L774.2,250.9 L777.8,252.0 L780.9,249.9 L783.1,250.1 L785.2,247.9 L788.8,246.8 L790.2,246.0 L793.4,245.0 L796.6,242.8 L798.6,241.9 L802.4,240.7 L805.2,238.7 L807.3,238.0 L809.9,236.6 L813.9,234.6 L816.0,233.0 L817.6,230.1 L820.4,228.0 L823.1,227.2 L824.7,224.3 L826.4,221.8 L830.0,220.5 L831.7,218.2 L835.0,220.8 L833.9,222.6 L830.9,224.5 L830.5,226.6 L827.9,229.0 L826.5,231.2 L824.6,234.4 L823.0,238.0 L826.0,239.1 L826.4,242.4 L830.3,244.2 L831.7,245.0 L834.1,246.7 L837.6,246.0 L839.8,248.0 L842.1,248.1 L844.3,248.8 L844.3,251.6 L844.6,254.3 L845.5,258.3 L843.8,259.9 L841.7,262.3 L839.2,261.4 L836.3,262.7 L832.4,262.3 L830.1,263.9 L826.9,264.1 L822.9,264.8 L819.1,266.1 L816.7,266.0 L814.9,267.2 L811.6,268.8 L809.0,268.7 L806.6,269.7 L803.3,272.1 L801.2,272.7 L798.4,273.3 L795.4,272.1 L793.0,273.3 L789.5,273.3 L787.4,272.7 L785.8,274.5 L783.1,274.2 L780.3,277.1 L777.6,277.6 L773.7,278.1 L771.7,279.5 L768.5,279.8 L766.0,279.8 L764.0,279.1 L759.8,279.6 L757.9,280.5 L754.5,280.8 L753.5,283.5 L749.1,284.0 L746.9,284.7 L744.4,286.5 L742.0,287.4 L739.2,287.9 L735.5,288.6 L732.5,289.8 L730.3,290.4 L728.3,292.1 L725.4,294.3 L721.6,292.4 L719.2,291.9 L716.5,290.4 L714.1,291.1 L711.2,292.6 L707.5,293.1 L704.7,294.3 L702.0,294.7 L699.1,294.7 L696.5,293.8 L693.9,294.3 L692.9,289.4 L690.0,288.3 L687.0,286.4 L683.6,285.0 L681.9,284.7 L680.4,282.5 L677.0,281.5 L675.0,282.4 L671.0,282.1 L667.9,283.1 L666.3,283.6 L663.8,283.5 L660.4,283.5 L661.5,280.3 L660.9,277.1 L662.3,273.6 L660.6,269.9 L661.4,266.8 L659.3,263.9 L659.4,261.8 L658.6,258.9 L655.3,258.0 L654.0,255.8 L653.5,253.6 L651.6,250.7 L653.1,248.2 L653.3,244.5 L653.9,242.9 L654.3,239.5 L655.0,238.5 L654.2,234.7 L655.8,233.1 L656.2,229.8 L656.6,226.6 L657.4,224.8 L659.3,221.8 L659.4,219.2 L660.3,216.6 L660.6,214.2 L663.3,211.4 L663.2,209.0 L665.6,206.0 L667.3,204.9 L669.1,202.1 L670.6,200.0 L672.5,197.4 L673.8,194.0 L672.7,192.6 L674.8,189.5 L674.4,187.2 L674.4,183.6 L674.9,181.6 L676.0,178.8 L676.8,175.5 L678.7,174.2 L679.0,170.9 L680.4,168.5 L681.7,165.0 L682.2,161.9 L681.8,158.7 L682.6,156.8 L682.4,154.1 L683.0,152.3 L683.0,150.0 L684.0,146.4 L686.8,145.7 L689.5,145.2 L693.0,143.7 L695.2,143.1 L698.0,141.7 L701.5,140.1 L704.0,139.9 L706.3,137.0 L708.6,136.6 L711.9,134.8 L714.1,133.9 L716.2,130.6 L716.7,128.7 L718.6,127.8 L721.0,125.5 L723.7,124.5 L724.4,122.7 L726.5,120.1 L729.3,117.7 L729.9,117.4 L732.7,115.0 L735.8,115.3 Z" fill="none" stroke="#ffffff" stroke-opacity="0.85" stroke-width="1.05" stroke-linejoin="round"/><path d="M693.9,294.3 L696.1,293.5 L699.1,293.6 L701.1,294.1 L704.7,294.3 L708.5,293.9 L711.1,291.8 L713.6,290.9 L716.5,290.4 L718.8,290.9 L721.9,293.9 L725.4,294.3 L728.5,293.0 L730.3,290.4 L733.8,289.0 L735.8,289.2 L739.5,288.9 L742.0,287.4 L745.4,285.4 L747.5,285.4 L750.0,283.3 L752.5,282.0 L756.1,282.4 L757.9,280.5 L760.8,279.9 L764.2,280.2 L766.9,280.6 L769.0,279.5 L771.7,279.5 L774.8,278.4 L777.6,277.6 L779.4,276.0 L783.1,274.2 L784.0,274.2 L787.4,272.7 L789.7,272.8 L792.9,272.4 L796.7,272.1 L798.3,272.1 L801.2,272.7 L804.1,270.9 L806.1,270.5 L809.0,268.7 L811.4,268.0 L815.4,266.3 L816.5,265.8 L820.7,265.8 L822.9,264.8 L825.5,263.6 L828.6,263.1 L832.4,262.3 L834.6,262.7 L839.4,263.2 L841.7,262.3 L839.5,264.3 L842.4,268.2 L844.3,270.3 L846.2,271.1 L851.0,273.2 L852.7,274.7 L856.0,275.7 L858.6,276.2 L860.8,276.6 L863.7,277.5 L866.2,280.1 L868.7,279.2 L870.7,280.5 L874.2,282.2 L876.5,278.9 L877.7,276.2 L880.1,274.7 L884.4,274.6 L885.7,273.2 L888.3,272.7 L892.0,272.6 L895.2,271.4 L896.8,271.7 L900.1,272.2 L902.8,270.8 L906.4,270.3 L909.6,269.9 L912.6,269.7 L913.7,269.3 L916.0,269.1 L919.5,269.0 L919.0,272.4 L920.2,274.3 L918.6,276.4 L919.0,279.0 L919.5,282.2 L920.5,285.3 L921.8,286.1 L924.9,289.5 L925.5,291.7 L928.9,293.0 L931.1,295.0 L933.2,296.7 L935.0,297.7 L937.9,298.1 L940.2,300.8 L944.4,302.1 L946.2,302.8 L949.4,303.7 L952.9,303.7 L955.7,303.3 L958.3,303.4 L960.4,303.6 L963.7,302.5 L967.8,300.5 L971.0,301.1 L973.2,299.0 L977.1,298.6 L980.4,300.0 L984.2,300.5 L987.3,302.8 L988.4,303.0 L992.3,304.9 L995.4,306.0 L998.5,307.6 L1000.3,306.7 L1004.6,307.7 L1006.6,309.6 L1010.4,309.7 L1013.2,312.0 L1016.4,312.4 L1018.6,313.2 L1021.8,313.8 L1023.7,315.3 L1026.6,317.3 L1028.1,318.1 L1029.7,318.3 L1033.0,320.4 L1035.5,322.3 L1038.4,324.5 L1039.4,325.9 L1043.0,328.1 L1044.8,330.0 L1045.9,332.4 L1049.6,332.7 L1051.0,335.0 L1053.0,337.0 L1051.8,338.6 L1048.8,341.0 L1048.5,342.2 L1045.0,345.2 L1044.7,347.0 L1042.0,349.7 L1040.8,350.1 L1039.2,352.4 L1036.2,355.7 L1034.7,357.6 L1033.0,359.0 L1030.8,361.9 L1029.3,362.6 L1028.4,365.1 L1027.0,368.4 L1025.8,368.7 L1023.5,371.9 L1022.4,374.4 L1020.9,375.3 L1018.9,379.0 L1017.6,381.0 L1017.3,382.8 L1015.2,384.9 L1012.9,387.7 L1011.8,389.0 L1010.1,392.0 L1008.1,394.2 L1007.4,395.9 L1005.0,397.1 L1004.0,399.8 L1002.1,401.6 L999.3,403.8 L999.0,406.1 L997.6,408.7 L995.2,410.8 L993.7,412.5 L991.5,416.4 L989.4,418.1 L988.4,420.0 L985.2,421.7 L982.6,424.2 L979.3,424.8 L978.7,428.0 L976.0,429.5 L973.9,429.7 L970.8,431.9 L968.4,434.4 L966.4,436.0 L962.7,436.9 L961.4,438.6 L958.7,439.7 L956.8,442.1 L954.0,444.0 L952.0,445.1 L950.8,447.1 L947.5,447.8 L945.4,450.4 L944.5,452.7 L941.2,453.4 L939.9,454.9 L936.9,456.1 L934.9,458.8 L932.2,460.6 L931.1,462.5 L928.4,464.9 L926.9,465.1 L923.7,468.5 L923.4,470.1 L920.6,470.7 L917.5,472.3 L915.7,475.4 L915.0,476.8 L911.4,477.5 L909.6,480.7 L907.3,482.1 L906.2,483.3 L903.8,485.0 L902.0,485.1 L898.4,485.5 L894.9,485.9 L893.0,487.4 L890.6,484.7 L888.1,484.5 L887.0,481.5 L883.4,481.4 L881.1,480.3 L877.6,479.0 L875.0,480.4 L872.6,480.4 L869.1,480.9 L866.5,481.1 L863.2,481.5 L860.8,479.3 L859.1,478.5 L855.2,476.3 L853.7,475.5 L853.2,472.6 L851.1,471.1 L850.8,468.0 L848.9,466.0 L847.0,463.4 L844.6,462.0 L842.8,459.7 L841.4,455.7 L841.1,454.6 L838.2,451.7 L837.0,449.2 L834.6,448.3 L831.6,447.1 L830.8,445.5 L828.3,444.6 L824.8,443.1 L823.4,441.2 L820.3,439.7 L817.4,438.3 L816.9,436.1 L814.2,435.7 L812.0,432.4 L810.0,431.3 L808.3,430.5 L805.1,429.4 L803.6,426.7 L801.2,425.4 L799.5,425.1 L797.2,424.0 L794.4,422.6 L791.9,421.2 L790.2,419.8 L786.0,419.4 L784.5,418.0 L782.3,416.4 L779.7,415.8 L776.4,414.0 L774.9,414.8 L772.0,412.3 L769.9,412.9 L766.3,410.3 L764.3,410.6 L761.1,408.5 L758.2,408.6 L756.4,406.1 L753.5,404.8 L751.0,404.7 L749.4,403.0 L746.2,400.6 L744.5,398.3 L742.0,397.7 L740.3,396.3 L739.4,393.7 L736.9,391.0 L736.3,388.7 L734.2,385.9 L732.9,382.5 L730.9,381.1 L731.5,377.1 L730.0,374.6 L728.3,372.0 L727.6,369.8 L726.0,366.4 L724.9,363.2 L724.4,360.3 L721.5,358.1 L720.0,357.7 L717.7,355.6 L716.5,353.4 L712.4,354.7 L709.3,353.3 L706.7,354.4 L705.1,352.8 L705.0,350.2 L703.7,346.2 L702.7,344.5 L701.4,341.5 L701.7,337.9 L699.3,336.3 L698.8,332.7 L696.1,331.0 L694.5,327.6 L692.9,324.8 L690.6,325.9 L686.8,326.2 L685.0,325.8 L686.4,323.8 L689.0,321.0 L689.0,318.5 L690.3,314.4 L691.0,311.6 L692.9,309.0 L692.8,307.0 L693.5,302.8 L694.5,299.5 L693.1,298.2 Z" fill="none" stroke="#ffffff" stroke-opacity="0.85" stroke-width="1.05" stroke-linejoin="round"/><path d="M685.0,325.8 L687.9,326.0 L690.9,326.0 L692.9,324.8 L695.3,328.3 L695.9,330.0 L698.8,332.7 L700.7,335.9 L701.6,337.8 L701.7,341.0 L702.7,344.5 L703.8,347.1 L703.7,348.9 L705.3,352.8 L706.7,354.4 L710.5,353.4 L713.8,353.0 L716.5,353.4 L718.7,354.4 L719.5,357.6 L721.8,358.0 L724.4,360.3 L726.3,364.0 L725.9,367.1 L727.4,369.4 L728.3,372.0 L728.9,375.7 L731.0,378.5 L732.6,379.9 L732.7,382.5 L734.2,385.9 L735.1,387.4 L736.9,390.8 L737.9,393.3 L740.1,395.0 L742.0,397.7 L745.0,399.2 L746.3,400.8 L749.4,401.5 L752.2,403.0 L754.1,406.2 L754.9,407.6 L758.2,408.6 L760.6,409.7 L762.6,409.5 L765.6,412.2 L768.3,412.7 L772.5,414.0 L774.0,413.7 L777.1,415.5 L779.7,415.8 L781.3,417.4 L785.1,418.7 L785.9,419.9 L788.4,419.7 L791.9,422.0 L793.7,423.0 L796.5,422.9 L798.4,423.7 L801.2,425.4 L802.5,426.3 L805.8,429.6 L806.9,429.3 L810.7,431.8 L811.6,432.8 L814.1,435.6 L816.0,436.4 L817.3,438.9 L820.3,439.7 L821.8,441.0 L825.7,441.7 L827.9,444.7 L830.1,445.7 L831.4,446.4 L833.9,448.5 L837.0,449.2 L838.3,451.5 L841.4,454.7 L843.1,456.3 L843.8,459.3 L845.5,460.8 L847.0,462.9 L848.9,466.0 L849.9,469.4 L852.2,471.0 L852.5,472.8 L853.7,475.5 L855.3,476.5 L859.0,479.2 L860.5,480.6 L863.2,481.5 L866.6,481.4 L869.3,481.0 L871.6,480.4 L874.3,479.5 L877.6,479.0 L881.3,480.2 L883.5,481.6 L887.0,481.5 L889.3,483.6 L890.0,485.5 L893.0,487.4 L889.9,488.7 L887.8,489.9 L885.6,490.7 L882.5,491.3 L880.7,492.6 L877.4,493.5 L875.9,494.1 L873.5,495.6 L870.1,495.6 L866.8,497.2 L865.8,497.4 L862.8,498.8 L860.3,498.6 L857.8,500.3 L855.0,500.9 L852.4,502.5 L849.9,503.3 L846.1,503.1 L844.4,505.0 L841.4,506.0 L839.4,506.5 L837.1,506.5 L834.3,507.7 L831.0,508.4 L829.0,509.4 L826.2,510.0 L824.2,511.5 L822.0,512.8 L818.7,514.3 L815.8,514.2 L813.8,515.1 L811.0,516.8 L809.0,516.1 L806.9,517.1 L804.3,518.5 L801.8,520.6 L799.8,520.4 L797.3,521.7 L793.9,521.6 L791.6,523.2 L789.3,524.2 L787.5,525.9 L784.3,525.6 L782.3,525.7 L778.3,527.8 L776.8,527.8 L774.3,530.2 L771.3,530.1 L768.5,530.7 L767.4,531.8 L764.9,533.8 L761.7,533.3 L759.9,534.7 L756.3,535.2 L754.9,536.4 L751.0,537.3 L748.2,538.5 L746.3,538.7 L743.9,540.0 L741.6,541.1 L737.2,541.0 L734.9,542.3 L732.5,541.9 L730.3,542.7 L726.9,544.6 L724.6,545.8 L724.2,547.9 L721.5,550.1 L719.8,552.2 L718.1,553.1 L716.3,555.3 L714.0,557.3 L711.6,559.5 L710.2,561.3 L708.4,563.1 L707.2,565.7 L704.1,567.1 L703.2,570.5 L702.3,571.8 L698.8,574.4 L697.9,576.1 L696.3,578.0 L694.7,580.3 L692.3,582.8 L690.1,583.8 L689.1,585.4 L686.0,588.7 L683.5,590.7 L682.4,592.0 L682.8,594.6 L682.0,598.1 L682.4,600.3 L685.3,601.6 L686.6,604.4 L685.9,608.0 L685.2,611.4 L682.4,612.5 L679.6,614.2 L678.0,611.6 L678.4,607.7 L676.8,605.8 L674.0,605.1 L672.8,603.4 L669.9,601.7 L666.6,600.7 L666.2,599.9 L662.9,597.5 L661.9,599.4 L660.8,602.5 L659.1,606.7 L657.4,608.6 L657.5,610.6 L656.3,615.0 L655.6,617.1 L656.0,619.7 L653.2,619.0 L650.9,618.8 L647.2,619.5 L644.5,618.8 L642.8,620.2 L640.8,619.0 L637.2,619.3 L634.9,619.7 L632.9,619.4 L628.4,620.1 L626.0,620.0 L624.0,619.7 L621.2,621.2 L618.5,621.4 L615.2,622.0 L612.4,623.1 L610.1,622.6 L607.3,624.0 L604.0,622.6 L602.2,621.0 L599.4,620.8 L595.3,619.7 L592.6,617.4 L590.6,617.0 L589.4,614.1 L588.6,612.2 L586.1,610.4 L584.1,607.9 L582.8,604.4 L583.2,603.0 L580.9,600.3 L579.3,596.7 L579.7,595.0 L578.4,591.1 L576.7,589.0 L579.3,586.9 L580.8,585.0 L583.9,583.2 L585.7,580.9 L588.9,580.1 L590.6,578.0 L593.4,575.9 L595.7,574.0 L597.3,572.1 L599.8,569.8 L600.7,567.1 L603.1,565.1 L605.9,564.0 L608.3,561.7 L609.7,558.4 L610.7,557.9 L612.6,554.7 L613.9,551.7 L615.6,550.2 L615.7,546.7 L617.0,544.4 L618.9,541.2 L618.5,538.6 L619.8,536.3 L620.5,533.1 L622.1,530.7 L623.1,528.8 L625.1,526.1 L626.8,522.4 L626.7,519.9 L625.8,517.7 L625.4,514.0 L625.5,511.6 L626.7,508.8 L628.0,505.7 L631.0,503.4 L632.5,501.4 L635.1,499.9 L638.0,500.0 L640.7,497.4 L642.5,495.3 L644.8,493.5 L647.4,492.6 L649.0,490.4 L646.5,487.5 L645.6,486.6 L643.4,483.4 L640.2,481.9 L636.5,480.7 L638.8,476.9 L638.4,475.7 L640.4,471.4 L642.0,469.5 L641.8,467.7 L641.4,463.7 L640.2,460.3 L640.7,458.4 L640.1,456.1 L638.8,452.9 L636.0,450.6 L634.9,448.3 L633.2,446.6 L632.3,444.5 L632.6,440.8 L632.8,439.9 L633.8,436.2 L634.9,433.4 L635.0,430.2 L636.5,427.8 L637.3,425.6 L640.6,423.4 L642.1,420.3 L642.0,418.6 L644.6,416.4 L646.2,413.9 L645.7,411.0 L645.6,407.6 L645.1,406.0 L643.3,402.5 L643.3,399.6 L641.7,397.7 L642.9,394.9 L644.8,393.3 L648.2,390.0 L649.5,387.9 L649.4,383.8 L650.3,380.5 L651.5,378.0 L649.9,375.7 L648.0,372.2 L647.5,369.7 L645.6,368.2 L646.3,365.1 L647.9,362.1 L649.5,360.3 L651.7,358.0 L654.8,356.5 L657.4,354.7 L659.5,352.6 L661.4,350.5 L659.3,348.1 L657.4,344.5 L658.4,342.1 L659.2,338.4 L659.4,334.7 L661.6,334.0 L664.4,331.4 L667.3,330.8 L669.0,329.5 L672.0,329.8 L675.0,328.8 L677.1,327.2 L680.5,327.4 L681.6,325.7 Z" fill="none" stroke="#ffffff" stroke-opacity="0.85" stroke-width="1.05" stroke-linejoin="round"/><path d="M810.0,126.0 L813.7,127.9 L814.6,127.2 L818.9,129.6 L821.3,129.7 L824.0,131.4 L826.5,132.2 L829.2,132.0 L831.5,132.9 L834.7,134.5 L837.7,134.0 L839.3,133.9 L842.0,134.8 L843.6,132.9 L846.9,132.4 L849.3,132.6 L852.1,130.9 L854.0,128.8 L856.7,128.1 L859.5,127.8 L861.7,131.2 L864.2,132.0 L866.8,135.6 L868.2,137.4 L870.4,140.5 L872.2,142.6 L873.1,145.3 L876.1,146.0 L877.4,149.4 L878.6,151.3 L880.3,153.7 L882.0,156.8 L883.8,158.9 L885.2,161.3 L888.1,162.8 L889.0,165.2 L891.1,167.8 L893.4,168.6 L894.4,170.0 L897.4,171.4 L899.8,173.4 L901.8,175.2 L903.0,177.3 L907.3,177.7 L909.9,177.3 L913.3,177.3 L916.2,179.2 L918.2,180.2 L921.2,183.4 L923.8,184.3 L926.8,184.8 L930.0,187.5 L933.0,187.8 L935.4,188.9 L937.7,191.2 L940.5,189.5 L942.1,189.5 L944.4,187.6 L948.3,185.8 L949.5,185.9 L952.6,183.9 L955.0,184.1 L956.9,183.1 L959.7,183.5 L963.0,182.9 L964.9,183.6 L967.6,183.0 L970.4,181.9 L974.8,181.5 L976.3,182.4 L979.7,181.8 L981.5,183.0 L983.8,186.0 L986.9,187.4 L987.1,189.8 L990.3,192.7 L991.4,194.0 L994.3,196.4 L997.0,197.3 L1001.6,198.5 L1002.0,196.4 L1002.1,193.8 L1001.9,191.1 L1001.0,187.5 L1001.2,185.1 L1000.0,182.7 L1001.4,179.5 L1000.5,177.6 L1003.8,177.1 L1006.8,176.4 L1010.8,176.4 L1013.0,176.6 L1015.3,178.0 L1017.2,179.7 L1018.8,179.6 L1021.7,178.3 L1024.1,178.3 L1027.6,178.7 L1029.6,180.7 L1033.2,183.1 L1036.0,183.9 L1039.8,185.3 L1041.3,184.6 L1044.3,185.3 L1047.9,186.2 L1050.6,186.0 L1053.1,188.3 L1054.6,191.6 L1056.8,194.3 L1058.4,193.6 L1061.9,194.1 L1065.1,194.6 L1067.3,195.4 L1069.1,195.5 L1072.0,196.4 L1075.1,197.7 L1077.7,198.5 L1080.1,199.8 L1082.7,201.4 L1086.0,201.6 L1089.3,203.4 L1090.6,204.2 L1093.2,204.6 L1095.4,206.8 L1099.6,209.0 L1098.2,212.0 L1096.6,214.0 L1096.0,217.7 L1097.3,220.1 L1097.4,223.9 L1098.2,225.2 L1099.6,228.1 L1098.4,231.3 L1099.2,233.2 L1101.3,236.6 L1100.4,238.8 L1102.0,241.6 L1102.4,244.6 L1102.7,247.8 L1103.0,250.2 L1104.5,253.6 L1101.1,255.6 L1097.3,256.4 L1095.0,257.0 L1092.0,256.0 L1090.0,254.6 L1088.4,253.3 L1084.7,251.6 L1082.2,251.9 L1080.7,250.0 L1080.2,253.5 L1079.5,254.3 L1078.6,258.4 L1077.9,260.5 L1076.4,263.0 L1076.5,265.3 L1075.2,268.3 L1075.2,271.6 L1074.4,274.3 L1072.3,275.7 L1071.9,278.4 L1071.0,281.9 L1071.1,284.3 L1070.1,286.0 L1068.7,289.4 L1067.5,293.0 L1066.2,294.4 L1065.2,296.4 L1066.0,300.8 L1064.6,301.7 L1063.0,304.5 L1062.9,308.0 L1061.5,310.2 L1060.0,312.9 L1060.8,315.9 L1059.0,318.0 L1057.3,320.7 L1057.7,322.9 L1057.2,326.1 L1056.0,328.7 L1055.7,332.1 L1054.0,333.6 L1053.0,337.0 L1050.8,334.3 L1049.1,334.3 L1046.2,331.8 L1044.8,330.0 L1042.4,327.9 L1040.5,327.0 L1038.1,324.2 L1036.3,322.0 L1033.0,320.4 L1031.1,319.5 L1028.7,318.7 L1025.2,317.0 L1023.2,315.9 L1022.0,314.7 L1018.6,313.2 L1014.6,312.2 L1013.0,312.2 L1009.9,311.1 L1006.6,309.6 L1002.8,309.5 L1001.3,307.9 L998.8,307.5 L994.4,306.5 L992.3,304.9 L989.9,303.1 L986.8,302.6 L982.8,301.8 L980.4,300.0 L976.1,299.7 L973.2,299.0 L969.9,299.7 L967.0,301.3 L963.7,302.5 L960.2,303.7 L957.1,302.0 L955.1,303.9 L952.6,304.0 L949.4,303.7 L946.5,302.8 L943.3,300.8 L940.8,299.2 L937.0,299.4 L935.0,297.7 L932.0,296.7 L930.8,294.5 L928.2,293.8 L925.5,291.7 L924.7,288.6 L921.8,286.7 L920.9,284.2 L919.5,282.2 L918.5,279.7 L920.4,276.7 L919.6,274.0 L919.4,272.4 L919.5,269.0 L916.5,269.6 L914.2,269.6 L912.5,268.9 L909.7,269.6 L906.4,270.3 L903.8,271.4 L900.9,271.0 L898.4,270.9 L895.1,271.9 L892.0,272.6 L889.2,274.0 L886.9,274.3 L883.0,274.2 L880.5,274.9 L877.7,276.2 L875.5,280.1 L874.2,282.2 L870.8,281.8 L868.8,279.9 L866.0,278.4 L863.7,277.5 L861.1,276.8 L858.6,276.2 L856.5,275.9 L852.8,274.1 L850.9,272.3 L846.4,271.0 L844.3,270.3 L841.3,267.7 L839.5,264.3 L841.2,262.0 L844.1,259.8 L845.5,258.3 L845.7,255.4 L844.5,252.6 L844.3,248.8 L841.5,248.8 L840.1,247.3 L837.1,247.4 L834.7,246.3 L831.7,245.0 L830.3,244.1 L827.9,242.5 L824.8,240.0 L823.0,238.0 L825.1,234.3 L826.5,231.2 L828.0,228.5 L830.8,226.7 L831.6,225.7 L832.7,223.8 L835.0,220.8 L831.7,218.2 L828.6,219.3 L826.7,222.0 L824.7,224.3 L823.4,227.2 L820.9,228.5 L818.3,230.3 L816.0,233.0 L813.8,234.4 L809.8,236.6 L807.3,238.0 L803.8,239.0 L802.6,240.0 L798.2,241.6 L795.7,243.4 L793.4,245.0 L790.3,245.9 L787.7,246.8 L785.8,248.2 L782.7,250.2 L779.5,250.1 L777.8,252.0 L775.3,251.0 L772.0,249.6 L768.2,249.5 L770.4,247.9 L772.6,245.0 L773.0,242.8 L774.2,239.3 L775.6,236.5 L775.3,234.2 L776.0,231.2 L776.3,229.1 L777.6,225.8 L778.2,223.8 L779.8,220.8 L779.5,217.3 L777.7,214.5 L776.1,211.2 L773.5,210.5 L772.6,206.9 L770.1,205.3 L769.5,202.9 L766.5,199.2 L766.2,196.2 L763.9,194.7 L764.7,192.3 L766.4,189.8 L768.9,187.6 L771.1,186.7 L771.7,184.3 L773.4,186.5 L776.4,187.1 L779.5,188.6 L782.7,188.1 L785.6,188.2 L788.0,190.1 L791.7,189.5 L794.4,187.5 L796.1,186.2 L797.1,183.4 L799.1,180.6 L801.1,178.8 L803.9,177.3 L804.7,174.3 L807.1,172.7 L809.8,170.8 L811.3,167.6 L812.6,165.2 L813.9,161.5 L812.7,159.7 L814.1,155.5 L814.3,153.0 L813.5,150.0 L813.0,147.7 L812.3,145.8 L812.6,142.7 L811.3,139.6 L810.8,137.4 L811.1,135.5 L809.9,132.1 L810.6,129.2 Z" fill="none" stroke="#ffffff" stroke-opacity="0.85" stroke-width="1.05" stroke-linejoin="round"/><path d="M755.6,28.7 L757.9,29.2 L762.2,27.8 L764.7,27.9 L767.8,27.8 L770.7,27.9 L772.2,26.0 L776.3,26.3 L778.2,26.0 L782.5,27.8 L782.6,29.9 L781.7,33.9 L780.1,37.2 L778.2,40.6 L777.3,42.6 L778.0,44.3 L776.1,47.9 L777.8,50.2 L776.3,52.8 L775.8,55.0 L776.5,58.2 L776.5,60.8 L778.7,59.7 L781.5,59.7 L784.4,58.3 L788.3,58.8 L790.4,58.2 L793.0,59.6 L796.0,63.0 L797.3,64.3 L799.3,64.7 L803.3,66.1 L806.5,66.2 L809.1,67.4 L811.2,67.8 L813.7,67.5 L817.8,67.6 L819.9,66.7 L821.9,65.6 L826.3,65.5 L828.6,65.2 L830.2,67.0 L833.6,69.0 L835.5,70.4 L837.0,73.1 L839.0,76.7 L840.7,79.0 L843.4,79.1 L845.9,78.7 L847.6,80.3 L852.1,80.4 L853.6,79.8 L856.4,80.8 L859.0,82.6 L862.1,82.6 L864.9,82.9 L866.8,84.3 L869.4,84.8 L872.2,83.4 L874.2,83.1 L878.2,81.6 L880.5,82.8 L882.5,81.7 L886.1,81.6 L888.8,80.6 L891.0,80.0 L894.3,80.4 L896.4,81.9 L900.4,81.7 L903.2,82.4 L905.7,84.3 L908.0,85.3 L910.9,86.9 L913.6,86.4 L916.3,85.3 L917.8,84.0 L921.3,83.8 L923.4,84.2 L927.4,84.8 L930.0,85.0 L931.6,85.3 L934.8,84.8 L935.2,81.3 L934.0,78.5 L935.6,76.2 L934.4,74.3 L935.0,70.5 L934.7,68.7 L935.5,66.0 L937.5,64.8 L941.3,64.4 L943.2,63.7 L946.3,63.0 L947.9,60.7 L951.5,58.8 L953.7,59.5 L955.5,62.2 L958.6,62.1 L961.0,64.0 L964.3,65.1 L966.2,64.0 L969.6,65.9 L973.4,66.0 L974.8,68.3 L978.0,69.8 L979.1,72.5 L981.8,73.4 L985.0,74.7 L986.4,76.3 L989.4,77.5 L992.2,78.6 L993.4,81.2 L994.4,82.9 L997.8,86.4 L998.4,88.0 L1000.1,91.0 L1002.2,93.4 L1005.2,94.7 L1006.3,96.1 L1008.9,99.4 L1011.7,100.4 L1013.7,104.1 L1015.3,104.4 L1018.0,107.9 L1019.3,108.8 L1022.2,109.9 L1024.1,110.6 L1026.2,112.3 L1029.2,112.3 L1031.8,114.0 L1033.7,114.8 L1036.8,114.9 L1039.5,116.1 L1043.3,114.9 L1044.6,115.9 L1048.9,117.3 L1050.6,117.2 L1052.8,118.3 L1055.9,121.2 L1058.9,121.9 L1061.3,124.2 L1063.0,125.5 L1065.4,127.5 L1067.4,128.1 L1069.5,128.0 L1073.6,129.1 L1075.8,131.0 L1077.7,131.8 L1081.5,132.3 L1083.6,132.9 L1087.8,134.3 L1090.2,134.9 L1094.4,137.0 L1090.2,140.0 L1088.0,141.3 L1083.2,141.2 L1080.0,140.7 L1077.7,142.2 L1074.3,142.1 L1073.3,141.2 L1069.9,139.9 L1068.3,138.6 L1065.2,138.0 L1062.6,136.9 L1058.8,136.5 L1057.6,136.6 L1054.9,135.8 L1050.8,136.0 L1048.5,134.9 L1049.2,136.8 L1048.8,139.8 L1047.7,144.3 L1048.5,146.4 L1050.2,145.4 L1054.7,145.2 L1055.6,144.2 L1059.0,144.3 L1060.5,147.6 L1062.3,150.7 L1065.2,152.6 L1065.8,156.0 L1067.7,157.1 L1067.2,160.0 L1067.8,162.8 L1069.4,165.0 L1070.1,166.1 L1073.7,168.8 L1074.6,171.3 L1075.7,172.6 L1077.7,175.6 L1080.2,178.6 L1082.1,179.0 L1082.3,182.0 L1085.5,184.0 L1086.7,186.3 L1088.0,188.0 L1090.2,189.7 L1092.9,190.6 L1095.1,192.3 L1098.6,194.3 L1101.1,197.3 L1101.7,200.6 L1101.3,203.7 L1101.2,206.0 L1099.6,209.0 L1095.4,206.8 L1092.7,205.2 L1090.3,204.9 L1089.1,202.5 L1086.0,201.6 L1082.9,200.7 L1080.6,199.7 L1077.7,198.5 L1074.6,196.8 L1072.0,196.1 L1070.0,195.3 L1067.3,195.4 L1063.8,195.4 L1061.6,195.4 L1059.4,195.3 L1056.8,194.3 L1054.0,191.5 L1053.3,187.9 L1050.6,186.0 L1048.6,184.9 L1045.3,186.1 L1042.5,184.4 L1038.1,184.3 L1036.0,183.9 L1034.0,181.8 L1031.2,179.7 L1027.6,178.7 L1025.8,178.0 L1022.0,180.0 L1020.4,180.3 L1017.2,179.7 L1015.8,178.6 L1013.0,176.6 L1010.3,176.2 L1006.6,176.4 L1004.1,177.7 L1000.5,177.6 L1000.1,179.3 L1001.7,183.4 L1001.0,185.5 L1001.8,188.0 L1001.0,190.3 L1000.8,192.3 L1001.8,195.7 L1001.6,198.5 L998.1,196.6 L994.3,196.4 L991.9,193.6 L989.4,191.8 L988.7,190.0 L985.7,188.3 L983.8,186.0 L981.2,182.9 L979.7,181.8 L977.0,182.0 L974.4,182.0 L971.7,182.8 L968.0,182.5 L965.7,182.2 L963.0,182.9 L960.2,183.3 L958.6,184.2 L954.8,183.9 L952.6,183.9 L949.2,184.5 L947.6,187.6 L944.4,188.8 L943.3,189.4 L940.0,191.2 L937.9,190.9 L934.7,189.5 L933.0,188.3 L930.7,187.8 L927.5,186.0 L925.7,184.7 L921.3,182.7 L919.2,181.8 L915.9,180.2 L914.2,177.4 L910.9,176.6 L908.5,176.7 L905.0,176.0 L902.5,175.6 L899.5,174.2 L896.8,172.8 L896.0,170.2 L893.0,168.0 L890.8,166.6 L890.4,162.8 L888.3,161.9 L886.0,159.0 L884.6,157.3 L882.4,155.7 L881.7,152.5 L879.6,150.5 L877.2,148.6 L874.8,145.8 L873.0,144.5 L873.0,140.5 L870.5,138.7 L868.6,136.4 L866.1,134.0 L864.6,133.0 L862.4,129.9 L861.6,128.6 L858.9,128.3 L856.7,130.1 L854.5,130.0 L851.2,131.2 L847.7,132.2 L844.6,133.1 L841.6,134.2 L839.0,134.7 L836.7,134.7 L834.1,133.6 L830.3,133.7 L827.9,132.5 L824.3,131.4 L821.6,131.2 L818.2,130.7 L815.6,129.5 L813.9,128.9 L811.2,126.9 L809.1,130.0 L806.0,131.2 L803.1,133.2 L801.8,134.7 L799.5,136.8 L797.3,139.0 L793.9,136.7 L790.4,136.4 L789.8,132.8 L789.5,129.5 L787.9,127.0 L787.7,125.2 L786.0,122.5 L783.4,123.4 L780.6,123.1 L778.2,124.3 L774.6,125.6 L773.2,128.5 L771.1,129.5 L767.8,131.2 L766.1,130.8 L763.2,130.5 L760.4,131.3 L756.9,129.4 L754.9,129.8 L752.0,129.5 L749.1,127.6 L746.6,127.6 L744.1,127.6 L741.7,126.0 L741.6,123.6 L741.9,120.7 L740.8,117.3 L738.2,116.0 L735.9,114.1 L733.0,112.0 L730.7,110.5 L728.1,109.7 L726.1,108.7 L722.6,106.9 L721.3,105.7 L719.3,103.7 L716.4,101.3 L714.8,100.0 L717.2,98.1 L719.0,94.0 L720.9,92.0 L724.2,90.5 L726.0,88.1 L728.7,88.0 L731.3,86.0 L731.8,82.9 L733.0,79.4 L733.4,78.5 L734.5,74.6 L734.8,72.0 L735.9,69.3 L735.6,65.7 L737.7,62.9 L736.7,61.2 L738.3,57.4 L739.0,54.8 L741.0,52.8 L742.2,50.2 L745.2,48.1 L746.3,45.3 L748.7,42.6 L750.5,40.8 L752.8,39.3 L756.6,36.4 L758.2,34.8 L756.3,32.7 Z" fill="none" stroke="#ffffff" stroke-opacity="0.85" stroke-width="1.05" stroke-linejoin="round"/></g>
<g id="labels"><path d="M399.7,119.5 L401.5,120.4 Q406.0,118.8 410.5,120.4 L412.3,119.5 Q413.2,124.5 411.6,127.8 Q409.5,130.8 406.0,131.9 Q402.5,130.8 400.4,127.8 Q398.8,124.5 399.7,119.5 Z" fill="#8e8e8e" stroke="#ffffff" stroke-opacity="0.55" stroke-width="0.8"/>
<path d="M400.4,121.1 Q406.0,119.6 411.6,121.1 L411.9,122.9 L400.1,122.9 Z" fill="#a6a6a6"/>
<text x="406.0" y="128.1" font-size="5.6" font-weight="bold" fill="#e6e6e6" text-anchor="middle" textLength="8.6" lengthAdjust="spacingAndGlyphs">E15</text>
<path d="M526.2,102.2 L528.0,103.1 Q532.5,101.5 537.0,103.1 L538.8,102.2 Q539.7,107.2 538.1,110.5 Q536.0,113.5 532.5,114.6 Q529.0,113.5 526.9,110.5 Q525.3,107.2 526.2,102.2 Z" fill="#8e8e8e" stroke="#ffffff" stroke-opacity="0.55" stroke-width="0.8"/>
<path d="M526.9,103.8 Q532.5,102.3 538.1,103.8 L538.4,105.6 L526.6,105.6 Z" fill="#a6a6a6"/>
<text x="532.5" y="110.8" font-size="5.6" font-weight="bold" fill="#e6e6e6" text-anchor="middle" textLength="8.6" lengthAdjust="spacingAndGlyphs">E25</text>
<path d="M605.7,102.6 L607.5,103.5 Q612.0,101.9 616.5,103.5 L618.3,102.6 Q619.2,107.6 617.6,110.9 Q615.5,113.9 612.0,115.0 Q608.5,113.9 606.4,110.9 Q604.8,107.6 605.7,102.6 Z" fill="#8e8e8e" stroke="#ffffff" stroke-opacity="0.55" stroke-width="0.8"/>
<path d="M606.4,104.2 Q612.0,102.7 617.6,104.2 L617.9,106.0 L606.1,106.0 Z" fill="#a6a6a6"/>
<text x="612.0" y="111.2" font-size="5.6" font-weight="bold" fill="#e6e6e6" text-anchor="middle" textLength="8.6" lengthAdjust="spacingAndGlyphs">E20</text>
<path d="M520.9,127.0 L522.7,127.9 Q527.2,126.3 531.7,127.9 L533.5,127.0 Q534.4,132.0 532.8,135.3 Q530.7,138.3 527.2,139.4 Q523.7,138.3 521.6,135.3 Q520.0,132.0 520.9,127.0 Z" fill="#8e8e8e" stroke="#ffffff" stroke-opacity="0.55" stroke-width="0.8"/>
<path d="M521.6,128.6 Q527.2,127.1 532.8,128.6 L533.1,130.4 L521.3,130.4 Z" fill="#a6a6a6"/>
<text x="527.2" y="135.6" font-size="5.6" font-weight="bold" fill="#e6e6e6" text-anchor="middle" textLength="8.6" lengthAdjust="spacingAndGlyphs">E25</text>
<path d="M688.0,31.5 L689.8,32.4 Q694.3,30.8 698.8,32.4 L700.6,31.5 Q701.5,36.5 699.9,39.8 Q697.8,42.8 694.3,43.9 Q690.8,42.8 688.7,39.8 Q687.1,36.5 688.0,31.5 Z" fill="#8e8e8e" stroke="#ffffff" stroke-opacity="0.55" stroke-width="0.8"/>
<path d="M688.7,33.1 Q694.3,31.6 699.9,33.1 L700.2,34.9 L688.4,34.9 Z" fill="#a6a6a6"/>
<text x="694.3" y="40.1" font-size="5.6" font-weight="bold" fill="#e6e6e6" text-anchor="middle" textLength="8.6" lengthAdjust="spacingAndGlyphs">E10</text>
<path d="M727.7,28.0 L729.5,28.9 Q734.0,27.3 738.5,28.9 L740.3,28.0 Q741.2,33.0 739.6,36.3 Q737.5,39.3 734.0,40.4 Q730.5,39.3 728.4,36.3 Q726.8,33.0 727.7,28.0 Z" fill="#8e8e8e" stroke="#ffffff" stroke-opacity="0.55" stroke-width="0.8"/>
<path d="M728.4,29.6 Q734.0,28.1 739.6,29.6 L739.9,31.4 L728.1,31.4 Z" fill="#a6a6a6"/>
<text x="734.0" y="36.6" font-size="5.6" font-weight="bold" fill="#e6e6e6" text-anchor="middle" textLength="8.6" lengthAdjust="spacingAndGlyphs">E35</text>
<path d="M668.3,153.8 L670.1,154.7 Q674.6,153.1 679.1,154.7 L680.9,153.8 Q681.8,158.8 680.2,162.1 Q678.1,165.1 674.6,166.2 Q671.1,165.1 669.0,162.1 Q667.4,158.8 668.3,153.8 Z" fill="#8e8e8e" stroke="#ffffff" stroke-opacity="0.55" stroke-width="0.8"/>
<path d="M669.0,155.4 Q674.6,153.9 680.2,155.4 L680.5,157.2 L668.7,157.2 Z" fill="#a6a6a6"/>
<text x="674.6" y="162.4" font-size="5.6" font-weight="bold" fill="#e6e6e6" text-anchor="middle" textLength="8.6" lengthAdjust="spacingAndGlyphs">E20</text>
<path d="M620.1,206.3 L621.9,207.2 Q626.4,205.6 630.9,207.2 L632.7,206.3 Q633.6,211.3 632.0,214.6 Q629.9,217.6 626.4,218.7 Q622.9,217.6 620.8,214.6 Q619.2,211.3 620.1,206.3 Z" fill="#8e8e8e" stroke="#ffffff" stroke-opacity="0.55" stroke-width="0.8"/>
<path d="M620.8,207.9 Q626.4,206.4 632.0,207.9 L632.3,209.7 L620.5,209.7 Z" fill="#a6a6a6"/>
<text x="626.4" y="214.9" font-size="5.6" font-weight="bold" fill="#e6e6e6" text-anchor="middle" textLength="8.6" lengthAdjust="spacingAndGlyphs">E35</text>
<path d="M732.2,205.5 L734.0,206.4 Q738.5,204.8 743.0,206.4 L744.8,205.5 Q745.7,210.5 744.1,213.8 Q742.0,216.8 738.5,217.9 Q735.0,216.8 732.9,213.8 Q731.3,210.5 732.2,205.5 Z" fill="#8e8e8e" stroke="#ffffff" stroke-opacity="0.55" stroke-width="0.8"/>
<path d="M732.9,207.1 Q738.5,205.6 744.1,207.1 L744.4,208.9 L732.6,208.9 Z" fill="#a6a6a6"/>
<text x="738.5" y="214.1" font-size="5.6" font-weight="bold" fill="#e6e6e6" text-anchor="middle" textLength="8.6" lengthAdjust="spacingAndGlyphs">E45</text>
<path d="M554.7,242.0 L556.5,242.9 Q561.0,241.3 565.5,242.9 L567.3,242.0 Q568.2,247.0 566.6,250.3 Q564.5,253.3 561.0,254.4 Q557.5,253.3 555.4,250.3 Q553.8,247.0 554.7,242.0 Z" fill="#8e8e8e" stroke="#ffffff" stroke-opacity="0.55" stroke-width="0.8"/>
<path d="M555.4,243.6 Q561.0,242.1 566.6,243.6 L566.9,245.4 L555.1,245.4 Z" fill="#a6a6a6"/>
<text x="561.0" y="250.6" font-size="5.6" font-weight="bold" fill="#e6e6e6" text-anchor="middle" textLength="8.6" lengthAdjust="spacingAndGlyphs">E30</text>
<path d="M344.3,332.0 L346.4,332.9 Q351.7,331.3 357.0,332.9 L359.1,332.0 Q360.2,337.0 358.3,340.3 Q355.8,343.3 351.7,344.4 Q347.6,343.3 345.1,340.3 Q343.2,337.0 344.3,332.0 Z" fill="#8e8e8e" stroke="#ffffff" stroke-opacity="0.55" stroke-width="0.8"/>
<path d="M345.1,333.6 Q351.7,332.1 358.3,333.6 L358.7,335.4 L344.7,335.4 Z" fill="#a6a6a6"/>
<text x="351.7" y="340.6" font-size="5.6" font-weight="bold" fill="#e6e6e6" text-anchor="middle" textLength="10.5" lengthAdjust="spacingAndGlyphs">2482</text>
<path d="M421.5,348.0 L423.3,348.9 Q427.8,347.3 432.3,348.9 L434.1,348.0 Q435.0,353.0 433.4,356.3 Q431.3,359.3 427.8,360.4 Q424.3,359.3 422.2,356.3 Q420.6,353.0 421.5,348.0 Z" fill="#8e8e8e" stroke="#ffffff" stroke-opacity="0.55" stroke-width="0.8"/>
<path d="M422.2,349.6 Q427.8,348.1 433.4,349.6 L433.7,351.4 L421.9,351.4 Z" fill="#a6a6a6"/>
<text x="427.8" y="356.6" font-size="5.6" font-weight="bold" fill="#e6e6e6" text-anchor="middle" textLength="8.6" lengthAdjust="spacingAndGlyphs">E48</text>
<path d="M483.0,340.0 L484.8,340.9 Q489.3,339.3 493.8,340.9 L495.6,340.0 Q496.5,345.0 494.9,348.3 Q492.8,351.3 489.3,352.4 Q485.8,351.3 483.7,348.3 Q482.1,345.0 483.0,340.0 Z" fill="#8e8e8e" stroke="#ffffff" stroke-opacity="0.55" stroke-width="0.8"/>
<path d="M483.7,341.6 Q489.3,340.1 494.9,341.6 L495.2,343.4 L483.4,343.4 Z" fill="#a6a6a6"/>
<text x="489.3" y="348.6" font-size="5.6" font-weight="bold" fill="#e6e6e6" text-anchor="middle" textLength="8.6" lengthAdjust="spacingAndGlyphs">E25</text>
<path d="M460.7,409.5 L462.5,410.4 Q467.0,408.8 471.5,410.4 L473.3,409.5 Q474.2,414.5 472.6,417.8 Q470.5,420.8 467.0,421.9 Q463.5,420.8 461.4,417.8 Q459.8,414.5 460.7,409.5 Z" fill="#8e8e8e" stroke="#ffffff" stroke-opacity="0.55" stroke-width="0.8"/>
<path d="M461.4,411.1 Q467.0,409.6 472.6,411.1 L472.9,412.9 L461.1,412.9 Z" fill="#a6a6a6"/>
<text x="467.0" y="418.1" font-size="5.6" font-weight="bold" fill="#e6e6e6" text-anchor="middle" textLength="8.6" lengthAdjust="spacingAndGlyphs">E40</text>
<path d="M566.0,386.3 L567.8,387.2 Q572.3,385.6 576.8,387.2 L578.6,386.3 Q579.5,391.3 577.9,394.6 Q575.8,397.6 572.3,398.7 Q568.8,397.6 566.7,394.6 Q565.1,391.3 566.0,386.3 Z" fill="#8e8e8e" stroke="#ffffff" stroke-opacity="0.55" stroke-width="0.8"/>
<path d="M566.7,387.9 Q572.3,386.4 577.9,387.9 L578.2,389.7 L566.4,389.7 Z" fill="#a6a6a6"/>
<text x="572.3" y="394.9" font-size="5.6" font-weight="bold" fill="#e6e6e6" text-anchor="middle" textLength="8.6" lengthAdjust="spacingAndGlyphs">E40</text>
<path d="M576.9,432.2 L578.7,433.1 Q583.2,431.5 587.7,433.1 L589.5,432.2 Q590.4,437.2 588.8,440.5 Q586.7,443.5 583.2,444.6 Q579.7,443.5 577.6,440.5 Q576.0,437.2 576.9,432.2 Z" fill="#8e8e8e" stroke="#ffffff" stroke-opacity="0.55" stroke-width="0.8"/>
<path d="M577.6,433.8 Q583.2,432.3 588.8,433.8 L589.1,435.6 L577.3,435.6 Z" fill="#a6a6a6"/>
<text x="583.2" y="440.8" font-size="5.6" font-weight="bold" fill="#e6e6e6" text-anchor="middle" textLength="8.6" lengthAdjust="spacingAndGlyphs">E35</text>
<path d="M626.7,483.8 L628.5,484.7 Q633.0,483.1 637.5,484.7 L639.3,483.8 Q640.2,488.8 638.6,492.1 Q636.5,495.1 633.0,496.2 Q629.5,495.1 627.4,492.1 Q625.8,488.8 626.7,483.8 Z" fill="#8e8e8e" stroke="#ffffff" stroke-opacity="0.55" stroke-width="0.8"/>
<path d="M627.4,485.4 Q633.0,483.9 638.6,485.4 L638.9,487.2 L627.1,487.2 Z" fill="#a6a6a6"/>
<text x="633.0" y="492.4" font-size="5.6" font-weight="bold" fill="#e6e6e6" text-anchor="middle" textLength="8.6" lengthAdjust="spacingAndGlyphs">E40</text>
<path d="M641.7,529.0 L643.5,529.9 Q648.0,528.3 652.5,529.9 L654.3,529.0 Q655.2,534.0 653.6,537.3 Q651.5,540.3 648.0,541.4 Q644.5,540.3 642.4,537.3 Q640.8,534.0 641.7,529.0 Z" fill="#8e8e8e" stroke="#ffffff" stroke-opacity="0.55" stroke-width="0.8"/>
<path d="M642.4,530.6 Q648.0,529.1 653.6,530.6 L653.9,532.4 L642.1,532.4 Z" fill="#a6a6a6"/>
<text x="648.0" y="537.6" font-size="5.6" font-weight="bold" fill="#e6e6e6" text-anchor="middle" textLength="8.6" lengthAdjust="spacingAndGlyphs">E45</text>
<path d="M558.5,556.7 L560.3,557.6 Q564.8,556.0 569.3,557.6 L571.1,556.7 Q572.0,561.7 570.4,565.0 Q568.3,568.0 564.8,569.1 Q561.3,568.0 559.2,565.0 Q557.6,561.7 558.5,556.7 Z" fill="#8e8e8e" stroke="#ffffff" stroke-opacity="0.55" stroke-width="0.8"/>
<path d="M559.2,558.3 Q564.8,556.8 570.4,558.3 L570.7,560.1 L558.9,560.1 Z" fill="#a6a6a6"/>
<text x="564.8" y="565.3" font-size="5.6" font-weight="bold" fill="#e6e6e6" text-anchor="middle" textLength="8.6" lengthAdjust="spacingAndGlyphs">E35</text>
<path d="M454.9,547.0 L456.7,547.9 Q461.2,546.3 465.7,547.9 L467.5,547.0 Q468.4,552.0 466.8,555.3 Q464.7,558.3 461.2,559.4 Q457.7,558.3 455.6,555.3 Q454.0,552.0 454.9,547.0 Z" fill="#8e8e8e" stroke="#ffffff" stroke-opacity="0.55" stroke-width="0.8"/>
<path d="M455.6,548.6 Q461.2,547.1 466.8,548.6 L467.1,550.4 L455.3,550.4 Z" fill="#a6a6a6"/>
<text x="461.2" y="555.6" font-size="5.6" font-weight="bold" fill="#e6e6e6" text-anchor="middle" textLength="8.6" lengthAdjust="spacingAndGlyphs">E25</text>
<path d="M434.6,588.8 L436.4,589.7 Q440.9,588.1 445.4,589.7 L447.2,588.8 Q448.1,593.8 446.5,597.1 Q444.4,600.1 440.9,601.2 Q437.4,600.1 435.3,597.1 Q433.7,593.8 434.6,588.8 Z" fill="#8e8e8e" stroke="#ffffff" stroke-opacity="0.55" stroke-width="0.8"/>
<path d="M435.3,590.4 Q440.9,588.9 446.5,590.4 L446.8,592.2 L435.0,592.2 Z" fill="#a6a6a6"/>
<text x="440.9" y="597.4" font-size="5.6" font-weight="bold" fill="#e6e6e6" text-anchor="middle" textLength="8.6" lengthAdjust="spacingAndGlyphs">E50</text>
<path d="M582.7,669.7 L584.5,670.6 Q589.0,669.0 593.5,670.6 L595.3,669.7 Q596.2,674.7 594.6,678.0 Q592.5,681.0 589.0,682.1 Q585.5,681.0 583.4,678.0 Q581.8,674.7 582.7,669.7 Z" fill="#8e8e8e" stroke="#ffffff" stroke-opacity="0.55" stroke-width="0.8"/>
<path d="M583.4,671.3 Q589.0,669.8 594.6,671.3 L594.9,673.1 L583.1,673.1 Z" fill="#a6a6a6"/>
<text x="589.0" y="678.3" font-size="5.6" font-weight="bold" fill="#e6e6e6" text-anchor="middle" textLength="8.6" lengthAdjust="spacingAndGlyphs">E45</text>
<path d="M699.7,409.5 L701.5,410.4 Q706.0,408.8 710.5,410.4 L712.3,409.5 Q713.2,414.5 711.6,417.8 Q709.5,420.8 706.0,421.9 Q702.5,420.8 700.4,417.8 Q698.8,414.5 699.7,409.5 Z" fill="#8e8e8e" stroke="#ffffff" stroke-opacity="0.55" stroke-width="0.8"/>
<path d="M700.4,411.1 Q706.0,409.6 711.6,411.1 L711.9,412.9 L700.1,412.9 Z" fill="#a6a6a6"/>
<text x="706.0" y="418.1" font-size="5.6" font-weight="bold" fill="#e6e6e6" text-anchor="middle" textLength="8.6" lengthAdjust="spacingAndGlyphs">E45</text>
<path d="M688.5,319.8 L690.3,320.7 Q694.8,319.1 699.3,320.7 L701.1,319.8 Q702.0,324.8 700.4,328.1 Q698.3,331.1 694.8,332.2 Q691.3,331.1 689.2,328.1 Q687.6,324.8 688.5,319.8 Z" fill="#8e8e8e" stroke="#ffffff" stroke-opacity="0.55" stroke-width="0.8"/>
<path d="M689.2,321.4 Q694.8,319.9 700.4,321.4 L700.7,323.2 L688.9,323.2 Z" fill="#a6a6a6"/>
<text x="694.8" y="328.4" font-size="5.6" font-weight="bold" fill="#e6e6e6" text-anchor="middle" textLength="8.6" lengthAdjust="spacingAndGlyphs">E30</text>
<path d="M360.7,805.7 L362.5,806.6 Q367.0,805.0 371.5,806.6 L373.3,805.7 Q374.2,810.7 372.6,814.0 Q370.5,817.0 367.0,818.1 Q363.5,817.0 361.4,814.0 Q359.8,810.7 360.7,805.7 Z" fill="#8e8e8e" stroke="#ffffff" stroke-opacity="0.55" stroke-width="0.8"/>
<path d="M361.4,807.3 Q367.0,805.8 372.6,807.3 L372.9,809.1 L361.1,809.1 Z" fill="#a6a6a6"/>
<text x="367.0" y="814.3" font-size="5.6" font-weight="bold" fill="#e6e6e6" text-anchor="middle" textLength="8.6" lengthAdjust="spacingAndGlyphs">1N</text>
<path d="M366.2,841.8 L368.0,842.7 Q372.5,841.1 377.0,842.7 L378.8,841.8 Q379.7,846.8 378.1,850.1 Q376.0,853.1 372.5,854.2 Q369.0,853.1 366.9,850.1 Q365.3,846.8 366.2,841.8 Z" fill="#8e8e8e" stroke="#ffffff" stroke-opacity="0.55" stroke-width="0.8"/>
<path d="M366.9,843.4 Q372.5,841.9 378.1,843.4 L378.4,845.2 L366.6,845.2 Z" fill="#a6a6a6"/>
<text x="372.5" y="850.4" font-size="5.6" font-weight="bold" fill="#e6e6e6" text-anchor="middle" textLength="8.6" lengthAdjust="spacingAndGlyphs">1NJ</text>
<path d="M337.2,441.0 L339.0,441.9 Q343.5,440.3 348.0,441.9 L349.8,441.0 Q350.7,446.0 349.1,449.3 Q347.0,452.3 343.5,453.4 Q340.0,452.3 337.9,449.3 Q336.3,446.0 337.2,441.0 Z" fill="#8e8e8e" stroke="#ffffff" stroke-opacity="0.55" stroke-width="0.8"/>
<path d="M337.9,442.6 Q343.5,441.1 349.1,442.6 L349.4,444.4 L337.6,444.4 Z" fill="#a6a6a6"/>
<text x="343.5" y="449.6" font-size="5.6" font-weight="bold" fill="#e6e6e6" text-anchor="middle" textLength="8.6" lengthAdjust="spacingAndGlyphs">E40</text>
<path d="M336.2,261.7 L338.0,262.6 Q342.5,261.0 347.0,262.6 L348.8,261.7 Q349.7,266.7 348.1,270.0 Q346.0,273.0 342.5,274.1 Q339.0,273.0 336.9,270.0 Q335.3,266.7 336.2,261.7 Z" fill="#8e8e8e" stroke="#ffffff" stroke-opacity="0.55" stroke-width="0.8"/>
<path d="M336.9,263.3 Q342.5,261.8 348.1,263.3 L348.4,265.1 L336.6,265.1 Z" fill="#a6a6a6"/>
<text x="342.5" y="270.3" font-size="5.6" font-weight="bold" fill="#e6e6e6" text-anchor="middle" textLength="8.6" lengthAdjust="spacingAndGlyphs">E15</text>
<path d="M312.9,307.0 L314.7,307.9 Q319.2,306.3 323.7,307.9 L325.5,307.0 Q326.4,312.0 324.8,315.3 Q322.7,318.3 319.2,319.4 Q315.7,318.3 313.6,315.3 Q312.0,312.0 312.9,307.0 Z" fill="#8e8e8e" stroke="#ffffff" stroke-opacity="0.55" stroke-width="0.8"/>
<path d="M313.6,308.6 Q319.2,307.1 324.8,308.6 L325.1,310.4 L313.3,310.4 Z" fill="#a6a6a6"/>
<text x="319.2" y="315.6" font-size="5.6" font-weight="bold" fill="#e6e6e6" text-anchor="middle" textLength="8.6" lengthAdjust="spacingAndGlyphs">E15</text>
<circle cx="366.0" cy="203.8" r="1.3" fill="#5a5a5a"/>
<circle cx="412.5" cy="218.5" r="1.3" fill="#5a5a5a"/>
<circle cx="361.3" cy="268.6" r="1.3" fill="#5a5a5a"/>
<circle cx="501.7" cy="262.0" r="1.3" fill="#5a5a5a"/>
<circle cx="350.5" cy="302.6" r="1.3" fill="#5a5a5a"/>
<circle cx="483.4" cy="421.6" r="1.3" fill="#5a5a5a"/>
<circle cx="451.6" cy="427.8" r="1.3" fill="#5a5a5a"/>
<circle cx="431.3" cy="581.2" r="1.3" fill="#5a5a5a"/>
<circle cx="431.3" cy="607.4" r="1.3" fill="#5a5a5a"/>
<circle cx="365.3" cy="622.2" r="1.3" fill="#5a5a5a"/>
<circle cx="710.0" cy="326.4" r="1.3" fill="#5a5a5a"/>
<circle cx="246.0" cy="768.2" r="1.3" fill="#5a5a5a"/>
<circle cx="327.0" cy="814.7" r="1.3" fill="#5a5a5a"/>
<circle cx="269.6" cy="842.0" r="1.3" fill="#5a5a5a"/>
<circle cx="337.0" cy="855.5" r="1.3" fill="#5a5a5a"/>
<circle cx="922.0" cy="46.7" r="1.3" fill="#5a5a5a"/>
<circle cx="732.5" cy="248.0" r="1.3" fill="#5a5a5a"/>
<circle cx="619.4" cy="295.3" r="1.3" fill="#5a5a5a"/>
<circle cx="618.2" cy="354.0" r="1.3" fill="#5a5a5a"/>
<circle cx="621.0" cy="250.5" r="1.3" fill="#5a5a5a"/>
<circle cx="568.0" cy="528.0" r="1.3" fill="#5a5a5a"/>
<circle cx="588.5" cy="421.3" r="1.3" fill="#5a5a5a"/>
<circle cx="588.5" cy="507.0" r="1.3" fill="#5a5a5a"/>
<rect x="635.3" y="146" width="3.4" height="3.4" fill="#4a4a4a"/>
<text x="677.0" y="7.7" font-size="7.6" fill="#a6a6a6" textLength="29.0" lengthAdjust="spacingAndGlyphs">CARCHI</text>
<text x="482.0" y="23.7" font-size="7.6" fill="#a6a6a6" textLength="52.0" lengthAdjust="spacingAndGlyphs">ESMERALDAS</text>
<text x="643.7" y="49.7" font-size="7.6" fill="#a6a6a6" textLength="40.8" lengthAdjust="spacingAndGlyphs">IMBABURA</text>
<text x="641.2" y="69.1" font-size="8.6" fill="#333333" textLength="38.4" lengthAdjust="spacingAndGlyphs">Atuntaqui</text>
<text x="697.3" y="63.4" font-size="8.6" fill="#5a5a5a" textLength="24.0" lengthAdjust="spacingAndGlyphs">Ibarra</text>
<text x="674.7" y="95.8" font-size="8.6" fill="#333333" textLength="29.3" lengthAdjust="spacingAndGlyphs">Otavalo</text>
<text x="690.7" y="116.1" font-size="8.6" fill="#333333" textLength="35.5" lengthAdjust="spacingAndGlyphs">Cayambe</text>
<text x="640.8" y="144.1" font-size="12.5" fill="#4a4a4a" textLength="28.8" lengthAdjust="spacingAndGlyphs">Quito</text>
<text x="615.3" y="168.7" font-size="7.6" fill="#a6a6a6" textLength="43.2" lengthAdjust="spacingAndGlyphs">PICHINCHA</text>
<text x="535.0" y="151.3" font-size="7.6" fill="#a6a6a6" textLength="28.0" lengthAdjust="spacingAndGlyphs">SANTO</text>
<text x="514.5" y="160.2" font-size="7.6" fill="#a6a6a6" textLength="69.5" lengthAdjust="spacingAndGlyphs">DOMINGO DE LOS</text>
<text x="528.5" y="169.2" font-size="7.6" fill="#a6a6a6" textLength="41.5" lengthAdjust="spacingAndGlyphs">TSÁCHILAS</text>
<text x="443.0" y="64.9" font-size="8.2" fill="#8e8e8e" font-style="italic" textLength="26.0" lengthAdjust="spacingAndGlyphs">Mache</text>
<text x="441.5" y="73.3" font-size="8.2" fill="#8e8e8e" font-style="italic" textLength="29.0" lengthAdjust="spacingAndGlyphs">Chindul</text>
<text x="368.6" y="191.8" font-size="8.6" fill="#5a5a5a" textLength="33.4" lengthAdjust="spacingAndGlyphs">Bahía de</text>
<text x="368.6" y="201.8" font-size="8.6" fill="#5a5a5a" textLength="36.1" lengthAdjust="spacingAndGlyphs">Caráquez</text>
<text x="370.0" y="211.5" font-size="8.2" fill="#8e8e8e" font-style="italic" textLength="10.4" lengthAdjust="spacingAndGlyphs">Río</text>
<text x="364.0" y="219.4" font-size="8.2" fill="#8e8e8e" font-style="italic" textLength="21.6" lengthAdjust="spacingAndGlyphs">Chone</text>
<text x="415.0" y="214.9" font-size="8.6" fill="#5a5a5a" textLength="25.3" lengthAdjust="spacingAndGlyphs">Chone</text>
<text x="394.3" y="237.4" font-size="7.6" fill="#a6a6a6" textLength="30.9" lengthAdjust="spacingAndGlyphs">MANABÍ</text>
<text x="330.0" y="254.1" font-size="8.6" fill="#5a5a5a" textLength="27.0" lengthAdjust="spacingAndGlyphs">Manta</text>
<text x="363.9" y="264.7" font-size="8.6" fill="#5a5a5a" textLength="43.1" lengthAdjust="spacingAndGlyphs">Portoviejo</text>
<text x="504.3" y="258.6" font-size="8.6" fill="#5a5a5a" textLength="37.7" lengthAdjust="spacingAndGlyphs">Quevedo</text>
<text x="543.4" y="240.7" font-size="7.6" fill="#a6a6a6" textLength="40.1" lengthAdjust="spacingAndGlyphs">COTOPAXI</text>
<text x="623.6" y="248.4" font-size="8.6" fill="#5a5a5a" textLength="40.4" lengthAdjust="spacingAndGlyphs">Latacunga</text>
<text x="639.5" y="210.6" font-size="8.2" fill="#8e8e8e" font-style="italic" textLength="26.0" lengthAdjust="spacingAndGlyphs">Parque</text>
<text x="638.0" y="219.5" font-size="8.2" fill="#8e8e8e" font-style="italic" textLength="29.0" lengthAdjust="spacingAndGlyphs">nacional</text>
<text x="637.0" y="227.7" font-size="8.2" fill="#8e8e8e" font-style="italic" textLength="31.0" lengthAdjust="spacingAndGlyphs">Cotopaxi</text>
<text x="353.5" y="299.3" font-size="8.6" fill="#5a5a5a" textLength="28.5" lengthAdjust="spacingAndGlyphs">Jipijapa</text>
<text x="416.9" y="304.5" font-size="8.6" fill="#5a5a5a" textLength="22.9" lengthAdjust="spacingAndGlyphs">Balzar</text>
<text x="471.0" y="314.5" font-size="7.6" fill="#a6a6a6" textLength="34.0" lengthAdjust="spacingAndGlyphs">LOS RÍOS</text>
<text x="437.7" y="337.5" font-size="8.6" fill="#5a5a5a" textLength="24.3" lengthAdjust="spacingAndGlyphs">Vinces</text>
<text x="484.3" y="333.5" font-size="8.6" fill="#5a5a5a" textLength="34.7" lengthAdjust="spacingAndGlyphs">Ventanas</text>
<text x="496.5" y="372.1" font-size="8.6" fill="#5a5a5a" textLength="40.5" lengthAdjust="spacingAndGlyphs">Babahoyo</text>
<text x="430.4" y="380.9" font-size="8.6" fill="#5a5a5a" textLength="21.2" lengthAdjust="spacingAndGlyphs">Daule</text>
<text x="468.0" y="396.4" font-size="8.6" fill="#5a5a5a" textLength="55.0" lengthAdjust="spacingAndGlyphs">Samborondon</text>
<text x="399.0" y="400.7" font-size="7.6" fill="#a6a6a6" textLength="31.0" lengthAdjust="spacingAndGlyphs">GUAYAS</text>
<text x="322.0" y="413.7" font-size="7.6" fill="#a6a6a6" textLength="52.0" lengthAdjust="spacingAndGlyphs">SANTA ELENA</text>
<text x="386.0" y="421.7" font-size="12.5" fill="#5a5a5a" textLength="50.0" lengthAdjust="spacingAndGlyphs">Guayaquil</text>
<text x="485.9" y="419.0" font-size="8.6" fill="#5a5a5a" textLength="32.1" lengthAdjust="spacingAndGlyphs">Milagro</text>
<text x="454.8" y="440.1" font-size="8.6" fill="#5a5a5a" textLength="44.6" lengthAdjust="spacingAndGlyphs">Eloy Alfaro</text>
<text x="386.5" y="494.9" font-size="8.2" fill="#8e8e8e" font-style="italic" textLength="22.5" lengthAdjust="spacingAndGlyphs">Canal</text>
<text x="392.0" y="503.7" font-size="8.2" fill="#8e8e8e" font-style="italic" textLength="11.5" lengthAdjust="spacingAndGlyphs">del</text>
<text x="386.5" y="512.4" font-size="8.2" fill="#8e8e8e" font-style="italic" textLength="22.5" lengthAdjust="spacingAndGlyphs">Morro</text>
<text x="389.0" y="536.2" font-size="8.2" fill="#8e8e8e" font-style="italic" textLength="17.5" lengthAdjust="spacingAndGlyphs">Puná</text>
<text x="415.5" y="542.4" font-size="8.2" fill="#8e8e8e" font-style="italic" textLength="30.5" lengthAdjust="spacingAndGlyphs">Canal de</text>
<text x="417.5" y="550.6" font-size="8.2" fill="#8e8e8e" font-style="italic" textLength="26.5" lengthAdjust="spacingAndGlyphs">Jambelí</text>
<text x="623.0" y="293.1" font-size="8.6" fill="#5a5a5a" textLength="32.8" lengthAdjust="spacingAndGlyphs">Ambato</text>
<text x="620.0" y="318.1" font-size="7.6" fill="#a6a6a6" textLength="54.0" lengthAdjust="spacingAndGlyphs">TUNGURAHUA</text>
<text x="607.0" y="336.4" font-size="7.6" fill="#a6a6a6" textLength="49.4" lengthAdjust="spacingAndGlyphs">CHIMBORAZO</text>
<text x="621.0" y="350.1" font-size="8.6" fill="#333333" textLength="42.0" lengthAdjust="spacingAndGlyphs">Riobamba</text>
<text x="543.0" y="346.2" font-size="7.6" fill="#a6a6a6" textLength="33.0" lengthAdjust="spacingAndGlyphs">BOLÍVAR</text>
<text x="712.6" y="324.1" font-size="8.6" fill="#5a5a5a" textLength="19.3" lengthAdjust="spacingAndGlyphs">Puyo</text>
<text x="663.3" y="374.9" font-size="8.2" fill="#5e5e5e" font-style="italic" textLength="26.7" lengthAdjust="spacingAndGlyphs">Sangay</text>
<text x="659.5" y="401.9" font-size="8.2" fill="#5e5e5e" font-style="italic" textLength="25.5" lengthAdjust="spacingAndGlyphs">Parque</text>
<text x="657.0" y="410.5" font-size="8.2" fill="#5e5e5e" font-style="italic" textLength="30.5" lengthAdjust="spacingAndGlyphs">nacional</text>
<text x="659.5" y="418.9" font-size="8.2" fill="#5e5e5e" font-style="italic" textLength="25.5" lengthAdjust="spacingAndGlyphs">Sangay</text>
<text x="695.0" y="442.4" font-size="8.6" fill="#222222" textLength="24.0" lengthAdjust="spacingAndGlyphs">Macas</text>
<text x="694.0" y="469.6" font-size="7.6" fill="#6c6c6c" textLength="79.7" lengthAdjust="spacingAndGlyphs">MORONA SANTIAGO</text>
<text x="847.0" y="360.6" font-size="7.6" fill="#6c6c6c" textLength="34.5" lengthAdjust="spacingAndGlyphs">PASTAZA</text>
<text x="898.7" y="319.9" font-size="8.2" fill="#5e5e5e" font-style="italic" textLength="89.0" lengthAdjust="spacingAndGlyphs">Parque nacional Yasuni</text>
<text x="564.8" y="417.8" font-size="8.6" fill="#5a5a5a" textLength="24.2" lengthAdjust="spacingAndGlyphs">Alausí</text>
<text x="543.0" y="473.6" font-size="7.6" fill="#a6a6a6" textLength="27.0" lengthAdjust="spacingAndGlyphs">CAÑAR</text>
<text x="555.6" y="503.8" font-size="8.6" fill="#5a5a5a" textLength="33.4" lengthAdjust="spacingAndGlyphs">Azogues</text>
<text x="570.0" y="538.8" font-size="8.6" fill="#5a5a5a" textLength="32.0" lengthAdjust="spacingAndGlyphs">Cuenca</text>
<text x="521.0" y="558.5" font-size="7.6" fill="#a6a6a6" textLength="26.0" lengthAdjust="spacingAndGlyphs">AZUAY</text>
<text x="434.3" y="577.9" font-size="8.6" fill="#5a5a5a" textLength="34.7" lengthAdjust="spacingAndGlyphs">Machala</text>
<text x="390.0" y="604.3" font-size="8.6" fill="#5a5a5a" textLength="40.8" lengthAdjust="spacingAndGlyphs">Santa Rosa</text>
<text x="437.2" y="613.4" font-size="7.6" fill="#a6a6a6" textLength="27.5" lengthAdjust="spacingAndGlyphs">EL ORO</text>
<text x="367.9" y="619.6" font-size="8.6" fill="#5a5a5a" textLength="29.5" lengthAdjust="spacingAndGlyphs">Tumbes</text>
<text x="494.2" y="630.0" font-size="8.6" fill="#5a5a5a" textLength="77.8" lengthAdjust="spacingAndGlyphs">Veintiocho de Mayo</text>
<text x="337.0" y="674.8" font-size="8.6" fill="#a0a0a0" textLength="34.4" lengthAdjust="spacingAndGlyphs">TUMBES</text>
<text x="330.0" y="686.5" font-size="8.2" fill="#8e8e8e" font-style="italic" textLength="28.0" lengthAdjust="spacingAndGlyphs">Parque</text>
<text x="326.0" y="695.3" font-size="8.2" fill="#8e8e8e" font-style="italic" textLength="34.0" lengthAdjust="spacingAndGlyphs">Nacional</text>
<text x="324.0" y="703.9" font-size="8.2" fill="#8e8e8e" font-style="italic" textLength="36.0" lengthAdjust="spacingAndGlyphs">Cerros de</text>
<text x="326.0" y="712.2" font-size="8.2" fill="#8e8e8e" font-style="italic" textLength="34.0" lengthAdjust="spacingAndGlyphs">Amotape</text>
<text x="444.5" y="710.3" font-size="7.6" fill="#a6a6a6" textLength="17.5" lengthAdjust="spacingAndGlyphs">LOJA</text>
<text x="541.8" y="684.7" font-size="8.6" fill="#5a5a5a" textLength="15.9" lengthAdjust="spacingAndGlyphs">Loja</text>
<text x="543.7" y="704.8" font-size="8.6" fill="#333333" textLength="30.9" lengthAdjust="spacingAndGlyphs">Zamora</text>
<text x="434.5" y="737.4" font-size="8.6" fill="#5a5a5a" textLength="29.0" lengthAdjust="spacingAndGlyphs">Macara</text>
<text x="484.5" y="737.4" font-size="8.6" fill="#5a5a5a" textLength="47.3" lengthAdjust="spacingAndGlyphs">Cariamanga</text>
<text x="561.0" y="719.7" font-size="8.2" fill="#5e5e5e" font-style="italic" textLength="24.5" lengthAdjust="spacingAndGlyphs">Parque</text>
<text x="558.5" y="728.9" font-size="8.2" fill="#5e5e5e" font-style="italic" textLength="29.5" lengthAdjust="spacingAndGlyphs">nacional</text>
<text x="554.5" y="737.5" font-size="8.2" fill="#5e5e5e" font-style="italic" textLength="37.5" lengthAdjust="spacingAndGlyphs">Podocarpus</text>
<text x="520.6" y="765.7" font-size="7.6" fill="#6c6c6c" textLength="80.4" lengthAdjust="spacingAndGlyphs">ZAMORA-CHINCHIPE</text>
<text x="655.7" y="775.7" font-size="7.8" fill="#8c8c8c" textLength="52.0" lengthAdjust="spacingAndGlyphs">AMAZONAS</text>
<text x="249.0" y="764.7" font-size="8.6" fill="#5a5a5a" textLength="23.2" lengthAdjust="spacingAndGlyphs">Talara</text>
<text x="330.0" y="811.4" font-size="8.6" fill="#5a5a5a" textLength="29.4" lengthAdjust="spacingAndGlyphs">Sullana</text>
<text x="379.0" y="814.9" font-size="8.6" fill="#5a5a5a" textLength="58.6" lengthAdjust="spacingAndGlyphs">Tambo Grande</text>
<text x="381.0" y="836.5" font-size="7.6" fill="#a6a6a6" textLength="25.6" lengthAdjust="spacingAndGlyphs">PIURA</text>
<text x="272.6" y="839.5" font-size="8.6" fill="#5a5a5a" textLength="18.7" lengthAdjust="spacingAndGlyphs">Paita</text>
<text x="316.0" y="851.9" font-size="8.6" fill="#5a5a5a" textLength="20.4" lengthAdjust="spacingAndGlyphs">Piura</text>
<text x="404.8" y="851.6" font-size="8.6" fill="#5a5a5a" textLength="44.6" lengthAdjust="spacingAndGlyphs">Chulucanas</text>
<text x="1137.0" y="721.2" font-size="7.6" fill="#a6a6a6" textLength="69.0" lengthAdjust="spacingAndGlyphs">DEPARTAMENTO</text>
<text x="924.8" y="43.6" font-size="8.6" fill="#5a5a5a" textLength="43.2" lengthAdjust="spacingAndGlyphs">Puerto Asís</text>
<text x="1042.0" y="72.5" font-size="7.6" fill="#a6a6a6" textLength="49.5" lengthAdjust="spacingAndGlyphs">PUTUMAYO</text>
<text x="1063.0" y="99.5" font-size="8.2" fill="#8e8e8e" font-style="italic" textLength="93.4" lengthAdjust="spacingAndGlyphs">Parque nacional La Paya</text>
<text x="837.0" y="100.9" font-size="7.6" fill="#474747" textLength="46.4" lengthAdjust="spacingAndGlyphs">SUCUMBÍOS</text>
<text x="866.3" y="114.7" font-size="8.6" fill="#0e0e0e" textLength="42.7" lengthAdjust="spacingAndGlyphs">Lago Agrio</text>
<text x="935.0" y="134.7" font-size="8.2" fill="#161616" font-style="italic" textLength="56.0" lengthAdjust="spacingAndGlyphs">Reserva natural</text>
<text x="945.0" y="143.7" font-size="8.2" fill="#161616" font-style="italic" textLength="36.0" lengthAdjust="spacingAndGlyphs">Cuyabeno</text>
<text x="823.0" y="202.7" font-size="7.6" fill="#333333" textLength="22.0" lengthAdjust="spacingAndGlyphs">NAPO</text>
<text x="779.0" y="226.7" font-size="7.6" fill="#333333" textLength="41.5" lengthAdjust="spacingAndGlyphs">ORELLANA</text>
<text x="733.7" y="246.9" font-size="8.6" fill="#222222" textLength="18.3" lengthAdjust="spacingAndGlyphs">Tena</text>
<text x="1167.0" y="143.9" font-size="8.6" fill="#5a5a5a" textLength="38.0" lengthAdjust="spacingAndGlyphs">Leguízamo</text>
<text x="7.0" y="739.8" font-size="18" fill="#707070" font-style="italic" textLength="75.0" lengthAdjust="spacingAndGlyphs">Pacífico</text>
<text x="-1.0" y="340.4" font-size="18" fill="#707070" font-style="italic" textLength="61.0" lengthAdjust="spacingAndGlyphs">Pacífico</text>
<text x="313.0" y="329.9" font-size="8.2" fill="#8e8e8e" font-style="italic" textLength="24.0" lengthAdjust="spacingAndGlyphs">Parque</text>
<text x="310.0" y="338.4" font-size="8.2" fill="#8e8e8e" font-style="italic" textLength="30.0" lengthAdjust="spacingAndGlyphs">nacional</text>
<text x="306.0" y="346.9" font-size="8.2" fill="#8e8e8e" font-style="italic" textLength="36.0" lengthAdjust="spacingAndGlyphs">Machalilla</text>
<text x="261.0" y="432.1" font-size="8.6" fill="#5a5a5a" textLength="42.0" lengthAdjust="spacingAndGlyphs">Santa Elena</text>
<text x="939.9" y="26.7" font-size="16" font-weight="bold" fill="#0a0a0a" textLength="75.2" lengthAdjust="spacingAndGlyphs">Colombia</text>
<text x="953.0" y="509.8" font-size="16" font-weight="bold" fill="#0a0a0a" textLength="80.5" lengthAdjust="spacingAndGlyphs">Amazonas</text>
<text x="297.7" y="777.6" font-size="15.8" font-weight="bold" fill="#0a0a0a" textLength="33.1" lengthAdjust="spacingAndGlyphs">Perú</text>
<path d="M18,828.6 L21.7,830 L21.7,842 L27.5,838.6 L24.6,837.3 L23,833.4 L32.3,836.6 L32.3,840.6 L21.4,846.6 L18,844.4 Z" fill="#4e4e4e" stroke="#ffffff" stroke-opacity="0.55" stroke-width="1.6" paint-order="stroke"/>
<text x="37" y="843.1" font-size="14.6" fill="#4e4e4e" stroke="#ffffff" stroke-opacity="0.55" stroke-width="1.6" paint-order="stroke" textLength="27.3" lengthAdjust="spacingAndGlyphs">bing</text>
<text x="1064" y="854.6" font-size="8.8" fill="#111111" stroke="#ffffff" stroke-opacity="0.5" stroke-width="1.2" paint-order="stroke" textLength="51.8" lengthAdjust="spacingAndGlyphs">© 2017 HERE</text>
<text x="1122" y="854.6" font-size="8.8" fill="#111111" stroke="#ffffff" stroke-opacity="0.5" stroke-width="1.2" paint-order="stroke" textLength="36.5" lengthAdjust="spacingAndGlyphs">Microsoft</text>
<text x="1164.3" y="854.6" font-size="8.8" fill="#111111" stroke="#ffffff" stroke-opacity="0.5" stroke-width="1.2" paint-order="stroke">Nav</text></g>
</svg>
<div class="panel" style="left:7px;top:32px;width:335px;height:132px"></div>
<div class="panel" style="left:7px;top:169px;width:335px;height:553px"></div>
<div class="ttl">Tasa de Letalidad x 100 Accidentes de Tránsito</div>
<div class="hr"></div>
<div class="grad"></div>
<div class="lg" style="left:15.5px">10,89</div>
<div class="lg" style="right:839px">55,56</div>
<div class="gl" style="top:282.0px;background:#7a7a7a"></div>
<div class="yl" style="top:275.9px">60</div>
<div class="gl" style="top:330.1px;background:#7a7a7a"></div>
<div class="yl" style="top:324.0px">50</div>
<div class="gl" style="top:378.2px;background:#7a7a7a"></div>
<div class="yl" style="top:372.1px">40</div>
<div class="gl" style="top:426.3px;background:#7a7a7a"></div>
<div class="yl" style="top:420.2px">30</div>
<div class="gl" style="top:474.5px;background:#7a7a7a"></div>
<div class="yl" style="top:468.4px">20</div>
<div class="gl" style="top:522.6px;background:#e6e6e6"></div>
<div class="yl" style="top:516.5px">10</div>
<div class="gl" style="top:570.7px;background:#6e6e6e"></div>
<div class="yl" style="top:564.6px">0</div>
<div class="bar" style="left:54.6px;top:304.5px;height:264.9px"></div>
<div class="cl" style="left:71.9px">SUCUMBÍOS</div>
<div class="bar" style="left:100.6px;top:353.7px;height:215.7px"></div>
<div class="cl" style="left:117.9px">ORELLANA</div>
<div class="bar" style="left:146.6px;top:461.5px;height:107.9px"></div>
<div class="cl" style="left:163.9px">MORONA SANTIAGO</div>
<div class="bar" style="left:192.8px;top:494.4px;height:75.0px"></div>
<div class="cl" style="left:210.1px">PASTAZA</div>
<div class="bar" style="left:239.6px;top:516.1px;height:53.3px"></div>
<div class="cl" style="left:256.9px">NAPO</div>
<div class="bar" style="left:285.8px;top:520.4px;height:49.0px"></div>
<div class="cl" style="left:303.1px">ZAMORA CHINCHIPE</div>
<div style="position:absolute;left:0;top:0;width:1173px;height:1px;background:#d6d6d6"></div>
</div>
<div style="position:absolute;left:0;top:862px;width:1173px;height:1px;background:#217346"></div>
</body></html>
